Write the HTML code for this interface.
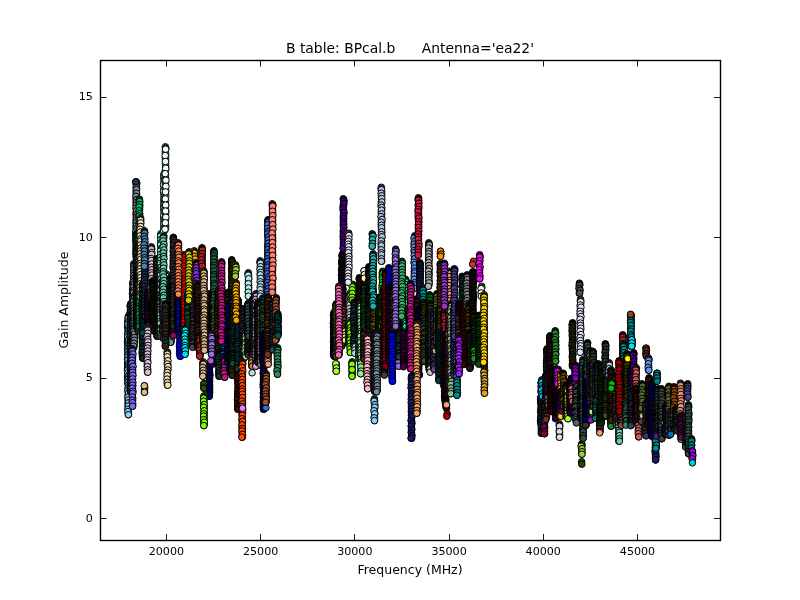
<!DOCTYPE html>
<html><head><meta charset="utf-8"><title>B table: BPcal.b Antenna='ea22'</title>
<style>
html,body{margin:0;padding:0;background:#fff;width:800px;height:600px;overflow:hidden}
svg{display:block}
circle{r:3.3px}
text{font-family:"DejaVu Sans","Liberation Sans",sans-serif;fill:#000}
</style></head><body>
<svg width="800" height="600" viewBox="0 0 800 600">
<rect width="800" height="600" fill="#fff"/>
<svg x="100" y="60" width="620" height="480" viewBox="100 60 620 480" overflow="hidden">
<g stroke="#000" stroke-width="1">
<g fill="#003030"><circle cx="128.0" cy="321.3"/><circle cx="127.9" cy="322.1"/><circle cx="128.3" cy="322.9"/><circle cx="128.4" cy="323.7"/><circle cx="127.9" cy="324.6"/><circle cx="127.6" cy="327.0"/><circle cx="128.2" cy="328.5"/><circle cx="128.4" cy="329.0"/><circle cx="128.3" cy="331.0"/><circle cx="128.3" cy="332.0"/><circle cx="128.3" cy="333.9"/><circle cx="127.8" cy="334.8"/><circle cx="127.9" cy="336.6"/><circle cx="127.8" cy="337.6"/><circle cx="128.0" cy="339.9"/><circle cx="127.8" cy="341.1"/><circle cx="127.5" cy="342.1"/><circle cx="127.8" cy="343.6"/><circle cx="128.4" cy="345.6"/><circle cx="128.1" cy="346.8"/><circle cx="127.9" cy="347.9"/><circle cx="127.8" cy="349.5"/><circle cx="128.4" cy="350.6"/><circle cx="128.4" cy="351.8"/><circle cx="127.7" cy="354.2"/><circle cx="128.1" cy="354.8"/><circle cx="127.8" cy="355.9"/><circle cx="128.3" cy="358.4"/><circle cx="127.6" cy="359.4"/><circle cx="127.9" cy="360.5"/><circle cx="127.8" cy="362.4"/><circle cx="127.9" cy="364.0"/><circle cx="127.8" cy="364.5"/><circle cx="128.0" cy="366.2"/><circle cx="127.9" cy="367.4"/><circle cx="127.5" cy="368.8"/><circle cx="127.6" cy="370.5"/><circle cx="127.6" cy="371.9"/><circle cx="128.0" cy="373.9"/><circle cx="128.0" cy="375.3"/><circle cx="127.7" cy="376.9"/><circle cx="128.0" cy="378.2"/><circle cx="128.2" cy="378.9"/><circle cx="128.1" cy="380.6"/><circle cx="128.1" cy="382.5"/><circle cx="128.2" cy="383.5"/><circle cx="128.4" cy="385.0"/></g>
<g fill="#87cefa"><circle cx="128.6" cy="315.8"/><circle cx="128.5" cy="316.6"/><circle cx="128.4" cy="317.4"/><circle cx="128.3" cy="318.2"/><circle cx="128.1" cy="320.2"/><circle cx="128.3" cy="322.2"/><circle cx="128.4" cy="324.2"/><circle cx="128.5" cy="326.2"/><circle cx="128.2" cy="328.3"/><circle cx="128.4" cy="330.3"/><circle cx="128.3" cy="332.3"/><circle cx="128.3" cy="334.3"/><circle cx="128.5" cy="336.3"/><circle cx="128.2" cy="338.3"/><circle cx="128.1" cy="340.3"/><circle cx="128.1" cy="342.3"/><circle cx="128.2" cy="344.3"/><circle cx="128.2" cy="346.3"/><circle cx="128.3" cy="348.4"/><circle cx="128.4" cy="350.4"/><circle cx="128.4" cy="352.4"/><circle cx="128.3" cy="354.4"/><circle cx="128.1" cy="356.4"/><circle cx="128.4" cy="358.4"/><circle cx="128.4" cy="360.4"/><circle cx="128.4" cy="362.4"/><circle cx="128.2" cy="364.4"/><circle cx="128.3" cy="366.4"/><circle cx="128.1" cy="368.5"/><circle cx="128.3" cy="370.5"/><circle cx="128.4" cy="372.5"/><circle cx="128.1" cy="374.5"/><circle cx="128.4" cy="376.5"/><circle cx="128.5" cy="378.5"/><circle cx="128.4" cy="380.5"/><circle cx="128.4" cy="382.5"/><circle cx="128.4" cy="384.5"/><circle cx="128.4" cy="386.6"/><circle cx="128.4" cy="388.6"/><circle cx="128.1" cy="390.6"/><circle cx="128.5" cy="392.6"/><circle cx="128.1" cy="394.6"/><circle cx="128.3" cy="396.6"/><circle cx="128.1" cy="398.6"/><circle cx="128.2" cy="400.6"/><circle cx="128.1" cy="402.6"/><circle cx="128.1" cy="404.6"/><circle cx="128.2" cy="406.7"/><circle cx="128.3" cy="408.7"/><circle cx="128.4" cy="410.7"/><circle cx="128.4" cy="412.7"/><circle cx="128.4" cy="414.7"/><circle cx="128.2" cy="318.2"/><circle cx="128.6" cy="321.2"/><circle cx="127.9" cy="324.2"/><circle cx="128.8" cy="326.8"/><circle cx="128.7" cy="330.3"/><circle cx="128.1" cy="333.5"/><circle cx="127.9" cy="336.5"/><circle cx="128.7" cy="339.5"/><circle cx="128.4" cy="342.9"/><circle cx="128.3" cy="345.3"/><circle cx="128.1" cy="348.6"/><circle cx="128.3" cy="351.1"/><circle cx="128.0" cy="354.5"/><circle cx="128.0" cy="357.0"/><circle cx="127.9" cy="360.1"/><circle cx="128.7" cy="363.4"/><circle cx="128.6" cy="366.5"/><circle cx="127.9" cy="369.7"/><circle cx="127.9" cy="372.9"/><circle cx="128.6" cy="375.7"/><circle cx="128.5" cy="378.9"/><circle cx="128.1" cy="382.1"/><circle cx="128.5" cy="384.7"/><circle cx="128.2" cy="387.9"/><circle cx="127.9" cy="390.4"/><circle cx="128.5" cy="393.0"/><circle cx="128.0" cy="397.2"/><circle cx="128.6" cy="399.8"/><circle cx="128.7" cy="402.8"/><circle cx="128.3" cy="406.0"/><circle cx="127.9" cy="409.3"/><circle cx="127.9" cy="411.6"/><circle cx="128.4" cy="414.7"/></g>
<g fill="#1c2c2c"><circle cx="130.7" cy="303.8"/><circle cx="130.8" cy="304.6"/><circle cx="130.3" cy="305.4"/><circle cx="130.6" cy="306.2"/><circle cx="130.6" cy="308.2"/><circle cx="130.5" cy="310.2"/><circle cx="130.6" cy="312.3"/><circle cx="130.3" cy="314.3"/><circle cx="130.5" cy="316.3"/><circle cx="130.6" cy="318.3"/><circle cx="130.6" cy="320.4"/><circle cx="130.4" cy="322.4"/><circle cx="130.7" cy="324.4"/><circle cx="130.7" cy="326.4"/><circle cx="130.6" cy="328.5"/><circle cx="130.5" cy="330.5"/><circle cx="130.3" cy="332.5"/><circle cx="130.4" cy="334.5"/><circle cx="130.7" cy="336.6"/><circle cx="130.7" cy="338.6"/><circle cx="130.4" cy="340.6"/><circle cx="130.3" cy="342.6"/><circle cx="130.3" cy="344.7"/><circle cx="130.5" cy="346.7"/><circle cx="130.6" cy="348.7"/><circle cx="130.6" cy="350.7"/><circle cx="130.3" cy="352.7"/><circle cx="130.4" cy="354.8"/><circle cx="130.5" cy="356.8"/><circle cx="130.5" cy="358.8"/><circle cx="130.4" cy="360.8"/><circle cx="130.5" cy="362.9"/><circle cx="130.4" cy="364.9"/><circle cx="130.4" cy="366.9"/><circle cx="130.3" cy="368.9"/><circle cx="130.7" cy="371.0"/><circle cx="130.3" cy="373.0"/><circle cx="130.4" cy="375.0"/><circle cx="130.6" cy="377.0"/><circle cx="130.4" cy="379.1"/><circle cx="130.5" cy="381.1"/><circle cx="130.4" cy="383.1"/><circle cx="130.4" cy="385.1"/><circle cx="130.5" cy="387.2"/><circle cx="130.3" cy="389.2"/><circle cx="130.6" cy="391.2"/><circle cx="130.2" cy="306.2"/><circle cx="130.8" cy="308.7"/><circle cx="130.1" cy="312.6"/><circle cx="131.0" cy="315.5"/><circle cx="130.5" cy="318.3"/><circle cx="130.9" cy="321.9"/><circle cx="130.7" cy="324.4"/><circle cx="130.1" cy="327.8"/><circle cx="130.2" cy="330.6"/><circle cx="130.1" cy="333.6"/><circle cx="130.1" cy="336.6"/><circle cx="130.9" cy="339.7"/><circle cx="130.8" cy="342.1"/><circle cx="130.0" cy="345.5"/><circle cx="130.2" cy="348.9"/><circle cx="130.9" cy="351.6"/><circle cx="130.7" cy="355.0"/><circle cx="130.7" cy="357.8"/><circle cx="130.8" cy="360.7"/><circle cx="130.5" cy="363.6"/><circle cx="130.6" cy="366.5"/><circle cx="130.8" cy="369.6"/><circle cx="130.2" cy="373.4"/><circle cx="130.9" cy="375.7"/><circle cx="130.8" cy="378.8"/><circle cx="130.3" cy="381.7"/><circle cx="130.4" cy="385.7"/><circle cx="130.5" cy="387.6"/><circle cx="130.8" cy="391.2"/></g>
<g fill="#22393a"><circle cx="132.8" cy="282.6"/><circle cx="133.2" cy="283.4"/><circle cx="133.0" cy="284.2"/><circle cx="133.2" cy="285.0"/><circle cx="133.4" cy="286.8"/><circle cx="133.0" cy="288.0"/><circle cx="132.6" cy="289.1"/><circle cx="133.0" cy="290.7"/><circle cx="132.7" cy="292.1"/><circle cx="133.3" cy="293.5"/><circle cx="132.5" cy="293.9"/><circle cx="132.8" cy="296.3"/><circle cx="133.1" cy="297.7"/><circle cx="133.4" cy="298.3"/><circle cx="133.1" cy="299.8"/><circle cx="132.8" cy="301.6"/><circle cx="132.5" cy="302.3"/><circle cx="133.2" cy="303.7"/><circle cx="133.4" cy="304.9"/><circle cx="133.5" cy="306.0"/><circle cx="132.8" cy="307.7"/><circle cx="132.6" cy="309.7"/><circle cx="132.8" cy="310.5"/><circle cx="132.5" cy="312.1"/><circle cx="133.0" cy="313.6"/><circle cx="132.6" cy="314.5"/><circle cx="133.3" cy="315.9"/><circle cx="132.6" cy="317.4"/><circle cx="132.7" cy="318.8"/><circle cx="132.9" cy="320.2"/><circle cx="132.8" cy="320.9"/><circle cx="133.2" cy="323.2"/><circle cx="132.7" cy="323.8"/><circle cx="132.8" cy="325.7"/><circle cx="132.7" cy="326.5"/><circle cx="133.0" cy="327.5"/><circle cx="133.0" cy="329.9"/><circle cx="133.1" cy="330.9"/><circle cx="133.3" cy="332.1"/><circle cx="133.0" cy="332.8"/><circle cx="133.3" cy="334.8"/><circle cx="133.1" cy="336.4"/><circle cx="133.2" cy="336.9"/><circle cx="132.7" cy="338.8"/><circle cx="133.3" cy="340.4"/><circle cx="133.2" cy="341.0"/><circle cx="132.5" cy="343.4"/><circle cx="133.3" cy="344.6"/><circle cx="133.1" cy="345.8"/><circle cx="133.5" cy="347.4"/><circle cx="132.9" cy="348.2"/></g>
<g fill="#778899"><circle cx="133.8" cy="263.8"/><circle cx="134.0" cy="264.6"/><circle cx="134.0" cy="265.4"/><circle cx="134.0" cy="266.2"/><circle cx="134.1" cy="268.2"/><circle cx="133.9" cy="270.2"/><circle cx="134.1" cy="272.2"/><circle cx="133.9" cy="274.2"/><circle cx="133.9" cy="276.2"/><circle cx="133.9" cy="278.2"/><circle cx="133.8" cy="280.2"/><circle cx="134.1" cy="282.2"/><circle cx="133.9" cy="284.2"/><circle cx="133.8" cy="286.2"/><circle cx="133.9" cy="288.2"/><circle cx="133.8" cy="290.2"/><circle cx="134.0" cy="292.2"/><circle cx="134.0" cy="294.2"/><circle cx="133.8" cy="296.2"/><circle cx="134.0" cy="298.2"/><circle cx="134.2" cy="300.2"/><circle cx="133.9" cy="302.2"/><circle cx="134.0" cy="304.2"/><circle cx="133.8" cy="306.2"/><circle cx="133.9" cy="308.2"/><circle cx="133.9" cy="310.2"/><circle cx="134.0" cy="312.2"/><circle cx="134.1" cy="314.2"/><circle cx="134.2" cy="316.2"/><circle cx="134.2" cy="318.2"/><circle cx="133.9" cy="320.2"/><circle cx="134.0" cy="322.2"/><circle cx="133.8" cy="324.2"/><circle cx="134.1" cy="326.2"/><circle cx="134.0" cy="328.2"/><circle cx="134.1" cy="330.2"/><circle cx="134.0" cy="332.2"/><circle cx="134.1" cy="334.2"/><circle cx="134.2" cy="336.2"/><circle cx="133.8" cy="338.2"/><circle cx="134.2" cy="340.2"/><circle cx="134.0" cy="342.2"/><circle cx="133.9" cy="344.2"/><circle cx="134.0" cy="346.2"/><circle cx="134.0" cy="266.2"/><circle cx="133.7" cy="269.4"/><circle cx="134.0" cy="272.1"/><circle cx="133.6" cy="275.5"/><circle cx="134.3" cy="278.1"/><circle cx="133.8" cy="281.5"/><circle cx="134.0" cy="284.3"/><circle cx="133.8" cy="287.0"/><circle cx="134.0" cy="290.4"/><circle cx="133.6" cy="292.5"/><circle cx="134.5" cy="295.9"/><circle cx="134.4" cy="298.2"/><circle cx="133.5" cy="301.7"/><circle cx="133.9" cy="304.9"/><circle cx="134.1" cy="307.8"/><circle cx="134.2" cy="310.3"/><circle cx="134.4" cy="313.1"/><circle cx="134.1" cy="316.9"/><circle cx="134.3" cy="320.1"/><circle cx="134.0" cy="323.0"/><circle cx="134.0" cy="325.7"/><circle cx="134.3" cy="328.0"/><circle cx="133.8" cy="331.6"/><circle cx="134.4" cy="334.0"/><circle cx="134.3" cy="337.6"/><circle cx="134.4" cy="340.3"/><circle cx="134.0" cy="343.3"/><circle cx="133.6" cy="346.2"/></g>
<g fill="#778899"><circle cx="136.1" cy="181.8"/><circle cx="136.5" cy="182.6"/><circle cx="136.6" cy="183.4"/><circle cx="136.3" cy="184.2"/><circle cx="136.4" cy="186.3"/><circle cx="136.4" cy="188.3"/><circle cx="136.2" cy="190.4"/><circle cx="136.2" cy="192.4"/><circle cx="136.4" cy="194.5"/><circle cx="136.3" cy="196.5"/><circle cx="136.2" cy="198.6"/><circle cx="136.2" cy="200.7"/><circle cx="136.2" cy="202.7"/><circle cx="136.3" cy="204.8"/><circle cx="136.4" cy="206.8"/><circle cx="136.4" cy="208.9"/><circle cx="136.5" cy="210.9"/><circle cx="136.1" cy="213.0"/><circle cx="136.2" cy="215.1"/><circle cx="136.3" cy="217.1"/><circle cx="136.3" cy="219.2"/><circle cx="136.1" cy="221.2"/><circle cx="136.2" cy="223.3"/><circle cx="136.2" cy="225.3"/><circle cx="136.1" cy="227.4"/><circle cx="136.3" cy="229.5"/><circle cx="136.3" cy="231.5"/><circle cx="136.1" cy="233.6"/><circle cx="136.2" cy="235.6"/><circle cx="136.1" cy="237.7"/><circle cx="136.5" cy="239.7"/><circle cx="136.2" cy="241.8"/><circle cx="136.3" cy="243.9"/><circle cx="136.3" cy="245.9"/><circle cx="136.3" cy="248.0"/><circle cx="136.2" cy="250.0"/><circle cx="136.4" cy="252.1"/><circle cx="136.1" cy="254.1"/><circle cx="136.3" cy="256.2"/><circle cx="136.6" cy="184.2"/><circle cx="136.2" cy="187.6"/><circle cx="136.6" cy="189.6"/><circle cx="136.6" cy="193.3"/><circle cx="135.9" cy="196.3"/><circle cx="136.5" cy="199.6"/><circle cx="136.6" cy="202.2"/><circle cx="136.2" cy="205.2"/><circle cx="136.0" cy="208.1"/><circle cx="136.6" cy="210.7"/><circle cx="136.6" cy="214.7"/><circle cx="136.4" cy="217.4"/><circle cx="136.7" cy="219.8"/><circle cx="136.3" cy="222.6"/><circle cx="136.4" cy="225.8"/><circle cx="136.5" cy="229.0"/><circle cx="135.8" cy="231.9"/><circle cx="136.0" cy="235.1"/><circle cx="136.2" cy="238.8"/><circle cx="136.0" cy="241.0"/><circle cx="136.4" cy="244.1"/><circle cx="136.2" cy="247.6"/><circle cx="136.4" cy="250.2"/><circle cx="136.2" cy="253.3"/><circle cx="136.6" cy="256.2"/></g>
<g fill="#2a3440"><circle cx="135.8" cy="181.8"/></g>
<g fill="#0a3020"><circle cx="136.8" cy="233.8"/><circle cx="136.4" cy="234.6"/><circle cx="136.2" cy="235.4"/><circle cx="136.6" cy="236.2"/><circle cx="136.4" cy="238.2"/><circle cx="136.4" cy="240.3"/><circle cx="136.7" cy="242.3"/><circle cx="136.4" cy="244.4"/><circle cx="136.4" cy="246.4"/><circle cx="136.6" cy="248.5"/><circle cx="136.3" cy="250.5"/><circle cx="136.7" cy="252.6"/><circle cx="136.6" cy="254.6"/><circle cx="136.4" cy="256.7"/><circle cx="136.4" cy="258.7"/><circle cx="136.4" cy="260.7"/><circle cx="136.4" cy="262.8"/><circle cx="136.5" cy="264.8"/><circle cx="136.6" cy="266.9"/><circle cx="136.7" cy="268.9"/><circle cx="136.4" cy="271.0"/><circle cx="136.6" cy="273.0"/><circle cx="136.4" cy="275.1"/><circle cx="136.4" cy="277.1"/><circle cx="136.4" cy="279.2"/><circle cx="136.5" cy="281.2"/><circle cx="136.6" cy="283.2"/><circle cx="136.6" cy="285.3"/><circle cx="136.6" cy="287.3"/><circle cx="136.6" cy="289.4"/><circle cx="136.7" cy="291.4"/><circle cx="136.3" cy="293.5"/><circle cx="136.4" cy="295.5"/><circle cx="136.6" cy="297.6"/><circle cx="136.5" cy="299.6"/><circle cx="136.5" cy="301.7"/><circle cx="136.6" cy="303.7"/><circle cx="136.7" cy="305.7"/><circle cx="136.4" cy="307.8"/><circle cx="136.5" cy="309.8"/><circle cx="136.4" cy="311.9"/><circle cx="136.4" cy="313.9"/><circle cx="136.4" cy="316.0"/><circle cx="136.3" cy="318.0"/><circle cx="136.3" cy="320.1"/><circle cx="136.7" cy="322.1"/><circle cx="136.5" cy="324.2"/><circle cx="136.4" cy="326.2"/><circle cx="136.7" cy="236.2"/><circle cx="136.1" cy="239.6"/><circle cx="136.6" cy="242.7"/><circle cx="136.7" cy="245.0"/><circle cx="136.7" cy="248.2"/><circle cx="136.3" cy="251.3"/><circle cx="136.1" cy="253.7"/><circle cx="136.7" cy="257.6"/><circle cx="136.9" cy="259.8"/><circle cx="136.4" cy="263.1"/><circle cx="136.1" cy="266.3"/><circle cx="136.4" cy="269.5"/><circle cx="136.2" cy="271.7"/><circle cx="136.2" cy="275.2"/><circle cx="136.5" cy="278.3"/><circle cx="136.3" cy="280.7"/><circle cx="136.8" cy="284.1"/><circle cx="136.9" cy="287.3"/><circle cx="136.5" cy="290.0"/><circle cx="136.2" cy="293.4"/><circle cx="136.6" cy="295.8"/><circle cx="136.4" cy="298.8"/><circle cx="136.3" cy="302.0"/><circle cx="136.3" cy="305.0"/><circle cx="136.5" cy="307.6"/><circle cx="136.9" cy="311.2"/><circle cx="136.7" cy="314.1"/><circle cx="137.0" cy="317.7"/><circle cx="136.9" cy="320.6"/><circle cx="136.3" cy="323.0"/><circle cx="136.1" cy="326.2"/></g>
<g fill="#341907"><circle cx="138.1" cy="267.3"/><circle cx="137.9" cy="268.1"/><circle cx="137.9" cy="268.9"/><circle cx="138.3" cy="269.7"/><circle cx="138.4" cy="271.7"/><circle cx="138.3" cy="272.3"/><circle cx="138.2" cy="273.7"/><circle cx="137.6" cy="275.1"/><circle cx="137.9" cy="276.7"/><circle cx="137.9" cy="278.8"/><circle cx="138.4" cy="279.4"/><circle cx="138.0" cy="281.9"/><circle cx="137.8" cy="283.4"/><circle cx="138.4" cy="284.8"/><circle cx="137.5" cy="286.4"/><circle cx="137.7" cy="287.5"/><circle cx="138.3" cy="289.0"/><circle cx="137.5" cy="289.9"/><circle cx="138.5" cy="291.8"/><circle cx="138.1" cy="293.2"/><circle cx="138.5" cy="294.8"/><circle cx="138.2" cy="295.9"/><circle cx="138.3" cy="298.1"/><circle cx="138.4" cy="299.1"/><circle cx="137.9" cy="300.8"/><circle cx="138.3" cy="301.8"/><circle cx="137.6" cy="303.6"/><circle cx="138.1" cy="304.4"/><circle cx="138.3" cy="305.8"/><circle cx="138.4" cy="307.4"/><circle cx="138.3" cy="309.0"/><circle cx="138.5" cy="310.3"/><circle cx="137.5" cy="312.2"/><circle cx="138.3" cy="313.7"/><circle cx="137.8" cy="315.2"/><circle cx="137.8" cy="316.9"/><circle cx="137.7" cy="317.7"/><circle cx="138.0" cy="320.1"/><circle cx="138.4" cy="321.2"/><circle cx="138.4" cy="322.8"/><circle cx="138.0" cy="323.4"/><circle cx="138.3" cy="325.8"/><circle cx="138.4" cy="326.3"/><circle cx="138.1" cy="328.6"/><circle cx="138.4" cy="329.8"/><circle cx="138.4" cy="331.3"/></g>
<g fill="#00b860"><circle cx="139.4" cy="199.2"/><circle cx="139.3" cy="200.0"/><circle cx="139.3" cy="200.8"/><circle cx="139.5" cy="201.6"/><circle cx="139.4" cy="203.6"/><circle cx="139.7" cy="205.6"/><circle cx="139.6" cy="207.6"/><circle cx="139.6" cy="209.6"/><circle cx="139.4" cy="211.6"/><circle cx="139.6" cy="213.7"/><circle cx="139.5" cy="215.7"/><circle cx="139.6" cy="217.7"/><circle cx="139.5" cy="219.7"/><circle cx="139.6" cy="221.7"/><circle cx="139.4" cy="223.7"/><circle cx="139.6" cy="225.7"/><circle cx="139.6" cy="227.7"/><circle cx="139.6" cy="229.7"/><circle cx="139.3" cy="231.7"/><circle cx="139.6" cy="233.8"/><circle cx="139.7" cy="235.8"/><circle cx="139.5" cy="237.8"/><circle cx="139.6" cy="239.8"/><circle cx="139.3" cy="241.8"/><circle cx="139.4" cy="243.8"/><circle cx="139.4" cy="245.8"/><circle cx="139.3" cy="247.8"/><circle cx="139.7" cy="249.8"/><circle cx="139.6" cy="251.8"/><circle cx="139.3" cy="253.9"/><circle cx="139.5" cy="255.9"/><circle cx="139.4" cy="257.9"/><circle cx="139.5" cy="259.9"/><circle cx="139.5" cy="261.9"/><circle cx="139.6" cy="263.9"/><circle cx="139.6" cy="265.9"/><circle cx="139.5" cy="267.9"/><circle cx="139.4" cy="269.9"/><circle cx="139.7" cy="271.9"/><circle cx="139.3" cy="273.9"/><circle cx="139.6" cy="276.0"/><circle cx="139.5" cy="278.0"/><circle cx="139.7" cy="280.0"/><circle cx="139.7" cy="282.0"/><circle cx="139.7" cy="284.0"/><circle cx="139.6" cy="286.0"/><circle cx="139.3" cy="288.0"/><circle cx="139.5" cy="290.0"/><circle cx="139.4" cy="292.0"/><circle cx="139.4" cy="294.0"/><circle cx="139.4" cy="296.1"/><circle cx="139.5" cy="298.1"/><circle cx="139.4" cy="300.1"/><circle cx="139.7" cy="302.1"/><circle cx="139.6" cy="304.1"/><circle cx="139.5" cy="306.1"/><circle cx="139.7" cy="308.1"/><circle cx="139.5" cy="310.1"/><circle cx="139.3" cy="312.1"/><circle cx="139.7" cy="314.1"/><circle cx="139.6" cy="316.2"/><circle cx="139.6" cy="318.2"/><circle cx="139.5" cy="320.2"/><circle cx="139.5" cy="322.2"/><circle cx="139.5" cy="324.2"/><circle cx="139.4" cy="326.2"/><circle cx="139.8" cy="201.6"/><circle cx="139.6" cy="204.5"/><circle cx="139.1" cy="207.0"/><circle cx="139.1" cy="210.8"/><circle cx="139.6" cy="213.6"/><circle cx="139.1" cy="216.0"/><circle cx="139.1" cy="219.2"/><circle cx="139.3" cy="222.6"/><circle cx="139.1" cy="225.4"/><circle cx="139.7" cy="227.8"/><circle cx="139.8" cy="231.5"/><circle cx="139.7" cy="233.8"/><circle cx="139.4" cy="237.0"/><circle cx="139.1" cy="239.7"/><circle cx="139.5" cy="242.6"/><circle cx="139.3" cy="246.7"/><circle cx="139.4" cy="249.0"/><circle cx="140.0" cy="252.5"/><circle cx="139.5" cy="254.7"/><circle cx="139.9" cy="257.8"/><circle cx="139.1" cy="260.5"/><circle cx="139.2" cy="264.1"/><circle cx="139.4" cy="266.8"/><circle cx="139.8" cy="269.3"/><circle cx="139.9" cy="272.4"/><circle cx="139.4" cy="276.1"/><circle cx="139.7" cy="278.7"/><circle cx="139.7" cy="281.4"/><circle cx="139.1" cy="284.6"/><circle cx="140.0" cy="287.6"/><circle cx="139.2" cy="290.9"/><circle cx="139.2" cy="294.0"/><circle cx="139.1" cy="296.7"/><circle cx="139.9" cy="299.7"/><circle cx="139.7" cy="301.9"/><circle cx="139.8" cy="305.9"/><circle cx="139.4" cy="308.3"/><circle cx="139.7" cy="311.4"/><circle cx="139.1" cy="314.7"/><circle cx="139.6" cy="317.2"/><circle cx="139.4" cy="320.7"/><circle cx="139.9" cy="322.7"/><circle cx="139.6" cy="326.2"/></g>
<g fill="#f5deb3"><circle cx="140.5" cy="217.8"/><circle cx="140.5" cy="218.6"/><circle cx="140.4" cy="219.4"/><circle cx="140.6" cy="220.2"/><circle cx="140.7" cy="222.3"/><circle cx="140.5" cy="224.3"/><circle cx="140.4" cy="226.4"/><circle cx="140.4" cy="228.4"/><circle cx="140.4" cy="230.5"/><circle cx="140.7" cy="232.5"/><circle cx="140.7" cy="234.6"/><circle cx="140.4" cy="236.6"/><circle cx="140.7" cy="238.7"/><circle cx="140.7" cy="240.7"/><circle cx="140.5" cy="242.8"/><circle cx="140.5" cy="244.8"/><circle cx="140.5" cy="246.9"/><circle cx="140.3" cy="249.0"/><circle cx="140.6" cy="251.0"/><circle cx="140.5" cy="253.1"/><circle cx="140.3" cy="255.1"/><circle cx="140.5" cy="257.2"/><circle cx="140.4" cy="259.2"/><circle cx="140.3" cy="261.3"/><circle cx="140.7" cy="263.3"/><circle cx="140.6" cy="265.4"/><circle cx="140.3" cy="267.4"/><circle cx="140.5" cy="269.5"/><circle cx="140.7" cy="271.6"/><circle cx="140.6" cy="273.6"/><circle cx="140.5" cy="275.7"/><circle cx="140.5" cy="277.7"/><circle cx="140.5" cy="279.8"/><circle cx="140.3" cy="281.8"/><circle cx="140.3" cy="283.9"/><circle cx="140.4" cy="285.9"/><circle cx="140.4" cy="288.0"/><circle cx="140.5" cy="290.0"/><circle cx="140.5" cy="292.1"/><circle cx="140.5" cy="294.1"/><circle cx="140.5" cy="296.2"/><circle cx="140.5" cy="220.2"/><circle cx="140.7" cy="223.0"/><circle cx="140.7" cy="226.5"/><circle cx="140.1" cy="229.3"/><circle cx="140.2" cy="232.1"/><circle cx="140.1" cy="235.9"/><circle cx="140.6" cy="238.9"/><circle cx="140.8" cy="240.9"/><circle cx="140.5" cy="245.0"/><circle cx="140.9" cy="248.0"/><circle cx="140.5" cy="251.0"/><circle cx="140.8" cy="253.4"/><circle cx="140.2" cy="256.9"/><circle cx="140.9" cy="259.2"/><circle cx="140.8" cy="263.3"/><circle cx="140.8" cy="265.4"/><circle cx="140.3" cy="268.8"/><circle cx="140.0" cy="271.8"/><circle cx="140.7" cy="274.6"/><circle cx="140.6" cy="277.6"/><circle cx="140.7" cy="280.8"/><circle cx="140.7" cy="283.5"/><circle cx="140.2" cy="287.0"/><circle cx="140.4" cy="290.3"/><circle cx="140.4" cy="293.5"/><circle cx="140.3" cy="296.2"/></g>
<g fill="#0e2a2a"><circle cx="142.7" cy="283.8"/><circle cx="142.4" cy="284.6"/><circle cx="142.7" cy="285.4"/><circle cx="142.4" cy="286.2"/><circle cx="142.7" cy="288.2"/><circle cx="142.6" cy="290.2"/><circle cx="142.7" cy="292.2"/><circle cx="142.4" cy="294.2"/><circle cx="142.3" cy="296.2"/><circle cx="142.5" cy="298.2"/><circle cx="142.7" cy="300.2"/><circle cx="142.5" cy="302.2"/><circle cx="142.3" cy="304.2"/><circle cx="142.6" cy="306.2"/><circle cx="142.3" cy="308.2"/><circle cx="142.7" cy="310.2"/><circle cx="142.6" cy="312.2"/><circle cx="142.5" cy="314.2"/><circle cx="142.3" cy="316.2"/><circle cx="142.5" cy="318.2"/><circle cx="142.4" cy="320.2"/><circle cx="142.3" cy="322.2"/><circle cx="142.7" cy="324.2"/><circle cx="142.3" cy="326.2"/><circle cx="142.3" cy="328.2"/><circle cx="142.7" cy="330.2"/><circle cx="142.7" cy="332.2"/><circle cx="142.5" cy="334.2"/><circle cx="142.3" cy="336.2"/><circle cx="142.3" cy="338.2"/><circle cx="142.6" cy="340.2"/><circle cx="142.5" cy="342.2"/><circle cx="142.6" cy="344.2"/><circle cx="142.6" cy="346.2"/><circle cx="142.6" cy="348.2"/><circle cx="142.5" cy="350.2"/><circle cx="142.4" cy="352.2"/><circle cx="142.3" cy="354.2"/><circle cx="142.4" cy="356.2"/><circle cx="142.7" cy="358.2"/><circle cx="142.7" cy="286.2"/><circle cx="143.0" cy="288.6"/><circle cx="142.2" cy="292.1"/><circle cx="142.3" cy="295.3"/><circle cx="143.0" cy="297.9"/><circle cx="142.2" cy="301.2"/><circle cx="142.7" cy="303.7"/><circle cx="142.0" cy="306.7"/><circle cx="142.4" cy="310.1"/><circle cx="142.8" cy="312.8"/><circle cx="142.2" cy="315.6"/><circle cx="142.7" cy="319.5"/><circle cx="142.4" cy="322.1"/><circle cx="142.5" cy="325.2"/><circle cx="142.8" cy="328.5"/><circle cx="143.0" cy="331.2"/><circle cx="142.7" cy="333.9"/><circle cx="142.3" cy="337.6"/><circle cx="142.7" cy="339.7"/><circle cx="142.4" cy="342.7"/><circle cx="142.5" cy="346.7"/><circle cx="142.4" cy="348.8"/><circle cx="142.2" cy="352.5"/><circle cx="142.9" cy="355.6"/><circle cx="142.8" cy="358.2"/></g>
<g fill="#004e4e"><circle cx="142.9" cy="287.1"/><circle cx="142.7" cy="287.9"/><circle cx="143.3" cy="288.7"/><circle cx="142.7" cy="289.5"/><circle cx="142.6" cy="290.3"/><circle cx="143.4" cy="292.5"/><circle cx="143.1" cy="293.2"/><circle cx="142.8" cy="294.5"/><circle cx="143.4" cy="296.2"/><circle cx="143.3" cy="296.8"/><circle cx="142.9" cy="298.8"/><circle cx="142.8" cy="299.8"/><circle cx="143.1" cy="301.7"/><circle cx="143.1" cy="302.9"/><circle cx="142.7" cy="303.8"/><circle cx="142.6" cy="305.8"/><circle cx="143.1" cy="306.0"/><circle cx="143.1" cy="307.4"/><circle cx="142.9" cy="309.7"/><circle cx="142.9" cy="311.0"/><circle cx="142.7" cy="312.0"/><circle cx="142.8" cy="312.9"/><circle cx="143.5" cy="314.5"/><circle cx="143.0" cy="316.3"/><circle cx="142.7" cy="317.4"/><circle cx="143.5" cy="318.1"/><circle cx="143.2" cy="320.2"/><circle cx="143.3" cy="321.0"/><circle cx="143.4" cy="322.8"/><circle cx="143.4" cy="323.4"/><circle cx="143.2" cy="325.3"/><circle cx="143.1" cy="326.1"/><circle cx="142.7" cy="327.8"/><circle cx="142.8" cy="329.3"/><circle cx="142.8" cy="330.1"/><circle cx="143.3" cy="331.8"/><circle cx="143.0" cy="332.8"/></g>
<g fill="#deb887"><circle cx="144.5" cy="385.8"/><circle cx="144.7" cy="387.9"/><circle cx="144.5" cy="390.1"/><circle cx="144.6" cy="392.2"/><circle cx="144.3" cy="385.8"/><circle cx="144.4" cy="392.2"/></g>
<g fill="#1a2a40"><circle cx="144.9" cy="253.8"/><circle cx="145.0" cy="254.6"/><circle cx="145.2" cy="255.4"/><circle cx="144.9" cy="256.2"/><circle cx="145.0" cy="258.2"/><circle cx="145.0" cy="260.2"/><circle cx="144.9" cy="262.2"/><circle cx="145.0" cy="264.2"/><circle cx="145.1" cy="266.2"/><circle cx="145.1" cy="268.2"/><circle cx="144.8" cy="270.2"/><circle cx="144.9" cy="272.2"/><circle cx="145.0" cy="274.2"/><circle cx="144.9" cy="276.2"/><circle cx="145.1" cy="278.2"/><circle cx="145.1" cy="280.2"/><circle cx="145.0" cy="282.2"/><circle cx="144.8" cy="284.2"/><circle cx="144.9" cy="286.2"/><circle cx="144.9" cy="288.2"/><circle cx="145.0" cy="290.2"/><circle cx="145.0" cy="292.2"/><circle cx="144.9" cy="294.2"/><circle cx="145.1" cy="296.2"/><circle cx="145.2" cy="298.2"/><circle cx="145.0" cy="300.2"/><circle cx="145.2" cy="302.2"/><circle cx="145.1" cy="304.2"/><circle cx="145.1" cy="306.2"/><circle cx="144.8" cy="308.2"/><circle cx="145.0" cy="310.2"/><circle cx="145.0" cy="312.2"/><circle cx="145.1" cy="314.2"/><circle cx="144.9" cy="316.2"/><circle cx="145.0" cy="256.2"/><circle cx="145.1" cy="259.8"/><circle cx="145.2" cy="262.5"/><circle cx="145.2" cy="264.7"/><circle cx="145.3" cy="268.1"/><circle cx="144.6" cy="271.0"/><circle cx="144.8" cy="274.0"/><circle cx="144.5" cy="277.1"/><circle cx="144.6" cy="279.9"/><circle cx="145.0" cy="283.2"/><circle cx="144.5" cy="286.4"/><circle cx="145.0" cy="289.7"/><circle cx="145.3" cy="292.6"/><circle cx="144.5" cy="295.7"/><circle cx="144.9" cy="297.8"/><circle cx="145.2" cy="300.7"/><circle cx="144.5" cy="304.4"/><circle cx="145.3" cy="307.1"/><circle cx="144.5" cy="310.4"/><circle cx="144.8" cy="313.4"/><circle cx="145.2" cy="316.2"/></g>
<g fill="#420042"><circle cx="148.2" cy="291.4"/><circle cx="148.2" cy="292.2"/><circle cx="147.8" cy="293.0"/><circle cx="147.7" cy="293.8"/><circle cx="147.7" cy="295.1"/><circle cx="148.1" cy="295.7"/><circle cx="147.7" cy="297.5"/><circle cx="147.9" cy="298.7"/><circle cx="147.5" cy="299.0"/><circle cx="148.1" cy="300.0"/><circle cx="148.1" cy="301.7"/><circle cx="147.6" cy="303.2"/><circle cx="148.2" cy="304.3"/><circle cx="148.0" cy="305.6"/><circle cx="148.3" cy="306.2"/><circle cx="148.1" cy="307.4"/><circle cx="148.4" cy="308.8"/><circle cx="148.1" cy="309.1"/><circle cx="147.7" cy="310.9"/><circle cx="147.5" cy="311.9"/><circle cx="148.2" cy="312.5"/><circle cx="148.1" cy="313.9"/><circle cx="147.7" cy="314.6"/><circle cx="148.0" cy="316.4"/><circle cx="148.4" cy="318.0"/><circle cx="147.6" cy="318.0"/><circle cx="148.4" cy="319.9"/><circle cx="148.0" cy="320.5"/><circle cx="147.9" cy="322.1"/><circle cx="148.0" cy="323.0"/><circle cx="148.2" cy="324.1"/><circle cx="148.2" cy="325.3"/></g>
<g fill="#d8bfd8"><circle cx="151.4" cy="246.8"/><circle cx="151.4" cy="247.6"/><circle cx="151.4" cy="248.4"/><circle cx="151.6" cy="249.2"/><circle cx="151.4" cy="251.2"/><circle cx="151.4" cy="253.3"/><circle cx="151.5" cy="255.3"/><circle cx="151.6" cy="257.4"/><circle cx="151.3" cy="259.4"/><circle cx="151.6" cy="261.5"/><circle cx="151.5" cy="263.5"/><circle cx="151.7" cy="265.5"/><circle cx="151.5" cy="267.6"/><circle cx="151.5" cy="269.6"/><circle cx="151.5" cy="271.7"/><circle cx="151.6" cy="273.7"/><circle cx="151.5" cy="275.8"/><circle cx="151.4" cy="277.8"/><circle cx="151.6" cy="279.9"/><circle cx="151.7" cy="281.9"/><circle cx="151.4" cy="283.9"/><circle cx="151.6" cy="286.0"/><circle cx="151.5" cy="288.0"/><circle cx="151.5" cy="290.1"/><circle cx="151.4" cy="292.1"/><circle cx="151.7" cy="294.2"/><circle cx="151.7" cy="296.2"/><circle cx="151.4" cy="249.2"/><circle cx="151.8" cy="252.5"/><circle cx="151.6" cy="254.5"/><circle cx="151.0" cy="258.5"/><circle cx="151.2" cy="260.5"/><circle cx="151.5" cy="264.0"/><circle cx="151.4" cy="267.2"/><circle cx="151.8" cy="269.8"/><circle cx="151.4" cy="272.8"/><circle cx="151.8" cy="275.1"/><circle cx="151.4" cy="278.7"/><circle cx="151.4" cy="282.1"/><circle cx="151.3" cy="284.8"/><circle cx="151.0" cy="287.5"/><circle cx="151.7" cy="290.4"/><circle cx="151.9" cy="293.4"/><circle cx="151.8" cy="296.2"/></g>
<g fill="#002700"><circle cx="152.9" cy="280.8"/><circle cx="153.1" cy="281.6"/><circle cx="152.8" cy="282.4"/><circle cx="152.6" cy="283.2"/><circle cx="152.8" cy="284.2"/><circle cx="153.4" cy="285.7"/><circle cx="152.5" cy="287.3"/><circle cx="153.1" cy="289.6"/><circle cx="153.3" cy="290.1"/><circle cx="153.0" cy="292.4"/><circle cx="153.2" cy="293.1"/><circle cx="153.2" cy="294.2"/><circle cx="153.0" cy="296.1"/><circle cx="152.9" cy="298.2"/><circle cx="153.3" cy="299.4"/><circle cx="153.1" cy="300.2"/><circle cx="152.6" cy="302.4"/><circle cx="152.9" cy="303.2"/><circle cx="153.2" cy="304.8"/><circle cx="153.1" cy="306.8"/><circle cx="152.8" cy="307.3"/><circle cx="153.4" cy="309.0"/><circle cx="153.2" cy="311.1"/><circle cx="152.6" cy="312.6"/><circle cx="152.7" cy="313.9"/><circle cx="152.6" cy="314.7"/><circle cx="153.3" cy="316.2"/><circle cx="153.0" cy="317.8"/><circle cx="153.4" cy="318.8"/><circle cx="153.1" cy="321.1"/><circle cx="153.3" cy="322.8"/><circle cx="153.3" cy="324.2"/><circle cx="153.0" cy="325.5"/><circle cx="152.6" cy="326.7"/><circle cx="152.6" cy="328.5"/><circle cx="153.3" cy="330.0"/><circle cx="153.3" cy="330.9"/></g>
<g fill="#2a1a10"><circle cx="157.0" cy="258.8"/><circle cx="157.1" cy="259.6"/><circle cx="156.8" cy="260.4"/><circle cx="157.0" cy="261.2"/><circle cx="157.1" cy="263.2"/><circle cx="157.1" cy="265.3"/><circle cx="156.9" cy="267.3"/><circle cx="156.8" cy="269.3"/><circle cx="157.2" cy="271.3"/><circle cx="156.9" cy="273.4"/><circle cx="156.9" cy="275.4"/><circle cx="157.0" cy="277.4"/><circle cx="156.9" cy="279.4"/><circle cx="156.8" cy="281.5"/><circle cx="157.1" cy="283.5"/><circle cx="157.2" cy="285.5"/><circle cx="156.9" cy="287.6"/><circle cx="156.8" cy="289.6"/><circle cx="157.0" cy="291.6"/><circle cx="157.2" cy="293.6"/><circle cx="156.9" cy="295.7"/><circle cx="156.8" cy="297.7"/><circle cx="157.0" cy="299.7"/><circle cx="157.1" cy="301.7"/><circle cx="156.9" cy="303.8"/><circle cx="157.1" cy="305.8"/><circle cx="156.9" cy="307.8"/><circle cx="157.1" cy="309.8"/><circle cx="156.9" cy="311.9"/><circle cx="157.2" cy="313.9"/><circle cx="157.1" cy="315.9"/><circle cx="157.0" cy="318.0"/><circle cx="157.1" cy="320.0"/><circle cx="157.1" cy="322.0"/><circle cx="156.9" cy="324.0"/><circle cx="157.0" cy="326.1"/><circle cx="156.9" cy="328.1"/><circle cx="157.1" cy="330.1"/><circle cx="157.1" cy="332.1"/><circle cx="157.2" cy="334.2"/><circle cx="157.0" cy="336.2"/><circle cx="156.7" cy="261.2"/><circle cx="156.5" cy="264.7"/><circle cx="157.2" cy="267.4"/><circle cx="157.3" cy="270.7"/><circle cx="157.2" cy="273.3"/><circle cx="156.7" cy="276.2"/><circle cx="156.6" cy="279.5"/><circle cx="156.9" cy="282.1"/><circle cx="157.1" cy="284.9"/><circle cx="157.2" cy="288.4"/><circle cx="157.1" cy="291.5"/><circle cx="156.7" cy="294.1"/><circle cx="157.3" cy="297.8"/><circle cx="157.4" cy="300.6"/><circle cx="157.5" cy="303.2"/><circle cx="156.7" cy="306.6"/><circle cx="156.9" cy="309.3"/><circle cx="157.2" cy="312.6"/><circle cx="157.3" cy="315.8"/><circle cx="157.0" cy="318.4"/><circle cx="156.6" cy="320.6"/><circle cx="156.5" cy="324.7"/><circle cx="156.8" cy="327.5"/><circle cx="156.6" cy="330.8"/><circle cx="157.2" cy="333.0"/><circle cx="157.3" cy="336.2"/></g>
<g fill="#4d0000"><circle cx="157.9" cy="280.6"/><circle cx="157.9" cy="281.4"/><circle cx="157.9" cy="282.2"/><circle cx="157.9" cy="283.0"/><circle cx="158.0" cy="284.3"/><circle cx="157.8" cy="286.1"/><circle cx="157.8" cy="287.9"/><circle cx="158.3" cy="289.6"/><circle cx="157.9" cy="290.3"/><circle cx="157.8" cy="291.4"/><circle cx="157.9" cy="293.9"/><circle cx="158.5" cy="294.7"/><circle cx="158.3" cy="296.4"/><circle cx="158.5" cy="297.5"/><circle cx="158.2" cy="299.1"/><circle cx="157.8" cy="301.3"/><circle cx="158.2" cy="301.9"/><circle cx="157.6" cy="303.6"/><circle cx="158.1" cy="305.7"/><circle cx="158.2" cy="307.4"/><circle cx="157.8" cy="307.9"/><circle cx="158.4" cy="310.5"/><circle cx="158.2" cy="310.9"/><circle cx="157.5" cy="312.5"/><circle cx="158.0" cy="313.9"/><circle cx="158.5" cy="315.8"/><circle cx="157.5" cy="317.8"/><circle cx="158.4" cy="318.7"/><circle cx="158.3" cy="320.4"/><circle cx="157.7" cy="322.1"/><circle cx="157.5" cy="323.1"/><circle cx="157.6" cy="324.5"/><circle cx="158.0" cy="326.7"/><circle cx="158.3" cy="327.9"/><circle cx="158.0" cy="329.0"/><circle cx="158.0" cy="330.9"/></g>
<g fill="#7fffd4"><circle cx="160.9" cy="233.8"/><circle cx="161.1" cy="234.6"/><circle cx="161.0" cy="235.4"/><circle cx="161.0" cy="236.2"/><circle cx="161.1" cy="238.2"/><circle cx="161.1" cy="240.3"/><circle cx="160.8" cy="242.3"/><circle cx="160.8" cy="244.4"/><circle cx="161.1" cy="246.4"/><circle cx="161.0" cy="248.4"/><circle cx="161.0" cy="250.5"/><circle cx="161.0" cy="252.5"/><circle cx="160.9" cy="254.6"/><circle cx="161.1" cy="256.6"/><circle cx="160.9" cy="258.6"/><circle cx="161.2" cy="260.7"/><circle cx="160.8" cy="262.7"/><circle cx="161.0" cy="264.8"/><circle cx="161.0" cy="266.8"/><circle cx="161.0" cy="268.9"/><circle cx="160.9" cy="270.9"/><circle cx="161.0" cy="272.9"/><circle cx="160.9" cy="275.0"/><circle cx="161.1" cy="277.0"/><circle cx="161.2" cy="279.1"/><circle cx="160.9" cy="281.1"/><circle cx="160.8" cy="283.1"/><circle cx="161.0" cy="285.2"/><circle cx="161.1" cy="287.2"/><circle cx="161.0" cy="289.3"/><circle cx="161.0" cy="291.3"/><circle cx="160.9" cy="293.3"/><circle cx="160.9" cy="295.4"/><circle cx="161.1" cy="297.4"/><circle cx="160.9" cy="299.5"/><circle cx="161.0" cy="301.5"/><circle cx="160.9" cy="303.5"/><circle cx="161.1" cy="305.6"/><circle cx="160.9" cy="307.6"/><circle cx="161.0" cy="309.7"/><circle cx="160.9" cy="311.7"/><circle cx="161.0" cy="313.8"/><circle cx="160.9" cy="315.8"/><circle cx="160.9" cy="317.8"/><circle cx="161.0" cy="319.9"/><circle cx="160.9" cy="321.9"/><circle cx="160.9" cy="324.0"/><circle cx="161.1" cy="326.0"/><circle cx="161.0" cy="328.0"/><circle cx="161.1" cy="330.1"/><circle cx="161.2" cy="332.1"/><circle cx="160.9" cy="334.2"/><circle cx="160.9" cy="336.2"/><circle cx="160.6" cy="236.2"/><circle cx="161.0" cy="239.4"/><circle cx="161.0" cy="242.7"/><circle cx="160.6" cy="244.9"/><circle cx="161.4" cy="248.3"/><circle cx="160.6" cy="250.9"/><circle cx="160.7" cy="254.4"/><circle cx="160.6" cy="257.5"/><circle cx="160.8" cy="260.2"/><circle cx="160.6" cy="263.3"/><circle cx="161.2" cy="267.1"/><circle cx="161.4" cy="270.0"/><circle cx="160.9" cy="273.0"/><circle cx="160.6" cy="275.1"/><circle cx="161.1" cy="278.7"/><circle cx="161.5" cy="281.9"/><circle cx="160.7" cy="284.2"/><circle cx="161.4" cy="287.1"/><circle cx="160.6" cy="290.6"/><circle cx="161.5" cy="293.4"/><circle cx="161.3" cy="296.5"/><circle cx="161.4" cy="300.3"/><circle cx="161.0" cy="302.5"/><circle cx="161.3" cy="305.6"/><circle cx="160.8" cy="309.2"/><circle cx="160.9" cy="312.0"/><circle cx="160.6" cy="314.5"/><circle cx="160.5" cy="318.4"/><circle cx="160.5" cy="321.2"/><circle cx="160.6" cy="323.5"/><circle cx="161.2" cy="327.6"/><circle cx="160.9" cy="329.6"/><circle cx="161.1" cy="333.0"/><circle cx="161.4" cy="336.2"/></g>
<g fill="#523e7a"><circle cx="162.8" cy="281.9"/><circle cx="163.2" cy="282.7"/><circle cx="162.9" cy="283.5"/><circle cx="162.7" cy="284.3"/><circle cx="163.2" cy="286.2"/><circle cx="162.8" cy="288.0"/><circle cx="162.9" cy="289.4"/><circle cx="162.7" cy="291.3"/><circle cx="162.8" cy="293.1"/><circle cx="163.1" cy="294.9"/><circle cx="163.1" cy="296.4"/><circle cx="163.2" cy="298.3"/><circle cx="162.8" cy="300.4"/><circle cx="162.9" cy="301.7"/><circle cx="162.7" cy="303.2"/><circle cx="163.2" cy="305.7"/><circle cx="162.7" cy="307.2"/><circle cx="162.7" cy="308.9"/><circle cx="162.6" cy="310.7"/><circle cx="163.2" cy="312.7"/><circle cx="162.8" cy="313.5"/><circle cx="163.0" cy="315.5"/><circle cx="163.3" cy="317.6"/><circle cx="162.9" cy="319.2"/><circle cx="163.3" cy="320.7"/><circle cx="163.4" cy="322.6"/><circle cx="163.5" cy="325.1"/><circle cx="162.6" cy="326.8"/><circle cx="163.0" cy="328.5"/><circle cx="163.1" cy="329.8"/><circle cx="162.5" cy="331.6"/><circle cx="163.3" cy="333.3"/><circle cx="163.2" cy="335.6"/><circle cx="163.0" cy="336.6"/><circle cx="163.4" cy="338.6"/></g>
<g fill="#f0ffff"><circle cx="164.2" cy="173.8"/><circle cx="164.2" cy="174.6"/><circle cx="164.0" cy="175.4"/><circle cx="164.1" cy="176.2"/><circle cx="163.8" cy="178.2"/><circle cx="164.1" cy="180.3"/><circle cx="164.1" cy="182.3"/><circle cx="164.0" cy="184.3"/><circle cx="164.0" cy="186.4"/><circle cx="164.2" cy="188.4"/><circle cx="163.8" cy="190.5"/><circle cx="163.8" cy="192.5"/><circle cx="164.0" cy="194.5"/><circle cx="164.1" cy="196.6"/><circle cx="164.0" cy="198.6"/><circle cx="164.1" cy="200.6"/><circle cx="163.9" cy="202.7"/><circle cx="163.8" cy="204.7"/><circle cx="163.9" cy="206.8"/><circle cx="163.8" cy="208.8"/><circle cx="164.0" cy="210.8"/><circle cx="164.1" cy="212.9"/><circle cx="164.2" cy="214.9"/><circle cx="163.9" cy="216.9"/><circle cx="163.9" cy="219.0"/><circle cx="164.1" cy="221.0"/><circle cx="164.2" cy="223.1"/><circle cx="164.0" cy="225.1"/><circle cx="163.9" cy="227.1"/><circle cx="164.0" cy="229.2"/><circle cx="164.1" cy="231.2"/><circle cx="164.1" cy="176.2"/><circle cx="163.6" cy="184.5"/><circle cx="163.6" cy="191.5"/><circle cx="164.3" cy="199.7"/><circle cx="164.1" cy="207.9"/><circle cx="163.9" cy="215.6"/><circle cx="163.9" cy="223.6"/><circle cx="163.7" cy="231.2"/></g>
<g fill="#f0f0f0"><circle cx="166.0" cy="273.8"/><circle cx="165.8" cy="274.6"/><circle cx="166.2" cy="275.4"/><circle cx="166.0" cy="276.2"/><circle cx="166.1" cy="278.2"/><circle cx="165.8" cy="280.2"/><circle cx="166.0" cy="282.2"/><circle cx="166.0" cy="284.2"/><circle cx="166.1" cy="286.2"/><circle cx="165.9" cy="288.2"/><circle cx="166.0" cy="276.2"/><circle cx="166.0" cy="282.6"/><circle cx="166.0" cy="288.2"/></g>
<g fill="#004200"><circle cx="168.3" cy="278.9"/><circle cx="167.9" cy="279.7"/><circle cx="168.2" cy="280.5"/><circle cx="167.7" cy="281.3"/><circle cx="168.0" cy="281.9"/><circle cx="168.0" cy="283.3"/><circle cx="167.9" cy="285.2"/><circle cx="167.9" cy="286.0"/><circle cx="168.3" cy="287.1"/><circle cx="167.9" cy="287.9"/><circle cx="167.8" cy="289.5"/><circle cx="168.0" cy="290.9"/><circle cx="168.2" cy="291.9"/><circle cx="168.2" cy="292.8"/><circle cx="168.2" cy="294.2"/><circle cx="167.7" cy="295.7"/><circle cx="168.2" cy="297.0"/><circle cx="167.9" cy="298.0"/><circle cx="168.0" cy="299.1"/><circle cx="168.0" cy="300.0"/><circle cx="168.2" cy="301.7"/><circle cx="168.1" cy="302.2"/><circle cx="168.5" cy="303.8"/><circle cx="168.0" cy="305.5"/><circle cx="167.7" cy="306.6"/><circle cx="168.1" cy="308.0"/><circle cx="167.9" cy="308.9"/><circle cx="168.1" cy="310.2"/><circle cx="167.8" cy="311.0"/><circle cx="167.6" cy="311.9"/><circle cx="167.6" cy="313.7"/><circle cx="168.4" cy="314.2"/><circle cx="167.9" cy="315.9"/><circle cx="168.4" cy="316.6"/><circle cx="168.0" cy="317.7"/><circle cx="168.5" cy="319.4"/><circle cx="168.3" cy="320.2"/><circle cx="167.8" cy="321.7"/><circle cx="168.5" cy="322.8"/><circle cx="168.4" cy="323.6"/><circle cx="168.3" cy="325.0"/><circle cx="168.3" cy="326.0"/><circle cx="167.5" cy="327.5"/><circle cx="168.3" cy="328.3"/><circle cx="168.5" cy="330.0"/><circle cx="167.5" cy="331.6"/><circle cx="167.7" cy="332.7"/><circle cx="168.2" cy="334.1"/><circle cx="167.9" cy="334.7"/></g>
<g fill="#5f9ea0"><circle cx="171.3" cy="333.8"/><circle cx="170.7" cy="334.6"/><circle cx="170.8" cy="335.4"/><circle cx="171.1" cy="336.2"/><circle cx="170.9" cy="338.2"/><circle cx="171.0" cy="340.2"/><circle cx="171.0" cy="342.2"/><circle cx="171.1" cy="336.2"/><circle cx="171.1" cy="339.7"/><circle cx="170.5" cy="342.2"/></g>
<g fill="#860e5a"><circle cx="172.9" cy="281.8"/><circle cx="172.8" cy="282.6"/><circle cx="172.9" cy="283.4"/><circle cx="173.4" cy="284.2"/><circle cx="173.1" cy="285.7"/><circle cx="173.1" cy="286.5"/><circle cx="173.4" cy="287.8"/><circle cx="173.2" cy="289.2"/><circle cx="173.5" cy="290.0"/><circle cx="173.5" cy="291.4"/><circle cx="172.9" cy="292.6"/><circle cx="172.6" cy="293.8"/><circle cx="173.0" cy="294.9"/><circle cx="173.1" cy="296.2"/><circle cx="173.0" cy="298.0"/><circle cx="173.0" cy="298.3"/><circle cx="172.9" cy="299.6"/><circle cx="173.4" cy="301.4"/><circle cx="172.8" cy="302.0"/><circle cx="173.1" cy="304.1"/><circle cx="173.5" cy="305.0"/><circle cx="173.4" cy="306.7"/><circle cx="172.6" cy="307.1"/><circle cx="172.8" cy="308.2"/><circle cx="173.5" cy="310.1"/><circle cx="173.5" cy="311.2"/><circle cx="172.9" cy="312.6"/><circle cx="172.7" cy="313.2"/><circle cx="172.8" cy="315.1"/><circle cx="173.2" cy="315.8"/><circle cx="173.3" cy="316.6"/><circle cx="172.7" cy="318.0"/><circle cx="172.7" cy="319.9"/><circle cx="173.4" cy="320.3"/><circle cx="172.7" cy="322.0"/><circle cx="172.7" cy="322.9"/><circle cx="173.0" cy="324.5"/><circle cx="173.2" cy="326.1"/><circle cx="172.5" cy="326.6"/><circle cx="172.7" cy="328.7"/><circle cx="173.2" cy="329.5"/><circle cx="172.6" cy="331.2"/><circle cx="172.5" cy="332.3"/><circle cx="173.1" cy="332.8"/><circle cx="172.8" cy="334.6"/><circle cx="173.4" cy="335.5"/></g>
<g fill="#2a2a2a"><circle cx="173.4" cy="237.3"/><circle cx="173.2" cy="238.1"/><circle cx="173.5" cy="238.9"/><circle cx="173.5" cy="239.7"/><circle cx="173.4" cy="241.7"/><circle cx="173.5" cy="243.7"/><circle cx="173.6" cy="245.7"/><circle cx="173.3" cy="247.7"/><circle cx="173.6" cy="249.8"/><circle cx="173.5" cy="251.8"/><circle cx="173.6" cy="253.8"/><circle cx="173.5" cy="255.8"/><circle cx="173.4" cy="257.8"/><circle cx="173.4" cy="259.8"/><circle cx="173.3" cy="261.8"/><circle cx="173.5" cy="263.8"/><circle cx="173.6" cy="265.9"/><circle cx="173.3" cy="267.9"/><circle cx="173.6" cy="269.9"/><circle cx="173.6" cy="271.9"/><circle cx="173.3" cy="273.9"/><circle cx="173.5" cy="275.9"/><circle cx="173.5" cy="277.9"/><circle cx="173.4" cy="279.9"/><circle cx="173.7" cy="281.9"/><circle cx="173.5" cy="284.0"/><circle cx="173.6" cy="286.0"/><circle cx="173.3" cy="288.0"/><circle cx="173.3" cy="290.0"/><circle cx="173.3" cy="292.0"/><circle cx="173.5" cy="294.0"/><circle cx="173.6" cy="296.0"/><circle cx="173.7" cy="298.0"/><circle cx="173.4" cy="300.0"/><circle cx="173.6" cy="302.1"/><circle cx="173.4" cy="304.1"/><circle cx="173.6" cy="306.1"/><circle cx="173.6" cy="308.1"/><circle cx="173.6" cy="310.1"/><circle cx="173.5" cy="312.1"/><circle cx="173.4" cy="314.1"/><circle cx="173.6" cy="316.1"/><circle cx="173.7" cy="318.2"/><circle cx="173.5" cy="320.2"/><circle cx="173.4" cy="322.2"/><circle cx="173.6" cy="324.2"/><circle cx="173.7" cy="326.2"/><circle cx="173.6" cy="239.7"/><circle cx="173.6" cy="242.7"/><circle cx="173.6" cy="245.5"/><circle cx="173.9" cy="249.2"/><circle cx="173.2" cy="251.2"/><circle cx="173.3" cy="255.1"/><circle cx="173.7" cy="257.7"/><circle cx="173.4" cy="260.6"/><circle cx="173.3" cy="264.1"/><circle cx="173.0" cy="266.8"/><circle cx="173.6" cy="269.7"/><circle cx="173.1" cy="272.4"/><circle cx="173.2" cy="275.2"/><circle cx="173.8" cy="278.2"/><circle cx="173.0" cy="281.3"/><circle cx="173.6" cy="284.9"/><circle cx="173.5" cy="287.1"/><circle cx="173.4" cy="289.9"/><circle cx="173.3" cy="293.7"/><circle cx="173.4" cy="296.7"/><circle cx="173.1" cy="299.2"/><circle cx="173.7" cy="301.8"/><circle cx="173.3" cy="305.3"/><circle cx="173.8" cy="308.7"/><circle cx="173.5" cy="310.8"/><circle cx="173.9" cy="314.4"/><circle cx="173.8" cy="317.7"/><circle cx="173.1" cy="319.8"/><circle cx="173.7" cy="323.5"/><circle cx="173.7" cy="326.2"/></g>
<g fill="#000036"><circle cx="178.3" cy="289.9"/><circle cx="177.7" cy="290.7"/><circle cx="178.0" cy="291.5"/><circle cx="177.8" cy="292.3"/><circle cx="178.2" cy="293.8"/><circle cx="177.5" cy="295.0"/><circle cx="178.1" cy="295.8"/><circle cx="178.4" cy="297.8"/><circle cx="178.4" cy="299.0"/><circle cx="178.3" cy="300.5"/><circle cx="177.7" cy="301.6"/><circle cx="177.9" cy="302.1"/><circle cx="177.6" cy="303.7"/><circle cx="178.2" cy="304.7"/><circle cx="178.4" cy="306.0"/><circle cx="178.3" cy="307.4"/><circle cx="178.1" cy="308.8"/><circle cx="178.2" cy="311.0"/><circle cx="177.6" cy="311.5"/><circle cx="177.6" cy="312.6"/><circle cx="178.2" cy="314.8"/><circle cx="177.6" cy="315.9"/><circle cx="178.1" cy="316.7"/><circle cx="178.2" cy="318.7"/><circle cx="177.7" cy="319.9"/><circle cx="177.7" cy="320.2"/><circle cx="177.9" cy="322.2"/><circle cx="178.1" cy="323.4"/><circle cx="178.0" cy="325.0"/><circle cx="177.8" cy="326.2"/><circle cx="178.2" cy="327.7"/><circle cx="177.6" cy="328.0"/><circle cx="178.2" cy="330.4"/><circle cx="177.6" cy="331.1"/></g>
<g fill="#0000ff"><circle cx="179.7" cy="301.8"/><circle cx="179.7" cy="302.6"/><circle cx="179.9" cy="303.4"/><circle cx="179.9" cy="304.2"/><circle cx="180.0" cy="306.2"/><circle cx="180.2" cy="308.2"/><circle cx="179.9" cy="310.2"/><circle cx="180.0" cy="312.2"/><circle cx="179.8" cy="314.2"/><circle cx="180.1" cy="316.2"/><circle cx="180.0" cy="318.2"/><circle cx="179.9" cy="320.2"/><circle cx="180.0" cy="322.2"/><circle cx="180.1" cy="324.2"/><circle cx="179.9" cy="326.2"/><circle cx="180.0" cy="328.2"/><circle cx="179.9" cy="330.2"/><circle cx="180.1" cy="332.2"/><circle cx="180.2" cy="334.2"/><circle cx="180.0" cy="336.2"/><circle cx="180.0" cy="338.2"/><circle cx="180.1" cy="340.2"/><circle cx="180.1" cy="342.2"/><circle cx="179.9" cy="344.2"/><circle cx="179.9" cy="346.2"/><circle cx="180.2" cy="348.2"/><circle cx="179.9" cy="350.2"/><circle cx="180.2" cy="352.2"/><circle cx="180.1" cy="354.2"/><circle cx="180.1" cy="356.2"/><circle cx="179.8" cy="304.2"/><circle cx="180.1" cy="306.8"/><circle cx="179.8" cy="309.9"/><circle cx="179.5" cy="313.8"/><circle cx="179.8" cy="316.3"/><circle cx="180.0" cy="319.4"/><circle cx="179.5" cy="322.1"/><circle cx="179.6" cy="326.1"/><circle cx="180.4" cy="328.3"/><circle cx="180.1" cy="332.3"/><circle cx="179.9" cy="334.4"/><circle cx="180.0" cy="337.3"/><circle cx="180.3" cy="341.5"/><circle cx="179.6" cy="344.3"/><circle cx="179.5" cy="346.6"/><circle cx="180.0" cy="349.9"/><circle cx="179.6" cy="353.3"/><circle cx="180.5" cy="356.2"/></g>
<g fill="#580000"><circle cx="183.0" cy="293.3"/><circle cx="182.9" cy="294.1"/><circle cx="183.1" cy="294.9"/><circle cx="183.4" cy="295.7"/><circle cx="182.7" cy="297.2"/><circle cx="182.5" cy="298.4"/><circle cx="183.4" cy="300.3"/><circle cx="183.4" cy="301.6"/><circle cx="183.0" cy="303.1"/><circle cx="183.3" cy="304.1"/><circle cx="182.9" cy="305.7"/><circle cx="183.3" cy="307.0"/><circle cx="183.1" cy="308.9"/><circle cx="182.9" cy="310.3"/><circle cx="183.2" cy="311.0"/><circle cx="183.4" cy="312.4"/><circle cx="182.7" cy="314.0"/><circle cx="182.7" cy="315.7"/><circle cx="183.2" cy="317.2"/><circle cx="183.4" cy="318.1"/><circle cx="182.9" cy="320.6"/><circle cx="182.6" cy="321.2"/><circle cx="183.4" cy="323.4"/><circle cx="183.2" cy="323.8"/><circle cx="182.9" cy="325.9"/><circle cx="183.4" cy="327.2"/><circle cx="182.9" cy="328.1"/><circle cx="182.6" cy="330.1"/><circle cx="183.1" cy="331.2"/><circle cx="182.7" cy="332.7"/><circle cx="183.5" cy="333.9"/><circle cx="182.7" cy="335.4"/><circle cx="182.6" cy="337.3"/></g>
<g fill="#ff0000"><circle cx="184.4" cy="254.8"/><circle cx="184.6" cy="255.6"/><circle cx="184.3" cy="256.4"/><circle cx="184.7" cy="257.2"/><circle cx="184.6" cy="259.2"/><circle cx="184.6" cy="261.3"/><circle cx="184.5" cy="263.3"/><circle cx="184.5" cy="265.3"/><circle cx="184.5" cy="267.3"/><circle cx="184.5" cy="269.4"/><circle cx="184.4" cy="271.4"/><circle cx="184.6" cy="273.4"/><circle cx="184.4" cy="275.5"/><circle cx="184.6" cy="277.5"/><circle cx="184.5" cy="279.5"/><circle cx="184.5" cy="281.5"/><circle cx="184.5" cy="283.6"/><circle cx="184.7" cy="285.6"/><circle cx="184.5" cy="287.6"/><circle cx="184.6" cy="289.7"/><circle cx="184.5" cy="291.7"/><circle cx="184.3" cy="293.7"/><circle cx="184.4" cy="295.7"/><circle cx="184.4" cy="297.8"/><circle cx="184.7" cy="299.8"/><circle cx="184.3" cy="301.8"/><circle cx="184.4" cy="303.9"/><circle cx="184.3" cy="305.9"/><circle cx="184.6" cy="307.9"/><circle cx="184.5" cy="309.9"/><circle cx="184.4" cy="312.0"/><circle cx="184.5" cy="314.0"/><circle cx="184.6" cy="316.0"/><circle cx="184.6" cy="318.1"/><circle cx="184.4" cy="320.1"/><circle cx="184.4" cy="322.1"/><circle cx="184.4" cy="324.1"/><circle cx="184.4" cy="326.2"/><circle cx="184.5" cy="328.2"/><circle cx="184.3" cy="257.2"/><circle cx="184.2" cy="260.1"/><circle cx="184.9" cy="262.9"/><circle cx="184.0" cy="266.1"/><circle cx="184.8" cy="268.7"/><circle cx="184.0" cy="271.6"/><circle cx="184.2" cy="275.2"/><circle cx="184.9" cy="278.2"/><circle cx="184.5" cy="281.1"/><circle cx="184.9" cy="283.6"/><circle cx="184.9" cy="287.1"/><circle cx="184.8" cy="289.5"/><circle cx="184.1" cy="292.9"/><circle cx="184.9" cy="295.2"/><circle cx="184.8" cy="298.8"/><circle cx="184.2" cy="301.5"/><circle cx="184.2" cy="304.1"/><circle cx="184.6" cy="307.0"/><circle cx="184.6" cy="310.9"/><circle cx="184.7" cy="313.4"/><circle cx="184.9" cy="316.6"/><circle cx="184.6" cy="319.0"/><circle cx="184.2" cy="322.1"/><circle cx="184.6" cy="325.2"/><circle cx="185.0" cy="328.2"/></g>
<g fill="#256e45"><circle cx="187.9" cy="294.1"/><circle cx="187.8" cy="294.9"/><circle cx="187.9" cy="295.7"/><circle cx="188.0" cy="296.5"/><circle cx="188.5" cy="297.9"/><circle cx="187.8" cy="299.7"/><circle cx="187.6" cy="301.0"/><circle cx="188.1" cy="302.1"/><circle cx="188.3" cy="304.1"/><circle cx="187.8" cy="305.1"/><circle cx="188.2" cy="306.7"/><circle cx="188.0" cy="307.7"/><circle cx="187.8" cy="309.0"/><circle cx="188.0" cy="311.4"/><circle cx="187.8" cy="312.2"/><circle cx="187.8" cy="313.4"/><circle cx="187.8" cy="314.8"/><circle cx="187.8" cy="317.3"/><circle cx="187.9" cy="317.7"/><circle cx="187.9" cy="319.1"/><circle cx="188.5" cy="321.1"/><circle cx="187.7" cy="322.9"/><circle cx="188.5" cy="324.3"/><circle cx="187.9" cy="325.8"/><circle cx="188.0" cy="327.3"/><circle cx="187.9" cy="328.7"/><circle cx="187.7" cy="329.3"/><circle cx="188.2" cy="331.5"/><circle cx="188.1" cy="332.1"/><circle cx="188.5" cy="334.1"/><circle cx="187.7" cy="335.3"/><circle cx="188.0" cy="336.8"/><circle cx="187.7" cy="338.5"/></g>
<g fill="#3f4851"><circle cx="192.9" cy="288.2"/><circle cx="192.8" cy="289.0"/><circle cx="193.0" cy="289.8"/><circle cx="192.6" cy="290.6"/><circle cx="193.4" cy="292.6"/><circle cx="193.4" cy="293.8"/><circle cx="193.5" cy="294.9"/><circle cx="193.0" cy="297.1"/><circle cx="192.6" cy="298.8"/><circle cx="192.9" cy="300.1"/><circle cx="193.1" cy="300.8"/><circle cx="193.3" cy="303.2"/><circle cx="193.2" cy="304.9"/><circle cx="192.6" cy="305.5"/><circle cx="192.9" cy="307.1"/><circle cx="193.4" cy="309.1"/><circle cx="192.6" cy="311.1"/><circle cx="192.7" cy="312.6"/><circle cx="193.2" cy="313.0"/><circle cx="192.9" cy="315.4"/><circle cx="193.3" cy="316.1"/><circle cx="193.4" cy="318.2"/><circle cx="193.3" cy="319.7"/><circle cx="193.3" cy="320.7"/><circle cx="193.1" cy="323.3"/><circle cx="193.4" cy="324.1"/><circle cx="193.4" cy="325.6"/><circle cx="193.2" cy="327.7"/><circle cx="193.1" cy="328.5"/><circle cx="192.7" cy="330.2"/><circle cx="192.9" cy="331.8"/><circle cx="193.0" cy="333.9"/><circle cx="193.0" cy="334.9"/><circle cx="193.1" cy="336.5"/><circle cx="192.6" cy="338.0"/><circle cx="193.3" cy="339.2"/><circle cx="192.9" cy="341.4"/><circle cx="193.4" cy="342.3"/><circle cx="192.8" cy="343.8"/><circle cx="192.8" cy="346.3"/><circle cx="192.6" cy="347.3"/></g>
<g fill="#ffa500"><circle cx="194.2" cy="250.8"/><circle cx="194.5" cy="251.6"/><circle cx="194.8" cy="252.4"/><circle cx="194.6" cy="253.2"/><circle cx="194.6" cy="255.4"/><circle cx="194.4" cy="257.5"/><circle cx="194.7" cy="259.7"/><circle cx="194.7" cy="261.9"/><circle cx="194.7" cy="264.0"/><circle cx="194.6" cy="266.2"/><circle cx="194.3" cy="253.2"/><circle cx="194.4" cy="256.4"/><circle cx="195.0" cy="259.1"/><circle cx="194.7" cy="262.9"/><circle cx="194.9" cy="266.2"/></g>
<g fill="#8a2be2"><circle cx="196.6" cy="262.8"/><circle cx="196.4" cy="263.6"/><circle cx="196.5" cy="264.4"/><circle cx="196.5" cy="265.2"/><circle cx="196.6" cy="267.2"/><circle cx="196.4" cy="269.3"/><circle cx="196.3" cy="271.3"/><circle cx="196.6" cy="273.4"/><circle cx="196.5" cy="275.4"/><circle cx="196.4" cy="277.4"/><circle cx="196.4" cy="279.5"/><circle cx="196.5" cy="281.5"/><circle cx="196.6" cy="283.6"/><circle cx="196.6" cy="285.6"/><circle cx="196.6" cy="287.6"/><circle cx="196.6" cy="289.7"/><circle cx="196.4" cy="291.7"/><circle cx="196.7" cy="293.8"/><circle cx="196.3" cy="295.8"/><circle cx="196.6" cy="297.8"/><circle cx="196.4" cy="299.9"/><circle cx="196.4" cy="301.9"/><circle cx="196.6" cy="304.0"/><circle cx="196.4" cy="306.0"/><circle cx="196.5" cy="308.0"/><circle cx="196.6" cy="310.1"/><circle cx="196.5" cy="312.1"/><circle cx="196.7" cy="314.2"/><circle cx="196.4" cy="316.2"/><circle cx="196.7" cy="265.2"/><circle cx="196.1" cy="267.8"/><circle cx="196.1" cy="270.9"/><circle cx="196.1" cy="273.7"/><circle cx="196.3" cy="277.4"/><circle cx="196.9" cy="280.5"/><circle cx="196.5" cy="283.3"/><circle cx="196.5" cy="285.7"/><circle cx="196.8" cy="289.0"/><circle cx="196.9" cy="291.7"/><circle cx="196.6" cy="295.5"/><circle cx="196.4" cy="297.6"/><circle cx="196.9" cy="301.0"/><circle cx="197.0" cy="304.0"/><circle cx="196.6" cy="307.0"/><circle cx="196.3" cy="309.6"/><circle cx="196.5" cy="313.1"/><circle cx="197.0" cy="316.2"/></g>
<g fill="#4c2715"><circle cx="198.2" cy="284.1"/><circle cx="198.0" cy="284.9"/><circle cx="198.2" cy="285.7"/><circle cx="197.6" cy="286.5"/><circle cx="197.8" cy="287.3"/><circle cx="197.9" cy="289.1"/><circle cx="198.5" cy="290.3"/><circle cx="198.4" cy="292.0"/><circle cx="197.6" cy="292.5"/><circle cx="198.4" cy="293.9"/><circle cx="197.6" cy="296.2"/><circle cx="197.5" cy="296.9"/><circle cx="198.1" cy="298.7"/><circle cx="197.5" cy="300.2"/><circle cx="198.0" cy="301.2"/><circle cx="198.0" cy="301.9"/><circle cx="198.4" cy="303.9"/><circle cx="198.2" cy="304.5"/><circle cx="198.0" cy="306.5"/><circle cx="198.1" cy="307.4"/><circle cx="198.2" cy="308.6"/><circle cx="198.5" cy="309.6"/><circle cx="198.2" cy="311.3"/><circle cx="198.0" cy="312.5"/><circle cx="197.7" cy="314.4"/><circle cx="198.5" cy="315.4"/><circle cx="198.2" cy="316.8"/><circle cx="197.6" cy="318.2"/><circle cx="198.1" cy="319.4"/><circle cx="198.2" cy="321.1"/><circle cx="198.3" cy="322.2"/><circle cx="198.3" cy="323.6"/><circle cx="197.6" cy="324.6"/><circle cx="198.1" cy="325.5"/><circle cx="198.0" cy="326.8"/><circle cx="197.6" cy="327.9"/><circle cx="197.9" cy="329.7"/><circle cx="198.2" cy="330.7"/><circle cx="198.2" cy="332.9"/><circle cx="198.2" cy="333.1"/><circle cx="197.6" cy="335.5"/><circle cx="198.4" cy="336.8"/><circle cx="198.0" cy="337.4"/><circle cx="197.6" cy="338.8"/><circle cx="198.1" cy="340.7"/><circle cx="197.7" cy="341.7"/><circle cx="197.8" cy="343.0"/><circle cx="197.5" cy="344.0"/><circle cx="197.7" cy="346.0"/><circle cx="198.0" cy="346.7"/><circle cx="198.2" cy="348.1"/></g>
<g fill="#b22222"><circle cx="200.1" cy="335.8"/><circle cx="200.2" cy="336.6"/><circle cx="200.1" cy="337.4"/><circle cx="200.0" cy="338.2"/><circle cx="200.1" cy="340.2"/><circle cx="199.9" cy="342.2"/><circle cx="199.8" cy="344.2"/><circle cx="200.1" cy="346.2"/><circle cx="199.8" cy="348.2"/><circle cx="200.0" cy="350.2"/><circle cx="199.8" cy="352.2"/><circle cx="200.1" cy="354.2"/><circle cx="200.0" cy="356.2"/><circle cx="199.7" cy="338.2"/><circle cx="199.5" cy="340.8"/><circle cx="200.5" cy="344.2"/><circle cx="200.0" cy="346.8"/><circle cx="199.5" cy="350.1"/><circle cx="200.2" cy="353.5"/><circle cx="199.7" cy="356.2"/></g>
<g fill="#b22222"><circle cx="202.1" cy="247.8"/><circle cx="201.9" cy="248.6"/><circle cx="201.9" cy="249.4"/><circle cx="201.9" cy="250.2"/><circle cx="202.1" cy="252.5"/><circle cx="202.0" cy="254.8"/><circle cx="202.1" cy="257.1"/><circle cx="202.1" cy="259.3"/><circle cx="202.2" cy="261.6"/><circle cx="201.9" cy="263.9"/><circle cx="202.2" cy="266.2"/><circle cx="202.3" cy="250.2"/><circle cx="202.2" cy="253.6"/><circle cx="201.7" cy="256.8"/><circle cx="201.6" cy="259.8"/><circle cx="201.6" cy="263.2"/><circle cx="202.2" cy="266.2"/></g>
<g fill="#6b350f"><circle cx="203.2" cy="295.2"/><circle cx="203.2" cy="296.0"/><circle cx="203.1" cy="296.8"/><circle cx="203.2" cy="297.6"/><circle cx="202.7" cy="298.5"/><circle cx="202.8" cy="301.0"/><circle cx="202.7" cy="301.7"/><circle cx="202.8" cy="303.9"/><circle cx="202.6" cy="305.3"/><circle cx="202.7" cy="306.2"/><circle cx="203.1" cy="308.2"/><circle cx="203.2" cy="310.1"/><circle cx="203.3" cy="311.1"/><circle cx="203.4" cy="312.4"/><circle cx="203.2" cy="314.6"/><circle cx="203.1" cy="315.7"/><circle cx="202.8" cy="317.3"/><circle cx="203.2" cy="318.9"/><circle cx="203.0" cy="320.4"/><circle cx="203.2" cy="321.5"/><circle cx="203.2" cy="323.4"/><circle cx="202.6" cy="324.6"/><circle cx="203.0" cy="325.6"/><circle cx="203.4" cy="327.3"/><circle cx="203.2" cy="328.6"/><circle cx="203.4" cy="330.6"/><circle cx="202.7" cy="331.7"/><circle cx="202.9" cy="334.0"/><circle cx="203.1" cy="334.5"/><circle cx="202.8" cy="336.9"/><circle cx="202.7" cy="338.1"/><circle cx="203.2" cy="338.9"/><circle cx="202.6" cy="341.6"/><circle cx="203.4" cy="342.5"/></g>
<g fill="#480d0d"><circle cx="207.7" cy="293.7"/><circle cx="208.2" cy="294.5"/><circle cx="207.8" cy="295.3"/><circle cx="208.4" cy="296.1"/><circle cx="208.2" cy="297.3"/><circle cx="208.4" cy="298.8"/><circle cx="207.6" cy="299.6"/><circle cx="208.4" cy="300.8"/><circle cx="208.3" cy="301.6"/><circle cx="208.0" cy="302.8"/><circle cx="207.5" cy="304.8"/><circle cx="207.8" cy="305.6"/><circle cx="208.5" cy="306.4"/><circle cx="208.3" cy="308.3"/><circle cx="208.4" cy="308.9"/><circle cx="208.2" cy="310.6"/><circle cx="208.0" cy="311.3"/><circle cx="208.4" cy="312.7"/><circle cx="208.0" cy="314.6"/><circle cx="207.5" cy="315.4"/><circle cx="207.8" cy="316.5"/><circle cx="207.7" cy="317.2"/><circle cx="207.6" cy="318.8"/><circle cx="207.6" cy="319.6"/><circle cx="207.8" cy="321.2"/><circle cx="208.2" cy="322.6"/><circle cx="208.3" cy="323.1"/><circle cx="208.2" cy="324.1"/><circle cx="207.7" cy="326.3"/><circle cx="207.9" cy="326.5"/><circle cx="208.5" cy="328.2"/><circle cx="207.8" cy="329.7"/><circle cx="208.1" cy="330.7"/><circle cx="208.2" cy="331.6"/><circle cx="207.8" cy="332.6"/><circle cx="207.6" cy="334.0"/><circle cx="208.2" cy="334.9"/><circle cx="208.4" cy="336.8"/><circle cx="208.2" cy="337.7"/><circle cx="208.4" cy="338.9"/><circle cx="208.5" cy="340.2"/><circle cx="207.9" cy="340.8"/><circle cx="208.2" cy="342.2"/><circle cx="207.6" cy="344.0"/><circle cx="207.5" cy="344.9"/><circle cx="207.7" cy="345.9"/><circle cx="208.0" cy="347.5"/><circle cx="208.1" cy="348.7"/><circle cx="208.5" cy="349.7"/></g>
<g fill="#000060"><circle cx="209.5" cy="363.8"/><circle cx="209.4" cy="364.6"/><circle cx="209.2" cy="365.4"/><circle cx="209.6" cy="366.2"/><circle cx="209.4" cy="368.2"/><circle cx="209.3" cy="370.2"/><circle cx="209.6" cy="372.2"/><circle cx="209.5" cy="374.2"/><circle cx="209.3" cy="376.2"/><circle cx="209.4" cy="378.2"/><circle cx="209.4" cy="380.2"/><circle cx="209.5" cy="382.2"/><circle cx="209.5" cy="384.2"/><circle cx="209.6" cy="386.2"/><circle cx="209.6" cy="388.2"/><circle cx="209.3" cy="390.2"/><circle cx="209.6" cy="392.2"/><circle cx="209.4" cy="394.2"/><circle cx="209.3" cy="396.2"/><circle cx="209.0" cy="366.2"/><circle cx="209.3" cy="369.0"/><circle cx="209.1" cy="371.9"/><circle cx="210.0" cy="375.3"/><circle cx="209.6" cy="378.3"/><circle cx="209.4" cy="381.4"/><circle cx="209.1" cy="384.6"/><circle cx="209.0" cy="386.6"/><circle cx="209.6" cy="390.4"/><circle cx="209.1" cy="393.0"/><circle cx="209.1" cy="396.2"/></g>
<g fill="#1f0037"><circle cx="212.9" cy="292.3"/><circle cx="213.0" cy="293.1"/><circle cx="212.8" cy="293.9"/><circle cx="212.9" cy="294.7"/><circle cx="213.5" cy="295.7"/><circle cx="213.5" cy="297.5"/><circle cx="213.4" cy="298.7"/><circle cx="213.4" cy="300.2"/><circle cx="212.9" cy="300.7"/><circle cx="213.2" cy="303.0"/><circle cx="213.0" cy="303.4"/><circle cx="212.5" cy="305.0"/><circle cx="213.2" cy="306.6"/><circle cx="213.3" cy="307.7"/><circle cx="213.1" cy="308.5"/><circle cx="213.0" cy="310.4"/><circle cx="212.7" cy="311.9"/><circle cx="212.6" cy="312.6"/><circle cx="213.3" cy="314.1"/><circle cx="212.8" cy="315.8"/><circle cx="213.4" cy="316.6"/><circle cx="213.2" cy="318.6"/><circle cx="212.6" cy="319.7"/><circle cx="212.9" cy="320.3"/><circle cx="212.8" cy="321.8"/><circle cx="213.3" cy="323.4"/><circle cx="213.2" cy="324.7"/><circle cx="213.4" cy="326.3"/><circle cx="213.2" cy="327.4"/><circle cx="213.4" cy="328.5"/><circle cx="212.5" cy="329.4"/><circle cx="212.7" cy="331.4"/><circle cx="212.6" cy="332.5"/><circle cx="213.0" cy="333.6"/><circle cx="213.1" cy="334.8"/><circle cx="213.3" cy="336.2"/><circle cx="212.5" cy="337.6"/><circle cx="212.8" cy="338.8"/><circle cx="212.9" cy="340.8"/><circle cx="213.5" cy="342.2"/><circle cx="213.0" cy="343.0"/><circle cx="212.8" cy="344.2"/><circle cx="213.3" cy="346.2"/><circle cx="213.4" cy="347.5"/><circle cx="212.7" cy="348.1"/><circle cx="212.6" cy="350.2"/><circle cx="213.0" cy="350.9"/><circle cx="213.4" cy="352.4"/><circle cx="213.2" cy="353.1"/><circle cx="212.9" cy="354.4"/><circle cx="212.9" cy="355.7"/><circle cx="213.2" cy="357.6"/><circle cx="212.7" cy="358.4"/><circle cx="213.5" cy="359.5"/><circle cx="213.3" cy="361.9"/><circle cx="212.9" cy="363.1"/><circle cx="212.9" cy="364.1"/></g>
<g fill="#1f5f3f"><circle cx="214.0" cy="250.8"/><circle cx="213.8" cy="251.6"/><circle cx="213.7" cy="252.4"/><circle cx="214.0" cy="253.2"/><circle cx="213.8" cy="255.2"/><circle cx="214.1" cy="257.2"/><circle cx="214.0" cy="259.3"/><circle cx="214.0" cy="261.3"/><circle cx="213.9" cy="263.3"/><circle cx="213.9" cy="265.3"/><circle cx="213.9" cy="267.4"/><circle cx="213.8" cy="269.4"/><circle cx="213.9" cy="271.4"/><circle cx="214.0" cy="273.4"/><circle cx="214.0" cy="275.5"/><circle cx="214.1" cy="277.5"/><circle cx="213.9" cy="279.5"/><circle cx="214.1" cy="281.5"/><circle cx="213.9" cy="283.6"/><circle cx="213.9" cy="285.6"/><circle cx="214.0" cy="287.6"/><circle cx="214.1" cy="289.6"/><circle cx="213.8" cy="291.7"/><circle cx="214.0" cy="293.7"/><circle cx="214.0" cy="295.7"/><circle cx="213.9" cy="297.7"/><circle cx="214.1" cy="299.8"/><circle cx="214.1" cy="301.8"/><circle cx="214.1" cy="303.8"/><circle cx="214.0" cy="305.8"/><circle cx="213.8" cy="307.9"/><circle cx="213.8" cy="309.9"/><circle cx="213.9" cy="311.9"/><circle cx="213.9" cy="313.9"/><circle cx="214.2" cy="316.0"/><circle cx="214.1" cy="318.0"/><circle cx="213.9" cy="320.0"/><circle cx="214.1" cy="322.0"/><circle cx="213.9" cy="324.1"/><circle cx="214.2" cy="326.1"/><circle cx="213.9" cy="328.1"/><circle cx="213.9" cy="330.1"/><circle cx="214.2" cy="332.2"/><circle cx="214.0" cy="334.2"/><circle cx="214.1" cy="336.2"/><circle cx="214.3" cy="253.2"/><circle cx="214.0" cy="255.9"/><circle cx="214.0" cy="258.8"/><circle cx="213.8" cy="262.3"/><circle cx="214.3" cy="265.2"/><circle cx="213.7" cy="267.7"/><circle cx="213.9" cy="270.9"/><circle cx="214.1" cy="274.5"/><circle cx="213.6" cy="276.6"/><circle cx="213.9" cy="279.6"/><circle cx="213.6" cy="283.4"/><circle cx="214.3" cy="285.3"/><circle cx="213.9" cy="288.9"/><circle cx="214.3" cy="291.8"/><circle cx="214.4" cy="294.7"/><circle cx="214.2" cy="297.1"/><circle cx="213.7" cy="300.9"/><circle cx="213.7" cy="303.4"/><circle cx="214.4" cy="306.8"/><circle cx="214.4" cy="309.5"/><circle cx="213.5" cy="311.9"/><circle cx="214.5" cy="315.2"/><circle cx="214.4" cy="317.9"/><circle cx="214.3" cy="321.1"/><circle cx="213.8" cy="324.3"/><circle cx="214.1" cy="327.6"/><circle cx="214.4" cy="329.8"/><circle cx="214.2" cy="333.1"/><circle cx="213.5" cy="336.2"/></g>
<g fill="#66320e"><circle cx="218.2" cy="291.6"/><circle cx="217.8" cy="292.4"/><circle cx="217.9" cy="293.2"/><circle cx="218.0" cy="294.0"/><circle cx="218.5" cy="295.4"/><circle cx="218.2" cy="296.8"/><circle cx="218.2" cy="298.0"/><circle cx="218.5" cy="298.9"/><circle cx="218.4" cy="299.7"/><circle cx="217.8" cy="301.3"/><circle cx="218.3" cy="302.3"/><circle cx="217.8" cy="304.3"/><circle cx="217.8" cy="304.6"/><circle cx="218.1" cy="306.2"/><circle cx="217.6" cy="308.1"/><circle cx="217.8" cy="308.7"/><circle cx="217.8" cy="310.0"/><circle cx="218.2" cy="310.7"/><circle cx="218.3" cy="311.8"/><circle cx="217.7" cy="313.2"/><circle cx="217.5" cy="314.8"/><circle cx="218.5" cy="315.9"/><circle cx="218.4" cy="317.3"/><circle cx="217.6" cy="318.6"/><circle cx="218.1" cy="320.1"/><circle cx="218.2" cy="321.0"/><circle cx="217.9" cy="321.7"/><circle cx="217.5" cy="323.1"/><circle cx="218.3" cy="324.6"/><circle cx="218.3" cy="325.4"/><circle cx="218.5" cy="327.5"/><circle cx="217.5" cy="328.5"/><circle cx="218.3" cy="329.7"/><circle cx="217.9" cy="331.3"/><circle cx="217.6" cy="331.5"/><circle cx="218.4" cy="333.7"/><circle cx="218.2" cy="335.0"/><circle cx="217.5" cy="335.2"/><circle cx="217.8" cy="337.3"/><circle cx="218.4" cy="338.6"/><circle cx="218.0" cy="339.6"/><circle cx="217.8" cy="340.5"/><circle cx="218.4" cy="341.7"/><circle cx="218.4" cy="343.0"/><circle cx="217.8" cy="344.9"/><circle cx="217.9" cy="345.7"/><circle cx="217.7" cy="347.0"/><circle cx="218.4" cy="348.1"/><circle cx="218.3" cy="349.0"/><circle cx="218.3" cy="350.7"/><circle cx="217.9" cy="352.3"/><circle cx="218.3" cy="352.8"/><circle cx="218.1" cy="354.0"/><circle cx="218.0" cy="355.6"/><circle cx="218.0" cy="357.1"/><circle cx="218.1" cy="357.4"/><circle cx="218.3" cy="359.0"/></g>
<g fill="#0a3a2a"><circle cx="219.2" cy="353.8"/><circle cx="219.2" cy="354.6"/><circle cx="219.1" cy="355.4"/><circle cx="219.1" cy="356.2"/><circle cx="218.9" cy="358.2"/><circle cx="219.2" cy="360.2"/><circle cx="219.0" cy="362.2"/><circle cx="219.0" cy="364.2"/><circle cx="219.0" cy="366.2"/><circle cx="219.2" cy="368.2"/><circle cx="219.2" cy="370.2"/><circle cx="218.9" cy="372.2"/><circle cx="218.9" cy="374.2"/><circle cx="219.0" cy="376.2"/><circle cx="219.3" cy="356.2"/><circle cx="218.7" cy="359.2"/><circle cx="218.9" cy="362.3"/><circle cx="219.5" cy="364.5"/><circle cx="219.0" cy="367.8"/><circle cx="219.2" cy="370.9"/><circle cx="219.2" cy="373.7"/><circle cx="219.4" cy="376.2"/></g>
<g fill="#1770c7"><circle cx="222.8" cy="295.0"/><circle cx="222.9" cy="295.8"/><circle cx="222.8" cy="296.6"/><circle cx="222.5" cy="297.4"/><circle cx="223.3" cy="298.6"/><circle cx="222.9" cy="299.6"/><circle cx="223.2" cy="300.5"/><circle cx="222.7" cy="301.8"/><circle cx="222.8" cy="303.4"/><circle cx="222.5" cy="304.4"/><circle cx="223.3" cy="305.0"/><circle cx="222.8" cy="306.3"/><circle cx="222.6" cy="307.7"/><circle cx="223.1" cy="309.2"/><circle cx="223.4" cy="310.2"/><circle cx="223.0" cy="311.3"/><circle cx="222.9" cy="311.7"/><circle cx="223.3" cy="313.1"/><circle cx="223.1" cy="314.4"/><circle cx="223.4" cy="314.9"/><circle cx="222.7" cy="316.9"/><circle cx="223.0" cy="318.2"/><circle cx="223.2" cy="318.9"/><circle cx="222.6" cy="320.0"/><circle cx="223.4" cy="320.6"/><circle cx="222.8" cy="322.0"/><circle cx="223.4" cy="323.5"/><circle cx="222.7" cy="324.2"/><circle cx="223.3" cy="325.2"/><circle cx="222.7" cy="326.4"/><circle cx="223.4" cy="327.6"/><circle cx="222.9" cy="328.6"/><circle cx="222.5" cy="330.2"/><circle cx="222.5" cy="330.6"/><circle cx="223.0" cy="332.2"/><circle cx="223.2" cy="332.9"/><circle cx="223.2" cy="333.9"/><circle cx="223.4" cy="335.2"/><circle cx="222.9" cy="336.2"/><circle cx="222.8" cy="337.9"/><circle cx="223.0" cy="338.6"/><circle cx="223.2" cy="339.6"/><circle cx="222.5" cy="341.8"/><circle cx="222.6" cy="342.2"/><circle cx="223.4" cy="344.1"/><circle cx="223.1" cy="345.0"/><circle cx="223.1" cy="345.9"/><circle cx="223.3" cy="346.6"/><circle cx="222.7" cy="348.1"/><circle cx="223.3" cy="349.3"/><circle cx="223.5" cy="349.7"/><circle cx="223.0" cy="351.6"/><circle cx="223.3" cy="352.3"/><circle cx="223.4" cy="353.5"/><circle cx="223.0" cy="354.4"/><circle cx="222.6" cy="356.4"/><circle cx="223.3" cy="357.4"/><circle cx="223.0" cy="357.8"/><circle cx="222.6" cy="359.0"/><circle cx="223.0" cy="360.1"/><circle cx="223.3" cy="361.8"/><circle cx="222.8" cy="362.8"/><circle cx="223.0" cy="363.7"/></g>
<g fill="#c71585"><circle cx="224.6" cy="358.8"/><circle cx="224.4" cy="359.6"/><circle cx="224.4" cy="360.4"/><circle cx="224.3" cy="361.2"/><circle cx="224.4" cy="363.2"/><circle cx="224.4" cy="365.2"/><circle cx="224.4" cy="367.2"/><circle cx="224.5" cy="369.2"/><circle cx="224.7" cy="371.2"/><circle cx="224.5" cy="373.2"/><circle cx="224.4" cy="375.2"/><circle cx="224.5" cy="377.2"/><circle cx="224.8" cy="361.2"/><circle cx="224.7" cy="365.0"/><circle cx="224.7" cy="367.2"/><circle cx="224.0" cy="370.8"/><circle cx="224.2" cy="373.5"/><circle cx="224.8" cy="377.2"/></g>
<g fill="#26320c"><circle cx="228.1" cy="292.3"/><circle cx="227.9" cy="293.1"/><circle cx="228.2" cy="293.9"/><circle cx="228.0" cy="294.7"/><circle cx="228.1" cy="295.9"/><circle cx="228.0" cy="297.7"/><circle cx="228.1" cy="299.7"/><circle cx="227.7" cy="301.1"/><circle cx="228.1" cy="303.5"/><circle cx="227.5" cy="304.1"/><circle cx="227.9" cy="306.1"/><circle cx="227.6" cy="307.5"/><circle cx="227.6" cy="310.1"/><circle cx="227.9" cy="311.9"/><circle cx="228.5" cy="313.3"/><circle cx="228.4" cy="314.4"/><circle cx="227.8" cy="316.2"/><circle cx="228.0" cy="317.5"/><circle cx="228.5" cy="319.6"/><circle cx="228.2" cy="321.4"/><circle cx="227.7" cy="322.4"/><circle cx="227.6" cy="324.7"/><circle cx="227.7" cy="325.9"/><circle cx="228.4" cy="327.8"/><circle cx="228.1" cy="330.0"/><circle cx="228.1" cy="331.1"/><circle cx="228.1" cy="333.5"/><circle cx="227.6" cy="334.7"/><circle cx="227.7" cy="336.7"/><circle cx="228.1" cy="338.4"/><circle cx="228.5" cy="340.0"/><circle cx="228.3" cy="340.7"/><circle cx="228.2" cy="343.3"/><circle cx="228.4" cy="345.0"/><circle cx="228.0" cy="346.7"/><circle cx="227.7" cy="348.6"/><circle cx="227.7" cy="349.5"/><circle cx="228.1" cy="351.3"/><circle cx="228.1" cy="353.3"/><circle cx="228.0" cy="355.0"/><circle cx="228.3" cy="356.1"/><circle cx="227.9" cy="357.7"/><circle cx="227.5" cy="360.1"/><circle cx="228.3" cy="361.2"/><circle cx="227.7" cy="363.0"/></g>
<g fill="#0000cd"><circle cx="229.7" cy="303.8"/><circle cx="229.9" cy="304.6"/><circle cx="230.3" cy="305.4"/><circle cx="229.9" cy="306.2"/><circle cx="230.0" cy="308.2"/><circle cx="230.0" cy="310.2"/><circle cx="230.1" cy="312.2"/><circle cx="229.8" cy="314.2"/><circle cx="230.1" cy="316.2"/><circle cx="230.0" cy="318.2"/><circle cx="230.2" cy="320.2"/><circle cx="230.0" cy="322.2"/><circle cx="229.8" cy="324.2"/><circle cx="230.1" cy="326.2"/><circle cx="229.8" cy="328.2"/><circle cx="229.8" cy="330.2"/><circle cx="230.0" cy="332.2"/><circle cx="230.0" cy="334.2"/><circle cx="229.8" cy="336.2"/><circle cx="230.0" cy="338.2"/><circle cx="230.1" cy="340.2"/><circle cx="230.0" cy="342.2"/><circle cx="230.1" cy="344.2"/><circle cx="230.0" cy="346.2"/><circle cx="229.9" cy="348.2"/><circle cx="230.1" cy="350.2"/><circle cx="230.1" cy="352.2"/><circle cx="230.0" cy="354.2"/><circle cx="229.8" cy="356.2"/><circle cx="229.9" cy="358.2"/><circle cx="230.0" cy="360.2"/><circle cx="230.2" cy="362.2"/><circle cx="230.0" cy="364.2"/><circle cx="229.9" cy="366.2"/><circle cx="230.0" cy="368.2"/><circle cx="230.2" cy="370.2"/><circle cx="229.7" cy="306.2"/><circle cx="229.7" cy="309.2"/><circle cx="229.6" cy="312.1"/><circle cx="229.7" cy="314.9"/><circle cx="229.7" cy="318.5"/><circle cx="230.0" cy="321.0"/><circle cx="229.7" cy="324.6"/><circle cx="229.6" cy="328.1"/><circle cx="229.9" cy="330.5"/><circle cx="229.7" cy="333.2"/><circle cx="229.5" cy="336.4"/><circle cx="230.2" cy="339.9"/><circle cx="230.0" cy="342.8"/><circle cx="229.9" cy="345.8"/><circle cx="230.1" cy="349.1"/><circle cx="229.8" cy="351.9"/><circle cx="230.0" cy="354.8"/><circle cx="230.1" cy="357.7"/><circle cx="230.3" cy="360.5"/><circle cx="230.2" cy="364.5"/><circle cx="229.7" cy="367.7"/><circle cx="230.3" cy="370.2"/></g>
<g fill="#2a2a00"><circle cx="231.7" cy="259.8"/><circle cx="231.8" cy="260.6"/><circle cx="231.8" cy="261.4"/><circle cx="232.1" cy="262.2"/><circle cx="231.9" cy="264.2"/><circle cx="232.0" cy="266.2"/><circle cx="232.1" cy="268.3"/><circle cx="231.9" cy="270.3"/><circle cx="232.0" cy="272.3"/><circle cx="232.0" cy="274.3"/><circle cx="232.1" cy="276.3"/><circle cx="232.1" cy="278.3"/><circle cx="232.2" cy="280.4"/><circle cx="232.1" cy="282.4"/><circle cx="231.9" cy="284.4"/><circle cx="232.0" cy="286.4"/><circle cx="232.0" cy="288.4"/><circle cx="231.8" cy="290.4"/><circle cx="232.0" cy="292.5"/><circle cx="232.2" cy="294.5"/><circle cx="232.2" cy="296.5"/><circle cx="231.8" cy="298.5"/><circle cx="232.0" cy="300.5"/><circle cx="232.1" cy="302.6"/><circle cx="232.1" cy="304.6"/><circle cx="232.1" cy="306.6"/><circle cx="232.1" cy="308.6"/><circle cx="231.9" cy="310.6"/><circle cx="232.0" cy="312.6"/><circle cx="232.0" cy="314.7"/><circle cx="232.0" cy="316.7"/><circle cx="231.9" cy="318.7"/><circle cx="232.0" cy="320.7"/><circle cx="232.1" cy="322.7"/><circle cx="231.9" cy="324.8"/><circle cx="232.2" cy="326.8"/><circle cx="232.1" cy="328.8"/><circle cx="231.9" cy="330.8"/><circle cx="232.1" cy="332.8"/><circle cx="232.0" cy="334.8"/><circle cx="232.2" cy="336.9"/><circle cx="231.8" cy="338.9"/><circle cx="232.0" cy="340.9"/><circle cx="231.9" cy="342.9"/><circle cx="231.9" cy="344.9"/><circle cx="232.0" cy="346.9"/><circle cx="232.0" cy="349.0"/><circle cx="231.8" cy="351.0"/><circle cx="232.1" cy="353.0"/><circle cx="231.8" cy="355.0"/><circle cx="231.9" cy="357.0"/><circle cx="232.0" cy="359.1"/><circle cx="232.1" cy="361.1"/><circle cx="231.9" cy="363.1"/><circle cx="232.1" cy="365.1"/><circle cx="231.9" cy="367.1"/><circle cx="232.0" cy="369.1"/><circle cx="232.1" cy="371.2"/><circle cx="231.8" cy="373.2"/><circle cx="232.1" cy="375.2"/><circle cx="232.2" cy="262.2"/><circle cx="232.1" cy="265.1"/><circle cx="231.6" cy="268.4"/><circle cx="232.0" cy="270.6"/><circle cx="232.2" cy="274.6"/><circle cx="231.7" cy="277.7"/><circle cx="232.1" cy="280.3"/><circle cx="231.8" cy="283.1"/><circle cx="231.6" cy="285.9"/><circle cx="231.9" cy="289.3"/><circle cx="232.1" cy="292.2"/><circle cx="232.2" cy="295.0"/><circle cx="232.3" cy="297.4"/><circle cx="232.1" cy="300.9"/><circle cx="231.5" cy="304.4"/><circle cx="232.2" cy="306.3"/><circle cx="231.9" cy="310.3"/><circle cx="232.3" cy="312.3"/><circle cx="232.2" cy="316.0"/><circle cx="231.6" cy="319.3"/><circle cx="231.5" cy="321.3"/><circle cx="232.5" cy="324.8"/><circle cx="231.8" cy="327.9"/><circle cx="231.7" cy="330.5"/><circle cx="231.5" cy="333.4"/><circle cx="232.4" cy="336.0"/><circle cx="231.5" cy="340.0"/><circle cx="231.8" cy="342.0"/><circle cx="232.4" cy="345.7"/><circle cx="232.0" cy="349.0"/><circle cx="232.3" cy="351.9"/><circle cx="231.6" cy="354.3"/><circle cx="231.9" cy="356.8"/><circle cx="232.4" cy="360.8"/><circle cx="232.3" cy="362.8"/><circle cx="231.9" cy="366.7"/><circle cx="232.3" cy="369.3"/><circle cx="232.2" cy="371.9"/><circle cx="232.5" cy="375.2"/></g>
<g fill="#184a2e"><circle cx="233.3" cy="292.4"/><circle cx="233.2" cy="293.2"/><circle cx="233.2" cy="294.0"/><circle cx="233.2" cy="294.8"/><circle cx="232.8" cy="296.4"/><circle cx="233.1" cy="297.1"/><circle cx="233.0" cy="299.1"/><circle cx="233.5" cy="300.2"/><circle cx="232.7" cy="301.8"/><circle cx="233.4" cy="302.4"/><circle cx="232.5" cy="303.4"/><circle cx="233.1" cy="305.6"/><circle cx="233.5" cy="306.5"/><circle cx="233.1" cy="307.4"/><circle cx="233.2" cy="309.1"/><circle cx="232.7" cy="310.8"/><circle cx="233.0" cy="312.1"/><circle cx="233.4" cy="312.5"/><circle cx="233.4" cy="314.1"/><circle cx="233.1" cy="315.9"/><circle cx="232.9" cy="317.4"/><circle cx="233.3" cy="318.3"/><circle cx="233.0" cy="319.5"/><circle cx="233.1" cy="321.1"/><circle cx="233.4" cy="321.5"/><circle cx="232.9" cy="323.6"/><circle cx="232.6" cy="325.2"/><circle cx="233.5" cy="326.4"/><circle cx="233.2" cy="327.7"/><circle cx="233.5" cy="329.0"/><circle cx="233.2" cy="329.5"/><circle cx="232.7" cy="331.5"/><circle cx="232.6" cy="331.9"/><circle cx="232.5" cy="333.4"/><circle cx="232.9" cy="335.2"/><circle cx="233.4" cy="336.9"/><circle cx="232.8" cy="338.2"/><circle cx="233.1" cy="339.2"/><circle cx="232.8" cy="339.9"/><circle cx="232.9" cy="341.6"/><circle cx="233.1" cy="342.9"/><circle cx="232.6" cy="344.5"/><circle cx="232.8" cy="345.8"/><circle cx="232.6" cy="346.6"/><circle cx="233.1" cy="347.6"/><circle cx="232.9" cy="349.1"/><circle cx="232.9" cy="350.4"/><circle cx="232.7" cy="352.3"/><circle cx="232.9" cy="353.6"/><circle cx="233.4" cy="354.3"/><circle cx="233.0" cy="355.6"/><circle cx="232.8" cy="357.5"/><circle cx="232.9" cy="358.6"/><circle cx="233.1" cy="359.2"/><circle cx="232.8" cy="361.0"/><circle cx="232.8" cy="362.1"/><circle cx="233.0" cy="363.6"/></g>
<g fill="#9acd32"><circle cx="235.4" cy="264.8"/><circle cx="235.5" cy="265.6"/><circle cx="235.7" cy="266.4"/><circle cx="235.4" cy="267.2"/><circle cx="235.6" cy="269.4"/><circle cx="235.5" cy="271.7"/><circle cx="235.3" cy="273.9"/><circle cx="235.3" cy="276.2"/><circle cx="235.9" cy="267.2"/><circle cx="236.0" cy="269.8"/><circle cx="235.3" cy="273.7"/><circle cx="235.3" cy="276.2"/></g>
<g fill="#3a0a0a"><circle cx="238.0" cy="303.8"/><circle cx="237.9" cy="304.6"/><circle cx="238.1" cy="305.4"/><circle cx="237.9" cy="306.2"/><circle cx="238.2" cy="308.2"/><circle cx="238.1" cy="310.2"/><circle cx="238.0" cy="312.3"/><circle cx="238.1" cy="314.3"/><circle cx="238.0" cy="316.3"/><circle cx="237.9" cy="318.3"/><circle cx="237.9" cy="320.3"/><circle cx="237.9" cy="322.4"/><circle cx="238.1" cy="324.4"/><circle cx="237.8" cy="326.4"/><circle cx="238.1" cy="328.4"/><circle cx="238.0" cy="330.4"/><circle cx="237.9" cy="332.5"/><circle cx="238.0" cy="334.5"/><circle cx="238.0" cy="336.5"/><circle cx="238.2" cy="338.5"/><circle cx="237.9" cy="340.5"/><circle cx="238.0" cy="342.6"/><circle cx="238.1" cy="344.6"/><circle cx="238.1" cy="346.6"/><circle cx="237.9" cy="348.6"/><circle cx="238.1" cy="350.6"/><circle cx="237.9" cy="352.7"/><circle cx="237.8" cy="354.7"/><circle cx="238.0" cy="356.7"/><circle cx="238.1" cy="358.7"/><circle cx="238.0" cy="360.7"/><circle cx="238.1" cy="362.7"/><circle cx="237.9" cy="364.8"/><circle cx="237.9" cy="366.8"/><circle cx="237.8" cy="368.8"/><circle cx="238.0" cy="370.8"/><circle cx="237.9" cy="372.8"/><circle cx="237.9" cy="374.9"/><circle cx="237.9" cy="376.9"/><circle cx="237.9" cy="378.9"/><circle cx="238.1" cy="380.9"/><circle cx="237.9" cy="382.9"/><circle cx="238.2" cy="385.0"/><circle cx="238.1" cy="387.0"/><circle cx="238.2" cy="389.0"/><circle cx="238.1" cy="391.0"/><circle cx="237.9" cy="393.0"/><circle cx="238.2" cy="395.1"/><circle cx="238.0" cy="397.1"/><circle cx="237.9" cy="399.1"/><circle cx="237.9" cy="401.1"/><circle cx="238.1" cy="403.1"/><circle cx="238.2" cy="405.2"/><circle cx="238.2" cy="407.2"/><circle cx="238.0" cy="409.2"/><circle cx="237.8" cy="306.2"/><circle cx="238.1" cy="309.2"/><circle cx="238.1" cy="311.8"/><circle cx="238.1" cy="315.8"/><circle cx="237.9" cy="318.0"/><circle cx="237.6" cy="321.4"/><circle cx="238.2" cy="324.8"/><circle cx="237.7" cy="327.3"/><circle cx="238.2" cy="330.7"/><circle cx="238.0" cy="333.2"/><circle cx="237.9" cy="336.6"/><circle cx="237.6" cy="340.0"/><circle cx="238.4" cy="342.4"/><circle cx="238.1" cy="346.0"/><circle cx="237.7" cy="348.5"/><circle cx="238.1" cy="351.3"/><circle cx="238.5" cy="354.9"/><circle cx="237.8" cy="357.5"/><circle cx="237.9" cy="360.6"/><circle cx="238.4" cy="363.4"/><circle cx="238.3" cy="367.3"/><circle cx="238.1" cy="369.8"/><circle cx="238.0" cy="372.4"/><circle cx="237.5" cy="376.1"/><circle cx="237.6" cy="379.1"/><circle cx="238.3" cy="382.0"/><circle cx="238.4" cy="385.3"/><circle cx="238.2" cy="388.0"/><circle cx="238.0" cy="390.9"/><circle cx="238.1" cy="394.2"/><circle cx="237.8" cy="396.7"/><circle cx="237.5" cy="399.8"/><circle cx="237.9" cy="403.5"/><circle cx="237.9" cy="406.1"/><circle cx="237.8" cy="409.2"/></g>
<g fill="#004747"><circle cx="237.8" cy="299.8"/><circle cx="238.1" cy="300.6"/><circle cx="238.1" cy="301.4"/><circle cx="237.7" cy="302.2"/><circle cx="238.0" cy="304.3"/><circle cx="237.9" cy="306.2"/><circle cx="238.4" cy="307.6"/><circle cx="237.8" cy="308.7"/><circle cx="238.1" cy="310.3"/><circle cx="238.2" cy="312.7"/><circle cx="237.8" cy="314.5"/><circle cx="238.4" cy="315.7"/><circle cx="237.5" cy="318.0"/><circle cx="238.4" cy="319.0"/><circle cx="237.6" cy="321.0"/><circle cx="238.5" cy="322.9"/><circle cx="238.1" cy="324.4"/><circle cx="237.5" cy="326.3"/><circle cx="237.9" cy="327.4"/><circle cx="238.3" cy="329.1"/><circle cx="238.3" cy="331.1"/><circle cx="237.6" cy="333.3"/><circle cx="237.6" cy="335.1"/><circle cx="237.6" cy="336.0"/><circle cx="238.2" cy="338.0"/><circle cx="238.1" cy="340.1"/><circle cx="238.0" cy="341.4"/><circle cx="238.5" cy="342.6"/><circle cx="237.8" cy="344.3"/><circle cx="237.5" cy="346.3"/><circle cx="237.8" cy="348.7"/><circle cx="237.6" cy="349.4"/><circle cx="238.4" cy="351.1"/><circle cx="237.9" cy="353.7"/><circle cx="237.7" cy="355.0"/><circle cx="237.9" cy="356.2"/><circle cx="238.3" cy="358.5"/><circle cx="237.8" cy="360.2"/><circle cx="238.3" cy="362.0"/><circle cx="238.1" cy="364.1"/><circle cx="237.6" cy="364.7"/><circle cx="237.9" cy="367.3"/><circle cx="237.9" cy="368.6"/></g>
<g fill="#373737"><circle cx="242.9" cy="308.7"/><circle cx="243.2" cy="309.5"/><circle cx="242.9" cy="310.3"/><circle cx="242.7" cy="311.1"/><circle cx="242.9" cy="312.7"/><circle cx="242.6" cy="314.0"/><circle cx="242.9" cy="315.1"/><circle cx="243.4" cy="316.9"/><circle cx="243.0" cy="317.5"/><circle cx="242.7" cy="318.8"/><circle cx="243.2" cy="320.7"/><circle cx="242.6" cy="322.0"/><circle cx="243.0" cy="323.5"/><circle cx="242.5" cy="324.5"/><circle cx="242.9" cy="325.9"/><circle cx="242.5" cy="326.7"/><circle cx="243.4" cy="328.6"/><circle cx="243.4" cy="329.6"/><circle cx="242.9" cy="331.3"/><circle cx="242.5" cy="332.4"/><circle cx="243.4" cy="334.2"/><circle cx="242.5" cy="335.1"/><circle cx="242.8" cy="336.3"/><circle cx="242.5" cy="338.0"/><circle cx="242.7" cy="338.9"/><circle cx="243.0" cy="340.6"/><circle cx="242.8" cy="342.2"/><circle cx="243.2" cy="343.3"/><circle cx="243.4" cy="344.1"/><circle cx="242.6" cy="346.1"/><circle cx="243.2" cy="347.2"/><circle cx="242.6" cy="348.1"/><circle cx="243.4" cy="350.3"/><circle cx="243.1" cy="350.5"/><circle cx="242.8" cy="352.2"/><circle cx="243.0" cy="353.6"/><circle cx="243.0" cy="355.5"/><circle cx="242.6" cy="356.8"/><circle cx="243.2" cy="357.5"/><circle cx="243.5" cy="358.8"/><circle cx="242.7" cy="360.4"/></g>
<g fill="#90ee90"><circle cx="245.7" cy="333.8"/><circle cx="245.3" cy="334.6"/><circle cx="245.3" cy="335.4"/><circle cx="245.4" cy="336.2"/><circle cx="245.5" cy="338.3"/><circle cx="245.3" cy="340.3"/><circle cx="245.6" cy="342.4"/><circle cx="245.4" cy="344.4"/><circle cx="245.7" cy="346.5"/><circle cx="245.4" cy="348.6"/><circle cx="245.6" cy="350.6"/><circle cx="245.4" cy="352.7"/><circle cx="245.3" cy="354.7"/><circle cx="245.3" cy="356.8"/><circle cx="245.3" cy="336.2"/><circle cx="245.4" cy="338.7"/><circle cx="245.4" cy="342.5"/><circle cx="245.3" cy="344.4"/><circle cx="245.2" cy="347.4"/><circle cx="245.0" cy="350.9"/><circle cx="245.7" cy="354.4"/><circle cx="245.9" cy="356.8"/></g>
<g fill="#4d2222"><circle cx="248.2" cy="303.5"/><circle cx="247.8" cy="304.3"/><circle cx="248.1" cy="305.1"/><circle cx="247.8" cy="305.9"/><circle cx="247.6" cy="307.4"/><circle cx="247.6" cy="308.1"/><circle cx="248.0" cy="309.3"/><circle cx="247.7" cy="310.2"/><circle cx="248.3" cy="312.3"/><circle cx="248.2" cy="313.3"/><circle cx="247.7" cy="313.5"/><circle cx="247.6" cy="315.1"/><circle cx="248.0" cy="316.5"/><circle cx="248.0" cy="317.4"/><circle cx="248.3" cy="318.7"/><circle cx="248.2" cy="319.7"/><circle cx="247.8" cy="321.4"/><circle cx="248.1" cy="322.1"/><circle cx="247.7" cy="323.4"/><circle cx="248.4" cy="324.1"/><circle cx="247.6" cy="325.2"/><circle cx="248.0" cy="326.7"/><circle cx="247.7" cy="327.8"/><circle cx="247.8" cy="328.9"/><circle cx="248.1" cy="330.9"/><circle cx="248.2" cy="331.5"/><circle cx="248.4" cy="332.7"/><circle cx="247.7" cy="334.0"/><circle cx="248.0" cy="334.6"/><circle cx="248.1" cy="336.1"/><circle cx="248.5" cy="337.9"/><circle cx="248.4" cy="338.3"/><circle cx="248.0" cy="339.6"/><circle cx="248.4" cy="341.1"/><circle cx="248.3" cy="342.1"/><circle cx="248.5" cy="343.2"/><circle cx="248.2" cy="345.0"/><circle cx="247.8" cy="345.8"/><circle cx="248.1" cy="346.4"/><circle cx="248.2" cy="347.7"/><circle cx="247.8" cy="349.7"/><circle cx="248.0" cy="350.4"/><circle cx="248.1" cy="352.0"/><circle cx="247.7" cy="353.1"/><circle cx="248.4" cy="353.7"/><circle cx="248.3" cy="355.0"/></g>
<g fill="#afeeee"><circle cx="248.3" cy="272.8"/><circle cx="248.3" cy="273.6"/><circle cx="248.3" cy="274.4"/><circle cx="248.5" cy="275.2"/><circle cx="248.6" cy="277.3"/><circle cx="248.6" cy="279.4"/><circle cx="248.4" cy="281.5"/><circle cx="248.4" cy="283.6"/><circle cx="248.7" cy="285.7"/><circle cx="248.6" cy="287.8"/><circle cx="248.5" cy="289.9"/><circle cx="248.3" cy="292.0"/><circle cx="248.6" cy="294.1"/><circle cx="248.6" cy="296.2"/><circle cx="248.1" cy="275.2"/><circle cx="248.7" cy="278.8"/><circle cx="248.4" cy="283.7"/><circle cx="248.5" cy="288.0"/><circle cx="248.3" cy="292.2"/><circle cx="248.4" cy="296.2"/></g>
<g fill="#2f4f4f"><circle cx="248.7" cy="303.8"/><circle cx="248.5" cy="304.6"/><circle cx="248.4" cy="305.4"/><circle cx="248.4" cy="306.2"/><circle cx="248.5" cy="308.2"/><circle cx="248.7" cy="310.2"/><circle cx="248.5" cy="312.2"/><circle cx="248.6" cy="314.2"/><circle cx="248.4" cy="316.2"/><circle cx="248.4" cy="318.2"/><circle cx="248.4" cy="320.2"/><circle cx="248.6" cy="322.2"/><circle cx="248.6" cy="324.2"/><circle cx="248.3" cy="326.2"/><circle cx="248.6" cy="328.2"/><circle cx="248.4" cy="330.2"/><circle cx="248.5" cy="332.2"/><circle cx="248.5" cy="334.2"/><circle cx="248.4" cy="336.2"/><circle cx="248.2" cy="306.2"/><circle cx="248.2" cy="309.3"/><circle cx="248.4" cy="311.9"/><circle cx="248.3" cy="315.1"/><circle cx="248.2" cy="318.1"/><circle cx="248.0" cy="321.6"/><circle cx="248.7" cy="324.1"/><circle cx="248.8" cy="327.5"/><circle cx="248.8" cy="330.3"/><circle cx="248.5" cy="333.4"/><circle cx="248.8" cy="336.2"/></g>
<g fill="#cd853f"><circle cx="252.2" cy="339.8"/><circle cx="252.2" cy="340.6"/><circle cx="252.2" cy="341.4"/><circle cx="252.2" cy="342.2"/><circle cx="252.0" cy="344.2"/><circle cx="251.8" cy="346.2"/><circle cx="252.0" cy="348.2"/><circle cx="251.9" cy="350.2"/><circle cx="251.9" cy="352.2"/><circle cx="252.0" cy="354.2"/><circle cx="251.9" cy="356.2"/><circle cx="252.2" cy="358.2"/><circle cx="252.1" cy="360.2"/><circle cx="251.8" cy="362.2"/><circle cx="251.8" cy="364.2"/><circle cx="251.8" cy="366.2"/><circle cx="251.7" cy="342.2"/><circle cx="252.0" cy="345.0"/><circle cx="251.9" cy="347.9"/><circle cx="252.4" cy="351.3"/><circle cx="252.4" cy="354.7"/><circle cx="252.1" cy="357.3"/><circle cx="252.3" cy="359.9"/><circle cx="251.7" cy="362.9"/><circle cx="252.3" cy="366.2"/></g>
<g fill="#b0e0e6"><circle cx="252.1" cy="372.8"/></g>
<g fill="#003232"><circle cx="253.0" cy="299.1"/><circle cx="252.9" cy="299.9"/><circle cx="252.8" cy="300.7"/><circle cx="252.7" cy="301.5"/><circle cx="253.1" cy="303.4"/><circle cx="252.9" cy="304.1"/><circle cx="252.6" cy="305.5"/><circle cx="252.7" cy="307.1"/><circle cx="253.4" cy="308.6"/><circle cx="252.7" cy="310.1"/><circle cx="252.9" cy="311.9"/><circle cx="253.4" cy="313.7"/><circle cx="253.4" cy="314.1"/><circle cx="252.8" cy="316.4"/><circle cx="252.9" cy="317.8"/><circle cx="253.4" cy="318.8"/><circle cx="253.1" cy="320.8"/><circle cx="253.2" cy="321.9"/><circle cx="253.0" cy="323.6"/><circle cx="252.7" cy="324.6"/><circle cx="253.2" cy="325.9"/><circle cx="253.3" cy="327.8"/><circle cx="253.3" cy="328.9"/><circle cx="253.0" cy="330.7"/><circle cx="252.7" cy="332.7"/><circle cx="253.0" cy="334.0"/><circle cx="253.0" cy="335.7"/><circle cx="252.7" cy="336.9"/><circle cx="252.8" cy="338.7"/><circle cx="252.8" cy="339.3"/><circle cx="252.6" cy="340.5"/><circle cx="252.8" cy="342.2"/><circle cx="252.7" cy="344.0"/><circle cx="252.7" cy="346.0"/><circle cx="252.8" cy="347.2"/><circle cx="252.7" cy="348.0"/><circle cx="253.3" cy="349.8"/><circle cx="252.7" cy="351.8"/><circle cx="252.5" cy="352.4"/><circle cx="252.7" cy="354.3"/></g>
<g fill="#dda0dd"><circle cx="255.7" cy="293.8"/><circle cx="255.8" cy="294.6"/><circle cx="255.8" cy="295.4"/><circle cx="256.0" cy="296.2"/><circle cx="256.1" cy="298.2"/><circle cx="255.9" cy="300.2"/><circle cx="256.0" cy="302.2"/><circle cx="255.9" cy="304.2"/><circle cx="255.9" cy="306.2"/><circle cx="256.1" cy="308.2"/><circle cx="256.1" cy="310.2"/><circle cx="256.0" cy="312.2"/><circle cx="256.0" cy="314.2"/><circle cx="255.8" cy="316.2"/><circle cx="255.8" cy="318.2"/><circle cx="256.1" cy="320.2"/><circle cx="255.9" cy="322.2"/><circle cx="256.1" cy="324.2"/><circle cx="255.9" cy="326.2"/><circle cx="255.9" cy="328.2"/><circle cx="256.0" cy="330.2"/><circle cx="256.2" cy="332.2"/><circle cx="255.8" cy="334.2"/><circle cx="256.1" cy="336.2"/><circle cx="255.9" cy="338.2"/><circle cx="255.9" cy="340.2"/><circle cx="256.1" cy="342.2"/><circle cx="256.0" cy="344.2"/><circle cx="255.9" cy="346.2"/><circle cx="255.9" cy="348.2"/><circle cx="256.0" cy="350.2"/><circle cx="256.1" cy="352.2"/><circle cx="256.0" cy="354.2"/><circle cx="256.2" cy="356.2"/><circle cx="255.8" cy="358.2"/><circle cx="255.8" cy="360.2"/><circle cx="255.9" cy="362.2"/><circle cx="256.2" cy="364.2"/><circle cx="255.9" cy="366.2"/><circle cx="256.3" cy="296.2"/><circle cx="255.7" cy="299.5"/><circle cx="256.3" cy="302.2"/><circle cx="255.9" cy="305.1"/><circle cx="256.4" cy="308.9"/><circle cx="256.0" cy="310.8"/><circle cx="256.3" cy="314.7"/><circle cx="256.0" cy="318.1"/><circle cx="255.6" cy="320.4"/><circle cx="255.8" cy="324.1"/><circle cx="256.0" cy="326.9"/><circle cx="256.1" cy="329.8"/><circle cx="255.8" cy="332.6"/><circle cx="255.6" cy="335.9"/><circle cx="256.0" cy="338.9"/><circle cx="256.2" cy="342.3"/><circle cx="256.4" cy="344.4"/><circle cx="256.3" cy="347.6"/><circle cx="255.6" cy="350.7"/><circle cx="255.9" cy="353.5"/><circle cx="255.7" cy="356.7"/><circle cx="256.3" cy="359.6"/><circle cx="256.3" cy="363.4"/><circle cx="255.8" cy="366.2"/></g>
<g fill="#202811"><circle cx="258.0" cy="302.8"/><circle cx="257.9" cy="303.6"/><circle cx="258.1" cy="304.4"/><circle cx="257.7" cy="305.2"/><circle cx="258.3" cy="306.4"/><circle cx="257.7" cy="307.9"/><circle cx="257.8" cy="308.2"/><circle cx="257.6" cy="309.7"/><circle cx="258.3" cy="310.5"/><circle cx="257.8" cy="311.8"/><circle cx="258.2" cy="313.7"/><circle cx="258.1" cy="314.5"/><circle cx="257.6" cy="315.9"/><circle cx="258.0" cy="317.4"/><circle cx="258.2" cy="317.8"/><circle cx="257.6" cy="319.1"/><circle cx="258.4" cy="320.8"/><circle cx="257.7" cy="321.7"/><circle cx="257.9" cy="322.3"/><circle cx="258.4" cy="323.9"/><circle cx="257.7" cy="324.7"/><circle cx="257.6" cy="326.1"/><circle cx="257.7" cy="327.9"/><circle cx="258.5" cy="328.4"/><circle cx="257.8" cy="329.3"/><circle cx="257.8" cy="331.3"/><circle cx="258.0" cy="331.7"/><circle cx="258.2" cy="332.7"/><circle cx="258.2" cy="334.7"/><circle cx="257.8" cy="335.8"/><circle cx="258.0" cy="337.0"/><circle cx="258.4" cy="338.0"/><circle cx="257.7" cy="339.7"/><circle cx="257.6" cy="340.4"/><circle cx="258.3" cy="341.6"/><circle cx="258.5" cy="342.1"/><circle cx="258.0" cy="344.3"/><circle cx="258.1" cy="344.7"/><circle cx="257.7" cy="345.8"/><circle cx="257.8" cy="347.0"/><circle cx="257.8" cy="348.2"/><circle cx="258.4" cy="349.4"/><circle cx="257.7" cy="350.8"/><circle cx="258.0" cy="352.1"/><circle cx="258.4" cy="353.5"/><circle cx="258.5" cy="354.2"/><circle cx="257.7" cy="355.2"/><circle cx="257.6" cy="356.7"/><circle cx="258.1" cy="357.5"/><circle cx="258.2" cy="359.6"/><circle cx="257.7" cy="360.0"/><circle cx="257.7" cy="361.3"/><circle cx="258.1" cy="362.5"/></g>
<g fill="#b0e0e6"><circle cx="260.2" cy="260.8"/><circle cx="260.3" cy="261.6"/><circle cx="260.2" cy="262.4"/><circle cx="260.3" cy="263.2"/><circle cx="260.5" cy="265.3"/><circle cx="260.4" cy="267.3"/><circle cx="260.3" cy="269.4"/><circle cx="260.4" cy="271.4"/><circle cx="260.3" cy="273.5"/><circle cx="260.4" cy="275.6"/><circle cx="260.4" cy="277.6"/><circle cx="260.5" cy="279.7"/><circle cx="260.5" cy="281.8"/><circle cx="260.6" cy="283.8"/><circle cx="260.6" cy="285.9"/><circle cx="260.6" cy="287.9"/><circle cx="260.5" cy="290.0"/><circle cx="260.6" cy="292.1"/><circle cx="260.7" cy="294.1"/><circle cx="260.5" cy="296.2"/><circle cx="260.4" cy="263.2"/><circle cx="260.5" cy="266.7"/><circle cx="260.1" cy="269.4"/><circle cx="260.7" cy="272.4"/><circle cx="260.3" cy="274.8"/><circle cx="260.7" cy="278.4"/><circle cx="260.2" cy="281.8"/><circle cx="260.7" cy="284.2"/><circle cx="260.2" cy="286.9"/><circle cx="260.3" cy="289.7"/><circle cx="260.6" cy="293.7"/><circle cx="260.3" cy="296.2"/></g>
<g fill="#bc8f8f"><circle cx="261.1" cy="303.8"/><circle cx="261.1" cy="304.6"/><circle cx="261.2" cy="305.4"/><circle cx="260.9" cy="306.2"/><circle cx="261.1" cy="308.2"/><circle cx="261.2" cy="310.3"/><circle cx="261.2" cy="312.3"/><circle cx="260.8" cy="314.3"/><circle cx="261.1" cy="316.4"/><circle cx="260.8" cy="318.4"/><circle cx="261.0" cy="320.4"/><circle cx="260.9" cy="322.5"/><circle cx="261.2" cy="324.5"/><circle cx="261.0" cy="326.5"/><circle cx="261.1" cy="328.6"/><circle cx="261.1" cy="330.6"/><circle cx="260.8" cy="332.6"/><circle cx="261.1" cy="334.7"/><circle cx="261.2" cy="336.7"/><circle cx="261.2" cy="338.8"/><circle cx="261.0" cy="340.8"/><circle cx="261.1" cy="342.8"/><circle cx="261.1" cy="344.9"/><circle cx="261.0" cy="346.9"/><circle cx="261.0" cy="348.9"/><circle cx="260.9" cy="351.0"/><circle cx="260.9" cy="353.0"/><circle cx="260.9" cy="355.0"/><circle cx="261.0" cy="357.1"/><circle cx="261.1" cy="359.1"/><circle cx="261.1" cy="361.1"/><circle cx="260.9" cy="363.2"/><circle cx="260.9" cy="365.2"/><circle cx="261.5" cy="306.2"/><circle cx="260.7" cy="308.9"/><circle cx="261.1" cy="312.1"/><circle cx="261.2" cy="314.9"/><circle cx="261.0" cy="317.8"/><circle cx="261.4" cy="321.2"/><circle cx="261.1" cy="323.9"/><circle cx="261.1" cy="326.8"/><circle cx="261.2" cy="329.3"/><circle cx="261.0" cy="333.0"/><circle cx="261.2" cy="335.3"/><circle cx="261.0" cy="338.8"/><circle cx="260.5" cy="341.8"/><circle cx="260.8" cy="344.5"/><circle cx="260.5" cy="347.6"/><circle cx="260.9" cy="350.5"/><circle cx="260.6" cy="353.9"/><circle cx="261.2" cy="356.5"/><circle cx="260.9" cy="358.9"/><circle cx="260.6" cy="361.7"/><circle cx="260.9" cy="365.2"/></g>
<g fill="#256f46"><circle cx="262.9" cy="298.1"/><circle cx="262.7" cy="298.9"/><circle cx="263.2" cy="299.7"/><circle cx="263.5" cy="300.5"/><circle cx="263.1" cy="302.3"/><circle cx="263.0" cy="303.3"/><circle cx="262.8" cy="305.2"/><circle cx="263.2" cy="306.3"/><circle cx="263.1" cy="307.7"/><circle cx="262.9" cy="308.3"/><circle cx="263.1" cy="310.4"/><circle cx="263.1" cy="311.1"/><circle cx="262.9" cy="312.9"/><circle cx="263.0" cy="314.1"/><circle cx="262.7" cy="315.4"/><circle cx="262.8" cy="316.7"/><circle cx="263.0" cy="318.0"/><circle cx="263.0" cy="320.4"/><circle cx="262.8" cy="320.8"/><circle cx="263.2" cy="322.7"/><circle cx="262.7" cy="324.4"/><circle cx="263.2" cy="325.7"/><circle cx="263.1" cy="326.3"/><circle cx="262.9" cy="328.0"/><circle cx="262.9" cy="329.7"/><circle cx="262.8" cy="330.5"/><circle cx="262.9" cy="332.2"/><circle cx="263.5" cy="334.1"/><circle cx="262.7" cy="334.8"/><circle cx="262.5" cy="336.9"/><circle cx="262.7" cy="337.6"/><circle cx="262.7" cy="339.2"/><circle cx="263.4" cy="340.7"/><circle cx="263.2" cy="342.7"/><circle cx="262.6" cy="343.7"/><circle cx="263.4" cy="344.7"/><circle cx="262.6" cy="346.8"/><circle cx="263.2" cy="347.3"/><circle cx="262.7" cy="349.4"/><circle cx="263.4" cy="350.0"/><circle cx="263.3" cy="351.9"/><circle cx="263.5" cy="353.3"/><circle cx="262.7" cy="355.2"/><circle cx="262.8" cy="355.5"/><circle cx="262.7" cy="357.8"/><circle cx="263.0" cy="358.8"/><circle cx="262.7" cy="360.2"/></g>
<g fill="#000040"><circle cx="263.8" cy="333.8"/><circle cx="263.5" cy="334.6"/><circle cx="263.7" cy="335.4"/><circle cx="263.7" cy="336.2"/><circle cx="263.7" cy="338.2"/><circle cx="263.6" cy="340.3"/><circle cx="263.4" cy="342.3"/><circle cx="263.6" cy="344.3"/><circle cx="263.6" cy="346.3"/><circle cx="263.4" cy="348.4"/><circle cx="263.6" cy="350.4"/><circle cx="263.5" cy="352.4"/><circle cx="263.5" cy="354.4"/><circle cx="263.6" cy="356.5"/><circle cx="263.3" cy="358.5"/><circle cx="263.5" cy="360.5"/><circle cx="263.3" cy="362.6"/><circle cx="263.5" cy="364.6"/><circle cx="263.3" cy="366.6"/><circle cx="263.4" cy="368.6"/><circle cx="263.4" cy="370.7"/><circle cx="263.5" cy="372.7"/><circle cx="263.6" cy="374.7"/><circle cx="263.6" cy="376.8"/><circle cx="263.4" cy="378.8"/><circle cx="263.7" cy="380.8"/><circle cx="263.4" cy="382.8"/><circle cx="263.5" cy="384.9"/><circle cx="263.5" cy="386.9"/><circle cx="263.6" cy="388.9"/><circle cx="263.6" cy="390.9"/><circle cx="263.3" cy="393.0"/><circle cx="263.6" cy="395.0"/><circle cx="263.5" cy="397.0"/><circle cx="263.6" cy="399.1"/><circle cx="263.3" cy="401.1"/><circle cx="263.4" cy="403.1"/><circle cx="263.5" cy="405.1"/><circle cx="263.3" cy="407.2"/><circle cx="263.6" cy="409.2"/><circle cx="263.4" cy="336.2"/><circle cx="264.0" cy="339.7"/><circle cx="263.1" cy="342.8"/><circle cx="263.2" cy="345.4"/><circle cx="263.2" cy="348.1"/><circle cx="263.0" cy="351.2"/><circle cx="263.1" cy="354.4"/><circle cx="263.4" cy="358.0"/><circle cx="263.9" cy="360.6"/><circle cx="263.8" cy="363.1"/><circle cx="264.0" cy="367.0"/><circle cx="263.7" cy="370.0"/><circle cx="263.2" cy="373.2"/><circle cx="263.7" cy="375.8"/><circle cx="263.8" cy="378.3"/><circle cx="263.5" cy="381.3"/><circle cx="263.2" cy="384.4"/><circle cx="263.3" cy="387.5"/><circle cx="263.9" cy="390.6"/><circle cx="263.6" cy="393.6"/><circle cx="263.4" cy="397.0"/><circle cx="264.0" cy="400.2"/><circle cx="263.5" cy="403.4"/><circle cx="263.8" cy="406.5"/><circle cx="263.7" cy="409.2"/></g>
<g fill="#4169e1"><circle cx="265.9" cy="407.8"/></g>
<g fill="#a0522d"><circle cx="266.0" cy="373.8"/><circle cx="266.3" cy="374.6"/><circle cx="265.8" cy="375.4"/><circle cx="266.0" cy="376.2"/><circle cx="266.2" cy="378.2"/><circle cx="266.1" cy="380.2"/><circle cx="266.0" cy="382.2"/><circle cx="265.8" cy="384.2"/><circle cx="266.1" cy="386.2"/><circle cx="266.0" cy="388.2"/><circle cx="265.9" cy="390.2"/><circle cx="266.2" cy="392.2"/><circle cx="265.9" cy="394.2"/><circle cx="266.2" cy="396.2"/><circle cx="266.1" cy="398.2"/><circle cx="266.0" cy="400.2"/><circle cx="266.1" cy="402.2"/><circle cx="266.3" cy="376.2"/><circle cx="266.2" cy="378.7"/><circle cx="266.0" cy="381.9"/><circle cx="265.5" cy="384.8"/><circle cx="266.2" cy="387.9"/><circle cx="265.5" cy="391.0"/><circle cx="265.6" cy="394.0"/><circle cx="265.7" cy="396.6"/><circle cx="266.2" cy="399.1"/><circle cx="265.6" cy="402.2"/></g>
<g fill="#4169e1"><circle cx="268.0" cy="219.8"/><circle cx="268.1" cy="220.6"/><circle cx="268.1" cy="221.4"/><circle cx="268.0" cy="222.2"/><circle cx="267.9" cy="224.2"/><circle cx="268.1" cy="226.3"/><circle cx="268.2" cy="228.3"/><circle cx="267.8" cy="230.4"/><circle cx="268.1" cy="232.4"/><circle cx="268.2" cy="234.5"/><circle cx="268.0" cy="236.5"/><circle cx="268.1" cy="238.5"/><circle cx="268.2" cy="240.6"/><circle cx="268.1" cy="242.6"/><circle cx="268.0" cy="244.7"/><circle cx="267.8" cy="246.7"/><circle cx="268.1" cy="248.8"/><circle cx="267.9" cy="250.8"/><circle cx="268.1" cy="252.9"/><circle cx="267.9" cy="254.9"/><circle cx="267.9" cy="256.9"/><circle cx="268.2" cy="259.0"/><circle cx="267.9" cy="261.0"/><circle cx="268.0" cy="263.1"/><circle cx="267.9" cy="265.1"/><circle cx="267.8" cy="267.2"/><circle cx="267.8" cy="269.2"/><circle cx="268.1" cy="271.2"/><circle cx="268.1" cy="273.3"/><circle cx="268.1" cy="275.3"/><circle cx="268.0" cy="277.4"/><circle cx="267.8" cy="279.4"/><circle cx="267.9" cy="281.5"/><circle cx="268.0" cy="283.5"/><circle cx="268.0" cy="285.5"/><circle cx="267.8" cy="287.6"/><circle cx="267.9" cy="289.6"/><circle cx="267.9" cy="291.7"/><circle cx="267.9" cy="293.7"/><circle cx="268.0" cy="295.8"/><circle cx="268.1" cy="297.8"/><circle cx="267.8" cy="299.9"/><circle cx="267.8" cy="301.9"/><circle cx="268.0" cy="303.9"/><circle cx="268.0" cy="306.0"/><circle cx="267.9" cy="308.0"/><circle cx="267.9" cy="310.1"/><circle cx="267.9" cy="312.1"/><circle cx="268.0" cy="314.2"/><circle cx="267.9" cy="316.2"/><circle cx="268.4" cy="222.2"/><circle cx="267.6" cy="224.7"/><circle cx="267.7" cy="228.4"/><circle cx="268.1" cy="231.5"/><circle cx="267.7" cy="233.9"/><circle cx="268.4" cy="236.8"/><circle cx="268.2" cy="239.9"/><circle cx="268.1" cy="243.3"/><circle cx="268.5" cy="246.7"/><circle cx="268.0" cy="249.5"/><circle cx="268.0" cy="252.9"/><circle cx="268.3" cy="255.2"/><circle cx="267.5" cy="258.9"/><circle cx="267.9" cy="261.3"/><circle cx="268.0" cy="265.0"/><circle cx="267.6" cy="267.2"/><circle cx="267.5" cy="271.1"/><circle cx="267.5" cy="273.8"/><circle cx="268.5" cy="276.8"/><circle cx="268.4" cy="279.4"/><circle cx="267.8" cy="282.5"/><circle cx="268.1" cy="285.4"/><circle cx="268.3" cy="288.6"/><circle cx="267.6" cy="291.7"/><circle cx="268.1" cy="294.5"/><circle cx="267.8" cy="298.1"/><circle cx="268.0" cy="301.0"/><circle cx="268.0" cy="303.5"/><circle cx="268.3" cy="307.4"/><circle cx="268.1" cy="310.2"/><circle cx="268.2" cy="312.8"/><circle cx="268.2" cy="316.2"/></g>
<g fill="#e9967a"><circle cx="267.7" cy="303.8"/><circle cx="268.1" cy="304.6"/><circle cx="268.2" cy="305.4"/><circle cx="268.0" cy="306.2"/><circle cx="267.8" cy="308.2"/><circle cx="267.8" cy="310.2"/><circle cx="268.0" cy="312.2"/><circle cx="267.9" cy="314.2"/><circle cx="268.0" cy="316.2"/><circle cx="267.9" cy="318.2"/><circle cx="268.2" cy="320.2"/><circle cx="267.9" cy="322.2"/><circle cx="268.2" cy="324.2"/><circle cx="268.1" cy="326.2"/><circle cx="268.1" cy="328.2"/><circle cx="267.9" cy="330.2"/><circle cx="267.9" cy="332.2"/><circle cx="268.0" cy="334.2"/><circle cx="268.1" cy="336.2"/><circle cx="268.1" cy="338.2"/><circle cx="268.0" cy="340.2"/><circle cx="267.9" cy="342.2"/><circle cx="267.8" cy="344.2"/><circle cx="267.8" cy="346.2"/><circle cx="267.8" cy="348.2"/><circle cx="268.0" cy="350.2"/><circle cx="268.0" cy="352.2"/><circle cx="268.2" cy="354.2"/><circle cx="267.9" cy="356.2"/><circle cx="268.2" cy="358.2"/><circle cx="267.8" cy="360.2"/><circle cx="267.9" cy="362.2"/><circle cx="267.9" cy="364.2"/><circle cx="268.2" cy="306.2"/><circle cx="267.8" cy="309.5"/><circle cx="268.5" cy="312.6"/><circle cx="268.0" cy="315.8"/><circle cx="268.2" cy="318.1"/><circle cx="268.4" cy="321.4"/><circle cx="268.2" cy="324.8"/><circle cx="267.7" cy="327.9"/><circle cx="267.7" cy="330.4"/><circle cx="267.6" cy="334.1"/><circle cx="268.5" cy="336.1"/><circle cx="267.8" cy="339.7"/><circle cx="267.7" cy="342.6"/><circle cx="267.9" cy="345.6"/><circle cx="267.9" cy="349.5"/><circle cx="267.7" cy="352.5"/><circle cx="267.5" cy="354.6"/><circle cx="267.8" cy="358.2"/><circle cx="267.8" cy="361.6"/><circle cx="268.2" cy="364.2"/></g>
<g fill="#763b10"><circle cx="268.0" cy="296.9"/><circle cx="267.9" cy="297.7"/><circle cx="267.8" cy="298.5"/><circle cx="267.7" cy="299.3"/><circle cx="268.1" cy="300.5"/><circle cx="268.3" cy="301.4"/><circle cx="268.4" cy="303.6"/><circle cx="267.8" cy="304.8"/><circle cx="267.5" cy="305.8"/><circle cx="268.1" cy="307.0"/><circle cx="268.3" cy="307.8"/><circle cx="267.6" cy="309.0"/><circle cx="268.2" cy="310.4"/><circle cx="267.9" cy="311.6"/><circle cx="268.2" cy="312.6"/><circle cx="268.1" cy="313.9"/><circle cx="267.8" cy="315.5"/><circle cx="268.1" cy="316.3"/><circle cx="268.2" cy="318.2"/><circle cx="267.8" cy="319.9"/><circle cx="267.9" cy="320.7"/><circle cx="267.7" cy="322.4"/><circle cx="268.2" cy="322.8"/><circle cx="267.5" cy="323.8"/><circle cx="268.4" cy="326.0"/><circle cx="268.0" cy="326.5"/><circle cx="268.3" cy="328.5"/><circle cx="268.4" cy="329.8"/><circle cx="268.4" cy="331.0"/><circle cx="267.7" cy="331.4"/><circle cx="268.0" cy="333.6"/><circle cx="267.7" cy="334.9"/><circle cx="267.8" cy="335.6"/><circle cx="267.8" cy="336.4"/><circle cx="267.7" cy="338.5"/><circle cx="268.2" cy="339.9"/><circle cx="267.9" cy="340.5"/><circle cx="268.0" cy="342.1"/><circle cx="267.8" cy="343.3"/><circle cx="268.0" cy="344.4"/><circle cx="267.7" cy="346.0"/><circle cx="268.4" cy="346.9"/><circle cx="267.6" cy="348.6"/><circle cx="267.7" cy="350.0"/><circle cx="268.3" cy="350.2"/><circle cx="267.8" cy="351.8"/><circle cx="268.0" cy="352.6"/><circle cx="267.7" cy="354.4"/></g>
<g fill="#274965"><circle cx="273.0" cy="303.0"/><circle cx="273.1" cy="303.8"/><circle cx="273.3" cy="304.6"/><circle cx="272.5" cy="305.4"/><circle cx="273.4" cy="307.1"/><circle cx="273.2" cy="308.0"/><circle cx="273.1" cy="309.9"/><circle cx="273.1" cy="312.0"/><circle cx="273.4" cy="312.7"/><circle cx="273.1" cy="314.3"/><circle cx="273.0" cy="316.7"/><circle cx="272.7" cy="318.0"/><circle cx="273.0" cy="319.3"/><circle cx="272.5" cy="321.4"/><circle cx="273.1" cy="321.9"/><circle cx="273.2" cy="323.8"/><circle cx="272.7" cy="325.8"/><circle cx="273.3" cy="326.8"/><circle cx="272.6" cy="328.4"/><circle cx="273.1" cy="330.6"/><circle cx="273.4" cy="331.3"/><circle cx="273.1" cy="333.0"/><circle cx="273.3" cy="334.0"/><circle cx="273.1" cy="335.8"/><circle cx="273.5" cy="337.3"/><circle cx="272.6" cy="339.6"/><circle cx="272.8" cy="341.2"/><circle cx="272.6" cy="341.9"/><circle cx="272.8" cy="344.1"/><circle cx="273.3" cy="345.4"/><circle cx="273.0" cy="347.3"/><circle cx="272.5" cy="348.5"/><circle cx="272.8" cy="349.9"/></g>
<g fill="#a0522d"><circle cx="276.3" cy="297.8"/><circle cx="276.1" cy="298.6"/><circle cx="276.2" cy="299.4"/><circle cx="276.0" cy="300.2"/><circle cx="276.0" cy="302.2"/><circle cx="276.0" cy="304.2"/><circle cx="275.8" cy="306.2"/><circle cx="275.8" cy="308.2"/><circle cx="276.1" cy="310.2"/><circle cx="276.2" cy="312.2"/><circle cx="275.9" cy="314.2"/><circle cx="275.9" cy="316.2"/><circle cx="276.2" cy="318.2"/><circle cx="276.0" cy="320.2"/><circle cx="276.0" cy="322.2"/><circle cx="276.0" cy="324.2"/><circle cx="276.0" cy="326.2"/><circle cx="276.1" cy="328.2"/><circle cx="276.0" cy="330.2"/><circle cx="276.1" cy="332.2"/><circle cx="276.0" cy="334.2"/><circle cx="276.1" cy="336.2"/><circle cx="276.2" cy="338.2"/><circle cx="276.0" cy="340.2"/><circle cx="276.1" cy="300.2"/><circle cx="275.7" cy="303.0"/><circle cx="275.7" cy="306.3"/><circle cx="276.2" cy="309.3"/><circle cx="275.7" cy="312.4"/><circle cx="275.9" cy="316.0"/><circle cx="276.5" cy="318.6"/><circle cx="276.4" cy="322.2"/><circle cx="275.8" cy="324.6"/><circle cx="276.4" cy="328.3"/><circle cx="276.2" cy="331.4"/><circle cx="276.5" cy="333.7"/><circle cx="275.6" cy="337.7"/><circle cx="275.5" cy="340.2"/></g>
<g fill="#2e8b57"><circle cx="277.7" cy="347.8"/><circle cx="277.3" cy="348.6"/><circle cx="277.6" cy="349.4"/><circle cx="277.6" cy="350.2"/><circle cx="277.5" cy="352.2"/><circle cx="277.3" cy="354.2"/><circle cx="277.5" cy="356.2"/><circle cx="277.4" cy="358.2"/><circle cx="277.6" cy="360.2"/><circle cx="277.6" cy="362.2"/><circle cx="277.3" cy="364.2"/><circle cx="277.5" cy="366.2"/><circle cx="277.5" cy="368.2"/><circle cx="277.4" cy="370.2"/><circle cx="277.5" cy="372.2"/><circle cx="277.5" cy="374.2"/><circle cx="277.8" cy="350.2"/><circle cx="277.5" cy="352.8"/><circle cx="277.5" cy="355.7"/><circle cx="277.5" cy="358.7"/><circle cx="277.6" cy="362.1"/><circle cx="277.9" cy="364.8"/><circle cx="277.9" cy="367.6"/><circle cx="277.0" cy="370.8"/><circle cx="277.4" cy="374.2"/></g>
<g fill="#005556"><circle cx="277.9" cy="314.0"/><circle cx="277.8" cy="314.8"/><circle cx="277.9" cy="315.6"/><circle cx="277.7" cy="316.4"/><circle cx="278.3" cy="318.2"/><circle cx="277.7" cy="318.8"/><circle cx="278.2" cy="320.8"/><circle cx="278.1" cy="322.6"/><circle cx="277.7" cy="323.5"/><circle cx="277.5" cy="325.5"/><circle cx="278.4" cy="326.9"/><circle cx="277.9" cy="327.9"/><circle cx="277.6" cy="330.3"/><circle cx="278.2" cy="330.8"/><circle cx="278.1" cy="333.1"/><circle cx="278.2" cy="334.2"/><circle cx="278.0" cy="335.7"/></g>
<g fill="#2a1a10"><circle cx="333.7" cy="315.8"/><circle cx="334.1" cy="316.6"/><circle cx="334.2" cy="317.4"/><circle cx="334.1" cy="318.2"/><circle cx="334.0" cy="320.2"/><circle cx="333.9" cy="322.2"/><circle cx="333.9" cy="324.2"/><circle cx="334.1" cy="326.2"/><circle cx="333.9" cy="328.2"/><circle cx="334.1" cy="330.2"/><circle cx="334.2" cy="332.2"/><circle cx="333.9" cy="334.2"/><circle cx="334.1" cy="336.2"/><circle cx="334.2" cy="338.2"/><circle cx="333.8" cy="340.2"/><circle cx="333.8" cy="342.2"/><circle cx="334.2" cy="344.2"/><circle cx="334.0" cy="346.2"/><circle cx="333.9" cy="348.2"/><circle cx="333.8" cy="350.2"/><circle cx="333.8" cy="352.2"/><circle cx="334.0" cy="354.2"/><circle cx="334.0" cy="356.2"/><circle cx="334.1" cy="318.2"/><circle cx="334.3" cy="320.9"/><circle cx="334.4" cy="324.2"/><circle cx="333.5" cy="327.3"/><circle cx="334.0" cy="330.1"/><circle cx="333.8" cy="332.6"/><circle cx="334.5" cy="336.3"/><circle cx="334.4" cy="339.1"/><circle cx="334.0" cy="341.8"/><circle cx="334.4" cy="344.8"/><circle cx="333.7" cy="347.4"/><circle cx="334.4" cy="350.1"/><circle cx="333.5" cy="353.8"/><circle cx="334.4" cy="356.2"/></g>
<g fill="#310056"><circle cx="334.2" cy="312.2"/><circle cx="334.0" cy="313.0"/><circle cx="334.2" cy="313.8"/><circle cx="334.1" cy="314.6"/><circle cx="333.5" cy="315.8"/><circle cx="334.1" cy="317.2"/><circle cx="334.5" cy="317.8"/><circle cx="334.5" cy="319.6"/><circle cx="334.4" cy="320.7"/><circle cx="334.4" cy="322.4"/><circle cx="333.5" cy="323.0"/><circle cx="333.5" cy="323.7"/><circle cx="333.7" cy="325.4"/><circle cx="334.2" cy="326.5"/><circle cx="334.3" cy="327.5"/><circle cx="334.0" cy="328.7"/><circle cx="333.8" cy="330.6"/><circle cx="334.1" cy="330.9"/><circle cx="334.0" cy="333.3"/><circle cx="333.7" cy="333.4"/><circle cx="333.8" cy="335.3"/><circle cx="334.4" cy="336.2"/><circle cx="333.7" cy="337.6"/><circle cx="334.3" cy="338.8"/><circle cx="334.4" cy="340.0"/><circle cx="333.6" cy="341.7"/><circle cx="334.0" cy="342.7"/><circle cx="334.2" cy="343.8"/><circle cx="333.8" cy="344.9"/><circle cx="334.3" cy="346.3"/><circle cx="334.5" cy="347.6"/><circle cx="334.4" cy="348.8"/><circle cx="333.8" cy="350.2"/><circle cx="334.5" cy="350.9"/><circle cx="334.2" cy="351.7"/><circle cx="334.2" cy="353.4"/><circle cx="334.5" cy="354.5"/></g>
<g fill="#3a4a10"><circle cx="336.3" cy="303.8"/><circle cx="336.0" cy="304.6"/><circle cx="336.1" cy="305.4"/><circle cx="336.4" cy="306.2"/><circle cx="336.3" cy="308.2"/><circle cx="336.4" cy="310.2"/><circle cx="336.2" cy="312.2"/><circle cx="336.1" cy="314.2"/><circle cx="336.2" cy="316.2"/><circle cx="336.1" cy="318.2"/><circle cx="336.2" cy="320.2"/><circle cx="336.3" cy="322.2"/><circle cx="336.0" cy="324.2"/><circle cx="336.4" cy="326.2"/><circle cx="336.3" cy="328.2"/><circle cx="336.1" cy="330.2"/><circle cx="336.1" cy="332.2"/><circle cx="336.3" cy="334.2"/><circle cx="336.3" cy="336.2"/><circle cx="336.1" cy="338.2"/><circle cx="336.4" cy="340.2"/><circle cx="336.0" cy="342.2"/><circle cx="336.3" cy="344.2"/><circle cx="336.1" cy="346.2"/><circle cx="336.1" cy="348.2"/><circle cx="336.1" cy="350.2"/><circle cx="336.3" cy="352.2"/><circle cx="336.1" cy="354.2"/><circle cx="336.2" cy="356.2"/><circle cx="336.0" cy="306.2"/><circle cx="335.8" cy="308.8"/><circle cx="335.8" cy="311.5"/><circle cx="335.7" cy="314.7"/><circle cx="335.9" cy="317.6"/><circle cx="336.0" cy="321.0"/><circle cx="336.3" cy="323.6"/><circle cx="336.1" cy="327.0"/><circle cx="336.2" cy="329.8"/><circle cx="336.3" cy="332.6"/><circle cx="336.0" cy="335.6"/><circle cx="336.6" cy="339.1"/><circle cx="336.3" cy="341.0"/><circle cx="336.5" cy="344.7"/><circle cx="336.7" cy="347.5"/><circle cx="336.5" cy="350.8"/><circle cx="335.8" cy="353.3"/><circle cx="336.1" cy="356.2"/></g>
<g fill="#adff2f"><circle cx="336.3" cy="363.8"/><circle cx="336.2" cy="366.3"/><circle cx="336.3" cy="368.7"/><circle cx="336.2" cy="371.2"/><circle cx="335.8" cy="363.8"/><circle cx="336.4" cy="368.0"/><circle cx="336.3" cy="371.2"/></g>
<g fill="#3f5314"><circle cx="339.1" cy="312.4"/><circle cx="338.8" cy="313.2"/><circle cx="339.3" cy="314.0"/><circle cx="338.7" cy="314.8"/><circle cx="339.5" cy="315.8"/><circle cx="339.0" cy="317.8"/><circle cx="339.3" cy="319.5"/><circle cx="339.1" cy="321.4"/><circle cx="338.9" cy="322.6"/><circle cx="339.0" cy="324.2"/><circle cx="339.3" cy="326.3"/><circle cx="338.5" cy="327.5"/><circle cx="339.3" cy="329.2"/><circle cx="339.4" cy="331.5"/><circle cx="339.0" cy="332.5"/><circle cx="339.1" cy="334.2"/><circle cx="339.4" cy="336.2"/><circle cx="338.9" cy="337.2"/><circle cx="339.1" cy="339.2"/><circle cx="338.9" cy="340.3"/><circle cx="339.0" cy="342.9"/><circle cx="339.5" cy="343.6"/><circle cx="338.6" cy="345.7"/></g>
<g fill="#2a1212"><circle cx="342.1" cy="261.3"/><circle cx="341.8" cy="262.1"/><circle cx="342.2" cy="262.9"/><circle cx="342.0" cy="263.7"/><circle cx="342.3" cy="264.7"/><circle cx="342.5" cy="267.1"/><circle cx="342.1" cy="267.8"/><circle cx="341.7" cy="269.3"/><circle cx="341.8" cy="271.0"/><circle cx="342.5" cy="273.3"/><circle cx="342.0" cy="274.2"/><circle cx="341.5" cy="275.6"/><circle cx="342.4" cy="277.1"/><circle cx="341.9" cy="279.0"/><circle cx="342.0" cy="280.3"/><circle cx="342.1" cy="282.1"/><circle cx="342.5" cy="283.0"/><circle cx="341.6" cy="284.2"/><circle cx="342.3" cy="286.7"/><circle cx="341.9" cy="287.6"/><circle cx="342.4" cy="288.9"/><circle cx="342.4" cy="291.0"/><circle cx="342.4" cy="292.0"/><circle cx="341.6" cy="293.1"/><circle cx="341.9" cy="295.6"/><circle cx="342.4" cy="296.9"/><circle cx="341.8" cy="298.1"/><circle cx="341.9" cy="299.4"/><circle cx="342.4" cy="301.4"/><circle cx="342.3" cy="302.5"/><circle cx="341.7" cy="304.6"/><circle cx="341.8" cy="305.5"/><circle cx="342.1" cy="307.7"/><circle cx="341.6" cy="308.8"/><circle cx="341.6" cy="310.4"/><circle cx="341.9" cy="311.7"/><circle cx="342.0" cy="312.7"/><circle cx="341.7" cy="314.6"/><circle cx="341.8" cy="316.0"/><circle cx="342.4" cy="318.1"/><circle cx="342.0" cy="318.9"/><circle cx="342.3" cy="321.2"/><circle cx="342.2" cy="322.3"/><circle cx="342.0" cy="323.4"/><circle cx="341.6" cy="325.5"/><circle cx="342.2" cy="327.1"/><circle cx="341.6" cy="328.8"/><circle cx="341.6" cy="329.9"/><circle cx="342.1" cy="331.4"/><circle cx="342.2" cy="332.6"/><circle cx="342.3" cy="334.2"/><circle cx="342.3" cy="336.0"/><circle cx="342.0" cy="337.7"/><circle cx="342.2" cy="338.9"/><circle cx="342.0" cy="340.1"/><circle cx="342.3" cy="342.0"/><circle cx="342.3" cy="343.0"/><circle cx="342.4" cy="344.2"/><circle cx="341.8" cy="346.2"/></g>
<g fill="#1e0a28"><circle cx="342.7" cy="253.8"/><circle cx="342.3" cy="254.6"/><circle cx="342.2" cy="255.4"/><circle cx="342.0" cy="256.2"/><circle cx="342.9" cy="257.4"/><circle cx="342.2" cy="259.2"/><circle cx="342.4" cy="260.5"/><circle cx="342.9" cy="261.7"/><circle cx="342.4" cy="263.8"/><circle cx="342.3" cy="265.6"/><circle cx="342.7" cy="266.2"/><circle cx="342.6" cy="267.6"/><circle cx="342.9" cy="269.3"/><circle cx="342.6" cy="270.6"/><circle cx="342.3" cy="272.3"/><circle cx="342.3" cy="273.5"/><circle cx="342.5" cy="275.6"/><circle cx="342.8" cy="277.2"/><circle cx="342.2" cy="278.4"/><circle cx="342.9" cy="280.0"/><circle cx="342.6" cy="281.4"/><circle cx="342.7" cy="283.1"/><circle cx="342.8" cy="284.4"/><circle cx="342.1" cy="286.0"/><circle cx="342.6" cy="287.8"/><circle cx="343.0" cy="289.3"/><circle cx="342.5" cy="290.2"/><circle cx="342.5" cy="291.5"/><circle cx="342.6" cy="293.2"/><circle cx="342.6" cy="294.4"/><circle cx="342.6" cy="296.2"/></g>
<g fill="#924141"><circle cx="344.3" cy="307.3"/><circle cx="344.2" cy="308.1"/><circle cx="344.2" cy="308.9"/><circle cx="343.8" cy="309.7"/><circle cx="343.6" cy="311.7"/><circle cx="343.6" cy="312.9"/><circle cx="344.3" cy="315.0"/><circle cx="344.2" cy="316.3"/><circle cx="343.7" cy="317.8"/><circle cx="344.1" cy="320.1"/><circle cx="344.4" cy="321.0"/><circle cx="343.9" cy="323.6"/><circle cx="344.3" cy="324.3"/><circle cx="343.7" cy="327.0"/><circle cx="343.7" cy="328.5"/><circle cx="344.1" cy="330.5"/><circle cx="343.8" cy="331.9"/><circle cx="343.8" cy="333.8"/><circle cx="344.4" cy="334.6"/><circle cx="343.6" cy="336.6"/><circle cx="344.4" cy="338.9"/><circle cx="343.8" cy="339.5"/><circle cx="343.7" cy="341.8"/></g>
<g fill="#f0e68c"><circle cx="345.4" cy="328.8"/><circle cx="345.3" cy="329.6"/><circle cx="345.5" cy="330.4"/><circle cx="345.2" cy="331.2"/><circle cx="345.5" cy="333.4"/><circle cx="345.4" cy="335.7"/><circle cx="345.5" cy="337.9"/><circle cx="345.5" cy="340.2"/><circle cx="345.4" cy="331.2"/><circle cx="345.4" cy="334.3"/><circle cx="345.1" cy="337.1"/><circle cx="345.3" cy="340.2"/></g>
<g fill="#196819"><circle cx="349.0" cy="312.2"/><circle cx="349.1" cy="313.0"/><circle cx="349.0" cy="313.8"/><circle cx="349.1" cy="314.6"/><circle cx="348.6" cy="315.4"/><circle cx="349.1" cy="316.0"/><circle cx="348.8" cy="317.2"/><circle cx="349.4" cy="318.3"/><circle cx="349.3" cy="319.8"/><circle cx="349.0" cy="321.1"/><circle cx="349.1" cy="321.6"/><circle cx="349.1" cy="322.4"/><circle cx="348.6" cy="323.5"/><circle cx="349.4" cy="324.8"/><circle cx="348.6" cy="325.4"/><circle cx="348.9" cy="326.9"/><circle cx="349.2" cy="327.6"/><circle cx="349.4" cy="328.6"/><circle cx="348.7" cy="330.3"/><circle cx="348.5" cy="330.6"/><circle cx="349.4" cy="331.3"/><circle cx="349.0" cy="333.1"/><circle cx="349.4" cy="333.5"/><circle cx="349.4" cy="335.0"/><circle cx="349.1" cy="336.0"/><circle cx="348.7" cy="337.4"/><circle cx="349.3" cy="337.6"/><circle cx="348.6" cy="338.4"/><circle cx="348.9" cy="339.4"/><circle cx="349.3" cy="341.3"/><circle cx="349.2" cy="341.7"/><circle cx="348.6" cy="342.9"/></g>
<g fill="#c8c8d0"><circle cx="349.7" cy="293.8"/><circle cx="349.9" cy="294.6"/><circle cx="349.8" cy="295.4"/><circle cx="350.0" cy="296.2"/><circle cx="350.2" cy="298.2"/><circle cx="350.0" cy="300.2"/><circle cx="350.0" cy="302.2"/><circle cx="349.9" cy="304.2"/><circle cx="349.9" cy="306.2"/><circle cx="349.9" cy="308.2"/><circle cx="349.8" cy="310.2"/><circle cx="350.1" cy="312.2"/><circle cx="349.8" cy="314.2"/><circle cx="349.9" cy="316.2"/><circle cx="350.0" cy="318.2"/><circle cx="350.2" cy="320.2"/><circle cx="350.0" cy="322.2"/><circle cx="349.9" cy="324.2"/><circle cx="350.2" cy="326.2"/><circle cx="350.3" cy="296.2"/><circle cx="350.5" cy="299.6"/><circle cx="349.9" cy="302.2"/><circle cx="349.9" cy="304.6"/><circle cx="349.5" cy="308.6"/><circle cx="350.1" cy="311.7"/><circle cx="349.6" cy="314.8"/><circle cx="350.1" cy="317.3"/><circle cx="349.8" cy="320.6"/><circle cx="349.5" cy="323.4"/><circle cx="350.2" cy="326.2"/></g>
<g fill="#7cfc00"><circle cx="350.5" cy="321.8"/><circle cx="350.3" cy="322.6"/><circle cx="350.5" cy="323.4"/><circle cx="350.4" cy="324.2"/><circle cx="350.2" cy="326.2"/><circle cx="350.1" cy="328.2"/><circle cx="350.3" cy="330.3"/><circle cx="350.5" cy="332.3"/><circle cx="350.4" cy="334.3"/><circle cx="350.1" cy="336.3"/><circle cx="350.4" cy="338.3"/><circle cx="350.4" cy="340.3"/><circle cx="350.4" cy="342.4"/><circle cx="350.4" cy="344.4"/><circle cx="350.5" cy="346.4"/><circle cx="350.4" cy="348.4"/><circle cx="350.4" cy="350.4"/><circle cx="350.2" cy="352.4"/><circle cx="350.1" cy="324.2"/><circle cx="350.8" cy="327.4"/><circle cx="349.9" cy="330.9"/><circle cx="350.2" cy="333.1"/><circle cx="350.7" cy="337.2"/><circle cx="350.0" cy="340.0"/><circle cx="350.4" cy="343.2"/><circle cx="350.0" cy="346.5"/><circle cx="350.2" cy="348.8"/><circle cx="350.4" cy="352.4"/></g>
<g fill="#7cfc00"><circle cx="352.3" cy="361.8"/><circle cx="351.9" cy="362.6"/><circle cx="352.3" cy="363.4"/><circle cx="351.8" cy="364.2"/><circle cx="352.1" cy="366.2"/><circle cx="352.0" cy="368.2"/><circle cx="352.2" cy="370.2"/><circle cx="352.2" cy="372.2"/><circle cx="352.2" cy="374.2"/><circle cx="352.2" cy="376.2"/><circle cx="352.0" cy="364.2"/><circle cx="352.1" cy="369.6"/><circle cx="352.0" cy="376.2"/></g>
<g fill="#7cfc00"><circle cx="352.6" cy="284.4"/><circle cx="352.7" cy="285.2"/><circle cx="352.7" cy="286.0"/><circle cx="352.6" cy="286.8"/><circle cx="352.6" cy="289.0"/><circle cx="352.3" cy="291.3"/><circle cx="352.5" cy="293.5"/><circle cx="352.6" cy="295.7"/><circle cx="352.5" cy="298.0"/><circle cx="352.6" cy="300.2"/><circle cx="352.2" cy="286.8"/><circle cx="352.2" cy="289.8"/><circle cx="352.3" cy="293.4"/><circle cx="352.0" cy="297.2"/><circle cx="352.3" cy="300.2"/></g>
<g fill="#1e384e"><circle cx="354.0" cy="302.2"/><circle cx="354.2" cy="303.0"/><circle cx="354.0" cy="303.8"/><circle cx="354.3" cy="304.6"/><circle cx="354.4" cy="305.6"/><circle cx="354.4" cy="307.6"/><circle cx="354.0" cy="308.7"/><circle cx="353.9" cy="310.2"/><circle cx="353.8" cy="311.5"/><circle cx="353.8" cy="314.1"/><circle cx="354.2" cy="315.5"/><circle cx="353.8" cy="317.0"/><circle cx="353.5" cy="317.6"/><circle cx="353.7" cy="319.9"/><circle cx="353.8" cy="320.6"/><circle cx="354.3" cy="322.2"/><circle cx="353.9" cy="323.8"/><circle cx="354.2" cy="325.8"/><circle cx="354.1" cy="327.2"/><circle cx="353.8" cy="328.2"/><circle cx="353.8" cy="329.4"/><circle cx="354.3" cy="331.0"/><circle cx="354.3" cy="333.2"/><circle cx="354.5" cy="334.0"/><circle cx="354.3" cy="335.8"/><circle cx="354.3" cy="337.2"/><circle cx="353.6" cy="338.7"/><circle cx="353.9" cy="339.8"/><circle cx="354.2" cy="341.2"/><circle cx="353.8" cy="343.4"/><circle cx="353.7" cy="344.5"/><circle cx="353.8" cy="346.1"/></g>
<g fill="#add8e6"><circle cx="355.3" cy="346.8"/><circle cx="355.5" cy="348.9"/><circle cx="355.1" cy="351.1"/><circle cx="355.3" cy="353.2"/><circle cx="355.2" cy="346.8"/><circle cx="355.1" cy="349.8"/><circle cx="354.8" cy="353.2"/></g>
<g fill="#2e8b58"><circle cx="358.8" cy="304.6"/><circle cx="359.1" cy="305.4"/><circle cx="359.0" cy="306.2"/><circle cx="359.2" cy="307.0"/><circle cx="358.6" cy="308.1"/><circle cx="359.5" cy="309.0"/><circle cx="359.1" cy="311.4"/><circle cx="358.9" cy="312.4"/><circle cx="359.2" cy="313.5"/><circle cx="359.2" cy="314.5"/><circle cx="359.2" cy="316.4"/><circle cx="358.9" cy="317.6"/><circle cx="359.3" cy="319.1"/><circle cx="359.2" cy="319.9"/><circle cx="358.7" cy="321.3"/><circle cx="358.5" cy="322.9"/><circle cx="358.7" cy="323.7"/><circle cx="359.0" cy="325.6"/><circle cx="358.9" cy="326.5"/><circle cx="358.6" cy="328.3"/><circle cx="359.2" cy="329.5"/><circle cx="358.9" cy="330.2"/><circle cx="358.8" cy="332.0"/><circle cx="358.6" cy="333.0"/><circle cx="359.4" cy="334.2"/><circle cx="359.4" cy="335.2"/><circle cx="359.1" cy="336.5"/><circle cx="359.1" cy="338.6"/><circle cx="359.1" cy="340.0"/><circle cx="358.8" cy="340.6"/><circle cx="359.3" cy="342.6"/><circle cx="359.4" cy="342.9"/><circle cx="359.0" cy="344.4"/><circle cx="358.9" cy="345.7"/><circle cx="358.7" cy="346.9"/><circle cx="359.2" cy="348.6"/><circle cx="359.3" cy="349.5"/><circle cx="359.5" cy="351.7"/><circle cx="359.1" cy="352.7"/><circle cx="358.7" cy="353.2"/><circle cx="359.3" cy="354.8"/><circle cx="358.6" cy="356.3"/><circle cx="359.5" cy="358.0"/><circle cx="359.1" cy="358.9"/></g>
<g fill="#2a1616"><circle cx="359.3" cy="277.8"/><circle cx="359.7" cy="278.6"/><circle cx="359.2" cy="279.4"/><circle cx="360.0" cy="280.2"/><circle cx="359.6" cy="282.2"/><circle cx="359.8" cy="283.1"/><circle cx="359.2" cy="284.2"/><circle cx="359.9" cy="286.1"/><circle cx="360.0" cy="287.9"/><circle cx="359.7" cy="289.3"/><circle cx="359.6" cy="291.2"/><circle cx="359.6" cy="292.6"/><circle cx="360.0" cy="294.2"/><circle cx="359.0" cy="295.1"/><circle cx="359.1" cy="297.0"/><circle cx="359.3" cy="297.8"/><circle cx="359.1" cy="299.6"/><circle cx="359.1" cy="301.4"/><circle cx="359.3" cy="303.2"/><circle cx="359.3" cy="304.6"/><circle cx="359.6" cy="306.2"/><circle cx="359.7" cy="307.6"/><circle cx="359.6" cy="309.0"/><circle cx="359.6" cy="310.8"/><circle cx="359.1" cy="311.5"/><circle cx="359.4" cy="314.0"/><circle cx="359.4" cy="314.8"/><circle cx="359.6" cy="317.0"/><circle cx="359.7" cy="318.0"/><circle cx="359.1" cy="319.3"/><circle cx="360.0" cy="321.2"/><circle cx="359.1" cy="323.1"/><circle cx="359.9" cy="323.9"/><circle cx="359.4" cy="325.4"/><circle cx="359.4" cy="327.6"/><circle cx="360.0" cy="329.1"/><circle cx="359.0" cy="330.6"/><circle cx="359.9" cy="331.9"/><circle cx="359.2" cy="333.6"/><circle cx="359.4" cy="334.1"/><circle cx="359.7" cy="336.2"/></g>
<g fill="#90ee90"><circle cx="361.3" cy="303.8"/><circle cx="360.7" cy="304.6"/><circle cx="361.2" cy="305.4"/><circle cx="361.1" cy="306.2"/><circle cx="361.1" cy="308.2"/><circle cx="361.2" cy="310.3"/><circle cx="360.8" cy="312.3"/><circle cx="360.9" cy="314.4"/><circle cx="360.8" cy="316.4"/><circle cx="361.1" cy="318.5"/><circle cx="361.0" cy="320.5"/><circle cx="361.2" cy="322.6"/><circle cx="360.9" cy="324.6"/><circle cx="361.1" cy="326.7"/><circle cx="361.1" cy="328.7"/><circle cx="360.8" cy="330.7"/><circle cx="361.1" cy="332.8"/><circle cx="361.0" cy="334.8"/><circle cx="361.0" cy="336.9"/><circle cx="360.9" cy="338.9"/><circle cx="361.1" cy="341.0"/><circle cx="360.8" cy="343.0"/><circle cx="360.9" cy="345.1"/><circle cx="361.0" cy="347.1"/><circle cx="361.2" cy="349.2"/><circle cx="360.8" cy="351.2"/><circle cx="361.0" cy="353.2"/><circle cx="360.9" cy="355.3"/><circle cx="360.9" cy="357.3"/><circle cx="360.9" cy="359.4"/><circle cx="361.1" cy="361.4"/><circle cx="361.1" cy="363.5"/><circle cx="360.9" cy="365.5"/><circle cx="361.2" cy="367.6"/><circle cx="361.0" cy="369.6"/><circle cx="361.1" cy="371.7"/><circle cx="360.8" cy="373.7"/><circle cx="360.9" cy="306.2"/><circle cx="360.7" cy="308.8"/><circle cx="360.7" cy="312.3"/><circle cx="360.8" cy="315.9"/><circle cx="360.6" cy="319.0"/><circle cx="360.6" cy="321.3"/><circle cx="360.8" cy="324.8"/><circle cx="361.2" cy="327.7"/><circle cx="361.1" cy="331.2"/><circle cx="361.2" cy="333.2"/><circle cx="360.6" cy="336.3"/><circle cx="360.7" cy="340.5"/><circle cx="360.7" cy="342.6"/><circle cx="361.3" cy="346.5"/><circle cx="360.9" cy="349.6"/><circle cx="361.0" cy="352.6"/><circle cx="360.7" cy="355.1"/><circle cx="361.3" cy="358.0"/><circle cx="361.2" cy="361.9"/><circle cx="360.6" cy="364.0"/><circle cx="360.9" cy="367.0"/><circle cx="361.0" cy="371.1"/><circle cx="360.6" cy="373.7"/></g>
<g fill="#662e2e"><circle cx="363.8" cy="300.4"/><circle cx="363.8" cy="301.2"/><circle cx="364.1" cy="302.0"/><circle cx="364.3" cy="302.8"/><circle cx="363.6" cy="303.8"/><circle cx="363.8" cy="305.9"/><circle cx="364.2" cy="306.6"/><circle cx="364.0" cy="308.4"/><circle cx="364.3" cy="309.5"/><circle cx="364.5" cy="311.4"/><circle cx="363.9" cy="312.3"/><circle cx="363.6" cy="314.0"/><circle cx="364.2" cy="315.6"/><circle cx="364.4" cy="317.2"/><circle cx="364.1" cy="318.5"/><circle cx="363.6" cy="319.9"/><circle cx="364.1" cy="320.6"/><circle cx="364.0" cy="322.3"/><circle cx="364.2" cy="323.5"/><circle cx="364.1" cy="325.5"/><circle cx="364.2" cy="325.7"/><circle cx="364.4" cy="328.1"/><circle cx="364.1" cy="328.5"/><circle cx="363.9" cy="330.9"/><circle cx="364.1" cy="331.5"/><circle cx="363.9" cy="333.3"/><circle cx="363.8" cy="334.3"/><circle cx="363.7" cy="335.8"/><circle cx="364.4" cy="337.8"/><circle cx="363.6" cy="338.9"/><circle cx="363.8" cy="339.7"/><circle cx="364.2" cy="342.0"/><circle cx="363.8" cy="343.4"/><circle cx="363.9" cy="344.3"/><circle cx="364.1" cy="345.7"/><circle cx="363.9" cy="347.1"/><circle cx="364.3" cy="348.1"/><circle cx="363.6" cy="350.2"/><circle cx="364.1" cy="351.7"/><circle cx="363.9" cy="353.0"/><circle cx="363.9" cy="353.5"/><circle cx="363.8" cy="355.3"/><circle cx="363.7" cy="357.1"/><circle cx="364.0" cy="358.6"/><circle cx="364.4" cy="359.4"/></g>
<g fill="#fffacd"><circle cx="364.1" cy="270.8"/><circle cx="364.4" cy="273.3"/><circle cx="364.1" cy="275.7"/><circle cx="364.2" cy="278.2"/><circle cx="364.1" cy="270.8"/><circle cx="364.6" cy="274.5"/><circle cx="364.4" cy="278.2"/></g>
<g fill="#0a3a1a"><circle cx="364.6" cy="285.8"/><circle cx="364.4" cy="286.6"/><circle cx="364.4" cy="287.4"/><circle cx="364.4" cy="288.2"/><circle cx="364.3" cy="290.2"/><circle cx="364.3" cy="292.2"/><circle cx="364.3" cy="294.2"/><circle cx="364.2" cy="296.2"/><circle cx="364.2" cy="298.2"/><circle cx="364.2" cy="300.2"/><circle cx="364.4" cy="302.2"/><circle cx="364.3" cy="304.2"/><circle cx="364.1" cy="306.2"/><circle cx="364.2" cy="308.2"/><circle cx="364.5" cy="310.2"/><circle cx="364.2" cy="312.2"/><circle cx="364.2" cy="314.2"/><circle cx="364.2" cy="316.2"/><circle cx="364.1" cy="318.2"/><circle cx="364.3" cy="320.2"/><circle cx="364.5" cy="322.2"/><circle cx="364.3" cy="324.2"/><circle cx="364.2" cy="326.2"/><circle cx="364.4" cy="288.2"/><circle cx="364.8" cy="291.5"/><circle cx="364.2" cy="293.8"/><circle cx="364.0" cy="296.7"/><circle cx="364.1" cy="300.5"/><circle cx="364.0" cy="303.0"/><circle cx="363.9" cy="305.3"/><circle cx="364.3" cy="309.2"/><circle cx="363.8" cy="311.5"/><circle cx="364.8" cy="314.5"/><circle cx="364.0" cy="317.1"/><circle cx="364.5" cy="320.0"/><circle cx="363.8" cy="322.9"/><circle cx="364.2" cy="326.2"/></g>
<g fill="#ffa07a"><circle cx="367.8" cy="321.8"/><circle cx="368.1" cy="324.3"/><circle cx="368.1" cy="326.7"/><circle cx="367.8" cy="329.2"/><circle cx="368.3" cy="321.8"/><circle cx="368.0" cy="325.9"/><circle cx="367.9" cy="329.2"/></g>
<g fill="#2a1616"><circle cx="368.9" cy="266.8"/><circle cx="369.1" cy="267.6"/><circle cx="369.1" cy="268.4"/><circle cx="369.4" cy="269.2"/><circle cx="368.8" cy="271.0"/><circle cx="368.5" cy="272.8"/><circle cx="369.5" cy="273.3"/><circle cx="368.5" cy="274.8"/><circle cx="369.1" cy="276.2"/><circle cx="369.4" cy="278.4"/><circle cx="369.0" cy="280.0"/><circle cx="368.9" cy="280.9"/><circle cx="368.7" cy="282.3"/><circle cx="368.6" cy="283.7"/><circle cx="369.4" cy="286.1"/><circle cx="369.5" cy="287.2"/><circle cx="369.4" cy="288.8"/><circle cx="369.2" cy="290.2"/><circle cx="368.6" cy="291.4"/><circle cx="368.7" cy="293.2"/><circle cx="369.0" cy="294.7"/><circle cx="368.8" cy="296.6"/><circle cx="369.4" cy="297.3"/><circle cx="368.7" cy="298.8"/><circle cx="368.6" cy="301.0"/><circle cx="368.8" cy="302.7"/><circle cx="369.2" cy="304.3"/><circle cx="369.0" cy="305.5"/><circle cx="369.2" cy="306.2"/><circle cx="369.2" cy="308.7"/><circle cx="369.3" cy="310.3"/><circle cx="369.3" cy="311.0"/><circle cx="369.1" cy="312.7"/><circle cx="368.5" cy="313.9"/><circle cx="369.2" cy="315.4"/><circle cx="369.1" cy="317.0"/><circle cx="368.7" cy="318.6"/><circle cx="369.2" cy="320.3"/><circle cx="369.2" cy="322.0"/><circle cx="369.4" cy="322.7"/><circle cx="368.9" cy="325.1"/><circle cx="369.0" cy="326.2"/></g>
<g fill="#1a2c2c"><circle cx="369.2" cy="306.6"/><circle cx="368.8" cy="307.4"/><circle cx="369.1" cy="308.2"/><circle cx="368.7" cy="309.0"/><circle cx="368.8" cy="310.6"/><circle cx="369.3" cy="312.5"/><circle cx="368.6" cy="313.0"/><circle cx="369.1" cy="314.7"/><circle cx="368.5" cy="316.2"/><circle cx="368.5" cy="318.6"/><circle cx="368.8" cy="319.1"/><circle cx="368.6" cy="321.2"/><circle cx="369.1" cy="322.7"/><circle cx="369.2" cy="324.0"/><circle cx="368.8" cy="325.8"/><circle cx="368.9" cy="327.7"/><circle cx="369.1" cy="328.2"/><circle cx="369.1" cy="330.1"/><circle cx="368.7" cy="331.7"/><circle cx="368.8" cy="333.0"/><circle cx="369.1" cy="335.0"/><circle cx="368.8" cy="336.2"/><circle cx="369.1" cy="337.8"/><circle cx="368.6" cy="339.1"/><circle cx="368.6" cy="340.5"/><circle cx="369.1" cy="342.3"/><circle cx="368.9" cy="344.0"/><circle cx="368.7" cy="345.7"/><circle cx="368.6" cy="346.9"/><circle cx="368.5" cy="348.5"/><circle cx="369.3" cy="349.8"/><circle cx="368.9" cy="351.2"/><circle cx="369.0" cy="353.2"/><circle cx="368.7" cy="354.3"/><circle cx="369.1" cy="355.4"/><circle cx="368.9" cy="357.7"/><circle cx="369.3" cy="359.3"/><circle cx="369.3" cy="360.9"/><circle cx="368.6" cy="362.3"/><circle cx="369.0" cy="363.5"/><circle cx="368.9" cy="365.0"/><circle cx="368.8" cy="366.5"/><circle cx="369.1" cy="368.0"/><circle cx="368.8" cy="369.5"/></g>
<g fill="#20b2aa"><circle cx="372.2" cy="233.8"/><circle cx="372.6" cy="234.6"/><circle cx="372.7" cy="235.4"/><circle cx="372.7" cy="236.2"/><circle cx="372.4" cy="238.7"/><circle cx="372.6" cy="241.2"/><circle cx="372.4" cy="243.7"/><circle cx="372.4" cy="246.2"/><circle cx="373.0" cy="236.2"/><circle cx="372.5" cy="239.6"/><circle cx="372.6" cy="243.5"/><circle cx="372.2" cy="246.2"/></g>
<g fill="#8b6508"><circle cx="374.1" cy="299.0"/><circle cx="374.0" cy="299.8"/><circle cx="373.9" cy="300.6"/><circle cx="373.5" cy="301.4"/><circle cx="373.7" cy="303.5"/><circle cx="373.6" cy="304.7"/><circle cx="374.1" cy="306.6"/><circle cx="374.2" cy="308.3"/><circle cx="373.5" cy="309.2"/><circle cx="374.4" cy="311.0"/><circle cx="374.5" cy="313.0"/><circle cx="373.6" cy="315.0"/><circle cx="374.3" cy="316.6"/><circle cx="374.2" cy="318.1"/><circle cx="374.3" cy="319.5"/><circle cx="373.7" cy="320.9"/><circle cx="374.5" cy="322.4"/><circle cx="374.1" cy="324.2"/><circle cx="373.6" cy="325.4"/><circle cx="374.2" cy="328.0"/><circle cx="373.8" cy="329.3"/><circle cx="374.1" cy="330.8"/><circle cx="373.7" cy="332.7"/><circle cx="373.5" cy="334.0"/><circle cx="374.4" cy="335.9"/><circle cx="373.7" cy="337.8"/><circle cx="374.3" cy="339.3"/><circle cx="373.9" cy="340.4"/><circle cx="373.7" cy="342.7"/><circle cx="374.4" cy="343.4"/><circle cx="373.5" cy="345.9"/><circle cx="374.3" cy="347.0"/><circle cx="374.1" cy="348.7"/><circle cx="374.2" cy="350.3"/><circle cx="373.6" cy="352.2"/><circle cx="374.3" cy="354.0"/><circle cx="373.7" cy="354.9"/><circle cx="373.8" cy="356.5"/><circle cx="373.7" cy="358.6"/><circle cx="374.3" cy="360.6"/><circle cx="374.1" cy="361.9"/><circle cx="374.4" cy="362.8"/><circle cx="374.4" cy="365.4"/><circle cx="374.3" cy="366.4"/><circle cx="374.2" cy="368.2"/></g>
<g fill="#1a2a2a"><circle cx="374.6" cy="333.8"/><circle cx="374.4" cy="334.6"/><circle cx="374.4" cy="335.4"/><circle cx="374.5" cy="336.2"/><circle cx="374.6" cy="338.2"/><circle cx="374.5" cy="340.3"/><circle cx="374.4" cy="342.3"/><circle cx="374.3" cy="344.3"/><circle cx="374.4" cy="346.4"/><circle cx="374.4" cy="348.4"/><circle cx="374.3" cy="350.5"/><circle cx="374.6" cy="352.5"/><circle cx="374.5" cy="354.5"/><circle cx="374.7" cy="356.6"/><circle cx="374.4" cy="358.6"/><circle cx="374.3" cy="360.6"/><circle cx="374.6" cy="362.7"/><circle cx="374.4" cy="364.7"/><circle cx="374.6" cy="366.8"/><circle cx="374.5" cy="368.8"/><circle cx="374.5" cy="370.8"/><circle cx="374.7" cy="372.9"/><circle cx="374.7" cy="374.9"/><circle cx="374.3" cy="376.9"/><circle cx="374.3" cy="379.0"/><circle cx="374.4" cy="381.0"/><circle cx="374.4" cy="383.1"/><circle cx="374.7" cy="385.1"/><circle cx="374.4" cy="387.1"/><circle cx="374.4" cy="389.2"/><circle cx="374.5" cy="391.2"/><circle cx="374.8" cy="336.2"/><circle cx="374.3" cy="339.0"/><circle cx="375.0" cy="341.9"/><circle cx="374.7" cy="345.0"/><circle cx="374.4" cy="348.4"/><circle cx="375.0" cy="351.3"/><circle cx="374.5" cy="354.8"/><circle cx="374.9" cy="357.3"/><circle cx="374.2" cy="361.2"/><circle cx="374.2" cy="363.4"/><circle cx="374.2" cy="367.1"/><circle cx="374.1" cy="369.7"/><circle cx="374.3" cy="373.4"/><circle cx="374.5" cy="376.3"/><circle cx="374.2" cy="379.5"/><circle cx="374.5" cy="381.7"/><circle cx="374.3" cy="385.4"/><circle cx="374.4" cy="388.5"/><circle cx="374.6" cy="391.2"/></g>
<g fill="#87cefa"><circle cx="374.4" cy="398.8"/><circle cx="374.3" cy="399.6"/><circle cx="374.5" cy="400.4"/><circle cx="374.5" cy="401.2"/><circle cx="374.4" cy="403.4"/><circle cx="374.6" cy="405.5"/><circle cx="374.6" cy="407.7"/><circle cx="374.4" cy="409.8"/><circle cx="374.5" cy="412.0"/><circle cx="374.7" cy="414.1"/><circle cx="374.4" cy="416.3"/><circle cx="374.5" cy="418.4"/><circle cx="374.5" cy="420.6"/><circle cx="374.1" cy="401.2"/><circle cx="374.8" cy="404.6"/><circle cx="374.8" cy="407.2"/><circle cx="374.0" cy="410.8"/><circle cx="374.7" cy="413.8"/><circle cx="374.2" cy="417.9"/><circle cx="374.5" cy="420.6"/></g>
<g fill="#003600"><circle cx="378.9" cy="297.3"/><circle cx="378.8" cy="298.1"/><circle cx="379.0" cy="298.9"/><circle cx="378.9" cy="299.7"/><circle cx="378.9" cy="301.4"/><circle cx="379.1" cy="302.9"/><circle cx="379.2" cy="304.8"/><circle cx="378.5" cy="306.2"/><circle cx="378.6" cy="307.2"/><circle cx="379.2" cy="308.7"/><circle cx="379.0" cy="310.8"/><circle cx="378.8" cy="311.6"/><circle cx="378.8" cy="312.8"/><circle cx="378.8" cy="314.8"/><circle cx="379.3" cy="316.7"/><circle cx="379.1" cy="318.0"/><circle cx="379.4" cy="319.4"/><circle cx="379.0" cy="320.8"/><circle cx="378.9" cy="322.1"/><circle cx="378.7" cy="323.5"/><circle cx="378.9" cy="325.5"/><circle cx="379.1" cy="326.5"/><circle cx="378.6" cy="328.9"/><circle cx="378.8" cy="329.7"/><circle cx="379.1" cy="330.8"/><circle cx="379.0" cy="333.3"/><circle cx="379.4" cy="334.8"/><circle cx="379.3" cy="336.1"/><circle cx="379.4" cy="337.2"/><circle cx="379.2" cy="338.5"/><circle cx="379.3" cy="339.7"/><circle cx="379.0" cy="342.0"/><circle cx="379.4" cy="343.8"/><circle cx="378.7" cy="344.7"/><circle cx="378.6" cy="346.2"/><circle cx="378.6" cy="347.3"/><circle cx="379.1" cy="349.2"/><circle cx="379.1" cy="350.4"/><circle cx="379.2" cy="352.7"/><circle cx="379.1" cy="353.4"/><circle cx="379.5" cy="354.9"/><circle cx="378.5" cy="356.6"/><circle cx="378.8" cy="358.1"/><circle cx="379.0" cy="359.8"/><circle cx="378.9" cy="361.4"/><circle cx="379.2" cy="363.4"/><circle cx="378.7" cy="364.1"/><circle cx="378.8" cy="365.9"/><circle cx="378.9" cy="368.0"/><circle cx="379.5" cy="368.6"/><circle cx="379.4" cy="370.6"/><circle cx="379.5" cy="371.9"/></g>
<g fill="#00ff00"><circle cx="382.7" cy="271.3"/><circle cx="382.6" cy="272.1"/><circle cx="382.4" cy="272.9"/><circle cx="382.3" cy="273.7"/><circle cx="382.5" cy="275.7"/><circle cx="382.5" cy="277.7"/><circle cx="382.6" cy="279.8"/><circle cx="382.7" cy="281.8"/><circle cx="382.7" cy="283.8"/><circle cx="382.5" cy="285.8"/><circle cx="382.6" cy="287.8"/><circle cx="382.6" cy="289.9"/><circle cx="382.6" cy="291.9"/><circle cx="382.5" cy="293.9"/><circle cx="382.5" cy="295.9"/><circle cx="382.5" cy="297.9"/><circle cx="382.5" cy="299.9"/><circle cx="382.5" cy="302.0"/><circle cx="382.6" cy="304.0"/><circle cx="382.5" cy="306.0"/><circle cx="382.6" cy="308.0"/><circle cx="382.6" cy="310.0"/><circle cx="382.6" cy="312.1"/><circle cx="382.6" cy="314.1"/><circle cx="382.4" cy="316.1"/><circle cx="382.6" cy="318.1"/><circle cx="382.7" cy="320.1"/><circle cx="382.4" cy="322.2"/><circle cx="382.3" cy="324.2"/><circle cx="382.5" cy="326.2"/><circle cx="382.9" cy="273.7"/><circle cx="382.2" cy="277.2"/><circle cx="382.5" cy="278.9"/><circle cx="382.8" cy="282.1"/><circle cx="382.1" cy="285.3"/><circle cx="382.0" cy="288.3"/><circle cx="382.3" cy="291.6"/><circle cx="382.7" cy="294.3"/><circle cx="382.4" cy="297.0"/><circle cx="383.0" cy="300.0"/><circle cx="382.5" cy="302.6"/><circle cx="382.8" cy="305.7"/><circle cx="382.9" cy="308.4"/><circle cx="382.9" cy="311.7"/><circle cx="382.3" cy="314.7"/><circle cx="382.9" cy="317.5"/><circle cx="382.9" cy="320.8"/><circle cx="382.4" cy="322.9"/><circle cx="382.0" cy="326.2"/></g>
<g fill="#3a3a3a"><circle cx="383.8" cy="288.0"/><circle cx="383.8" cy="288.8"/><circle cx="383.8" cy="289.6"/><circle cx="383.6" cy="290.4"/><circle cx="383.6" cy="291.8"/><circle cx="383.8" cy="294.0"/><circle cx="384.3" cy="295.6"/><circle cx="384.0" cy="296.5"/><circle cx="383.7" cy="298.5"/><circle cx="383.5" cy="300.3"/><circle cx="383.8" cy="302.0"/><circle cx="383.7" cy="302.7"/><circle cx="383.8" cy="305.0"/><circle cx="383.7" cy="306.9"/><circle cx="384.1" cy="308.3"/><circle cx="384.2" cy="309.5"/><circle cx="384.1" cy="310.6"/><circle cx="384.2" cy="313.3"/><circle cx="384.5" cy="314.3"/><circle cx="384.1" cy="316.1"/><circle cx="383.7" cy="317.7"/><circle cx="384.1" cy="318.9"/><circle cx="384.3" cy="320.6"/><circle cx="384.3" cy="322.3"/><circle cx="383.7" cy="323.7"/><circle cx="383.7" cy="325.2"/><circle cx="383.8" cy="327.6"/><circle cx="383.6" cy="328.2"/><circle cx="383.6" cy="330.9"/><circle cx="383.6" cy="332.2"/><circle cx="383.8" cy="333.9"/><circle cx="383.7" cy="334.8"/><circle cx="384.0" cy="337.1"/><circle cx="384.4" cy="338.2"/><circle cx="384.2" cy="339.9"/><circle cx="383.6" cy="341.4"/><circle cx="384.0" cy="343.6"/><circle cx="384.0" cy="345.1"/><circle cx="384.1" cy="346.6"/><circle cx="384.2" cy="347.3"/><circle cx="384.3" cy="349.6"/><circle cx="384.4" cy="351.3"/><circle cx="384.5" cy="352.3"/><circle cx="384.0" cy="354.0"/><circle cx="384.1" cy="356.2"/><circle cx="383.9" cy="357.1"/><circle cx="384.2" cy="358.7"/><circle cx="384.2" cy="360.8"/><circle cx="384.3" cy="361.8"/><circle cx="383.9" cy="364.4"/><circle cx="384.1" cy="365.4"/><circle cx="383.6" cy="367.5"/><circle cx="384.2" cy="368.1"/><circle cx="384.5" cy="370.6"/><circle cx="384.5" cy="372.4"/><circle cx="384.1" cy="373.7"/><circle cx="384.4" cy="375.1"/></g>
<g fill="#8b0000"><circle cx="385.4" cy="272.8"/><circle cx="385.6" cy="273.6"/><circle cx="385.5" cy="274.4"/><circle cx="385.3" cy="275.2"/><circle cx="385.5" cy="277.2"/><circle cx="385.5" cy="279.2"/><circle cx="385.5" cy="281.3"/><circle cx="385.5" cy="283.3"/><circle cx="385.6" cy="285.3"/><circle cx="385.4" cy="287.3"/><circle cx="385.4" cy="289.4"/><circle cx="385.7" cy="291.4"/><circle cx="385.5" cy="293.4"/><circle cx="385.5" cy="295.4"/><circle cx="385.5" cy="297.4"/><circle cx="385.5" cy="299.5"/><circle cx="385.5" cy="301.5"/><circle cx="385.7" cy="303.5"/><circle cx="385.5" cy="305.5"/><circle cx="385.4" cy="307.6"/><circle cx="385.6" cy="309.6"/><circle cx="385.6" cy="311.6"/><circle cx="385.4" cy="313.6"/><circle cx="385.5" cy="315.6"/><circle cx="385.6" cy="317.7"/><circle cx="385.5" cy="319.7"/><circle cx="385.7" cy="321.7"/><circle cx="385.7" cy="323.7"/><circle cx="385.4" cy="325.8"/><circle cx="385.6" cy="327.8"/><circle cx="385.7" cy="329.8"/><circle cx="385.4" cy="331.8"/><circle cx="385.7" cy="333.8"/><circle cx="385.5" cy="335.9"/><circle cx="385.4" cy="337.9"/><circle cx="385.3" cy="339.9"/><circle cx="385.7" cy="341.9"/><circle cx="385.6" cy="344.0"/><circle cx="385.5" cy="346.0"/><circle cx="385.5" cy="348.0"/><circle cx="385.7" cy="350.0"/><circle cx="385.7" cy="352.0"/><circle cx="385.5" cy="354.1"/><circle cx="385.4" cy="356.1"/><circle cx="385.7" cy="358.1"/><circle cx="385.5" cy="360.1"/><circle cx="385.5" cy="362.2"/><circle cx="385.4" cy="364.2"/><circle cx="385.4" cy="366.2"/><circle cx="385.5" cy="275.2"/><circle cx="385.5" cy="277.9"/><circle cx="385.6" cy="281.5"/><circle cx="385.5" cy="284.3"/><circle cx="385.1" cy="287.9"/><circle cx="385.1" cy="290.8"/><circle cx="386.0" cy="293.0"/><circle cx="385.7" cy="296.5"/><circle cx="386.0" cy="299.7"/><circle cx="385.1" cy="302.9"/><circle cx="385.2" cy="306.0"/><circle cx="386.0" cy="308.0"/><circle cx="385.9" cy="311.8"/><circle cx="385.4" cy="315.0"/><circle cx="385.2" cy="318.2"/><circle cx="385.7" cy="320.9"/><circle cx="385.3" cy="324.3"/><circle cx="385.7" cy="327.3"/><circle cx="385.3" cy="330.1"/><circle cx="385.9" cy="332.6"/><circle cx="385.8" cy="336.1"/><circle cx="385.4" cy="339.3"/><circle cx="385.1" cy="342.4"/><circle cx="385.2" cy="345.0"/><circle cx="385.0" cy="348.4"/><circle cx="385.1" cy="351.1"/><circle cx="385.8" cy="353.7"/><circle cx="385.2" cy="356.9"/><circle cx="385.1" cy="360.1"/><circle cx="385.6" cy="363.5"/><circle cx="385.3" cy="366.2"/></g>
<g fill="#0000cd"><circle cx="388.8" cy="267.8"/><circle cx="389.0" cy="268.6"/><circle cx="388.8" cy="269.4"/><circle cx="389.0" cy="270.2"/><circle cx="388.8" cy="272.2"/><circle cx="388.9" cy="274.2"/><circle cx="389.1" cy="276.2"/><circle cx="388.9" cy="278.2"/><circle cx="388.9" cy="280.2"/><circle cx="388.9" cy="282.2"/><circle cx="388.9" cy="284.2"/><circle cx="389.2" cy="286.2"/><circle cx="389.2" cy="288.2"/><circle cx="389.2" cy="290.2"/><circle cx="389.0" cy="292.2"/><circle cx="389.0" cy="294.2"/><circle cx="388.9" cy="296.2"/><circle cx="389.1" cy="298.2"/><circle cx="389.1" cy="300.2"/><circle cx="388.9" cy="302.2"/><circle cx="389.2" cy="304.2"/><circle cx="389.0" cy="306.2"/><circle cx="389.0" cy="308.2"/><circle cx="388.9" cy="310.2"/><circle cx="389.1" cy="312.2"/><circle cx="389.2" cy="314.2"/><circle cx="389.2" cy="316.2"/><circle cx="389.1" cy="318.2"/><circle cx="388.9" cy="320.2"/><circle cx="389.0" cy="322.2"/><circle cx="389.0" cy="324.2"/><circle cx="389.0" cy="326.2"/><circle cx="388.7" cy="270.2"/><circle cx="389.5" cy="272.9"/><circle cx="388.7" cy="276.4"/><circle cx="389.4" cy="278.9"/><circle cx="388.8" cy="281.7"/><circle cx="388.7" cy="284.9"/><circle cx="389.3" cy="287.5"/><circle cx="389.4" cy="290.6"/><circle cx="389.1" cy="294.3"/><circle cx="388.7" cy="297.1"/><circle cx="388.5" cy="299.2"/><circle cx="389.1" cy="302.9"/><circle cx="388.7" cy="306.0"/><circle cx="389.0" cy="308.3"/><circle cx="389.3" cy="311.1"/><circle cx="389.0" cy="314.7"/><circle cx="388.8" cy="316.9"/><circle cx="389.2" cy="319.8"/><circle cx="388.8" cy="322.7"/><circle cx="389.0" cy="326.2"/></g>
<g fill="#320032"><circle cx="389.0" cy="288.0"/><circle cx="388.8" cy="288.8"/><circle cx="389.2" cy="289.6"/><circle cx="389.1" cy="290.4"/><circle cx="388.7" cy="291.5"/><circle cx="389.2" cy="293.3"/><circle cx="388.9" cy="295.2"/><circle cx="389.1" cy="296.2"/><circle cx="388.6" cy="297.3"/><circle cx="389.4" cy="299.4"/><circle cx="388.9" cy="300.8"/><circle cx="388.5" cy="302.4"/><circle cx="388.8" cy="303.6"/><circle cx="389.2" cy="305.1"/><circle cx="389.0" cy="306.7"/><circle cx="389.5" cy="308.4"/><circle cx="388.7" cy="309.1"/><circle cx="388.7" cy="311.5"/><circle cx="389.1" cy="312.2"/><circle cx="389.4" cy="313.4"/><circle cx="389.0" cy="315.5"/><circle cx="389.0" cy="316.6"/><circle cx="389.1" cy="318.1"/><circle cx="388.5" cy="319.9"/><circle cx="389.0" cy="321.5"/><circle cx="388.5" cy="322.8"/><circle cx="389.1" cy="324.2"/><circle cx="389.0" cy="325.7"/><circle cx="389.3" cy="326.7"/><circle cx="388.6" cy="328.1"/><circle cx="388.8" cy="330.1"/><circle cx="389.3" cy="331.8"/><circle cx="389.0" cy="333.4"/><circle cx="388.6" cy="334.8"/><circle cx="388.9" cy="335.8"/><circle cx="388.9" cy="337.8"/><circle cx="388.9" cy="339.5"/><circle cx="389.3" cy="341.0"/><circle cx="389.0" cy="341.7"/><circle cx="389.2" cy="343.9"/><circle cx="389.0" cy="345.3"/><circle cx="389.0" cy="346.3"/><circle cx="388.6" cy="347.9"/><circle cx="388.9" cy="349.8"/><circle cx="388.6" cy="351.1"/><circle cx="389.2" cy="352.3"/><circle cx="389.1" cy="353.5"/><circle cx="388.8" cy="354.7"/><circle cx="389.0" cy="356.2"/><circle cx="389.5" cy="358.0"/><circle cx="389.2" cy="359.3"/><circle cx="388.8" cy="361.1"/></g>
<g fill="#795c5c"><circle cx="394.1" cy="293.3"/><circle cx="393.8" cy="294.1"/><circle cx="394.2" cy="294.9"/><circle cx="393.9" cy="295.7"/><circle cx="394.1" cy="297.3"/><circle cx="393.8" cy="297.8"/><circle cx="393.5" cy="299.0"/><circle cx="393.9" cy="301.1"/><circle cx="393.6" cy="302.5"/><circle cx="394.4" cy="303.2"/><circle cx="394.5" cy="305.2"/><circle cx="393.5" cy="305.7"/><circle cx="393.7" cy="306.8"/><circle cx="393.5" cy="308.3"/><circle cx="394.4" cy="309.8"/><circle cx="394.1" cy="310.8"/><circle cx="394.2" cy="312.7"/><circle cx="394.5" cy="314.0"/><circle cx="393.9" cy="315.3"/><circle cx="394.2" cy="315.7"/><circle cx="393.7" cy="317.2"/><circle cx="394.0" cy="319.0"/><circle cx="394.0" cy="320.4"/><circle cx="393.7" cy="320.9"/><circle cx="394.1" cy="322.8"/><circle cx="394.4" cy="324.1"/><circle cx="393.6" cy="324.8"/><circle cx="393.6" cy="326.8"/><circle cx="394.2" cy="327.5"/><circle cx="394.2" cy="329.4"/><circle cx="393.8" cy="330.6"/><circle cx="394.4" cy="331.6"/><circle cx="393.9" cy="333.0"/><circle cx="393.8" cy="334.0"/><circle cx="394.4" cy="334.8"/><circle cx="393.8" cy="336.9"/><circle cx="393.6" cy="338.4"/><circle cx="393.7" cy="339.5"/><circle cx="393.7" cy="340.4"/><circle cx="393.6" cy="341.7"/><circle cx="394.0" cy="342.4"/><circle cx="393.6" cy="344.3"/><circle cx="393.6" cy="344.9"/><circle cx="393.8" cy="347.0"/><circle cx="394.1" cy="348.0"/><circle cx="393.8" cy="348.9"/><circle cx="393.8" cy="350.1"/><circle cx="393.8" cy="351.3"/><circle cx="394.2" cy="353.6"/><circle cx="393.9" cy="354.9"/><circle cx="393.9" cy="355.5"/><circle cx="393.7" cy="357.0"/><circle cx="393.5" cy="358.7"/><circle cx="393.8" cy="359.0"/><circle cx="394.3" cy="361.2"/><circle cx="393.7" cy="362.1"/></g>
<g fill="#9370db"><circle cx="398.9" cy="333.8"/><circle cx="399.1" cy="334.6"/><circle cx="398.9" cy="335.4"/><circle cx="398.6" cy="336.2"/><circle cx="398.9" cy="338.2"/><circle cx="398.9" cy="340.2"/><circle cx="398.9" cy="342.2"/><circle cx="398.8" cy="344.2"/><circle cx="398.9" cy="346.2"/><circle cx="398.9" cy="348.2"/><circle cx="398.6" cy="350.2"/><circle cx="398.8" cy="352.2"/><circle cx="398.8" cy="354.2"/><circle cx="398.9" cy="356.2"/><circle cx="398.9" cy="358.2"/><circle cx="398.7" cy="360.2"/><circle cx="398.7" cy="362.2"/><circle cx="398.6" cy="364.2"/><circle cx="398.7" cy="366.2"/><circle cx="399.2" cy="336.2"/><circle cx="398.6" cy="339.4"/><circle cx="399.1" cy="341.6"/><circle cx="399.2" cy="344.9"/><circle cx="398.4" cy="348.1"/><circle cx="399.3" cy="351.1"/><circle cx="399.2" cy="353.6"/><circle cx="398.7" cy="356.7"/><circle cx="399.2" cy="359.7"/><circle cx="398.4" cy="362.6"/><circle cx="398.6" cy="366.2"/></g>
<g fill="#213838"><circle cx="399.2" cy="298.5"/><circle cx="398.8" cy="299.3"/><circle cx="398.9" cy="300.1"/><circle cx="399.0" cy="300.9"/><circle cx="398.6" cy="302.6"/><circle cx="399.0" cy="304.0"/><circle cx="399.2" cy="305.7"/><circle cx="399.1" cy="306.9"/><circle cx="398.9" cy="309.3"/><circle cx="398.9" cy="310.1"/><circle cx="399.0" cy="312.1"/><circle cx="399.1" cy="313.1"/><circle cx="398.6" cy="315.7"/><circle cx="398.8" cy="316.5"/><circle cx="398.9" cy="318.0"/><circle cx="399.4" cy="320.4"/><circle cx="398.9" cy="321.2"/><circle cx="399.3" cy="322.9"/><circle cx="399.0" cy="325.2"/><circle cx="398.7" cy="326.0"/><circle cx="398.7" cy="327.7"/><circle cx="398.9" cy="329.5"/><circle cx="399.0" cy="331.1"/><circle cx="399.3" cy="333.0"/><circle cx="398.9" cy="334.4"/><circle cx="399.2" cy="335.8"/><circle cx="398.7" cy="337.3"/><circle cx="398.5" cy="338.9"/><circle cx="398.7" cy="340.5"/><circle cx="398.8" cy="342.6"/><circle cx="399.5" cy="344.4"/><circle cx="399.0" cy="345.8"/><circle cx="398.9" cy="346.9"/><circle cx="398.5" cy="349.3"/><circle cx="398.5" cy="349.9"/><circle cx="399.0" cy="352.4"/><circle cx="398.9" cy="353.3"/><circle cx="398.6" cy="355.7"/><circle cx="398.9" cy="356.8"/></g>
<g fill="#4b004b"><circle cx="403.9" cy="297.2"/><circle cx="404.1" cy="298.0"/><circle cx="404.2" cy="298.8"/><circle cx="404.2" cy="299.6"/><circle cx="403.6" cy="301.6"/><circle cx="403.6" cy="303.5"/><circle cx="403.8" cy="305.2"/><circle cx="403.9" cy="305.8"/><circle cx="403.5" cy="308.3"/><circle cx="404.3" cy="310.0"/><circle cx="404.0" cy="311.2"/><circle cx="404.0" cy="312.7"/><circle cx="403.9" cy="314.6"/><circle cx="403.8" cy="316.9"/><circle cx="403.8" cy="318.2"/><circle cx="403.8" cy="319.6"/><circle cx="404.2" cy="321.7"/><circle cx="403.6" cy="322.7"/><circle cx="404.2" cy="324.5"/><circle cx="404.4" cy="326.3"/><circle cx="404.0" cy="328.5"/><circle cx="404.2" cy="330.1"/><circle cx="404.3" cy="331.5"/><circle cx="404.3" cy="333.5"/><circle cx="403.8" cy="334.5"/><circle cx="403.8" cy="337.0"/><circle cx="404.0" cy="338.1"/><circle cx="404.4" cy="339.6"/><circle cx="403.6" cy="342.1"/><circle cx="403.7" cy="343.1"/><circle cx="404.4" cy="344.8"/><circle cx="403.6" cy="346.6"/><circle cx="403.9" cy="348.4"/><circle cx="404.2" cy="350.0"/><circle cx="403.7" cy="352.0"/><circle cx="404.2" cy="352.7"/><circle cx="404.3" cy="355.4"/><circle cx="403.8" cy="356.2"/><circle cx="404.4" cy="358.2"/><circle cx="403.7" cy="359.9"/><circle cx="403.8" cy="361.7"/><circle cx="403.7" cy="363.0"/><circle cx="403.7" cy="364.7"/><circle cx="403.5" cy="366.7"/></g>
<g fill="#00fa9a"><circle cx="405.7" cy="279.4"/><circle cx="405.8" cy="280.2"/><circle cx="405.9" cy="281.0"/><circle cx="405.7" cy="281.8"/><circle cx="405.8" cy="283.8"/><circle cx="405.6" cy="285.8"/><circle cx="405.6" cy="287.9"/><circle cx="405.8" cy="289.9"/><circle cx="405.6" cy="291.9"/><circle cx="405.5" cy="293.9"/><circle cx="405.8" cy="295.9"/><circle cx="405.6" cy="297.9"/><circle cx="405.7" cy="300.0"/><circle cx="405.9" cy="302.0"/><circle cx="405.6" cy="304.0"/><circle cx="405.6" cy="306.0"/><circle cx="405.6" cy="308.0"/><circle cx="405.6" cy="310.1"/><circle cx="405.7" cy="312.1"/><circle cx="405.7" cy="314.1"/><circle cx="405.6" cy="316.1"/><circle cx="405.6" cy="318.1"/><circle cx="405.7" cy="320.1"/><circle cx="405.6" cy="322.2"/><circle cx="405.8" cy="324.2"/><circle cx="405.6" cy="326.2"/><circle cx="405.5" cy="281.8"/><circle cx="406.0" cy="284.6"/><circle cx="405.4" cy="287.4"/><circle cx="405.5" cy="290.3"/><circle cx="405.8" cy="293.9"/><circle cx="405.7" cy="296.8"/><circle cx="405.7" cy="300.1"/><circle cx="405.3" cy="302.5"/><circle cx="406.1" cy="305.6"/><circle cx="406.1" cy="308.9"/><circle cx="405.6" cy="312.0"/><circle cx="406.1" cy="314.9"/><circle cx="405.7" cy="317.7"/><circle cx="405.4" cy="320.6"/><circle cx="406.1" cy="323.1"/><circle cx="405.9" cy="326.2"/></g>
<g fill="#1f3950"><circle cx="408.8" cy="308.4"/><circle cx="409.0" cy="309.2"/><circle cx="408.9" cy="310.0"/><circle cx="408.7" cy="310.8"/><circle cx="408.9" cy="311.9"/><circle cx="409.5" cy="313.2"/><circle cx="409.0" cy="314.9"/><circle cx="408.6" cy="316.2"/><circle cx="408.9" cy="317.6"/><circle cx="409.0" cy="319.4"/><circle cx="409.1" cy="320.4"/><circle cx="409.3" cy="322.3"/><circle cx="409.1" cy="323.3"/><circle cx="409.4" cy="324.5"/><circle cx="409.4" cy="326.1"/><circle cx="409.4" cy="327.6"/><circle cx="409.0" cy="328.8"/><circle cx="409.4" cy="330.2"/><circle cx="408.8" cy="331.9"/><circle cx="409.1" cy="332.4"/><circle cx="409.1" cy="334.7"/><circle cx="409.2" cy="335.2"/><circle cx="409.2" cy="337.4"/><circle cx="408.7" cy="338.6"/><circle cx="408.6" cy="339.7"/><circle cx="408.6" cy="341.3"/><circle cx="408.7" cy="342.5"/><circle cx="409.5" cy="344.6"/><circle cx="408.8" cy="345.1"/><circle cx="408.6" cy="346.8"/><circle cx="409.4" cy="348.6"/><circle cx="409.0" cy="349.4"/><circle cx="409.2" cy="351.0"/><circle cx="409.4" cy="352.8"/><circle cx="409.5" cy="353.3"/><circle cx="408.7" cy="354.5"/><circle cx="408.6" cy="355.9"/><circle cx="408.9" cy="358.2"/><circle cx="408.7" cy="359.2"/><circle cx="408.7" cy="360.3"/><circle cx="408.6" cy="362.2"/><circle cx="409.1" cy="363.0"/><circle cx="409.1" cy="364.7"/></g>
<g fill="#191970"><circle cx="411.5" cy="376.3"/><circle cx="411.6" cy="377.1"/><circle cx="411.7" cy="377.9"/><circle cx="411.4" cy="378.7"/><circle cx="411.5" cy="380.8"/><circle cx="411.7" cy="382.8"/><circle cx="411.4" cy="384.9"/><circle cx="411.5" cy="386.9"/><circle cx="411.6" cy="389.0"/><circle cx="411.6" cy="391.0"/><circle cx="411.6" cy="393.1"/><circle cx="411.4" cy="395.1"/><circle cx="411.6" cy="397.2"/><circle cx="411.6" cy="399.2"/><circle cx="411.5" cy="401.3"/><circle cx="411.5" cy="403.3"/><circle cx="411.4" cy="405.4"/><circle cx="411.5" cy="407.4"/><circle cx="411.6" cy="409.5"/><circle cx="411.6" cy="411.5"/><circle cx="411.6" cy="413.6"/><circle cx="411.5" cy="415.6"/><circle cx="411.5" cy="417.7"/><circle cx="411.5" cy="419.7"/><circle cx="411.7" cy="421.8"/><circle cx="411.6" cy="423.8"/><circle cx="411.4" cy="425.9"/><circle cx="411.5" cy="427.9"/><circle cx="411.5" cy="430.0"/><circle cx="411.3" cy="432.0"/><circle cx="411.6" cy="434.1"/><circle cx="411.6" cy="436.1"/><circle cx="411.7" cy="438.2"/><circle cx="411.5" cy="378.7"/><circle cx="411.8" cy="381.2"/><circle cx="411.4" cy="384.2"/><circle cx="411.1" cy="387.8"/><circle cx="411.8" cy="390.5"/><circle cx="411.7" cy="393.6"/><circle cx="411.7" cy="396.4"/><circle cx="411.3" cy="399.1"/><circle cx="411.3" cy="402.4"/><circle cx="412.0" cy="406.0"/><circle cx="411.7" cy="408.6"/><circle cx="411.4" cy="411.5"/><circle cx="411.6" cy="414.9"/><circle cx="411.8" cy="416.8"/><circle cx="411.1" cy="420.7"/><circle cx="411.8" cy="423.4"/><circle cx="411.3" cy="425.9"/><circle cx="411.8" cy="429.6"/><circle cx="411.4" cy="432.7"/><circle cx="411.9" cy="435.6"/><circle cx="411.1" cy="438.2"/></g>
<g fill="#00005c"><circle cx="413.8" cy="307.5"/><circle cx="414.1" cy="308.3"/><circle cx="414.2" cy="309.1"/><circle cx="413.6" cy="309.9"/><circle cx="413.6" cy="311.1"/><circle cx="413.9" cy="312.4"/><circle cx="413.5" cy="313.6"/><circle cx="414.1" cy="314.7"/><circle cx="413.5" cy="315.7"/><circle cx="414.2" cy="316.4"/><circle cx="413.6" cy="317.2"/><circle cx="413.6" cy="318.9"/><circle cx="414.4" cy="318.8"/><circle cx="413.9" cy="320.3"/><circle cx="414.3" cy="322.1"/><circle cx="414.0" cy="322.3"/><circle cx="414.1" cy="323.9"/><circle cx="414.2" cy="325.0"/><circle cx="413.6" cy="326.1"/><circle cx="414.5" cy="326.6"/><circle cx="414.2" cy="328.0"/><circle cx="414.5" cy="329.2"/><circle cx="414.3" cy="330.0"/><circle cx="413.8" cy="331.5"/><circle cx="413.8" cy="332.0"/><circle cx="413.8" cy="333.2"/><circle cx="414.0" cy="334.2"/><circle cx="414.1" cy="335.2"/><circle cx="414.5" cy="335.9"/><circle cx="414.1" cy="337.2"/><circle cx="413.6" cy="338.9"/><circle cx="414.3" cy="339.1"/><circle cx="413.5" cy="340.9"/><circle cx="414.3" cy="341.8"/><circle cx="414.1" cy="342.8"/><circle cx="414.4" cy="343.3"/><circle cx="413.8" cy="344.8"/><circle cx="413.8" cy="345.4"/><circle cx="414.0" cy="347.1"/><circle cx="414.1" cy="348.4"/><circle cx="414.5" cy="349.1"/><circle cx="414.1" cy="349.9"/><circle cx="414.4" cy="351.0"/><circle cx="414.1" cy="352.3"/><circle cx="414.1" cy="352.9"/><circle cx="413.7" cy="353.9"/><circle cx="414.3" cy="355.3"/><circle cx="414.3" cy="356.9"/><circle cx="413.7" cy="357.3"/><circle cx="413.7" cy="358.4"/><circle cx="413.8" cy="359.0"/><circle cx="413.7" cy="361.0"/><circle cx="414.2" cy="361.6"/><circle cx="413.9" cy="362.2"/><circle cx="413.6" cy="363.5"/><circle cx="414.1" cy="364.8"/><circle cx="414.4" cy="366.2"/><circle cx="414.3" cy="367.4"/><circle cx="414.4" cy="368.0"/><circle cx="414.4" cy="369.0"/><circle cx="414.4" cy="369.9"/><circle cx="413.6" cy="371.1"/></g>
<g fill="#6495ed"><circle cx="414.8" cy="235.8"/><circle cx="414.8" cy="236.6"/><circle cx="414.7" cy="237.4"/><circle cx="414.6" cy="238.2"/><circle cx="414.6" cy="240.3"/><circle cx="414.3" cy="242.4"/><circle cx="414.6" cy="244.5"/><circle cx="414.4" cy="246.5"/><circle cx="414.7" cy="248.6"/><circle cx="414.6" cy="250.7"/><circle cx="414.5" cy="252.8"/><circle cx="414.5" cy="254.9"/><circle cx="414.7" cy="256.9"/><circle cx="414.4" cy="259.0"/><circle cx="414.6" cy="261.1"/><circle cx="414.4" cy="263.2"/><circle cx="414.7" cy="265.3"/><circle cx="414.6" cy="267.4"/><circle cx="414.6" cy="269.4"/><circle cx="414.3" cy="271.5"/><circle cx="414.4" cy="273.6"/><circle cx="414.6" cy="275.7"/><circle cx="414.4" cy="277.8"/><circle cx="414.5" cy="279.9"/><circle cx="414.7" cy="281.9"/><circle cx="414.6" cy="284.0"/><circle cx="414.4" cy="286.1"/><circle cx="414.3" cy="288.2"/><circle cx="414.0" cy="238.2"/><circle cx="414.8" cy="241.1"/><circle cx="414.1" cy="244.1"/><circle cx="414.2" cy="247.1"/><circle cx="414.1" cy="250.5"/><circle cx="414.5" cy="252.5"/><circle cx="414.2" cy="255.6"/><circle cx="414.9" cy="258.6"/><circle cx="414.1" cy="262.2"/><circle cx="414.9" cy="264.5"/><circle cx="414.5" cy="268.1"/><circle cx="414.7" cy="271.1"/><circle cx="414.7" cy="273.0"/><circle cx="414.2" cy="276.1"/><circle cx="414.3" cy="279.3"/><circle cx="414.7" cy="282.7"/><circle cx="414.5" cy="284.7"/><circle cx="414.4" cy="288.2"/></g>
<g fill="#3a2010"><circle cx="416.8" cy="298.8"/><circle cx="417.2" cy="299.6"/><circle cx="416.8" cy="300.4"/><circle cx="417.2" cy="301.2"/><circle cx="417.3" cy="302.2"/><circle cx="416.8" cy="304.6"/><circle cx="417.2" cy="305.6"/><circle cx="416.8" cy="306.7"/><circle cx="416.7" cy="309.1"/><circle cx="417.0" cy="310.5"/><circle cx="417.1" cy="311.9"/><circle cx="416.9" cy="313.6"/><circle cx="417.0" cy="314.5"/><circle cx="416.9" cy="316.2"/></g>
<g fill="#00005c"><circle cx="418.8" cy="309.2"/><circle cx="419.0" cy="310.0"/><circle cx="418.9" cy="310.8"/><circle cx="419.3" cy="311.6"/><circle cx="418.8" cy="313.4"/><circle cx="419.1" cy="315.4"/><circle cx="419.0" cy="316.6"/><circle cx="418.7" cy="318.6"/><circle cx="419.1" cy="320.0"/><circle cx="419.0" cy="322.2"/><circle cx="418.6" cy="323.1"/><circle cx="418.8" cy="324.8"/><circle cx="419.2" cy="326.5"/><circle cx="419.3" cy="328.1"/><circle cx="419.2" cy="330.9"/><circle cx="419.2" cy="331.8"/><circle cx="418.7" cy="333.6"/><circle cx="418.6" cy="335.3"/><circle cx="419.1" cy="336.8"/><circle cx="418.5" cy="338.7"/><circle cx="419.1" cy="340.2"/><circle cx="419.2" cy="342.0"/><circle cx="418.6" cy="343.7"/><circle cx="418.7" cy="346.2"/><circle cx="418.8" cy="347.6"/><circle cx="418.7" cy="349.4"/><circle cx="419.3" cy="350.5"/><circle cx="419.1" cy="352.8"/><circle cx="418.6" cy="354.6"/><circle cx="419.0" cy="356.0"/><circle cx="418.8" cy="357.7"/><circle cx="419.0" cy="360.1"/><circle cx="419.0" cy="361.6"/><circle cx="419.3" cy="362.9"/><circle cx="419.2" cy="364.2"/><circle cx="418.7" cy="366.8"/><circle cx="418.7" cy="368.6"/><circle cx="418.5" cy="370.2"/><circle cx="418.5" cy="371.7"/><circle cx="418.8" cy="373.4"/><circle cx="419.4" cy="375.0"/></g>
<g fill="#14143c"><circle cx="419.8" cy="262.8"/><circle cx="420.1" cy="263.6"/><circle cx="419.9" cy="264.4"/><circle cx="419.9" cy="265.2"/><circle cx="420.0" cy="267.3"/><circle cx="420.1" cy="269.3"/><circle cx="420.1" cy="271.4"/><circle cx="420.0" cy="273.5"/><circle cx="420.0" cy="275.5"/><circle cx="420.1" cy="277.6"/><circle cx="419.9" cy="279.7"/><circle cx="420.1" cy="281.7"/><circle cx="420.1" cy="283.8"/><circle cx="420.1" cy="285.9"/><circle cx="419.9" cy="287.9"/><circle cx="419.9" cy="290.0"/><circle cx="420.2" cy="292.1"/><circle cx="419.9" cy="294.1"/><circle cx="419.8" cy="296.2"/><circle cx="420.2" cy="265.2"/><circle cx="420.1" cy="268.4"/><circle cx="419.9" cy="271.1"/><circle cx="420.2" cy="274.5"/><circle cx="420.2" cy="277.3"/><circle cx="419.6" cy="280.8"/><circle cx="419.6" cy="283.6"/><circle cx="419.8" cy="286.4"/><circle cx="419.9" cy="289.7"/><circle cx="420.4" cy="293.1"/><circle cx="419.7" cy="296.2"/></g>
<g fill="#008b8b"><circle cx="423.4" cy="287.8"/><circle cx="423.7" cy="288.6"/><circle cx="423.5" cy="289.4"/><circle cx="423.6" cy="290.2"/><circle cx="423.6" cy="292.2"/><circle cx="423.4" cy="294.2"/><circle cx="423.3" cy="296.2"/><circle cx="423.5" cy="298.2"/><circle cx="423.5" cy="300.2"/><circle cx="423.7" cy="302.2"/><circle cx="423.4" cy="304.2"/><circle cx="423.3" cy="306.2"/><circle cx="423.3" cy="308.2"/><circle cx="423.3" cy="310.2"/><circle cx="423.3" cy="312.2"/><circle cx="423.6" cy="314.2"/><circle cx="423.4" cy="316.2"/><circle cx="423.4" cy="318.2"/><circle cx="423.5" cy="320.2"/><circle cx="423.7" cy="322.2"/><circle cx="423.4" cy="324.2"/><circle cx="423.4" cy="326.2"/><circle cx="423.4" cy="328.2"/><circle cx="423.3" cy="330.2"/><circle cx="423.4" cy="332.2"/><circle cx="423.5" cy="334.2"/><circle cx="423.4" cy="336.2"/><circle cx="423.5" cy="338.2"/><circle cx="423.3" cy="340.2"/><circle cx="423.5" cy="342.2"/><circle cx="423.3" cy="344.2"/><circle cx="423.4" cy="346.2"/><circle cx="423.6" cy="348.2"/><circle cx="423.4" cy="350.2"/><circle cx="423.1" cy="290.2"/><circle cx="423.1" cy="293.1"/><circle cx="423.4" cy="296.8"/><circle cx="423.1" cy="299.4"/><circle cx="423.2" cy="302.1"/><circle cx="423.2" cy="305.4"/><circle cx="423.9" cy="308.8"/><circle cx="423.8" cy="311.5"/><circle cx="423.2" cy="313.9"/><circle cx="423.5" cy="317.1"/><circle cx="423.6" cy="320.8"/><circle cx="423.9" cy="323.3"/><circle cx="423.3" cy="326.7"/><circle cx="424.0" cy="328.8"/><circle cx="423.0" cy="332.2"/><circle cx="423.0" cy="335.4"/><circle cx="423.1" cy="337.7"/><circle cx="423.5" cy="340.7"/><circle cx="423.5" cy="344.6"/><circle cx="423.5" cy="347.5"/><circle cx="423.7" cy="350.2"/></g>
<g fill="#000080"><circle cx="424.1" cy="303.8"/><circle cx="423.9" cy="304.6"/><circle cx="424.2" cy="305.4"/><circle cx="424.1" cy="306.2"/><circle cx="424.0" cy="308.2"/><circle cx="424.0" cy="310.3"/><circle cx="423.9" cy="312.3"/><circle cx="423.8" cy="314.3"/><circle cx="424.1" cy="316.4"/><circle cx="424.1" cy="318.4"/><circle cx="424.0" cy="320.5"/><circle cx="424.2" cy="322.5"/><circle cx="423.9" cy="324.5"/><circle cx="424.0" cy="326.6"/><circle cx="424.0" cy="328.6"/><circle cx="424.2" cy="330.6"/><circle cx="424.0" cy="332.7"/><circle cx="423.9" cy="334.7"/><circle cx="424.0" cy="336.8"/><circle cx="424.2" cy="338.8"/><circle cx="424.1" cy="340.8"/><circle cx="423.9" cy="342.9"/><circle cx="424.1" cy="344.9"/><circle cx="424.0" cy="346.9"/><circle cx="423.9" cy="349.0"/><circle cx="424.0" cy="351.0"/><circle cx="423.9" cy="353.1"/><circle cx="423.9" cy="355.1"/><circle cx="424.1" cy="357.1"/><circle cx="423.9" cy="359.2"/><circle cx="423.8" cy="361.2"/><circle cx="424.0" cy="306.2"/><circle cx="423.5" cy="308.8"/><circle cx="423.8" cy="312.2"/><circle cx="424.1" cy="315.9"/><circle cx="424.2" cy="318.5"/><circle cx="423.6" cy="321.1"/><circle cx="423.9" cy="324.5"/><circle cx="423.8" cy="327.9"/><circle cx="423.8" cy="330.3"/><circle cx="424.2" cy="334.0"/><circle cx="423.8" cy="336.2"/><circle cx="424.3" cy="339.7"/><circle cx="424.1" cy="342.7"/><circle cx="423.6" cy="345.5"/><circle cx="423.6" cy="348.5"/><circle cx="424.4" cy="351.9"/><circle cx="423.6" cy="355.5"/><circle cx="424.3" cy="358.2"/><circle cx="423.9" cy="361.2"/></g>
<g fill="#3f4f22"><circle cx="423.7" cy="303.1"/><circle cx="423.7" cy="303.9"/><circle cx="424.1" cy="304.7"/><circle cx="424.0" cy="305.5"/><circle cx="424.2" cy="307.2"/><circle cx="424.1" cy="308.3"/><circle cx="424.0" cy="310.0"/><circle cx="424.3" cy="311.5"/><circle cx="423.8" cy="313.8"/><circle cx="424.4" cy="315.4"/><circle cx="423.8" cy="317.5"/><circle cx="423.6" cy="318.8"/><circle cx="424.1" cy="320.2"/><circle cx="424.2" cy="321.6"/><circle cx="424.3" cy="323.7"/><circle cx="424.1" cy="324.7"/><circle cx="423.5" cy="326.5"/><circle cx="423.5" cy="328.4"/><circle cx="423.7" cy="329.6"/><circle cx="424.2" cy="332.2"/><circle cx="424.4" cy="333.2"/><circle cx="424.4" cy="334.6"/><circle cx="424.2" cy="337.1"/><circle cx="424.2" cy="338.4"/><circle cx="423.6" cy="339.6"/><circle cx="424.0" cy="342.0"/><circle cx="424.0" cy="343.2"/><circle cx="423.9" cy="345.2"/><circle cx="424.0" cy="346.5"/><circle cx="424.0" cy="347.7"/><circle cx="424.5" cy="350.0"/><circle cx="423.7" cy="350.9"/><circle cx="423.9" cy="352.3"/><circle cx="423.9" cy="354.0"/><circle cx="423.7" cy="355.9"/><circle cx="424.0" cy="357.9"/><circle cx="424.4" cy="359.9"/><circle cx="424.4" cy="361.0"/></g>
<g fill="#a9a9a9"><circle cx="428.7" cy="242.8"/><circle cx="429.1" cy="243.6"/><circle cx="429.0" cy="244.4"/><circle cx="428.7" cy="245.2"/><circle cx="429.0" cy="247.3"/><circle cx="428.9" cy="249.3"/><circle cx="428.9" cy="251.4"/><circle cx="429.0" cy="253.4"/><circle cx="429.0" cy="255.5"/><circle cx="428.9" cy="257.5"/><circle cx="428.7" cy="259.6"/><circle cx="428.7" cy="261.6"/><circle cx="428.8" cy="263.6"/><circle cx="428.6" cy="265.7"/><circle cx="428.8" cy="267.8"/><circle cx="428.8" cy="269.8"/><circle cx="429.0" cy="271.9"/><circle cx="429.0" cy="273.9"/><circle cx="428.8" cy="275.9"/><circle cx="428.7" cy="278.0"/><circle cx="428.8" cy="280.1"/><circle cx="429.0" cy="282.1"/><circle cx="429.0" cy="284.1"/><circle cx="428.6" cy="286.2"/><circle cx="429.3" cy="245.2"/><circle cx="428.7" cy="247.9"/><circle cx="428.9" cy="251.5"/><circle cx="428.8" cy="253.8"/><circle cx="428.7" cy="256.9"/><circle cx="429.1" cy="259.7"/><circle cx="428.6" cy="262.5"/><circle cx="428.9" cy="265.6"/><circle cx="429.3" cy="268.5"/><circle cx="428.4" cy="271.2"/><circle cx="428.8" cy="274.7"/><circle cx="428.7" cy="277.3"/><circle cx="428.8" cy="280.0"/><circle cx="429.1" cy="282.9"/><circle cx="428.4" cy="286.2"/></g>
<g fill="#133b25"><circle cx="428.8" cy="310.3"/><circle cx="429.1" cy="311.1"/><circle cx="429.2" cy="311.9"/><circle cx="428.5" cy="312.7"/><circle cx="428.9" cy="314.3"/><circle cx="429.0" cy="315.0"/><circle cx="429.4" cy="316.9"/><circle cx="429.2" cy="318.0"/><circle cx="429.3" cy="319.1"/><circle cx="429.0" cy="320.8"/><circle cx="428.5" cy="322.3"/><circle cx="429.2" cy="324.0"/><circle cx="428.9" cy="325.4"/><circle cx="428.5" cy="326.9"/><circle cx="429.5" cy="328.1"/><circle cx="428.6" cy="328.9"/><circle cx="429.3" cy="331.2"/><circle cx="428.7" cy="331.6"/><circle cx="429.1" cy="333.8"/><circle cx="428.7" cy="334.6"/><circle cx="429.3" cy="336.8"/><circle cx="429.4" cy="337.8"/><circle cx="428.9" cy="339.1"/><circle cx="429.0" cy="340.3"/><circle cx="428.8" cy="341.4"/><circle cx="428.6" cy="343.6"/><circle cx="428.5" cy="344.0"/><circle cx="428.7" cy="345.6"/><circle cx="429.4" cy="347.9"/><circle cx="429.1" cy="348.8"/><circle cx="429.1" cy="350.2"/><circle cx="429.1" cy="351.8"/><circle cx="429.2" cy="352.4"/><circle cx="429.1" cy="353.8"/><circle cx="429.2" cy="355.6"/><circle cx="428.8" cy="357.2"/><circle cx="429.1" cy="358.4"/><circle cx="429.0" cy="359.4"/><circle cx="429.1" cy="361.6"/><circle cx="428.7" cy="362.2"/><circle cx="429.0" cy="363.9"/><circle cx="428.6" cy="365.6"/><circle cx="429.1" cy="366.5"/><circle cx="429.4" cy="368.6"/><circle cx="429.1" cy="369.5"/></g>
<g fill="#006400"><circle cx="429.6" cy="294.8"/><circle cx="429.6" cy="295.6"/><circle cx="429.8" cy="296.4"/><circle cx="429.5" cy="297.2"/><circle cx="429.5" cy="299.3"/><circle cx="429.4" cy="301.3"/><circle cx="429.4" cy="303.4"/><circle cx="429.4" cy="305.4"/><circle cx="429.3" cy="307.5"/><circle cx="429.4" cy="309.5"/><circle cx="429.4" cy="311.6"/><circle cx="429.5" cy="313.6"/><circle cx="429.4" cy="315.7"/><circle cx="429.4" cy="317.7"/><circle cx="429.6" cy="319.8"/><circle cx="429.5" cy="321.8"/><circle cx="429.6" cy="323.9"/><circle cx="429.4" cy="325.9"/><circle cx="429.3" cy="328.0"/><circle cx="429.6" cy="330.0"/><circle cx="429.4" cy="332.1"/><circle cx="429.5" cy="334.1"/><circle cx="429.5" cy="336.2"/><circle cx="429.9" cy="297.2"/><circle cx="429.9" cy="300.2"/><circle cx="429.4" cy="303.4"/><circle cx="429.8" cy="306.6"/><circle cx="429.9" cy="309.3"/><circle cx="429.6" cy="312.5"/><circle cx="429.5" cy="315.5"/><circle cx="429.2" cy="318.4"/><circle cx="429.5" cy="321.2"/><circle cx="429.0" cy="324.1"/><circle cx="429.2" cy="327.8"/><circle cx="429.7" cy="330.6"/><circle cx="429.1" cy="333.4"/><circle cx="429.9" cy="336.2"/></g>
<g fill="#c0c0c0"><circle cx="430.2" cy="368.8"/><circle cx="430.1" cy="372.2"/></g>
<g fill="#2a2a2a"><circle cx="430.9" cy="303.8"/><circle cx="430.7" cy="304.6"/><circle cx="431.0" cy="305.4"/><circle cx="431.0" cy="306.2"/><circle cx="431.0" cy="308.2"/><circle cx="430.9" cy="310.3"/><circle cx="431.1" cy="312.3"/><circle cx="431.1" cy="314.3"/><circle cx="430.8" cy="316.4"/><circle cx="431.0" cy="318.4"/><circle cx="431.0" cy="320.5"/><circle cx="431.0" cy="322.5"/><circle cx="431.1" cy="324.5"/><circle cx="431.1" cy="326.6"/><circle cx="431.0" cy="328.6"/><circle cx="431.1" cy="330.6"/><circle cx="431.1" cy="332.7"/><circle cx="431.1" cy="334.7"/><circle cx="431.2" cy="336.8"/><circle cx="431.0" cy="338.8"/><circle cx="431.0" cy="340.8"/><circle cx="431.0" cy="342.9"/><circle cx="431.1" cy="344.9"/><circle cx="431.0" cy="346.9"/><circle cx="430.8" cy="349.0"/><circle cx="431.0" cy="351.0"/><circle cx="431.0" cy="353.1"/><circle cx="430.9" cy="355.1"/><circle cx="431.1" cy="357.1"/><circle cx="431.0" cy="359.2"/><circle cx="431.0" cy="361.2"/><circle cx="430.6" cy="306.2"/><circle cx="430.7" cy="308.8"/><circle cx="431.2" cy="312.0"/><circle cx="430.8" cy="315.7"/><circle cx="431.0" cy="318.5"/><circle cx="431.1" cy="320.9"/><circle cx="431.0" cy="324.6"/><circle cx="430.8" cy="327.9"/><circle cx="430.9" cy="330.3"/><circle cx="430.8" cy="334.3"/><circle cx="431.0" cy="336.8"/><circle cx="430.7" cy="340.1"/><circle cx="430.9" cy="342.7"/><circle cx="430.9" cy="345.9"/><circle cx="431.5" cy="349.0"/><circle cx="431.0" cy="351.8"/><circle cx="431.4" cy="354.6"/><circle cx="431.5" cy="358.3"/><circle cx="430.9" cy="361.2"/></g>
<g fill="#60498f"><circle cx="433.8" cy="312.0"/><circle cx="434.1" cy="312.8"/><circle cx="433.7" cy="313.6"/><circle cx="433.5" cy="314.4"/><circle cx="434.0" cy="315.2"/><circle cx="434.4" cy="316.7"/><circle cx="433.6" cy="318.4"/><circle cx="434.0" cy="319.6"/><circle cx="433.5" cy="322.0"/><circle cx="434.3" cy="323.4"/><circle cx="434.1" cy="324.1"/><circle cx="433.8" cy="325.5"/><circle cx="433.7" cy="327.2"/><circle cx="433.8" cy="329.1"/><circle cx="434.3" cy="330.0"/><circle cx="434.2" cy="331.5"/><circle cx="434.2" cy="332.8"/><circle cx="434.5" cy="334.6"/><circle cx="434.4" cy="335.9"/><circle cx="434.4" cy="336.7"/><circle cx="433.9" cy="338.3"/><circle cx="434.5" cy="340.1"/><circle cx="434.1" cy="341.3"/><circle cx="434.3" cy="342.0"/><circle cx="434.5" cy="343.5"/><circle cx="433.8" cy="346.0"/><circle cx="433.6" cy="347.0"/><circle cx="433.8" cy="348.0"/><circle cx="433.9" cy="350.1"/><circle cx="433.5" cy="351.6"/><circle cx="433.5" cy="353.0"/><circle cx="434.1" cy="354.3"/><circle cx="434.3" cy="355.4"/><circle cx="434.1" cy="356.1"/><circle cx="433.6" cy="357.8"/><circle cx="433.5" cy="359.6"/><circle cx="433.6" cy="360.7"/><circle cx="433.7" cy="362.0"/><circle cx="434.3" cy="363.3"/><circle cx="434.2" cy="364.6"/><circle cx="433.8" cy="366.0"/><circle cx="433.8" cy="367.9"/><circle cx="434.3" cy="369.4"/></g>
<g fill="#bdb76b"><circle cx="435.5" cy="350.8"/></g>
<g fill="#556b2f"><circle cx="436.8" cy="293.8"/><circle cx="437.1" cy="294.6"/><circle cx="436.8" cy="295.4"/><circle cx="437.1" cy="296.2"/><circle cx="436.9" cy="298.2"/><circle cx="437.1" cy="300.2"/><circle cx="436.8" cy="302.2"/><circle cx="437.2" cy="304.2"/><circle cx="436.9" cy="306.2"/><circle cx="437.2" cy="308.2"/><circle cx="437.0" cy="310.2"/><circle cx="436.9" cy="312.2"/><circle cx="437.1" cy="314.2"/><circle cx="436.9" cy="316.2"/><circle cx="437.0" cy="318.2"/><circle cx="436.9" cy="320.2"/><circle cx="436.8" cy="322.2"/><circle cx="436.9" cy="324.2"/><circle cx="436.8" cy="326.2"/><circle cx="436.9" cy="328.2"/><circle cx="436.9" cy="330.2"/><circle cx="437.0" cy="332.2"/><circle cx="437.1" cy="334.2"/><circle cx="436.9" cy="336.2"/><circle cx="437.2" cy="338.2"/><circle cx="437.0" cy="340.2"/><circle cx="437.2" cy="342.2"/><circle cx="437.1" cy="344.2"/><circle cx="436.9" cy="346.2"/><circle cx="436.9" cy="296.2"/><circle cx="436.8" cy="299.4"/><circle cx="436.6" cy="302.1"/><circle cx="436.6" cy="304.5"/><circle cx="436.6" cy="307.4"/><circle cx="436.7" cy="310.4"/><circle cx="437.2" cy="313.9"/><circle cx="436.7" cy="316.9"/><circle cx="437.3" cy="319.9"/><circle cx="437.2" cy="323.1"/><circle cx="436.8" cy="325.1"/><circle cx="436.8" cy="328.3"/><circle cx="437.0" cy="332.1"/><circle cx="437.2" cy="334.6"/><circle cx="436.8" cy="336.9"/><circle cx="436.5" cy="340.6"/><circle cx="436.9" cy="342.7"/><circle cx="437.5" cy="346.2"/></g>
<g fill="#003b3b"><circle cx="439.1" cy="308.6"/><circle cx="439.1" cy="309.4"/><circle cx="439.3" cy="310.2"/><circle cx="438.6" cy="311.0"/><circle cx="438.6" cy="312.7"/><circle cx="438.8" cy="312.9"/><circle cx="439.2" cy="315.1"/><circle cx="438.7" cy="316.4"/><circle cx="439.0" cy="317.3"/><circle cx="439.3" cy="317.7"/><circle cx="439.1" cy="319.6"/><circle cx="438.6" cy="320.2"/><circle cx="439.0" cy="321.8"/><circle cx="439.1" cy="323.3"/><circle cx="439.4" cy="323.8"/><circle cx="438.8" cy="325.1"/><circle cx="438.9" cy="327.2"/><circle cx="439.4" cy="328.6"/><circle cx="438.6" cy="328.9"/><circle cx="439.0" cy="330.0"/><circle cx="438.5" cy="331.8"/><circle cx="439.5" cy="332.5"/><circle cx="439.4" cy="334.5"/><circle cx="438.9" cy="335.2"/><circle cx="439.0" cy="336.5"/><circle cx="438.8" cy="338.0"/><circle cx="438.5" cy="338.8"/><circle cx="438.9" cy="340.2"/><circle cx="438.7" cy="341.9"/><circle cx="439.2" cy="342.1"/><circle cx="438.9" cy="343.5"/><circle cx="438.8" cy="344.6"/><circle cx="438.9" cy="346.2"/><circle cx="439.0" cy="348.0"/><circle cx="439.2" cy="348.5"/><circle cx="439.0" cy="350.2"/><circle cx="439.1" cy="351.0"/><circle cx="439.5" cy="352.7"/><circle cx="439.2" cy="353.9"/><circle cx="439.4" cy="355.1"/><circle cx="439.4" cy="355.9"/><circle cx="439.0" cy="356.9"/><circle cx="439.1" cy="358.7"/><circle cx="438.7" cy="359.7"/><circle cx="439.0" cy="361.5"/><circle cx="439.1" cy="362.1"/><circle cx="438.9" cy="363.9"/><circle cx="439.4" cy="364.9"/><circle cx="439.0" cy="366.3"/><circle cx="439.5" cy="367.2"/><circle cx="438.6" cy="368.6"/><circle cx="438.8" cy="370.1"/><circle cx="439.0" cy="371.1"/><circle cx="438.6" cy="371.6"/><circle cx="439.4" cy="372.8"/><circle cx="438.9" cy="374.6"/><circle cx="439.4" cy="375.0"/><circle cx="439.4" cy="377.2"/><circle cx="438.8" cy="378.2"/><circle cx="439.3" cy="379.6"/><circle cx="438.8" cy="380.5"/></g>
<g fill="#ff8c00"><circle cx="440.6" cy="251.3"/><circle cx="440.3" cy="253.8"/><circle cx="440.5" cy="256.2"/><circle cx="440.6" cy="251.3"/><circle cx="441.0" cy="254.2"/><circle cx="440.5" cy="256.2"/></g>
<g fill="#4a2a00"><circle cx="440.3" cy="263.8"/><circle cx="440.2" cy="264.6"/><circle cx="440.8" cy="265.4"/><circle cx="440.5" cy="266.2"/><circle cx="440.4" cy="268.2"/><circle cx="440.5" cy="270.2"/><circle cx="440.5" cy="272.2"/><circle cx="440.7" cy="274.2"/><circle cx="440.4" cy="276.2"/><circle cx="440.7" cy="278.2"/><circle cx="440.5" cy="280.2"/><circle cx="440.7" cy="282.2"/><circle cx="440.4" cy="284.2"/><circle cx="440.5" cy="286.2"/><circle cx="440.3" cy="288.2"/><circle cx="440.6" cy="290.2"/><circle cx="440.5" cy="292.2"/><circle cx="440.5" cy="294.2"/><circle cx="440.5" cy="296.2"/><circle cx="440.5" cy="298.2"/><circle cx="440.5" cy="300.2"/><circle cx="440.6" cy="302.2"/><circle cx="440.7" cy="304.2"/><circle cx="440.5" cy="306.2"/><circle cx="440.6" cy="308.2"/><circle cx="440.3" cy="310.2"/><circle cx="440.4" cy="312.2"/><circle cx="440.5" cy="314.2"/><circle cx="440.3" cy="316.2"/><circle cx="440.6" cy="318.2"/><circle cx="440.4" cy="320.2"/><circle cx="440.4" cy="322.2"/><circle cx="440.7" cy="324.2"/><circle cx="440.5" cy="326.2"/><circle cx="440.7" cy="266.2"/><circle cx="440.5" cy="268.8"/><circle cx="440.1" cy="272.2"/><circle cx="440.5" cy="275.2"/><circle cx="441.0" cy="278.5"/><circle cx="440.3" cy="280.9"/><circle cx="440.3" cy="283.7"/><circle cx="440.1" cy="287.2"/><circle cx="440.7" cy="289.7"/><circle cx="440.9" cy="293.4"/><circle cx="440.4" cy="296.1"/><circle cx="440.3" cy="299.2"/><circle cx="440.7" cy="301.9"/><circle cx="440.5" cy="305.3"/><circle cx="440.6" cy="308.8"/><circle cx="440.5" cy="310.7"/><circle cx="440.7" cy="314.7"/><circle cx="440.3" cy="317.3"/><circle cx="440.3" cy="320.6"/><circle cx="440.3" cy="323.1"/><circle cx="440.0" cy="326.2"/></g>
<g fill="#3a4a20"><circle cx="444.1" cy="312.6"/><circle cx="444.0" cy="313.4"/><circle cx="444.2" cy="314.2"/><circle cx="443.8" cy="315.0"/><circle cx="444.3" cy="317.0"/><circle cx="444.1" cy="318.3"/><circle cx="443.9" cy="320.2"/><circle cx="444.2" cy="321.7"/><circle cx="444.4" cy="323.3"/><circle cx="444.4" cy="325.0"/><circle cx="444.2" cy="327.1"/><circle cx="443.8" cy="329.1"/><circle cx="443.6" cy="330.1"/><circle cx="444.3" cy="332.4"/><circle cx="444.1" cy="334.4"/><circle cx="443.5" cy="335.8"/><circle cx="443.9" cy="337.7"/><circle cx="443.6" cy="339.7"/><circle cx="443.9" cy="341.1"/><circle cx="443.8" cy="342.3"/><circle cx="444.3" cy="343.9"/><circle cx="444.4" cy="346.5"/><circle cx="444.0" cy="348.2"/><circle cx="443.6" cy="349.9"/><circle cx="443.8" cy="351.4"/><circle cx="444.4" cy="353.3"/><circle cx="444.3" cy="355.0"/><circle cx="443.6" cy="356.4"/><circle cx="444.1" cy="358.2"/><circle cx="444.5" cy="359.9"/><circle cx="444.5" cy="361.4"/><circle cx="443.6" cy="363.2"/><circle cx="443.7" cy="365.2"/><circle cx="443.9" cy="366.7"/><circle cx="444.1" cy="368.4"/><circle cx="443.8" cy="370.5"/><circle cx="443.6" cy="372.1"/><circle cx="443.7" cy="373.6"/><circle cx="444.2" cy="375.6"/><circle cx="444.3" cy="377.4"/><circle cx="444.0" cy="379.2"/><circle cx="444.0" cy="380.5"/><circle cx="444.3" cy="382.3"/><circle cx="443.5" cy="384.4"/><circle cx="444.3" cy="385.8"/><circle cx="444.3" cy="387.3"/></g>
<g fill="#4b0082"><circle cx="445.1" cy="303.8"/><circle cx="444.9" cy="304.6"/><circle cx="445.1" cy="305.4"/><circle cx="445.0" cy="306.2"/><circle cx="445.0" cy="308.2"/><circle cx="444.9" cy="310.2"/><circle cx="445.0" cy="312.2"/><circle cx="445.1" cy="314.2"/><circle cx="444.8" cy="316.2"/><circle cx="445.1" cy="318.2"/><circle cx="445.1" cy="320.2"/><circle cx="444.9" cy="322.2"/><circle cx="445.1" cy="324.2"/><circle cx="445.1" cy="326.2"/><circle cx="445.0" cy="328.2"/><circle cx="445.1" cy="330.2"/><circle cx="445.1" cy="332.2"/><circle cx="445.2" cy="334.2"/><circle cx="444.9" cy="336.2"/><circle cx="445.2" cy="338.2"/><circle cx="445.0" cy="340.2"/><circle cx="444.9" cy="342.2"/><circle cx="445.1" cy="344.2"/><circle cx="444.8" cy="346.2"/><circle cx="445.0" cy="348.2"/><circle cx="445.2" cy="350.2"/><circle cx="444.9" cy="352.2"/><circle cx="444.8" cy="354.2"/><circle cx="445.1" cy="356.2"/><circle cx="444.9" cy="358.2"/><circle cx="444.9" cy="360.2"/><circle cx="445.0" cy="362.2"/><circle cx="445.0" cy="364.2"/><circle cx="445.2" cy="366.2"/><circle cx="444.8" cy="368.2"/><circle cx="445.0" cy="370.2"/><circle cx="444.9" cy="372.2"/><circle cx="445.0" cy="374.2"/><circle cx="444.9" cy="376.2"/><circle cx="445.1" cy="378.2"/><circle cx="444.9" cy="380.2"/><circle cx="445.0" cy="382.2"/><circle cx="444.9" cy="384.2"/><circle cx="444.9" cy="386.2"/><circle cx="445.1" cy="388.2"/><circle cx="445.0" cy="390.2"/><circle cx="445.0" cy="392.2"/><circle cx="445.0" cy="394.2"/><circle cx="445.0" cy="396.2"/><circle cx="445.1" cy="398.2"/><circle cx="445.1" cy="400.2"/><circle cx="445.2" cy="306.2"/><circle cx="444.8" cy="308.9"/><circle cx="444.7" cy="312.1"/><circle cx="444.5" cy="315.5"/><circle cx="445.4" cy="318.0"/><circle cx="445.2" cy="321.1"/><circle cx="444.9" cy="324.1"/><circle cx="445.4" cy="326.8"/><circle cx="444.9" cy="329.9"/><circle cx="444.7" cy="333.2"/><circle cx="444.7" cy="336.5"/><circle cx="445.4" cy="339.0"/><circle cx="445.3" cy="342.4"/><circle cx="444.5" cy="345.6"/><circle cx="444.5" cy="348.2"/><circle cx="445.1" cy="351.6"/><circle cx="445.0" cy="354.6"/><circle cx="445.4" cy="358.3"/><circle cx="445.2" cy="360.2"/><circle cx="444.6" cy="363.6"/><circle cx="445.0" cy="366.4"/><circle cx="445.0" cy="369.4"/><circle cx="445.0" cy="373.5"/><circle cx="444.9" cy="376.5"/><circle cx="445.0" cy="379.4"/><circle cx="445.4" cy="381.6"/><circle cx="444.5" cy="385.6"/><circle cx="444.8" cy="388.2"/><circle cx="444.6" cy="391.4"/><circle cx="444.8" cy="394.1"/><circle cx="444.6" cy="396.6"/><circle cx="445.1" cy="400.2"/></g>
<g fill="#dc143c"><circle cx="444.9" cy="313.8"/><circle cx="445.2" cy="314.6"/><circle cx="445.1" cy="315.4"/><circle cx="444.9" cy="316.2"/><circle cx="444.9" cy="318.2"/><circle cx="445.1" cy="320.2"/><circle cx="445.2" cy="322.2"/><circle cx="445.0" cy="324.2"/><circle cx="444.9" cy="326.2"/><circle cx="445.1" cy="328.2"/><circle cx="445.2" cy="330.2"/><circle cx="445.1" cy="332.2"/><circle cx="444.9" cy="334.2"/><circle cx="445.0" cy="336.2"/><circle cx="445.0" cy="338.2"/><circle cx="444.8" cy="340.2"/><circle cx="444.9" cy="342.2"/><circle cx="444.8" cy="344.2"/><circle cx="444.9" cy="346.2"/><circle cx="445.1" cy="348.2"/><circle cx="445.2" cy="350.2"/><circle cx="444.8" cy="352.2"/><circle cx="444.9" cy="354.2"/><circle cx="445.1" cy="356.2"/><circle cx="444.8" cy="358.2"/><circle cx="445.0" cy="360.2"/><circle cx="444.9" cy="362.2"/><circle cx="445.1" cy="364.2"/><circle cx="445.1" cy="366.2"/><circle cx="445.0" cy="368.2"/><circle cx="445.1" cy="370.2"/><circle cx="445.0" cy="372.2"/><circle cx="445.0" cy="374.2"/><circle cx="445.0" cy="376.2"/><circle cx="444.9" cy="378.2"/><circle cx="445.1" cy="380.2"/><circle cx="444.9" cy="382.2"/><circle cx="444.9" cy="384.2"/><circle cx="444.8" cy="386.2"/><circle cx="445.1" cy="388.2"/><circle cx="445.0" cy="390.2"/><circle cx="445.1" cy="392.2"/><circle cx="444.8" cy="394.2"/><circle cx="444.8" cy="396.2"/><circle cx="444.6" cy="316.2"/><circle cx="444.9" cy="318.6"/><circle cx="445.5" cy="322.0"/><circle cx="444.5" cy="325.4"/><circle cx="445.4" cy="328.0"/><circle cx="445.1" cy="330.9"/><circle cx="444.9" cy="334.0"/><circle cx="444.5" cy="336.8"/><circle cx="445.2" cy="340.2"/><circle cx="444.9" cy="342.6"/><circle cx="445.0" cy="345.4"/><circle cx="444.8" cy="348.9"/><circle cx="444.7" cy="352.0"/><circle cx="444.8" cy="354.8"/><circle cx="444.9" cy="358.1"/><circle cx="445.4" cy="360.8"/><circle cx="445.3" cy="363.4"/><circle cx="444.6" cy="366.9"/><circle cx="444.8" cy="369.4"/><circle cx="445.2" cy="372.4"/><circle cx="444.8" cy="375.4"/><circle cx="445.0" cy="378.2"/><circle cx="445.4" cy="381.5"/><circle cx="445.4" cy="384.0"/><circle cx="445.3" cy="387.0"/><circle cx="444.7" cy="389.7"/><circle cx="445.2" cy="392.7"/><circle cx="445.3" cy="396.2"/></g>
<g fill="#2a0a1a"><circle cx="445.8" cy="333.8"/><circle cx="446.1" cy="334.6"/><circle cx="446.0" cy="335.4"/><circle cx="445.8" cy="336.2"/><circle cx="445.6" cy="337.6"/><circle cx="446.2" cy="339.7"/><circle cx="446.2" cy="341.1"/><circle cx="445.8" cy="342.8"/><circle cx="446.4" cy="343.4"/><circle cx="446.2" cy="345.7"/><circle cx="445.9" cy="347.0"/><circle cx="446.5" cy="348.3"/><circle cx="446.1" cy="350.2"/><circle cx="445.5" cy="350.8"/><circle cx="445.6" cy="352.5"/><circle cx="445.7" cy="354.1"/><circle cx="445.8" cy="356.1"/><circle cx="446.0" cy="357.3"/><circle cx="445.9" cy="358.2"/><circle cx="446.4" cy="360.6"/><circle cx="445.8" cy="361.5"/><circle cx="446.2" cy="363.1"/><circle cx="446.2" cy="365.2"/><circle cx="446.1" cy="366.4"/><circle cx="446.3" cy="368.1"/><circle cx="446.4" cy="369.3"/><circle cx="445.7" cy="370.4"/><circle cx="446.0" cy="372.2"/><circle cx="446.3" cy="374.1"/><circle cx="445.6" cy="375.8"/><circle cx="446.4" cy="376.9"/><circle cx="445.7" cy="378.5"/><circle cx="445.7" cy="380.3"/><circle cx="445.6" cy="381.7"/><circle cx="445.6" cy="383.1"/><circle cx="445.7" cy="384.6"/><circle cx="445.6" cy="385.7"/><circle cx="446.1" cy="387.1"/><circle cx="446.2" cy="388.4"/><circle cx="446.1" cy="390.4"/><circle cx="446.1" cy="391.5"/><circle cx="446.5" cy="393.1"/><circle cx="445.9" cy="394.6"/><circle cx="445.7" cy="395.8"/><circle cx="445.6" cy="397.6"/><circle cx="445.8" cy="399.7"/><circle cx="445.7" cy="401.0"/><circle cx="445.5" cy="402.6"/><circle cx="445.5" cy="403.2"/><circle cx="446.5" cy="405.3"/><circle cx="445.8" cy="406.4"/><circle cx="446.5" cy="408.2"/></g>
<g fill="#ffa07a"><circle cx="446.5" cy="404.8"/></g>
<g fill="#b00000"><circle cx="447.2" cy="413.8"/><circle cx="446.8" cy="416.2"/></g>
<g fill="#873c3c"><circle cx="449.1" cy="308.0"/><circle cx="449.1" cy="308.8"/><circle cx="448.9" cy="309.6"/><circle cx="449.2" cy="310.4"/><circle cx="449.0" cy="311.9"/><circle cx="449.4" cy="313.7"/><circle cx="448.5" cy="314.1"/><circle cx="449.2" cy="315.4"/><circle cx="449.3" cy="317.7"/><circle cx="449.1" cy="318.3"/><circle cx="449.2" cy="319.9"/><circle cx="449.1" cy="321.2"/><circle cx="448.9" cy="322.8"/><circle cx="449.1" cy="324.4"/><circle cx="448.5" cy="325.8"/><circle cx="449.1" cy="326.3"/><circle cx="449.4" cy="328.8"/><circle cx="448.9" cy="329.2"/><circle cx="449.0" cy="331.0"/><circle cx="448.6" cy="332.0"/><circle cx="449.1" cy="333.3"/><circle cx="449.4" cy="335.3"/><circle cx="448.7" cy="337.0"/><circle cx="449.0" cy="338.4"/><circle cx="449.1" cy="339.2"/><circle cx="449.1" cy="341.2"/><circle cx="449.3" cy="341.4"/><circle cx="449.1" cy="343.0"/><circle cx="449.1" cy="344.5"/><circle cx="448.6" cy="346.6"/><circle cx="448.8" cy="347.2"/><circle cx="449.2" cy="349.2"/><circle cx="449.4" cy="350.5"/><circle cx="448.8" cy="351.8"/><circle cx="449.3" cy="353.3"/><circle cx="448.6" cy="353.9"/><circle cx="448.7" cy="355.4"/><circle cx="449.2" cy="356.9"/><circle cx="449.5" cy="358.0"/><circle cx="449.0" cy="359.5"/><circle cx="449.4" cy="361.6"/><circle cx="449.3" cy="362.6"/><circle cx="448.8" cy="363.5"/><circle cx="448.5" cy="364.8"/><circle cx="448.9" cy="366.5"/><circle cx="449.1" cy="367.5"/><circle cx="449.1" cy="369.3"/><circle cx="448.6" cy="370.6"/><circle cx="449.0" cy="372.4"/><circle cx="448.9" cy="373.7"/><circle cx="448.6" cy="374.7"/><circle cx="448.8" cy="376.8"/><circle cx="448.7" cy="377.6"/><circle cx="449.1" cy="379.2"/><circle cx="448.9" cy="380.8"/><circle cx="449.2" cy="382.1"/><circle cx="448.5" cy="383.1"/><circle cx="449.5" cy="384.6"/></g>
<g fill="#ffa07a"><circle cx="449.6" cy="271.3"/><circle cx="449.4" cy="272.1"/><circle cx="449.6" cy="272.9"/><circle cx="449.4" cy="273.7"/><circle cx="449.6" cy="275.7"/><circle cx="449.5" cy="277.7"/><circle cx="449.7" cy="279.7"/><circle cx="449.5" cy="281.8"/><circle cx="449.4" cy="283.8"/><circle cx="449.4" cy="285.8"/><circle cx="449.5" cy="287.8"/><circle cx="449.6" cy="289.8"/><circle cx="449.6" cy="291.8"/><circle cx="449.4" cy="293.8"/><circle cx="449.5" cy="295.9"/><circle cx="449.6" cy="297.9"/><circle cx="449.4" cy="299.9"/><circle cx="449.3" cy="301.9"/><circle cx="449.4" cy="303.9"/><circle cx="449.5" cy="305.9"/><circle cx="449.3" cy="307.9"/><circle cx="449.5" cy="309.9"/><circle cx="449.4" cy="312.0"/><circle cx="449.5" cy="314.0"/><circle cx="449.6" cy="316.0"/><circle cx="449.3" cy="318.0"/><circle cx="449.3" cy="320.0"/><circle cx="449.5" cy="322.0"/><circle cx="449.5" cy="324.0"/><circle cx="449.5" cy="326.1"/><circle cx="449.6" cy="328.1"/><circle cx="449.6" cy="330.1"/><circle cx="449.3" cy="332.1"/><circle cx="449.5" cy="334.1"/><circle cx="449.3" cy="336.1"/><circle cx="449.7" cy="338.1"/><circle cx="449.4" cy="340.2"/><circle cx="449.6" cy="342.2"/><circle cx="449.5" cy="344.2"/><circle cx="449.5" cy="346.2"/><circle cx="449.2" cy="273.7"/><circle cx="449.9" cy="276.6"/><circle cx="449.2" cy="280.3"/><circle cx="449.1" cy="282.4"/><circle cx="449.1" cy="285.5"/><circle cx="449.2" cy="288.9"/><circle cx="450.0" cy="291.8"/><circle cx="449.4" cy="294.4"/><circle cx="449.8" cy="298.2"/><circle cx="449.4" cy="300.9"/><circle cx="449.4" cy="304.3"/><circle cx="449.1" cy="307.2"/><circle cx="449.5" cy="310.4"/><circle cx="449.5" cy="313.0"/><circle cx="449.4" cy="315.5"/><circle cx="449.8" cy="318.9"/><circle cx="449.8" cy="322.0"/><circle cx="449.6" cy="325.6"/><circle cx="449.7" cy="328.0"/><circle cx="449.9" cy="330.7"/><circle cx="449.0" cy="333.9"/><circle cx="449.7" cy="336.9"/><circle cx="449.2" cy="339.6"/><circle cx="449.6" cy="343.3"/><circle cx="449.7" cy="346.2"/></g>
<g fill="#8fbc8f"><circle cx="451.1" cy="303.8"/><circle cx="451.0" cy="304.6"/><circle cx="451.2" cy="305.4"/><circle cx="450.9" cy="306.2"/><circle cx="450.8" cy="308.2"/><circle cx="450.8" cy="310.3"/><circle cx="451.0" cy="312.3"/><circle cx="451.0" cy="314.3"/><circle cx="451.0" cy="316.4"/><circle cx="451.1" cy="318.4"/><circle cx="451.0" cy="320.4"/><circle cx="451.1" cy="322.5"/><circle cx="450.9" cy="324.5"/><circle cx="451.1" cy="326.5"/><circle cx="450.9" cy="328.6"/><circle cx="451.2" cy="330.6"/><circle cx="450.9" cy="332.7"/><circle cx="451.0" cy="334.7"/><circle cx="451.0" cy="336.7"/><circle cx="451.2" cy="338.8"/><circle cx="451.0" cy="340.8"/><circle cx="450.9" cy="342.8"/><circle cx="450.8" cy="344.9"/><circle cx="450.9" cy="346.9"/><circle cx="450.8" cy="348.9"/><circle cx="450.9" cy="351.0"/><circle cx="451.1" cy="353.0"/><circle cx="450.8" cy="355.0"/><circle cx="451.1" cy="357.1"/><circle cx="450.9" cy="359.1"/><circle cx="451.1" cy="361.1"/><circle cx="451.1" cy="363.2"/><circle cx="450.8" cy="365.2"/><circle cx="450.8" cy="367.2"/><circle cx="451.2" cy="369.3"/><circle cx="451.2" cy="371.3"/><circle cx="451.0" cy="373.4"/><circle cx="451.2" cy="375.4"/><circle cx="451.1" cy="377.4"/><circle cx="451.0" cy="379.5"/><circle cx="450.9" cy="381.5"/><circle cx="450.9" cy="383.5"/><circle cx="451.0" cy="385.6"/><circle cx="451.0" cy="387.6"/><circle cx="451.0" cy="389.6"/><circle cx="451.0" cy="391.7"/><circle cx="450.9" cy="393.7"/><circle cx="451.3" cy="306.2"/><circle cx="450.7" cy="309.0"/><circle cx="450.6" cy="311.7"/><circle cx="451.4" cy="315.5"/><circle cx="450.7" cy="317.8"/><circle cx="450.9" cy="321.3"/><circle cx="451.1" cy="324.1"/><circle cx="450.7" cy="327.7"/><circle cx="450.9" cy="330.0"/><circle cx="450.6" cy="333.2"/><circle cx="451.1" cy="336.7"/><circle cx="450.6" cy="339.1"/><circle cx="451.2" cy="342.8"/><circle cx="450.5" cy="345.7"/><circle cx="450.9" cy="348.7"/><circle cx="450.9" cy="351.0"/><circle cx="451.3" cy="354.3"/><circle cx="451.3" cy="357.1"/><circle cx="451.1" cy="360.1"/><circle cx="451.0" cy="364.1"/><circle cx="451.3" cy="367.1"/><circle cx="450.8" cy="369.4"/><circle cx="450.8" cy="372.2"/><circle cx="451.4" cy="375.3"/><circle cx="451.4" cy="378.0"/><circle cx="451.4" cy="381.5"/><circle cx="450.8" cy="384.3"/><circle cx="450.8" cy="388.0"/><circle cx="451.2" cy="391.1"/><circle cx="450.7" cy="393.7"/></g>
<g fill="#652187"><circle cx="454.3" cy="309.3"/><circle cx="453.7" cy="310.1"/><circle cx="454.2" cy="310.9"/><circle cx="453.9" cy="311.7"/><circle cx="454.0" cy="313.1"/><circle cx="454.5" cy="315.2"/><circle cx="453.8" cy="316.7"/><circle cx="454.3" cy="318.6"/><circle cx="454.2" cy="320.0"/><circle cx="453.8" cy="322.0"/><circle cx="453.6" cy="323.2"/><circle cx="454.4" cy="326.0"/><circle cx="454.3" cy="326.7"/><circle cx="453.5" cy="328.3"/><circle cx="454.0" cy="331.1"/><circle cx="454.1" cy="332.5"/><circle cx="453.9" cy="333.8"/><circle cx="454.0" cy="336.4"/><circle cx="454.0" cy="337.6"/><circle cx="454.5" cy="338.7"/><circle cx="453.9" cy="340.5"/><circle cx="454.4" cy="342.6"/><circle cx="454.1" cy="344.6"/><circle cx="453.6" cy="345.6"/><circle cx="454.2" cy="347.5"/><circle cx="454.3" cy="349.7"/><circle cx="453.5" cy="351.9"/><circle cx="454.0" cy="353.2"/><circle cx="454.0" cy="354.4"/><circle cx="453.7" cy="356.3"/><circle cx="454.3" cy="358.2"/><circle cx="454.4" cy="359.5"/><circle cx="454.1" cy="361.4"/><circle cx="453.8" cy="363.0"/><circle cx="454.4" cy="365.2"/><circle cx="454.3" cy="367.0"/><circle cx="454.2" cy="368.1"/><circle cx="454.3" cy="369.9"/><circle cx="454.2" cy="371.8"/><circle cx="453.7" cy="373.3"/><circle cx="454.2" cy="375.4"/></g>
<g fill="#483d8b"><circle cx="454.3" cy="268.8"/><circle cx="454.8" cy="269.6"/><circle cx="454.4" cy="270.4"/><circle cx="454.4" cy="271.2"/><circle cx="454.3" cy="273.2"/><circle cx="454.5" cy="275.3"/><circle cx="454.4" cy="277.3"/><circle cx="454.5" cy="279.3"/><circle cx="454.6" cy="281.4"/><circle cx="454.4" cy="283.4"/><circle cx="454.5" cy="285.4"/><circle cx="454.3" cy="287.4"/><circle cx="454.5" cy="289.5"/><circle cx="454.4" cy="291.5"/><circle cx="454.7" cy="293.5"/><circle cx="454.5" cy="295.6"/><circle cx="454.4" cy="297.6"/><circle cx="454.4" cy="299.6"/><circle cx="454.5" cy="301.7"/><circle cx="454.5" cy="303.7"/><circle cx="454.6" cy="305.7"/><circle cx="454.5" cy="307.8"/><circle cx="454.5" cy="309.8"/><circle cx="454.4" cy="311.8"/><circle cx="454.6" cy="313.9"/><circle cx="454.4" cy="315.9"/><circle cx="454.4" cy="317.9"/><circle cx="454.5" cy="319.9"/><circle cx="454.5" cy="322.0"/><circle cx="454.6" cy="324.0"/><circle cx="454.6" cy="326.0"/><circle cx="454.7" cy="328.1"/><circle cx="454.4" cy="330.1"/><circle cx="454.4" cy="332.1"/><circle cx="454.6" cy="334.2"/><circle cx="454.4" cy="336.2"/><circle cx="454.5" cy="271.2"/><circle cx="454.1" cy="274.1"/><circle cx="454.3" cy="276.8"/><circle cx="454.6" cy="280.0"/><circle cx="454.3" cy="283.0"/><circle cx="454.9" cy="286.2"/><circle cx="454.1" cy="288.3"/><circle cx="454.7" cy="292.4"/><circle cx="454.4" cy="295.3"/><circle cx="454.1" cy="298.1"/><circle cx="454.1" cy="300.3"/><circle cx="454.7" cy="303.9"/><circle cx="454.9" cy="306.4"/><circle cx="454.7" cy="309.3"/><circle cx="454.8" cy="313.0"/><circle cx="454.6" cy="315.5"/><circle cx="454.2" cy="318.3"/><circle cx="454.8" cy="321.2"/><circle cx="454.3" cy="323.9"/><circle cx="454.9" cy="327.8"/><circle cx="454.9" cy="330.3"/><circle cx="454.2" cy="333.4"/><circle cx="454.5" cy="336.2"/></g>
<g fill="#008b8b"><circle cx="457.1" cy="343.8"/><circle cx="457.1" cy="344.6"/><circle cx="456.9" cy="345.4"/><circle cx="456.9" cy="346.2"/><circle cx="457.2" cy="348.2"/><circle cx="457.0" cy="350.3"/><circle cx="456.9" cy="352.3"/><circle cx="457.1" cy="354.4"/><circle cx="456.9" cy="356.4"/><circle cx="457.1" cy="358.4"/><circle cx="457.1" cy="360.5"/><circle cx="457.1" cy="362.5"/><circle cx="457.0" cy="364.6"/><circle cx="456.9" cy="366.6"/><circle cx="456.8" cy="368.7"/><circle cx="456.8" cy="370.7"/><circle cx="457.0" cy="372.7"/><circle cx="457.2" cy="374.8"/><circle cx="456.9" cy="376.8"/><circle cx="457.0" cy="378.9"/><circle cx="456.9" cy="380.9"/><circle cx="457.0" cy="382.9"/><circle cx="457.1" cy="385.0"/><circle cx="456.9" cy="387.0"/><circle cx="456.8" cy="389.1"/><circle cx="456.9" cy="391.1"/><circle cx="457.2" cy="393.2"/><circle cx="457.1" cy="395.2"/><circle cx="457.1" cy="346.2"/><circle cx="456.5" cy="349.7"/><circle cx="456.8" cy="352.7"/><circle cx="456.9" cy="355.4"/><circle cx="456.6" cy="358.6"/><circle cx="456.5" cy="362.0"/><circle cx="457.4" cy="365.0"/><circle cx="457.2" cy="368.2"/><circle cx="457.1" cy="370.6"/><circle cx="456.6" cy="374.3"/><circle cx="456.7" cy="376.3"/><circle cx="457.1" cy="380.2"/><circle cx="456.8" cy="382.4"/><circle cx="457.1" cy="385.6"/><circle cx="457.2" cy="389.3"/><circle cx="457.4" cy="392.7"/><circle cx="456.8" cy="395.2"/></g>
<g fill="#2a0a3a"><circle cx="458.8" cy="303.8"/><circle cx="458.8" cy="304.6"/><circle cx="458.9" cy="305.4"/><circle cx="459.1" cy="306.2"/><circle cx="458.6" cy="307.6"/><circle cx="459.1" cy="309.3"/><circle cx="458.7" cy="310.8"/><circle cx="458.9" cy="312.2"/><circle cx="458.7" cy="313.7"/><circle cx="458.5" cy="315.8"/><circle cx="458.6" cy="316.8"/><circle cx="458.7" cy="317.7"/><circle cx="458.9" cy="319.7"/><circle cx="458.7" cy="321.0"/><circle cx="458.8" cy="322.5"/><circle cx="459.2" cy="324.6"/><circle cx="459.4" cy="325.3"/><circle cx="458.6" cy="327.5"/><circle cx="458.7" cy="329.0"/><circle cx="459.2" cy="330.2"/></g>
<g fill="#954242"><circle cx="459.0" cy="315.0"/><circle cx="459.0" cy="315.8"/><circle cx="459.1" cy="316.6"/><circle cx="459.3" cy="317.4"/><circle cx="458.9" cy="318.2"/><circle cx="458.6" cy="319.1"/><circle cx="458.9" cy="320.8"/><circle cx="459.3" cy="322.2"/><circle cx="459.1" cy="322.9"/><circle cx="459.4" cy="324.5"/><circle cx="458.7" cy="325.1"/><circle cx="458.7" cy="325.8"/><circle cx="459.5" cy="327.9"/><circle cx="459.3" cy="328.0"/><circle cx="459.3" cy="329.4"/><circle cx="459.4" cy="330.8"/><circle cx="459.4" cy="332.4"/><circle cx="458.6" cy="332.5"/><circle cx="458.6" cy="333.6"/><circle cx="458.9" cy="335.6"/><circle cx="458.8" cy="336.0"/><circle cx="458.5" cy="336.8"/><circle cx="458.9" cy="338.5"/><circle cx="459.4" cy="339.9"/><circle cx="459.0" cy="340.8"/><circle cx="458.8" cy="342.1"/><circle cx="458.9" cy="342.6"/><circle cx="458.8" cy="344.5"/><circle cx="458.7" cy="345.6"/><circle cx="459.2" cy="346.6"/><circle cx="458.6" cy="347.1"/><circle cx="458.5" cy="349.0"/><circle cx="458.8" cy="350.0"/><circle cx="458.8" cy="350.9"/><circle cx="459.3" cy="351.6"/><circle cx="459.3" cy="353.1"/><circle cx="458.9" cy="353.9"/><circle cx="459.2" cy="355.0"/><circle cx="459.3" cy="356.5"/><circle cx="458.5" cy="357.2"/><circle cx="459.0" cy="358.5"/><circle cx="459.2" cy="360.1"/><circle cx="458.6" cy="360.4"/><circle cx="458.6" cy="361.8"/><circle cx="458.8" cy="362.5"/><circle cx="459.0" cy="364.0"/><circle cx="458.5" cy="364.6"/><circle cx="459.1" cy="366.6"/><circle cx="458.6" cy="367.3"/></g>
<g fill="#0a3a3a"><circle cx="462.2" cy="276.3"/><circle cx="462.7" cy="277.1"/><circle cx="462.3" cy="277.9"/><circle cx="462.1" cy="278.7"/><circle cx="462.3" cy="280.0"/><circle cx="462.3" cy="281.6"/><circle cx="463.0" cy="283.7"/><circle cx="462.9" cy="284.6"/><circle cx="462.1" cy="286.5"/><circle cx="462.6" cy="287.1"/><circle cx="462.8" cy="289.4"/><circle cx="462.3" cy="290.6"/><circle cx="463.0" cy="292.5"/><circle cx="462.9" cy="293.7"/><circle cx="462.3" cy="294.8"/><circle cx="462.7" cy="296.9"/><circle cx="462.1" cy="298.5"/><circle cx="462.9" cy="299.4"/><circle cx="462.0" cy="300.8"/><circle cx="462.9" cy="302.0"/><circle cx="463.0" cy="304.0"/><circle cx="462.6" cy="305.2"/><circle cx="462.9" cy="306.8"/><circle cx="462.8" cy="308.9"/><circle cx="462.9" cy="309.9"/><circle cx="463.0" cy="311.5"/><circle cx="462.8" cy="313.2"/><circle cx="462.2" cy="314.6"/><circle cx="462.2" cy="316.4"/><circle cx="462.4" cy="317.4"/><circle cx="462.7" cy="319.0"/><circle cx="462.4" cy="320.6"/><circle cx="462.6" cy="322.1"/><circle cx="462.1" cy="323.0"/><circle cx="462.3" cy="325.1"/><circle cx="462.2" cy="326.2"/></g>
<g fill="#530000"><circle cx="464.2" cy="303.5"/><circle cx="464.0" cy="304.3"/><circle cx="463.9" cy="305.1"/><circle cx="464.0" cy="305.9"/><circle cx="463.5" cy="307.0"/><circle cx="464.3" cy="308.1"/><circle cx="464.1" cy="309.8"/><circle cx="463.5" cy="311.0"/><circle cx="464.0" cy="312.4"/><circle cx="463.5" cy="313.7"/><circle cx="464.4" cy="315.3"/><circle cx="464.4" cy="317.0"/><circle cx="463.8" cy="317.6"/><circle cx="464.2" cy="318.8"/><circle cx="464.1" cy="320.1"/><circle cx="464.1" cy="322.5"/><circle cx="463.8" cy="323.8"/><circle cx="464.5" cy="324.9"/><circle cx="464.2" cy="325.8"/><circle cx="464.0" cy="327.8"/><circle cx="463.7" cy="328.0"/><circle cx="463.6" cy="330.0"/><circle cx="463.9" cy="330.8"/><circle cx="464.2" cy="333.0"/><circle cx="463.5" cy="334.0"/><circle cx="463.9" cy="335.0"/><circle cx="463.6" cy="336.8"/><circle cx="464.1" cy="338.1"/><circle cx="463.6" cy="339.2"/><circle cx="464.3" cy="340.5"/><circle cx="463.8" cy="341.3"/><circle cx="463.6" cy="343.8"/><circle cx="464.4" cy="345.0"/><circle cx="464.2" cy="346.3"/><circle cx="464.3" cy="347.6"/><circle cx="463.7" cy="348.0"/><circle cx="464.5" cy="349.9"/><circle cx="463.7" cy="351.2"/><circle cx="464.2" cy="353.0"/><circle cx="463.7" cy="354.1"/><circle cx="463.8" cy="355.5"/><circle cx="464.2" cy="355.9"/><circle cx="463.9" cy="358.0"/><circle cx="463.9" cy="358.7"/><circle cx="464.1" cy="360.7"/><circle cx="463.8" cy="361.9"/><circle cx="464.2" cy="363.0"/><circle cx="463.9" cy="364.5"/></g>
<g fill="#808080"><circle cx="467.1" cy="274.8"/><circle cx="466.8" cy="275.6"/><circle cx="467.2" cy="276.4"/><circle cx="467.1" cy="277.2"/><circle cx="467.1" cy="279.3"/><circle cx="466.9" cy="281.3"/><circle cx="467.0" cy="283.4"/><circle cx="467.0" cy="285.5"/><circle cx="466.9" cy="287.6"/><circle cx="467.1" cy="289.6"/><circle cx="467.0" cy="291.7"/><circle cx="467.0" cy="293.8"/><circle cx="467.1" cy="295.8"/><circle cx="467.0" cy="297.9"/><circle cx="467.1" cy="300.0"/><circle cx="467.0" cy="302.1"/><circle cx="466.8" cy="304.1"/><circle cx="466.8" cy="306.2"/><circle cx="467.2" cy="277.2"/><circle cx="467.4" cy="279.5"/><circle cx="466.6" cy="283.2"/><circle cx="466.6" cy="286.3"/><circle cx="466.8" cy="288.6"/><circle cx="466.6" cy="291.4"/><circle cx="467.0" cy="294.3"/><circle cx="467.4" cy="297.8"/><circle cx="467.0" cy="300.7"/><circle cx="466.9" cy="303.8"/><circle cx="467.1" cy="306.2"/></g>
<g fill="#1e90ff"><circle cx="469.1" cy="303.8"/><circle cx="468.8" cy="304.6"/><circle cx="469.1" cy="305.4"/><circle cx="468.8" cy="306.2"/><circle cx="469.0" cy="308.2"/><circle cx="469.0" cy="310.2"/><circle cx="469.0" cy="312.2"/><circle cx="469.0" cy="314.2"/><circle cx="468.9" cy="316.2"/><circle cx="469.0" cy="318.2"/><circle cx="469.1" cy="320.2"/><circle cx="469.0" cy="322.2"/><circle cx="468.8" cy="324.2"/><circle cx="468.9" cy="326.2"/><circle cx="468.8" cy="328.2"/><circle cx="469.2" cy="330.2"/><circle cx="469.1" cy="332.2"/><circle cx="468.9" cy="334.2"/><circle cx="469.2" cy="336.2"/><circle cx="468.9" cy="338.2"/><circle cx="468.9" cy="340.2"/><circle cx="468.8" cy="342.2"/><circle cx="468.9" cy="344.2"/><circle cx="469.1" cy="346.2"/><circle cx="469.1" cy="348.2"/><circle cx="469.1" cy="350.2"/><circle cx="468.9" cy="352.2"/><circle cx="468.9" cy="354.2"/><circle cx="469.1" cy="356.2"/><circle cx="468.8" cy="358.2"/><circle cx="468.9" cy="360.2"/><circle cx="469.0" cy="362.2"/><circle cx="469.0" cy="364.2"/><circle cx="468.9" cy="306.2"/><circle cx="469.1" cy="309.0"/><circle cx="468.9" cy="312.7"/><circle cx="469.4" cy="315.8"/><circle cx="468.7" cy="318.7"/><circle cx="468.6" cy="321.6"/><circle cx="469.0" cy="324.2"/><circle cx="469.2" cy="327.0"/><circle cx="469.3" cy="331.0"/><circle cx="469.2" cy="333.8"/><circle cx="469.2" cy="336.4"/><circle cx="468.6" cy="339.8"/><circle cx="468.8" cy="342.8"/><circle cx="468.9" cy="345.5"/><circle cx="468.7" cy="349.1"/><circle cx="469.4" cy="352.0"/><circle cx="468.8" cy="355.6"/><circle cx="468.7" cy="357.9"/><circle cx="468.7" cy="361.2"/><circle cx="469.3" cy="364.2"/></g>
<g fill="#8a6408"><circle cx="469.0" cy="306.8"/><circle cx="469.1" cy="307.6"/><circle cx="468.8" cy="308.4"/><circle cx="469.3" cy="309.2"/><circle cx="468.5" cy="310.0"/><circle cx="469.4" cy="311.5"/><circle cx="469.1" cy="312.2"/><circle cx="469.1" cy="313.8"/><circle cx="469.0" cy="315.1"/><circle cx="469.2" cy="315.5"/><circle cx="468.5" cy="316.5"/><circle cx="469.3" cy="318.3"/><circle cx="468.8" cy="319.3"/><circle cx="469.0" cy="320.3"/><circle cx="469.5" cy="322.0"/><circle cx="469.1" cy="322.2"/><circle cx="469.0" cy="323.9"/><circle cx="469.4" cy="325.3"/><circle cx="468.6" cy="326.1"/><circle cx="469.1" cy="327.1"/><circle cx="468.5" cy="328.7"/><circle cx="469.3" cy="329.4"/><circle cx="468.5" cy="330.0"/><circle cx="468.6" cy="332.1"/><circle cx="469.3" cy="332.6"/><circle cx="468.9" cy="333.5"/><circle cx="468.7" cy="334.7"/><circle cx="468.7" cy="336.4"/><circle cx="469.1" cy="337.2"/><circle cx="469.1" cy="338.9"/><circle cx="469.3" cy="339.0"/><circle cx="469.4" cy="340.3"/><circle cx="468.6" cy="341.5"/><circle cx="469.1" cy="343.4"/><circle cx="468.7" cy="343.9"/><circle cx="469.1" cy="345.3"/><circle cx="468.9" cy="346.2"/><circle cx="469.0" cy="347.7"/><circle cx="469.0" cy="348.9"/><circle cx="469.3" cy="350.2"/><circle cx="468.8" cy="350.5"/><circle cx="469.1" cy="352.0"/><circle cx="468.6" cy="353.0"/><circle cx="469.0" cy="354.1"/><circle cx="468.7" cy="355.0"/><circle cx="469.3" cy="356.2"/><circle cx="468.8" cy="357.4"/><circle cx="468.6" cy="358.8"/><circle cx="468.5" cy="359.8"/></g>
<g fill="#1a1a1a"><circle cx="469.8" cy="333.8"/><circle cx="469.7" cy="334.6"/><circle cx="470.2" cy="335.4"/><circle cx="469.8" cy="336.2"/><circle cx="470.2" cy="338.2"/><circle cx="469.9" cy="340.2"/><circle cx="469.9" cy="342.2"/><circle cx="470.0" cy="344.2"/><circle cx="469.9" cy="346.2"/><circle cx="470.0" cy="348.2"/><circle cx="470.1" cy="350.2"/><circle cx="470.1" cy="352.2"/><circle cx="470.2" cy="354.2"/><circle cx="469.9" cy="356.2"/><circle cx="470.1" cy="358.2"/><circle cx="470.0" cy="360.2"/><circle cx="470.0" cy="362.2"/><circle cx="470.1" cy="364.2"/><circle cx="470.1" cy="366.2"/><circle cx="470.1" cy="368.2"/><circle cx="470.2" cy="336.2"/><circle cx="469.6" cy="339.7"/><circle cx="469.8" cy="342.1"/><circle cx="470.1" cy="345.2"/><circle cx="469.6" cy="347.6"/><circle cx="470.2" cy="350.4"/><circle cx="470.2" cy="353.5"/><circle cx="470.2" cy="356.1"/><circle cx="470.2" cy="359.5"/><circle cx="470.1" cy="362.5"/><circle cx="470.1" cy="365.6"/><circle cx="469.8" cy="368.2"/></g>
<g fill="#d03020"><circle cx="473.5" cy="261.3"/><circle cx="472.7" cy="264.2"/></g>
<g fill="#201010"><circle cx="472.9" cy="271.8"/><circle cx="472.9" cy="272.6"/><circle cx="473.2" cy="273.4"/><circle cx="472.9" cy="274.2"/><circle cx="472.7" cy="275.9"/><circle cx="473.2" cy="277.4"/><circle cx="473.0" cy="279.0"/><circle cx="472.7" cy="280.1"/><circle cx="473.5" cy="282.2"/><circle cx="473.0" cy="282.5"/><circle cx="472.9" cy="284.5"/><circle cx="473.1" cy="286.3"/><circle cx="473.0" cy="287.6"/><circle cx="472.8" cy="289.2"/><circle cx="472.6" cy="290.5"/><circle cx="472.8" cy="291.9"/><circle cx="473.3" cy="293.3"/><circle cx="472.7" cy="294.8"/><circle cx="473.5" cy="296.8"/><circle cx="473.5" cy="297.9"/><circle cx="473.0" cy="299.8"/><circle cx="473.0" cy="301.2"/><circle cx="472.8" cy="302.9"/><circle cx="472.7" cy="303.4"/><circle cx="473.0" cy="305.2"/><circle cx="472.5" cy="306.4"/><circle cx="473.0" cy="308.6"/><circle cx="472.7" cy="309.7"/><circle cx="473.1" cy="311.7"/><circle cx="473.0" cy="313.1"/><circle cx="473.2" cy="313.7"/><circle cx="473.3" cy="316.2"/><circle cx="473.3" cy="317.7"/><circle cx="473.2" cy="319.0"/><circle cx="473.1" cy="320.4"/><circle cx="473.0" cy="321.4"/><circle cx="472.6" cy="323.7"/><circle cx="473.1" cy="324.9"/><circle cx="473.2" cy="326.2"/></g>
<g fill="#ff00ff"><circle cx="474.1" cy="333.8"/><circle cx="474.0" cy="336.3"/><circle cx="474.1" cy="338.7"/><circle cx="474.1" cy="341.2"/><circle cx="473.8" cy="333.8"/><circle cx="474.0" cy="337.7"/><circle cx="474.4" cy="341.2"/></g>
<g fill="#154028"><circle cx="473.7" cy="316.3"/><circle cx="474.0" cy="317.1"/><circle cx="474.2" cy="317.9"/><circle cx="473.5" cy="318.7"/><circle cx="473.7" cy="320.4"/><circle cx="473.6" cy="320.9"/><circle cx="473.8" cy="321.7"/><circle cx="474.4" cy="322.7"/><circle cx="474.2" cy="324.1"/><circle cx="473.7" cy="325.1"/><circle cx="473.6" cy="326.5"/><circle cx="474.1" cy="327.2"/><circle cx="473.6" cy="328.7"/><circle cx="474.2" cy="329.3"/><circle cx="474.3" cy="331.3"/><circle cx="474.3" cy="331.8"/><circle cx="473.6" cy="333.2"/><circle cx="473.9" cy="333.7"/><circle cx="474.4" cy="335.4"/><circle cx="474.1" cy="336.8"/><circle cx="474.3" cy="337.7"/><circle cx="474.1" cy="338.0"/><circle cx="473.6" cy="339.7"/><circle cx="474.0" cy="340.4"/><circle cx="474.3" cy="341.6"/><circle cx="474.1" cy="343.3"/><circle cx="474.4" cy="344.0"/><circle cx="473.8" cy="345.1"/><circle cx="474.3" cy="346.4"/><circle cx="473.8" cy="347.6"/><circle cx="473.8" cy="348.2"/><circle cx="474.5" cy="349.0"/><circle cx="473.5" cy="350.9"/><circle cx="474.3" cy="351.3"/><circle cx="474.3" cy="352.7"/><circle cx="474.2" cy="354.0"/><circle cx="474.5" cy="354.8"/><circle cx="473.7" cy="356.1"/><circle cx="474.0" cy="357.3"/><circle cx="473.9" cy="358.3"/><circle cx="474.0" cy="359.4"/><circle cx="474.3" cy="360.2"/><circle cx="473.8" cy="361.6"/></g>
<g fill="#228b22"><circle cx="474.3" cy="347.8"/><circle cx="474.4" cy="348.6"/><circle cx="474.2" cy="349.4"/><circle cx="474.4" cy="350.2"/><circle cx="474.3" cy="352.3"/><circle cx="474.3" cy="354.4"/><circle cx="474.5" cy="356.6"/><circle cx="474.3" cy="358.7"/><circle cx="474.0" cy="350.2"/><circle cx="474.7" cy="353.6"/><circle cx="474.0" cy="356.0"/><circle cx="474.1" cy="358.7"/></g>
<g fill="#114911"><circle cx="479.3" cy="315.3"/><circle cx="479.2" cy="316.1"/><circle cx="479.2" cy="316.9"/><circle cx="479.0" cy="317.7"/><circle cx="478.9" cy="319.3"/><circle cx="478.7" cy="320.3"/><circle cx="479.1" cy="321.5"/><circle cx="478.6" cy="324.0"/><circle cx="478.6" cy="325.3"/><circle cx="479.3" cy="325.9"/><circle cx="478.8" cy="327.6"/><circle cx="478.9" cy="329.1"/><circle cx="478.8" cy="330.0"/><circle cx="478.6" cy="332.3"/><circle cx="479.1" cy="332.8"/><circle cx="478.6" cy="334.3"/><circle cx="478.8" cy="335.8"/><circle cx="478.8" cy="337.8"/><circle cx="479.0" cy="339.2"/><circle cx="478.9" cy="340.3"/><circle cx="479.4" cy="341.5"/><circle cx="479.2" cy="343.2"/><circle cx="479.5" cy="344.0"/><circle cx="478.9" cy="346.1"/><circle cx="478.7" cy="347.5"/><circle cx="479.2" cy="348.7"/><circle cx="478.7" cy="350.5"/><circle cx="479.4" cy="351.9"/><circle cx="479.4" cy="352.5"/><circle cx="478.6" cy="354.2"/><circle cx="479.2" cy="355.6"/><circle cx="478.9" cy="357.3"/><circle cx="479.0" cy="358.0"/><circle cx="479.1" cy="359.9"/><circle cx="479.1" cy="361.4"/><circle cx="479.3" cy="362.3"/><circle cx="478.7" cy="364.2"/></g>
<g fill="#ff00ff"><circle cx="479.7" cy="254.8"/><circle cx="479.6" cy="255.6"/><circle cx="479.8" cy="256.4"/><circle cx="479.6" cy="257.2"/><circle cx="479.7" cy="259.3"/><circle cx="479.6" cy="261.5"/><circle cx="479.5" cy="263.6"/><circle cx="479.5" cy="265.8"/><circle cx="479.6" cy="267.9"/><circle cx="479.6" cy="270.1"/><circle cx="479.5" cy="272.2"/><circle cx="479.5" cy="274.4"/><circle cx="479.6" cy="276.6"/><circle cx="479.7" cy="278.7"/><circle cx="479.9" cy="257.2"/><circle cx="479.8" cy="260.8"/><circle cx="479.1" cy="263.5"/><circle cx="480.0" cy="267.0"/><circle cx="479.1" cy="269.6"/><circle cx="479.4" cy="272.9"/><circle cx="479.9" cy="276.0"/><circle cx="479.6" cy="278.7"/></g>
<g fill="#f5f5f5"><circle cx="481.7" cy="286.3"/><circle cx="481.4" cy="287.1"/><circle cx="481.6" cy="287.9"/><circle cx="481.5" cy="288.7"/><circle cx="481.4" cy="291.2"/><circle cx="481.4" cy="293.7"/><circle cx="481.4" cy="296.2"/><circle cx="481.2" cy="288.7"/><circle cx="481.2" cy="293.0"/><circle cx="481.3" cy="296.2"/></g>
<g fill="#10104a"><circle cx="484.0" cy="325.2"/><circle cx="483.9" cy="326.0"/><circle cx="483.9" cy="326.8"/><circle cx="484.2" cy="327.6"/><circle cx="483.8" cy="329.6"/><circle cx="483.5" cy="331.3"/><circle cx="484.3" cy="332.4"/><circle cx="484.1" cy="334.5"/><circle cx="484.4" cy="336.6"/><circle cx="483.6" cy="339.1"/><circle cx="484.1" cy="340.7"/><circle cx="483.6" cy="342.2"/><circle cx="483.5" cy="344.3"/><circle cx="484.0" cy="345.6"/><circle cx="484.1" cy="347.2"/><circle cx="484.2" cy="349.3"/><circle cx="483.8" cy="350.9"/><circle cx="484.3" cy="353.0"/><circle cx="484.1" cy="355.1"/><circle cx="484.4" cy="356.8"/><circle cx="484.0" cy="358.9"/><circle cx="483.6" cy="360.7"/><circle cx="484.5" cy="362.5"/><circle cx="484.2" cy="363.6"/><circle cx="484.1" cy="366.2"/><circle cx="484.3" cy="367.7"/></g>
<g fill="#daa520"><circle cx="484.5" cy="369.8"/><circle cx="484.5" cy="370.6"/><circle cx="484.5" cy="371.4"/><circle cx="484.1" cy="372.2"/><circle cx="484.5" cy="374.3"/><circle cx="484.2" cy="376.4"/><circle cx="484.4" cy="378.5"/><circle cx="484.3" cy="380.6"/><circle cx="484.5" cy="382.7"/><circle cx="484.5" cy="384.8"/><circle cx="484.4" cy="386.9"/><circle cx="484.4" cy="389.0"/><circle cx="484.4" cy="391.1"/><circle cx="484.4" cy="393.2"/><circle cx="484.0" cy="372.2"/><circle cx="484.2" cy="375.2"/><circle cx="484.6" cy="378.5"/><circle cx="484.6" cy="380.8"/><circle cx="484.6" cy="384.1"/><circle cx="484.4" cy="386.7"/><circle cx="484.3" cy="390.2"/><circle cx="484.6" cy="393.2"/></g>
<g fill="#1d5837"><circle cx="540.8" cy="397.5"/><circle cx="540.9" cy="398.3"/><circle cx="541.3" cy="399.1"/><circle cx="540.6" cy="399.9"/><circle cx="541.4" cy="401.6"/><circle cx="540.7" cy="402.7"/><circle cx="541.1" cy="404.7"/><circle cx="541.4" cy="406.3"/><circle cx="541.1" cy="408.2"/><circle cx="541.5" cy="409.3"/><circle cx="541.0" cy="410.6"/><circle cx="540.7" cy="411.9"/><circle cx="541.5" cy="414.2"/><circle cx="541.1" cy="415.9"/><circle cx="541.1" cy="417.5"/><circle cx="540.9" cy="418.1"/><circle cx="540.5" cy="420.3"/><circle cx="540.6" cy="422.0"/><circle cx="541.0" cy="423.3"/></g>
<g fill="#0a2a3a"><circle cx="541.7" cy="380.8"/><circle cx="541.5" cy="381.6"/><circle cx="541.2" cy="382.4"/><circle cx="541.6" cy="383.2"/><circle cx="541.4" cy="385.2"/><circle cx="541.4" cy="387.2"/><circle cx="541.4" cy="389.2"/><circle cx="541.4" cy="391.2"/><circle cx="541.6" cy="393.2"/><circle cx="541.6" cy="395.2"/><circle cx="541.5" cy="397.2"/><circle cx="541.6" cy="399.2"/><circle cx="541.6" cy="401.2"/><circle cx="541.3" cy="403.2"/><circle cx="541.7" cy="405.2"/><circle cx="541.3" cy="407.2"/><circle cx="541.5" cy="409.2"/><circle cx="541.5" cy="411.2"/><circle cx="541.5" cy="413.2"/><circle cx="541.3" cy="415.2"/><circle cx="541.4" cy="417.2"/><circle cx="541.4" cy="419.2"/><circle cx="541.7" cy="421.2"/><circle cx="541.7" cy="423.2"/><circle cx="541.5" cy="425.2"/><circle cx="541.5" cy="427.2"/><circle cx="541.3" cy="429.2"/><circle cx="541.4" cy="431.2"/><circle cx="541.5" cy="433.2"/><circle cx="541.2" cy="383.2"/><circle cx="541.2" cy="386.2"/><circle cx="541.4" cy="388.7"/><circle cx="541.0" cy="391.6"/><circle cx="542.0" cy="394.5"/><circle cx="541.6" cy="397.8"/><circle cx="541.8" cy="400.9"/><circle cx="541.9" cy="403.4"/><circle cx="542.0" cy="406.4"/><circle cx="541.2" cy="409.7"/><circle cx="541.7" cy="412.3"/><circle cx="541.6" cy="415.2"/><circle cx="541.4" cy="418.4"/><circle cx="541.6" cy="422.0"/><circle cx="541.1" cy="424.9"/><circle cx="541.6" cy="427.6"/><circle cx="541.7" cy="430.7"/><circle cx="541.4" cy="433.2"/></g>
<g fill="#00bfff"><circle cx="541.9" cy="379.8"/><circle cx="541.8" cy="380.6"/><circle cx="541.9" cy="381.4"/><circle cx="542.1" cy="382.2"/><circle cx="542.0" cy="384.2"/><circle cx="542.0" cy="386.2"/><circle cx="542.2" cy="388.2"/><circle cx="542.1" cy="390.2"/><circle cx="542.0" cy="392.2"/><circle cx="541.8" cy="394.2"/><circle cx="542.2" cy="396.2"/><circle cx="541.8" cy="382.2"/><circle cx="542.0" cy="385.6"/><circle cx="542.2" cy="388.1"/><circle cx="541.6" cy="390.1"/><circle cx="542.0" cy="393.9"/><circle cx="542.5" cy="396.2"/></g>
<g fill="#800040"><circle cx="544.6" cy="403.8"/><circle cx="544.5" cy="404.6"/><circle cx="544.6" cy="405.4"/><circle cx="544.3" cy="406.2"/><circle cx="544.7" cy="408.3"/><circle cx="544.6" cy="410.4"/><circle cx="544.5" cy="412.5"/><circle cx="544.6" cy="414.7"/><circle cx="544.3" cy="416.8"/><circle cx="544.4" cy="418.9"/><circle cx="544.6" cy="421.0"/><circle cx="544.5" cy="423.1"/><circle cx="544.3" cy="425.2"/><circle cx="544.7" cy="427.4"/><circle cx="544.4" cy="429.5"/><circle cx="544.4" cy="431.6"/><circle cx="544.6" cy="433.7"/><circle cx="544.2" cy="406.2"/><circle cx="544.2" cy="409.1"/><circle cx="544.9" cy="412.2"/><circle cx="544.7" cy="415.7"/><circle cx="544.3" cy="418.7"/><circle cx="544.2" cy="421.1"/><circle cx="544.4" cy="425.1"/><circle cx="544.0" cy="427.0"/><circle cx="544.5" cy="431.1"/><circle cx="544.4" cy="433.7"/></g>
<g fill="#00bfff"><circle cx="545.8" cy="408.8"/><circle cx="545.4" cy="409.6"/><circle cx="545.5" cy="410.4"/><circle cx="545.6" cy="411.2"/><circle cx="545.4" cy="413.4"/><circle cx="545.5" cy="415.7"/><circle cx="545.5" cy="417.9"/><circle cx="545.4" cy="420.2"/><circle cx="545.8" cy="411.2"/><circle cx="546.0" cy="414.4"/><circle cx="545.5" cy="416.9"/><circle cx="545.0" cy="420.2"/></g>
<g fill="#6a361d"><circle cx="545.9" cy="375.4"/><circle cx="545.8" cy="376.2"/><circle cx="546.2" cy="377.0"/><circle cx="546.2" cy="377.8"/><circle cx="546.0" cy="379.6"/><circle cx="546.1" cy="380.5"/><circle cx="546.0" cy="382.0"/><circle cx="546.2" cy="383.4"/><circle cx="546.2" cy="384.4"/><circle cx="545.5" cy="385.0"/><circle cx="546.5" cy="386.6"/><circle cx="546.2" cy="388.6"/><circle cx="545.6" cy="389.6"/><circle cx="546.5" cy="391.0"/><circle cx="546.2" cy="391.5"/><circle cx="545.6" cy="393.6"/><circle cx="545.7" cy="394.4"/><circle cx="545.8" cy="396.0"/><circle cx="546.1" cy="397.7"/><circle cx="545.5" cy="398.7"/><circle cx="545.8" cy="400.0"/><circle cx="545.7" cy="400.7"/><circle cx="546.0" cy="403.0"/><circle cx="546.1" cy="403.7"/><circle cx="545.8" cy="405.4"/><circle cx="545.5" cy="406.9"/><circle cx="545.5" cy="407.4"/><circle cx="546.5" cy="409.2"/><circle cx="545.5" cy="410.3"/><circle cx="546.4" cy="411.1"/><circle cx="546.1" cy="412.7"/><circle cx="545.8" cy="413.8"/><circle cx="546.0" cy="415.4"/><circle cx="546.5" cy="416.4"/><circle cx="545.5" cy="418.4"/><circle cx="546.0" cy="419.3"/></g>
<g fill="#1a1a2a"><circle cx="547.1" cy="348.8"/><circle cx="547.0" cy="349.6"/><circle cx="546.8" cy="350.4"/><circle cx="546.9" cy="351.2"/><circle cx="546.9" cy="353.2"/><circle cx="547.1" cy="355.3"/><circle cx="547.0" cy="357.3"/><circle cx="547.1" cy="359.4"/><circle cx="546.8" cy="361.4"/><circle cx="547.1" cy="363.5"/><circle cx="546.9" cy="365.5"/><circle cx="547.0" cy="367.6"/><circle cx="547.2" cy="369.6"/><circle cx="547.2" cy="371.7"/><circle cx="547.1" cy="373.7"/><circle cx="546.9" cy="375.7"/><circle cx="547.0" cy="377.8"/><circle cx="546.9" cy="379.8"/><circle cx="547.0" cy="381.9"/><circle cx="547.1" cy="383.9"/><circle cx="546.9" cy="386.0"/><circle cx="546.8" cy="388.0"/><circle cx="546.8" cy="390.1"/><circle cx="546.9" cy="392.1"/><circle cx="546.9" cy="394.2"/><circle cx="547.1" cy="396.2"/><circle cx="547.3" cy="351.2"/><circle cx="547.4" cy="354.3"/><circle cx="547.1" cy="357.8"/><circle cx="546.7" cy="360.7"/><circle cx="546.5" cy="363.4"/><circle cx="546.5" cy="366.1"/><circle cx="546.7" cy="369.6"/><circle cx="547.5" cy="372.8"/><circle cx="547.4" cy="375.4"/><circle cx="546.9" cy="378.7"/><circle cx="547.4" cy="381.1"/><circle cx="546.6" cy="384.5"/><circle cx="547.3" cy="386.9"/><circle cx="547.2" cy="389.8"/><circle cx="547.2" cy="393.5"/><circle cx="546.6" cy="396.2"/></g>
<g fill="#696969"><circle cx="547.9" cy="397.8"/><circle cx="547.9" cy="400.3"/><circle cx="547.8" cy="402.7"/><circle cx="547.9" cy="405.2"/><circle cx="547.8" cy="397.8"/><circle cx="548.2" cy="401.5"/><circle cx="548.4" cy="405.2"/></g>
<g fill="#2a0a1a"><circle cx="550.1" cy="335.8"/><circle cx="549.8" cy="336.6"/><circle cx="549.9" cy="337.4"/><circle cx="549.9" cy="338.2"/><circle cx="550.1" cy="340.2"/><circle cx="550.0" cy="342.2"/><circle cx="550.1" cy="344.2"/><circle cx="549.9" cy="346.2"/><circle cx="549.8" cy="348.2"/><circle cx="550.1" cy="350.2"/><circle cx="550.0" cy="352.2"/><circle cx="550.0" cy="354.2"/><circle cx="549.9" cy="356.2"/><circle cx="550.0" cy="358.2"/><circle cx="550.0" cy="360.2"/><circle cx="550.0" cy="362.2"/><circle cx="550.0" cy="364.2"/><circle cx="549.9" cy="366.2"/><circle cx="550.2" cy="368.2"/><circle cx="550.2" cy="370.2"/><circle cx="549.9" cy="372.2"/><circle cx="550.1" cy="374.2"/><circle cx="550.0" cy="376.2"/><circle cx="550.2" cy="338.2"/><circle cx="549.9" cy="341.1"/><circle cx="549.9" cy="344.3"/><circle cx="550.4" cy="346.9"/><circle cx="550.4" cy="349.6"/><circle cx="550.2" cy="352.5"/><circle cx="549.9" cy="356.1"/><circle cx="549.6" cy="358.9"/><circle cx="550.3" cy="361.1"/><circle cx="550.1" cy="363.9"/><circle cx="549.8" cy="367.9"/><circle cx="550.5" cy="369.8"/><circle cx="549.7" cy="373.7"/><circle cx="550.0" cy="376.2"/></g>
<g fill="#330000"><circle cx="550.9" cy="371.0"/><circle cx="550.9" cy="371.8"/><circle cx="551.0" cy="372.6"/><circle cx="551.0" cy="373.4"/><circle cx="551.2" cy="375.1"/><circle cx="551.0" cy="376.4"/><circle cx="550.9" cy="379.1"/><circle cx="551.1" cy="380.4"/><circle cx="551.0" cy="381.7"/><circle cx="550.5" cy="384.1"/><circle cx="550.9" cy="386.0"/><circle cx="551.5" cy="387.9"/><circle cx="551.2" cy="389.2"/><circle cx="550.6" cy="390.5"/><circle cx="550.8" cy="392.3"/><circle cx="550.6" cy="394.8"/><circle cx="550.8" cy="395.6"/><circle cx="551.4" cy="397.6"/><circle cx="550.8" cy="399.9"/><circle cx="551.4" cy="401.7"/><circle cx="550.7" cy="402.9"/><circle cx="551.0" cy="405.3"/><circle cx="550.9" cy="406.3"/><circle cx="551.2" cy="408.4"/><circle cx="551.4" cy="410.0"/><circle cx="551.2" cy="411.7"/></g>
<g fill="#228b22"><circle cx="555.2" cy="330.8"/><circle cx="555.4" cy="331.6"/><circle cx="555.3" cy="332.4"/><circle cx="555.6" cy="333.2"/><circle cx="555.3" cy="335.2"/><circle cx="555.4" cy="337.2"/><circle cx="555.3" cy="339.2"/><circle cx="555.7" cy="341.2"/><circle cx="555.4" cy="343.2"/><circle cx="555.7" cy="345.2"/><circle cx="555.5" cy="347.2"/><circle cx="555.7" cy="349.2"/><circle cx="555.5" cy="351.2"/><circle cx="555.6" cy="353.2"/><circle cx="555.4" cy="355.2"/><circle cx="555.3" cy="357.2"/><circle cx="555.3" cy="359.2"/><circle cx="555.6" cy="361.2"/><circle cx="555.3" cy="333.2"/><circle cx="555.7" cy="336.8"/><circle cx="555.0" cy="339.7"/><circle cx="555.4" cy="342.7"/><circle cx="555.6" cy="345.2"/><circle cx="555.7" cy="348.8"/><circle cx="555.4" cy="352.0"/><circle cx="555.8" cy="354.4"/><circle cx="555.3" cy="358.3"/><circle cx="555.6" cy="361.2"/></g>
<g fill="#0a3a0a"><circle cx="556.3" cy="368.8"/><circle cx="556.1" cy="369.6"/><circle cx="555.9" cy="370.4"/><circle cx="556.1" cy="371.2"/><circle cx="556.1" cy="373.2"/><circle cx="555.9" cy="375.2"/><circle cx="555.9" cy="377.2"/><circle cx="555.9" cy="379.2"/><circle cx="556.0" cy="381.2"/><circle cx="556.0" cy="383.2"/><circle cx="556.0" cy="385.2"/><circle cx="556.0" cy="387.2"/><circle cx="556.0" cy="389.2"/><circle cx="556.0" cy="391.2"/><circle cx="555.9" cy="393.2"/><circle cx="555.9" cy="395.2"/><circle cx="556.0" cy="397.2"/><circle cx="556.1" cy="399.2"/><circle cx="556.1" cy="401.2"/><circle cx="556.2" cy="371.2"/><circle cx="556.1" cy="373.7"/><circle cx="556.2" cy="376.7"/><circle cx="555.7" cy="379.8"/><circle cx="556.3" cy="383.3"/><circle cx="556.4" cy="385.9"/><circle cx="556.0" cy="388.7"/><circle cx="555.7" cy="392.0"/><circle cx="555.6" cy="395.1"/><circle cx="555.8" cy="398.6"/><circle cx="556.1" cy="401.2"/></g>
<g fill="#23003d"><circle cx="555.8" cy="377.0"/><circle cx="556.1" cy="377.8"/><circle cx="555.9" cy="378.6"/><circle cx="556.0" cy="379.4"/><circle cx="556.5" cy="380.1"/><circle cx="555.7" cy="382.1"/><circle cx="556.4" cy="382.9"/><circle cx="555.8" cy="383.4"/><circle cx="556.1" cy="384.6"/><circle cx="555.8" cy="385.2"/><circle cx="556.1" cy="386.6"/><circle cx="555.9" cy="387.8"/><circle cx="556.5" cy="389.2"/><circle cx="556.5" cy="389.4"/><circle cx="556.2" cy="391.2"/><circle cx="555.7" cy="392.2"/><circle cx="555.7" cy="392.6"/><circle cx="556.5" cy="394.3"/><circle cx="556.2" cy="394.4"/><circle cx="556.1" cy="396.4"/><circle cx="555.7" cy="397.4"/><circle cx="556.5" cy="397.5"/><circle cx="555.6" cy="399.1"/><circle cx="556.1" cy="399.6"/><circle cx="556.3" cy="400.8"/><circle cx="555.9" cy="401.6"/><circle cx="556.2" cy="402.9"/><circle cx="556.2" cy="403.9"/><circle cx="555.6" cy="405.1"/><circle cx="556.2" cy="405.8"/><circle cx="556.0" cy="406.8"/><circle cx="556.3" cy="408.0"/><circle cx="555.9" cy="409.3"/><circle cx="555.7" cy="410.7"/><circle cx="555.6" cy="411.2"/><circle cx="555.9" cy="412.7"/><circle cx="556.1" cy="413.4"/><circle cx="555.9" cy="414.2"/><circle cx="555.9" cy="415.4"/><circle cx="555.6" cy="416.9"/><circle cx="556.3" cy="418.2"/><circle cx="555.6" cy="418.7"/></g>
<g fill="#ff00ff"><circle cx="558.2" cy="369.4"/><circle cx="557.8" cy="370.2"/><circle cx="557.8" cy="371.0"/><circle cx="558.0" cy="371.8"/><circle cx="557.9" cy="374.2"/><circle cx="557.9" cy="376.6"/><circle cx="558.1" cy="378.9"/><circle cx="558.1" cy="381.3"/><circle cx="558.0" cy="383.7"/><circle cx="557.5" cy="371.8"/><circle cx="558.0" cy="374.5"/><circle cx="557.5" cy="378.1"/><circle cx="558.1" cy="380.5"/><circle cx="557.7" cy="383.7"/></g>
<g fill="#dcdcdc"><circle cx="559.4" cy="423.8"/><circle cx="559.6" cy="424.6"/><circle cx="559.4" cy="425.4"/><circle cx="559.6" cy="426.2"/><circle cx="559.6" cy="428.4"/><circle cx="559.3" cy="430.6"/><circle cx="559.5" cy="432.8"/><circle cx="559.6" cy="435.0"/><circle cx="559.5" cy="437.2"/><circle cx="559.5" cy="426.2"/><circle cx="559.4" cy="431.6"/><circle cx="559.5" cy="437.2"/></g>
<g fill="#ffd700"><circle cx="560.9" cy="373.8"/><circle cx="560.8" cy="374.6"/><circle cx="560.8" cy="375.4"/><circle cx="560.9" cy="376.2"/><circle cx="561.2" cy="378.2"/><circle cx="561.0" cy="380.2"/><circle cx="561.2" cy="382.2"/><circle cx="561.2" cy="384.2"/><circle cx="560.9" cy="386.2"/><circle cx="561.0" cy="388.2"/><circle cx="561.1" cy="390.2"/><circle cx="561.0" cy="392.2"/><circle cx="561.2" cy="394.2"/><circle cx="560.9" cy="396.2"/><circle cx="560.9" cy="398.2"/><circle cx="561.0" cy="400.2"/><circle cx="560.9" cy="402.2"/><circle cx="561.1" cy="404.2"/><circle cx="561.2" cy="406.2"/><circle cx="561.2" cy="408.2"/><circle cx="561.0" cy="410.2"/><circle cx="560.9" cy="412.2"/><circle cx="561.2" cy="414.2"/><circle cx="560.9" cy="416.2"/><circle cx="560.7" cy="376.2"/><circle cx="561.1" cy="379.1"/><circle cx="561.1" cy="382.7"/><circle cx="561.1" cy="386.0"/><circle cx="561.0" cy="388.3"/><circle cx="561.2" cy="391.2"/><circle cx="560.8" cy="394.7"/><circle cx="561.2" cy="398.0"/><circle cx="561.4" cy="401.2"/><circle cx="560.5" cy="403.4"/><circle cx="560.7" cy="406.7"/><circle cx="561.1" cy="410.2"/><circle cx="560.7" cy="412.6"/><circle cx="560.9" cy="416.2"/></g>
<g fill="#630063"><circle cx="561.1" cy="391.7"/><circle cx="560.8" cy="392.5"/><circle cx="561.0" cy="393.3"/><circle cx="561.3" cy="394.1"/><circle cx="561.0" cy="395.3"/><circle cx="560.6" cy="398.0"/><circle cx="561.4" cy="399.6"/><circle cx="561.1" cy="400.4"/><circle cx="561.4" cy="403.0"/><circle cx="560.6" cy="403.8"/><circle cx="561.5" cy="405.9"/><circle cx="561.4" cy="407.6"/><circle cx="561.4" cy="409.7"/><circle cx="561.5" cy="410.9"/></g>
<g fill="#5a4a00"><circle cx="563.2" cy="373.2"/><circle cx="563.4" cy="374.0"/><circle cx="563.3" cy="374.8"/><circle cx="563.5" cy="375.6"/><circle cx="563.4" cy="377.6"/><circle cx="563.5" cy="379.7"/><circle cx="563.7" cy="381.7"/><circle cx="563.6" cy="383.8"/><circle cx="563.4" cy="385.8"/><circle cx="563.6" cy="387.8"/><circle cx="563.7" cy="389.9"/><circle cx="563.6" cy="391.9"/><circle cx="563.3" cy="394.0"/><circle cx="563.3" cy="396.0"/><circle cx="563.4" cy="398.0"/><circle cx="563.7" cy="400.1"/><circle cx="563.5" cy="402.1"/><circle cx="563.4" cy="404.2"/><circle cx="563.7" cy="406.2"/><circle cx="563.7" cy="375.6"/><circle cx="563.0" cy="378.4"/><circle cx="563.7" cy="381.6"/><circle cx="563.7" cy="385.2"/><circle cx="563.7" cy="388.0"/><circle cx="563.8" cy="390.8"/><circle cx="563.4" cy="394.4"/><circle cx="563.7" cy="397.3"/><circle cx="563.2" cy="399.5"/><circle cx="563.5" cy="403.6"/><circle cx="563.4" cy="406.2"/></g>
<g fill="#2b2b2b"><circle cx="566.1" cy="385.3"/><circle cx="566.1" cy="386.1"/><circle cx="566.2" cy="386.9"/><circle cx="566.4" cy="387.7"/><circle cx="565.9" cy="389.4"/><circle cx="565.5" cy="390.6"/><circle cx="565.8" cy="392.4"/><circle cx="565.9" cy="394.3"/><circle cx="566.4" cy="395.7"/><circle cx="566.3" cy="398.2"/><circle cx="566.4" cy="399.7"/><circle cx="566.1" cy="401.3"/><circle cx="566.0" cy="402.5"/><circle cx="565.7" cy="405.0"/><circle cx="565.7" cy="406.6"/><circle cx="566.4" cy="408.0"/><circle cx="566.2" cy="410.1"/><circle cx="566.3" cy="410.9"/><circle cx="566.0" cy="413.6"/><circle cx="566.5" cy="414.8"/><circle cx="566.0" cy="416.6"/></g>
<g fill="#adff2f"><circle cx="567.9" cy="388.8"/><circle cx="567.9" cy="389.6"/><circle cx="567.9" cy="390.4"/><circle cx="568.2" cy="391.2"/><circle cx="568.1" cy="393.3"/><circle cx="567.8" cy="395.4"/><circle cx="567.9" cy="397.5"/><circle cx="567.9" cy="399.7"/><circle cx="568.1" cy="401.8"/><circle cx="568.2" cy="403.9"/><circle cx="567.9" cy="406.0"/><circle cx="568.1" cy="408.1"/><circle cx="567.9" cy="410.2"/><circle cx="568.0" cy="412.4"/><circle cx="568.0" cy="414.5"/><circle cx="568.0" cy="416.6"/><circle cx="568.1" cy="418.7"/><circle cx="567.7" cy="391.2"/><circle cx="568.4" cy="394.5"/><circle cx="567.7" cy="397.3"/><circle cx="567.5" cy="400.9"/><circle cx="567.8" cy="403.9"/><circle cx="568.2" cy="406.1"/><circle cx="568.1" cy="409.1"/><circle cx="567.7" cy="413.0"/><circle cx="567.9" cy="416.0"/><circle cx="568.0" cy="418.7"/></g>
<g fill="#800060"><circle cx="570.0" cy="383.8"/><circle cx="570.2" cy="384.6"/><circle cx="570.0" cy="385.4"/><circle cx="570.0" cy="386.2"/><circle cx="570.0" cy="388.2"/><circle cx="569.8" cy="390.2"/><circle cx="570.2" cy="392.2"/><circle cx="570.0" cy="394.2"/><circle cx="570.0" cy="396.2"/><circle cx="570.0" cy="398.2"/><circle cx="569.9" cy="400.2"/><circle cx="570.1" cy="402.2"/><circle cx="570.2" cy="404.2"/><circle cx="570.2" cy="406.2"/><circle cx="569.9" cy="408.2"/><circle cx="570.0" cy="410.2"/><circle cx="570.0" cy="412.2"/><circle cx="570.1" cy="386.2"/><circle cx="569.9" cy="389.6"/><circle cx="570.2" cy="391.6"/><circle cx="569.6" cy="394.7"/><circle cx="570.5" cy="398.1"/><circle cx="570.3" cy="400.9"/><circle cx="570.5" cy="403.9"/><circle cx="570.0" cy="406.4"/><circle cx="569.9" cy="409.1"/><circle cx="570.5" cy="412.2"/></g>
<g fill="#23003d"><circle cx="571.2" cy="378.3"/><circle cx="571.3" cy="379.1"/><circle cx="571.0" cy="379.9"/><circle cx="571.0" cy="380.7"/><circle cx="570.7" cy="381.8"/><circle cx="570.9" cy="383.7"/><circle cx="570.8" cy="385.8"/><circle cx="571.1" cy="387.7"/><circle cx="570.7" cy="388.5"/><circle cx="571.0" cy="390.9"/><circle cx="571.5" cy="391.9"/><circle cx="571.3" cy="394.1"/><circle cx="571.4" cy="394.9"/><circle cx="571.2" cy="396.8"/><circle cx="570.6" cy="399.0"/><circle cx="571.1" cy="399.8"/><circle cx="571.1" cy="401.3"/><circle cx="570.7" cy="403.1"/><circle cx="571.1" cy="405.3"/><circle cx="570.5" cy="407.2"/><circle cx="571.0" cy="408.3"/><circle cx="571.1" cy="409.6"/><circle cx="571.0" cy="411.9"/><circle cx="570.7" cy="413.1"/></g>
<g fill="#cd5c5c"><circle cx="572.3" cy="386.3"/><circle cx="572.0" cy="387.1"/><circle cx="571.7" cy="387.9"/><circle cx="571.9" cy="388.7"/><circle cx="571.8" cy="390.8"/><circle cx="572.0" cy="392.9"/><circle cx="572.1" cy="394.9"/><circle cx="571.8" cy="397.0"/><circle cx="571.8" cy="399.1"/><circle cx="572.0" cy="401.2"/><circle cx="571.5" cy="388.7"/><circle cx="572.2" cy="392.2"/><circle cx="571.8" cy="394.7"/><circle cx="571.6" cy="397.6"/><circle cx="572.3" cy="401.2"/></g>
<g fill="#202010"><circle cx="572.6" cy="322.8"/><circle cx="572.5" cy="323.6"/><circle cx="572.5" cy="324.4"/><circle cx="572.3" cy="325.2"/><circle cx="572.7" cy="327.2"/><circle cx="572.5" cy="329.3"/><circle cx="572.5" cy="331.3"/><circle cx="572.5" cy="333.4"/><circle cx="572.3" cy="335.4"/><circle cx="572.6" cy="337.5"/><circle cx="572.5" cy="339.6"/><circle cx="572.6" cy="341.6"/><circle cx="572.6" cy="343.6"/><circle cx="572.3" cy="345.7"/><circle cx="572.5" cy="347.8"/><circle cx="572.5" cy="349.8"/><circle cx="572.5" cy="351.8"/><circle cx="572.6" cy="353.9"/><circle cx="572.3" cy="355.9"/><circle cx="572.5" cy="358.0"/><circle cx="572.5" cy="360.1"/><circle cx="572.7" cy="362.1"/><circle cx="572.3" cy="364.1"/><circle cx="572.4" cy="366.2"/><circle cx="572.3" cy="325.2"/><circle cx="572.2" cy="327.8"/><circle cx="572.1" cy="330.9"/><circle cx="572.5" cy="334.0"/><circle cx="572.6" cy="336.4"/><circle cx="573.0" cy="340.2"/><circle cx="572.3" cy="342.5"/><circle cx="572.1" cy="345.4"/><circle cx="572.4" cy="349.0"/><circle cx="572.9" cy="351.0"/><circle cx="572.9" cy="354.8"/><circle cx="572.4" cy="357.2"/><circle cx="572.8" cy="359.9"/><circle cx="572.9" cy="363.0"/><circle cx="573.0" cy="366.2"/></g>
<g fill="#56626f"><circle cx="575.8" cy="365.4"/><circle cx="575.8" cy="366.2"/><circle cx="576.0" cy="367.0"/><circle cx="575.7" cy="367.8"/><circle cx="576.3" cy="368.8"/><circle cx="576.2" cy="370.6"/><circle cx="576.0" cy="372.1"/><circle cx="575.6" cy="374.2"/><circle cx="575.5" cy="375.4"/><circle cx="575.7" cy="377.2"/><circle cx="576.4" cy="378.6"/><circle cx="575.7" cy="380.1"/><circle cx="576.5" cy="381.1"/><circle cx="576.3" cy="382.9"/><circle cx="575.6" cy="383.8"/><circle cx="576.5" cy="385.7"/><circle cx="576.4" cy="386.9"/><circle cx="575.7" cy="389.0"/><circle cx="575.7" cy="390.6"/><circle cx="576.3" cy="391.6"/><circle cx="576.1" cy="392.6"/><circle cx="575.8" cy="394.9"/><circle cx="576.0" cy="396.6"/><circle cx="576.2" cy="397.2"/><circle cx="576.1" cy="399.5"/><circle cx="576.1" cy="400.9"/><circle cx="575.6" cy="401.7"/><circle cx="575.5" cy="403.2"/><circle cx="575.5" cy="405.3"/><circle cx="575.9" cy="406.4"/><circle cx="575.5" cy="407.5"/><circle cx="576.0" cy="410.0"/><circle cx="576.1" cy="411.3"/><circle cx="576.5" cy="412.1"/><circle cx="575.6" cy="413.6"/><circle cx="576.5" cy="415.5"/><circle cx="576.0" cy="417.4"/><circle cx="575.8" cy="417.9"/><circle cx="575.8" cy="419.7"/><circle cx="576.4" cy="421.5"/><circle cx="576.4" cy="422.9"/></g>
<g fill="#505050"><circle cx="579.4" cy="283.2"/><circle cx="579.5" cy="284.0"/><circle cx="579.8" cy="284.8"/><circle cx="579.4" cy="285.6"/><circle cx="579.5" cy="288.1"/><circle cx="579.6" cy="290.7"/><circle cx="579.3" cy="293.2"/><circle cx="579.4" cy="285.6"/><circle cx="579.0" cy="288.4"/><circle cx="580.0" cy="290.2"/><circle cx="579.7" cy="293.2"/></g>
<g fill="#e6e6fa"><circle cx="580.6" cy="299.4"/><circle cx="580.4" cy="300.2"/><circle cx="580.6" cy="301.0"/><circle cx="580.5" cy="301.8"/><circle cx="580.7" cy="303.8"/><circle cx="580.3" cy="305.8"/><circle cx="580.4" cy="307.8"/><circle cx="580.4" cy="309.9"/><circle cx="580.6" cy="311.9"/><circle cx="580.3" cy="313.9"/><circle cx="580.4" cy="315.9"/><circle cx="580.5" cy="317.9"/><circle cx="580.4" cy="319.9"/><circle cx="580.3" cy="322.0"/><circle cx="580.4" cy="324.0"/><circle cx="580.5" cy="326.0"/><circle cx="580.5" cy="328.0"/><circle cx="580.6" cy="330.0"/><circle cx="580.4" cy="332.0"/><circle cx="580.4" cy="334.1"/><circle cx="580.6" cy="336.1"/><circle cx="580.4" cy="338.1"/><circle cx="580.5" cy="340.1"/><circle cx="580.4" cy="342.1"/><circle cx="580.5" cy="344.1"/><circle cx="580.5" cy="346.2"/><circle cx="580.7" cy="348.2"/><circle cx="580.6" cy="350.2"/><circle cx="580.5" cy="352.2"/><circle cx="580.7" cy="301.8"/><circle cx="580.3" cy="305.0"/><circle cx="580.9" cy="307.2"/><circle cx="580.2" cy="311.3"/><circle cx="580.2" cy="313.9"/><circle cx="580.9" cy="316.5"/><circle cx="580.1" cy="319.3"/><circle cx="580.4" cy="323.1"/><circle cx="580.5" cy="325.5"/><circle cx="580.7" cy="328.2"/><circle cx="580.1" cy="331.2"/><circle cx="580.9" cy="334.6"/><circle cx="580.1" cy="337.6"/><circle cx="580.2" cy="340.6"/><circle cx="580.7" cy="343.6"/><circle cx="580.7" cy="345.9"/><circle cx="580.3" cy="348.9"/><circle cx="580.2" cy="352.2"/></g>
<g fill="#28350d"><circle cx="581.3" cy="368.5"/><circle cx="580.8" cy="369.3"/><circle cx="580.9" cy="370.1"/><circle cx="580.7" cy="370.9"/><circle cx="580.7" cy="372.2"/><circle cx="580.6" cy="374.2"/><circle cx="580.7" cy="376.6"/><circle cx="581.5" cy="377.6"/><circle cx="580.6" cy="379.0"/><circle cx="580.9" cy="381.5"/><circle cx="580.5" cy="382.9"/><circle cx="580.9" cy="384.3"/><circle cx="580.6" cy="386.1"/><circle cx="580.5" cy="388.1"/><circle cx="580.8" cy="389.6"/><circle cx="580.9" cy="391.9"/><circle cx="581.1" cy="393.5"/><circle cx="581.1" cy="395.3"/><circle cx="580.6" cy="397.1"/><circle cx="581.4" cy="398.3"/><circle cx="581.0" cy="399.6"/><circle cx="581.3" cy="401.3"/><circle cx="581.1" cy="403.7"/><circle cx="580.6" cy="405.2"/><circle cx="580.6" cy="406.5"/><circle cx="580.9" cy="408.6"/><circle cx="581.3" cy="410.1"/><circle cx="581.3" cy="411.4"/><circle cx="581.1" cy="413.6"/><circle cx="581.1" cy="415.7"/><circle cx="581.3" cy="417.4"/><circle cx="581.4" cy="418.7"/></g>
<g fill="#9acd32"><circle cx="581.7" cy="443.8"/><circle cx="581.9" cy="444.6"/><circle cx="581.4" cy="445.4"/><circle cx="581.8" cy="446.2"/><circle cx="581.5" cy="448.2"/><circle cx="581.7" cy="450.2"/><circle cx="581.7" cy="452.2"/><circle cx="581.8" cy="454.2"/><circle cx="581.2" cy="446.2"/><circle cx="582.0" cy="448.7"/><circle cx="581.9" cy="451.7"/><circle cx="581.9" cy="454.2"/></g>
<g fill="#2a4a00"><circle cx="581.6" cy="461.8"/><circle cx="581.8" cy="464.2"/></g>
<g fill="#2f4f4f"><circle cx="582.9" cy="359.8"/><circle cx="583.2" cy="360.6"/><circle cx="583.3" cy="361.4"/><circle cx="583.0" cy="362.2"/><circle cx="582.9" cy="364.2"/><circle cx="583.1" cy="366.2"/><circle cx="583.0" cy="368.2"/><circle cx="583.2" cy="370.2"/><circle cx="582.9" cy="372.2"/><circle cx="583.0" cy="374.2"/><circle cx="583.2" cy="376.2"/><circle cx="582.9" cy="378.2"/><circle cx="583.0" cy="380.2"/><circle cx="583.1" cy="382.2"/><circle cx="583.2" cy="384.2"/><circle cx="583.0" cy="386.2"/><circle cx="583.1" cy="388.2"/><circle cx="583.0" cy="390.2"/><circle cx="582.9" cy="392.2"/><circle cx="582.9" cy="394.2"/><circle cx="582.8" cy="396.2"/><circle cx="583.1" cy="398.2"/><circle cx="583.0" cy="400.2"/><circle cx="583.0" cy="402.2"/><circle cx="582.9" cy="404.2"/><circle cx="582.9" cy="406.2"/><circle cx="583.1" cy="408.2"/><circle cx="583.1" cy="410.2"/><circle cx="582.9" cy="412.2"/><circle cx="582.9" cy="414.2"/><circle cx="583.1" cy="416.2"/><circle cx="583.1" cy="418.2"/><circle cx="583.0" cy="420.2"/><circle cx="583.1" cy="422.2"/><circle cx="583.0" cy="424.2"/><circle cx="583.1" cy="426.2"/><circle cx="582.9" cy="428.2"/><circle cx="582.9" cy="430.2"/><circle cx="583.1" cy="432.2"/><circle cx="583.0" cy="434.2"/><circle cx="582.9" cy="436.2"/><circle cx="582.9" cy="438.2"/><circle cx="583.0" cy="362.2"/><circle cx="583.2" cy="365.2"/><circle cx="582.6" cy="368.4"/><circle cx="582.9" cy="371.7"/><circle cx="583.3" cy="374.7"/><circle cx="582.9" cy="377.6"/><circle cx="582.5" cy="379.9"/><circle cx="582.8" cy="383.5"/><circle cx="583.0" cy="386.5"/><circle cx="582.8" cy="389.4"/><circle cx="582.9" cy="392.4"/><circle cx="583.5" cy="395.1"/><circle cx="583.5" cy="398.4"/><circle cx="582.8" cy="401.7"/><circle cx="583.1" cy="405.3"/><circle cx="582.9" cy="407.9"/><circle cx="583.0" cy="410.5"/><circle cx="582.6" cy="414.3"/><circle cx="583.1" cy="417.3"/><circle cx="583.3" cy="420.2"/><circle cx="583.0" cy="423.1"/><circle cx="583.3" cy="425.7"/><circle cx="583.1" cy="429.6"/><circle cx="583.2" cy="431.9"/><circle cx="583.3" cy="435.7"/><circle cx="583.2" cy="438.2"/></g>
<g fill="#4a2a20"><circle cx="586.2" cy="383.8"/><circle cx="586.2" cy="384.6"/><circle cx="586.1" cy="385.4"/><circle cx="586.0" cy="386.2"/><circle cx="586.1" cy="388.3"/><circle cx="586.0" cy="390.3"/><circle cx="585.9" cy="392.4"/><circle cx="585.9" cy="394.4"/><circle cx="586.1" cy="396.5"/><circle cx="586.0" cy="398.5"/><circle cx="585.9" cy="400.6"/><circle cx="586.1" cy="402.6"/><circle cx="585.9" cy="404.7"/><circle cx="586.1" cy="406.7"/><circle cx="586.0" cy="408.8"/><circle cx="585.9" cy="410.8"/><circle cx="586.1" cy="412.9"/><circle cx="586.2" cy="414.9"/><circle cx="586.1" cy="417.0"/><circle cx="586.0" cy="419.0"/><circle cx="586.1" cy="421.1"/><circle cx="586.2" cy="423.1"/><circle cx="586.1" cy="425.2"/><circle cx="585.9" cy="386.2"/><circle cx="585.8" cy="389.6"/><circle cx="585.8" cy="391.9"/><circle cx="585.6" cy="395.4"/><circle cx="585.9" cy="397.6"/><circle cx="586.3" cy="400.7"/><circle cx="586.4" cy="403.8"/><circle cx="586.2" cy="407.6"/><circle cx="586.1" cy="410.5"/><circle cx="585.8" cy="413.3"/><circle cx="585.9" cy="416.1"/><circle cx="586.0" cy="419.5"/><circle cx="586.3" cy="422.0"/><circle cx="585.5" cy="425.2"/></g>
<g fill="#000062"><circle cx="586.1" cy="366.2"/><circle cx="585.8" cy="367.0"/><circle cx="585.9" cy="367.8"/><circle cx="586.3" cy="368.6"/><circle cx="585.7" cy="369.8"/><circle cx="585.9" cy="371.5"/><circle cx="586.0" cy="372.3"/><circle cx="585.8" cy="373.5"/><circle cx="586.0" cy="374.1"/><circle cx="585.7" cy="375.2"/><circle cx="585.6" cy="376.8"/><circle cx="586.2" cy="378.6"/><circle cx="586.5" cy="379.1"/><circle cx="586.4" cy="380.4"/><circle cx="585.7" cy="381.6"/><circle cx="586.1" cy="382.6"/><circle cx="585.7" cy="384.7"/><circle cx="586.2" cy="385.0"/><circle cx="586.0" cy="386.6"/><circle cx="586.3" cy="388.3"/><circle cx="586.0" cy="389.5"/><circle cx="585.8" cy="390.9"/><circle cx="585.9" cy="391.2"/><circle cx="585.6" cy="393.0"/><circle cx="585.8" cy="393.4"/><circle cx="585.6" cy="395.5"/><circle cx="585.7" cy="396.1"/><circle cx="585.7" cy="397.0"/><circle cx="585.7" cy="398.5"/><circle cx="585.7" cy="399.6"/><circle cx="586.2" cy="400.6"/><circle cx="585.9" cy="402.1"/><circle cx="585.8" cy="403.0"/><circle cx="586.2" cy="405.1"/><circle cx="585.8" cy="406.5"/><circle cx="586.0" cy="406.9"/><circle cx="585.9" cy="408.5"/><circle cx="586.2" cy="409.6"/><circle cx="586.4" cy="410.8"/><circle cx="586.1" cy="411.6"/><circle cx="586.0" cy="413.1"/><circle cx="586.1" cy="414.7"/><circle cx="586.4" cy="415.9"/><circle cx="586.5" cy="416.7"/><circle cx="586.4" cy="417.9"/><circle cx="585.7" cy="419.3"/></g>
<g fill="#2f4f4f"><circle cx="587.6" cy="342.8"/><circle cx="587.5" cy="343.6"/><circle cx="587.1" cy="344.4"/><circle cx="587.4" cy="345.2"/><circle cx="587.2" cy="347.3"/><circle cx="587.4" cy="349.3"/><circle cx="587.2" cy="351.4"/><circle cx="587.2" cy="353.5"/><circle cx="587.3" cy="355.5"/><circle cx="587.2" cy="357.6"/><circle cx="587.2" cy="359.7"/><circle cx="587.4" cy="361.7"/><circle cx="587.3" cy="363.8"/><circle cx="587.3" cy="365.9"/><circle cx="587.4" cy="367.9"/><circle cx="587.1" cy="370.0"/><circle cx="587.3" cy="372.1"/><circle cx="587.2" cy="374.1"/><circle cx="587.2" cy="376.2"/><circle cx="587.2" cy="345.2"/><circle cx="587.7" cy="347.9"/><circle cx="587.7" cy="350.8"/><circle cx="587.5" cy="354.9"/><circle cx="587.3" cy="357.6"/><circle cx="587.6" cy="360.5"/><circle cx="587.2" cy="363.3"/><circle cx="587.4" cy="366.3"/><circle cx="586.9" cy="369.6"/><circle cx="587.4" cy="373.5"/><circle cx="587.2" cy="376.2"/></g>
<g fill="#556b2f"><circle cx="590.1" cy="350.8"/><circle cx="590.1" cy="351.6"/><circle cx="589.9" cy="352.4"/><circle cx="589.8" cy="353.2"/><circle cx="590.1" cy="355.2"/><circle cx="589.8" cy="357.3"/><circle cx="590.2" cy="359.3"/><circle cx="589.9" cy="361.4"/><circle cx="590.2" cy="363.4"/><circle cx="589.9" cy="365.5"/><circle cx="590.0" cy="367.5"/><circle cx="590.1" cy="369.6"/><circle cx="590.2" cy="371.6"/><circle cx="589.9" cy="373.7"/><circle cx="590.2" cy="375.7"/><circle cx="590.0" cy="377.8"/><circle cx="590.0" cy="379.8"/><circle cx="590.0" cy="381.9"/><circle cx="590.0" cy="383.9"/><circle cx="590.2" cy="386.0"/><circle cx="589.8" cy="388.0"/><circle cx="589.9" cy="390.1"/><circle cx="590.0" cy="392.1"/><circle cx="590.0" cy="394.2"/><circle cx="590.0" cy="396.2"/><circle cx="589.9" cy="353.2"/><circle cx="589.7" cy="356.0"/><circle cx="590.3" cy="359.4"/><circle cx="590.2" cy="362.2"/><circle cx="589.6" cy="365.9"/><circle cx="589.9" cy="369.2"/><circle cx="590.0" cy="371.1"/><circle cx="590.4" cy="375.1"/><circle cx="590.1" cy="378.3"/><circle cx="589.8" cy="381.1"/><circle cx="589.8" cy="384.0"/><circle cx="590.0" cy="387.2"/><circle cx="590.4" cy="389.7"/><circle cx="590.2" cy="393.3"/><circle cx="590.1" cy="396.2"/></g>
<g fill="#76269d"><circle cx="591.1" cy="363.6"/><circle cx="591.0" cy="364.4"/><circle cx="591.1" cy="365.2"/><circle cx="590.8" cy="366.0"/><circle cx="591.2" cy="367.4"/><circle cx="591.4" cy="370.2"/><circle cx="591.4" cy="371.2"/><circle cx="591.0" cy="373.6"/><circle cx="590.9" cy="375.4"/><circle cx="591.1" cy="376.2"/><circle cx="591.1" cy="378.8"/><circle cx="591.1" cy="380.9"/><circle cx="590.8" cy="382.3"/><circle cx="591.4" cy="383.6"/><circle cx="591.4" cy="385.6"/><circle cx="591.1" cy="387.8"/><circle cx="591.0" cy="389.0"/><circle cx="590.6" cy="391.8"/><circle cx="591.4" cy="393.2"/><circle cx="591.4" cy="394.8"/><circle cx="591.3" cy="396.5"/><circle cx="590.6" cy="398.3"/><circle cx="590.5" cy="399.8"/><circle cx="591.4" cy="402.2"/><circle cx="590.5" cy="403.3"/><circle cx="591.5" cy="406.1"/><circle cx="591.3" cy="407.3"/><circle cx="590.8" cy="409.7"/><circle cx="591.0" cy="410.8"/><circle cx="591.4" cy="413.1"/><circle cx="591.1" cy="415.0"/><circle cx="590.6" cy="416.8"/><circle cx="591.4" cy="417.8"/><circle cx="590.9" cy="420.0"/></g>
<g fill="#98fb98"><circle cx="592.1" cy="411.8"/></g>
<g fill="#2a3a2a"><circle cx="592.8" cy="351.3"/><circle cx="593.2" cy="352.1"/><circle cx="592.9" cy="352.9"/><circle cx="592.9" cy="353.7"/><circle cx="593.0" cy="355.7"/><circle cx="593.1" cy="357.7"/><circle cx="593.2" cy="359.8"/><circle cx="593.0" cy="361.8"/><circle cx="593.1" cy="363.8"/><circle cx="593.0" cy="365.8"/><circle cx="593.1" cy="367.8"/><circle cx="592.9" cy="369.9"/><circle cx="592.9" cy="371.9"/><circle cx="592.8" cy="373.9"/><circle cx="592.9" cy="375.9"/><circle cx="592.9" cy="377.9"/><circle cx="592.9" cy="379.9"/><circle cx="593.0" cy="382.0"/><circle cx="593.0" cy="384.0"/><circle cx="593.1" cy="386.0"/><circle cx="592.9" cy="388.0"/><circle cx="592.9" cy="390.0"/><circle cx="592.9" cy="392.1"/><circle cx="593.0" cy="394.1"/><circle cx="593.0" cy="396.1"/><circle cx="592.8" cy="398.1"/><circle cx="593.1" cy="400.1"/><circle cx="593.0" cy="402.2"/><circle cx="592.9" cy="404.2"/><circle cx="593.2" cy="406.2"/><circle cx="593.1" cy="353.7"/><circle cx="593.4" cy="356.3"/><circle cx="592.6" cy="359.7"/><circle cx="593.5" cy="362.9"/><circle cx="592.9" cy="365.5"/><circle cx="593.2" cy="368.7"/><circle cx="593.0" cy="371.0"/><circle cx="593.2" cy="374.1"/><circle cx="593.4" cy="377.4"/><circle cx="592.7" cy="380.2"/><circle cx="592.6" cy="383.3"/><circle cx="592.6" cy="385.7"/><circle cx="593.5" cy="388.5"/><circle cx="592.7" cy="392.0"/><circle cx="593.0" cy="394.5"/><circle cx="593.4" cy="397.0"/><circle cx="593.0" cy="400.0"/><circle cx="593.1" cy="403.5"/><circle cx="593.0" cy="406.2"/></g>
<g fill="#14706b"><circle cx="595.9" cy="365.5"/><circle cx="595.9" cy="366.3"/><circle cx="596.3" cy="367.1"/><circle cx="596.2" cy="367.9"/><circle cx="596.3" cy="369.4"/><circle cx="596.0" cy="371.3"/><circle cx="595.9" cy="371.9"/><circle cx="595.7" cy="373.8"/><circle cx="595.8" cy="374.7"/><circle cx="596.3" cy="376.6"/><circle cx="596.0" cy="377.7"/><circle cx="595.5" cy="379.8"/><circle cx="596.5" cy="380.3"/><circle cx="596.3" cy="382.7"/><circle cx="596.1" cy="384.2"/><circle cx="595.8" cy="385.3"/><circle cx="596.3" cy="386.7"/><circle cx="595.6" cy="387.8"/><circle cx="595.9" cy="389.9"/><circle cx="595.7" cy="390.4"/><circle cx="595.8" cy="392.8"/><circle cx="595.7" cy="393.6"/><circle cx="595.9" cy="395.8"/><circle cx="596.4" cy="397.1"/><circle cx="596.4" cy="398.3"/><circle cx="596.3" cy="400.1"/><circle cx="596.4" cy="401.6"/><circle cx="595.7" cy="401.9"/><circle cx="595.7" cy="404.1"/><circle cx="596.3" cy="404.8"/><circle cx="596.2" cy="406.5"/><circle cx="595.5" cy="408.2"/><circle cx="595.7" cy="410.2"/><circle cx="595.8" cy="410.6"/><circle cx="596.1" cy="413.0"/><circle cx="596.2" cy="413.6"/><circle cx="596.4" cy="415.4"/><circle cx="595.5" cy="417.1"/><circle cx="595.5" cy="418.4"/></g>
<g fill="#3a2030"><circle cx="598.2" cy="363.8"/><circle cx="597.7" cy="364.6"/><circle cx="597.8" cy="365.4"/><circle cx="597.9" cy="366.2"/><circle cx="598.1" cy="368.2"/><circle cx="598.2" cy="370.2"/><circle cx="598.1" cy="372.2"/><circle cx="598.1" cy="374.2"/><circle cx="598.0" cy="376.2"/><circle cx="598.1" cy="378.2"/><circle cx="597.8" cy="380.2"/><circle cx="598.1" cy="382.2"/><circle cx="598.0" cy="384.2"/><circle cx="597.8" cy="386.2"/><circle cx="598.0" cy="388.2"/><circle cx="598.0" cy="390.2"/><circle cx="598.1" cy="392.2"/><circle cx="598.0" cy="394.2"/><circle cx="598.0" cy="396.2"/><circle cx="598.1" cy="366.2"/><circle cx="598.1" cy="369.6"/><circle cx="597.8" cy="372.2"/><circle cx="597.7" cy="374.8"/><circle cx="597.9" cy="378.2"/><circle cx="598.4" cy="381.2"/><circle cx="597.6" cy="383.9"/><circle cx="597.8" cy="387.5"/><circle cx="597.7" cy="390.6"/><circle cx="598.4" cy="393.4"/><circle cx="598.4" cy="396.2"/></g>
<g fill="#5a3020"><circle cx="600.3" cy="403.8"/><circle cx="599.9" cy="404.6"/><circle cx="600.0" cy="405.4"/><circle cx="599.9" cy="406.2"/><circle cx="599.9" cy="408.3"/><circle cx="600.1" cy="410.4"/><circle cx="599.9" cy="412.4"/><circle cx="600.1" cy="414.5"/><circle cx="600.0" cy="416.6"/><circle cx="599.9" cy="418.7"/><circle cx="599.9" cy="420.8"/><circle cx="600.1" cy="422.9"/><circle cx="599.9" cy="424.9"/><circle cx="599.9" cy="427.0"/><circle cx="599.9" cy="429.1"/><circle cx="599.9" cy="431.2"/><circle cx="599.9" cy="406.2"/><circle cx="600.1" cy="408.9"/><circle cx="600.1" cy="412.0"/><circle cx="600.0" cy="415.8"/><circle cx="600.0" cy="418.5"/><circle cx="599.6" cy="421.4"/><circle cx="599.6" cy="424.5"/><circle cx="600.1" cy="427.5"/><circle cx="599.9" cy="431.2"/></g>
<g fill="#e9967a"><circle cx="599.7" cy="432.8"/></g>
<g fill="#002f00"><circle cx="601.0" cy="365.2"/><circle cx="600.7" cy="366.0"/><circle cx="601.0" cy="366.8"/><circle cx="600.9" cy="367.6"/><circle cx="601.1" cy="369.5"/><circle cx="601.3" cy="371.4"/><circle cx="601.0" cy="372.8"/><circle cx="601.1" cy="374.1"/><circle cx="601.5" cy="375.5"/><circle cx="601.4" cy="376.8"/><circle cx="600.6" cy="378.9"/><circle cx="601.3" cy="380.8"/><circle cx="601.0" cy="382.1"/><circle cx="601.2" cy="383.9"/><circle cx="600.6" cy="384.9"/><circle cx="601.3" cy="387.3"/><circle cx="601.0" cy="388.5"/><circle cx="600.8" cy="391.0"/><circle cx="600.6" cy="391.5"/><circle cx="600.7" cy="394.0"/><circle cx="601.2" cy="395.4"/><circle cx="600.6" cy="397.2"/><circle cx="601.3" cy="398.3"/><circle cx="601.2" cy="400.7"/><circle cx="601.5" cy="402.2"/><circle cx="600.8" cy="403.4"/><circle cx="601.0" cy="405.7"/><circle cx="601.3" cy="406.8"/><circle cx="600.7" cy="407.8"/><circle cx="600.9" cy="410.4"/><circle cx="600.6" cy="412.0"/><circle cx="601.3" cy="413.4"/><circle cx="601.1" cy="415.4"/><circle cx="601.2" cy="416.3"/><circle cx="600.5" cy="418.3"/><circle cx="600.7" cy="419.6"/><circle cx="601.2" cy="421.6"/><circle cx="601.4" cy="423.0"/></g>
<g fill="#303030"><circle cx="605.3" cy="343.8"/><circle cx="605.7" cy="344.6"/><circle cx="605.3" cy="345.4"/><circle cx="605.6" cy="346.2"/><circle cx="605.4" cy="348.2"/><circle cx="605.4" cy="350.2"/><circle cx="605.3" cy="352.2"/><circle cx="605.5" cy="354.2"/><circle cx="605.3" cy="356.2"/><circle cx="605.4" cy="358.2"/><circle cx="605.5" cy="360.2"/><circle cx="605.7" cy="362.2"/><circle cx="605.4" cy="364.2"/><circle cx="605.5" cy="366.2"/><circle cx="605.5" cy="368.2"/><circle cx="605.6" cy="370.2"/><circle cx="605.6" cy="372.2"/><circle cx="605.6" cy="374.2"/><circle cx="605.6" cy="376.2"/><circle cx="605.3" cy="378.2"/><circle cx="605.4" cy="380.2"/><circle cx="605.6" cy="382.2"/><circle cx="605.6" cy="384.2"/><circle cx="605.6" cy="386.2"/><circle cx="605.4" cy="388.2"/><circle cx="605.6" cy="390.2"/><circle cx="605.5" cy="392.2"/><circle cx="605.6" cy="394.2"/><circle cx="605.4" cy="396.2"/><circle cx="605.4" cy="398.2"/><circle cx="605.5" cy="400.2"/><circle cx="605.4" cy="402.2"/><circle cx="605.5" cy="404.2"/><circle cx="605.4" cy="406.2"/><circle cx="605.4" cy="408.2"/><circle cx="605.7" cy="410.2"/><circle cx="605.7" cy="412.2"/><circle cx="605.5" cy="414.2"/><circle cx="605.6" cy="416.2"/><circle cx="605.7" cy="346.2"/><circle cx="605.9" cy="349.4"/><circle cx="605.2" cy="352.3"/><circle cx="605.5" cy="355.8"/><circle cx="605.1" cy="358.2"/><circle cx="605.2" cy="361.3"/><circle cx="605.3" cy="364.8"/><circle cx="605.6" cy="367.8"/><circle cx="605.7" cy="370.1"/><circle cx="605.3" cy="373.4"/><circle cx="605.3" cy="376.9"/><circle cx="606.0" cy="379.8"/><circle cx="606.0" cy="382.7"/><circle cx="605.7" cy="385.5"/><circle cx="605.5" cy="388.4"/><circle cx="605.7" cy="392.4"/><circle cx="605.8" cy="395.1"/><circle cx="605.5" cy="398.2"/><circle cx="605.5" cy="401.1"/><circle cx="605.3" cy="404.3"/><circle cx="605.1" cy="407.1"/><circle cx="605.4" cy="410.3"/><circle cx="605.6" cy="413.7"/><circle cx="605.4" cy="416.2"/></g>
<g fill="#39481f"><circle cx="606.1" cy="378.7"/><circle cx="605.8" cy="379.5"/><circle cx="606.0" cy="380.3"/><circle cx="606.2" cy="381.1"/><circle cx="606.1" cy="382.3"/><circle cx="606.0" cy="384.1"/><circle cx="606.3" cy="385.0"/><circle cx="606.3" cy="386.9"/><circle cx="606.5" cy="388.1"/><circle cx="606.1" cy="390.1"/><circle cx="606.4" cy="391.1"/><circle cx="606.3" cy="393.1"/><circle cx="606.3" cy="394.3"/><circle cx="605.8" cy="395.7"/><circle cx="606.5" cy="396.4"/><circle cx="606.2" cy="397.9"/><circle cx="605.7" cy="399.5"/><circle cx="606.2" cy="401.5"/><circle cx="605.7" cy="403.3"/><circle cx="606.1" cy="404.4"/><circle cx="605.6" cy="405.6"/><circle cx="605.9" cy="406.5"/><circle cx="606.2" cy="408.6"/><circle cx="605.7" cy="410.4"/><circle cx="605.7" cy="411.0"/><circle cx="605.5" cy="412.5"/><circle cx="605.9" cy="414.0"/><circle cx="605.9" cy="415.6"/></g>
<g fill="#b0c4de"><circle cx="609.3" cy="362.8"/><circle cx="609.1" cy="363.6"/><circle cx="608.9" cy="364.4"/><circle cx="608.9" cy="365.2"/><circle cx="608.9" cy="367.2"/><circle cx="609.1" cy="369.2"/><circle cx="608.9" cy="371.2"/><circle cx="609.0" cy="373.2"/><circle cx="609.1" cy="375.2"/><circle cx="609.5" cy="365.2"/><circle cx="609.3" cy="368.6"/><circle cx="608.8" cy="371.8"/><circle cx="609.0" cy="375.2"/></g>
<g fill="#228b22"><circle cx="610.9" cy="382.8"/><circle cx="611.1" cy="383.6"/><circle cx="610.9" cy="384.4"/><circle cx="611.0" cy="385.2"/><circle cx="611.2" cy="387.2"/><circle cx="610.9" cy="389.3"/><circle cx="610.8" cy="391.3"/><circle cx="611.2" cy="393.4"/><circle cx="611.0" cy="395.4"/><circle cx="611.1" cy="397.5"/><circle cx="611.0" cy="399.6"/><circle cx="610.9" cy="401.6"/><circle cx="611.2" cy="403.6"/><circle cx="611.1" cy="405.7"/><circle cx="611.2" cy="407.8"/><circle cx="611.2" cy="409.8"/><circle cx="611.0" cy="411.8"/><circle cx="611.2" cy="413.9"/><circle cx="611.1" cy="415.9"/><circle cx="611.0" cy="418.0"/><circle cx="611.0" cy="420.1"/><circle cx="611.0" cy="422.1"/><circle cx="611.1" cy="424.1"/><circle cx="611.1" cy="426.2"/><circle cx="610.9" cy="385.2"/><circle cx="611.0" cy="387.9"/><circle cx="611.1" cy="390.8"/><circle cx="611.0" cy="394.1"/><circle cx="611.1" cy="397.4"/><circle cx="611.2" cy="399.6"/><circle cx="611.5" cy="402.3"/><circle cx="611.4" cy="406.1"/><circle cx="611.0" cy="408.7"/><circle cx="610.7" cy="411.6"/><circle cx="611.2" cy="414.7"/><circle cx="610.9" cy="417.5"/><circle cx="611.1" cy="420.8"/><circle cx="610.9" cy="422.8"/><circle cx="611.1" cy="426.2"/></g>
<g fill="#3f2011"><circle cx="611.2" cy="370.0"/><circle cx="611.2" cy="370.8"/><circle cx="611.2" cy="371.6"/><circle cx="611.0" cy="372.4"/><circle cx="611.0" cy="374.2"/><circle cx="611.3" cy="376.1"/><circle cx="611.0" cy="377.5"/><circle cx="611.0" cy="378.8"/><circle cx="611.5" cy="380.8"/><circle cx="611.3" cy="381.9"/><circle cx="610.6" cy="384.3"/><circle cx="611.3" cy="386.0"/><circle cx="610.5" cy="387.3"/><circle cx="611.4" cy="389.3"/><circle cx="610.9" cy="390.2"/><circle cx="611.3" cy="391.8"/><circle cx="610.6" cy="393.4"/><circle cx="611.2" cy="394.8"/><circle cx="610.7" cy="396.8"/><circle cx="610.9" cy="398.7"/><circle cx="611.2" cy="400.1"/><circle cx="611.2" cy="401.6"/><circle cx="611.2" cy="403.9"/><circle cx="611.4" cy="405.3"/><circle cx="610.9" cy="406.4"/><circle cx="610.6" cy="408.3"/><circle cx="611.4" cy="410.0"/><circle cx="611.5" cy="412.1"/><circle cx="610.7" cy="413.6"/><circle cx="610.9" cy="415.0"/><circle cx="611.4" cy="416.0"/><circle cx="611.4" cy="418.1"/><circle cx="611.3" cy="419.9"/></g>
<g fill="#525252"><circle cx="616.2" cy="375.9"/><circle cx="615.9" cy="376.7"/><circle cx="616.1" cy="377.5"/><circle cx="616.2" cy="378.3"/><circle cx="615.7" cy="379.8"/><circle cx="615.7" cy="380.3"/><circle cx="615.8" cy="382.3"/><circle cx="616.3" cy="383.0"/><circle cx="615.9" cy="384.0"/><circle cx="616.2" cy="385.3"/><circle cx="616.3" cy="386.9"/><circle cx="615.6" cy="387.8"/><circle cx="616.2" cy="389.0"/><circle cx="615.6" cy="391.2"/><circle cx="616.3" cy="391.2"/><circle cx="615.9" cy="392.5"/><circle cx="615.7" cy="394.4"/><circle cx="616.3" cy="396.1"/><circle cx="616.3" cy="396.4"/><circle cx="616.1" cy="397.6"/><circle cx="615.7" cy="398.8"/><circle cx="616.2" cy="400.6"/><circle cx="616.5" cy="401.1"/><circle cx="616.2" cy="403.1"/><circle cx="615.5" cy="404.4"/><circle cx="615.7" cy="405.9"/><circle cx="615.7" cy="406.3"/><circle cx="616.2" cy="408.3"/><circle cx="616.1" cy="408.6"/><circle cx="615.8" cy="410.1"/><circle cx="615.9" cy="411.2"/><circle cx="615.9" cy="413.4"/><circle cx="615.5" cy="414.6"/><circle cx="616.3" cy="415.4"/><circle cx="615.8" cy="416.4"/><circle cx="616.2" cy="417.4"/><circle cx="616.0" cy="419.0"/><circle cx="616.5" cy="420.6"/><circle cx="616.2" cy="420.9"/><circle cx="616.0" cy="422.2"/><circle cx="616.5" cy="423.9"/><circle cx="616.3" cy="425.1"/></g>
<g fill="#66cdaa"><circle cx="619.2" cy="418.8"/><circle cx="618.9" cy="419.6"/><circle cx="618.8" cy="420.4"/><circle cx="619.2" cy="421.2"/><circle cx="618.9" cy="423.2"/><circle cx="619.2" cy="425.2"/><circle cx="619.0" cy="427.2"/><circle cx="619.0" cy="429.2"/><circle cx="619.0" cy="431.2"/><circle cx="618.8" cy="433.2"/><circle cx="618.9" cy="435.2"/><circle cx="619.0" cy="437.2"/><circle cx="619.0" cy="439.2"/><circle cx="618.8" cy="441.2"/><circle cx="619.5" cy="421.2"/><circle cx="618.7" cy="424.2"/><circle cx="618.9" cy="426.7"/><circle cx="618.9" cy="430.3"/><circle cx="619.4" cy="432.2"/><circle cx="619.3" cy="435.7"/><circle cx="619.4" cy="438.8"/><circle cx="619.4" cy="441.2"/></g>
<g fill="#944242"><circle cx="620.9" cy="374.3"/><circle cx="620.8" cy="375.1"/><circle cx="621.0" cy="375.9"/><circle cx="621.1" cy="376.7"/><circle cx="621.1" cy="378.5"/><circle cx="621.4" cy="380.1"/><circle cx="620.8" cy="381.9"/><circle cx="621.0" cy="383.5"/><circle cx="620.7" cy="384.9"/><circle cx="621.1" cy="386.7"/><circle cx="620.7" cy="387.3"/><circle cx="620.6" cy="389.0"/><circle cx="621.3" cy="390.9"/><circle cx="621.3" cy="392.1"/><circle cx="621.2" cy="394.2"/><circle cx="620.6" cy="395.7"/><circle cx="620.7" cy="397.3"/><circle cx="620.6" cy="398.7"/><circle cx="621.5" cy="400.1"/><circle cx="620.7" cy="401.5"/><circle cx="621.2" cy="403.6"/><circle cx="620.6" cy="405.6"/><circle cx="620.7" cy="407.0"/><circle cx="621.5" cy="408.2"/><circle cx="621.5" cy="409.7"/><circle cx="621.1" cy="411.1"/><circle cx="621.3" cy="412.8"/><circle cx="621.3" cy="414.0"/><circle cx="620.6" cy="415.9"/><circle cx="620.6" cy="417.9"/><circle cx="621.2" cy="419.4"/><circle cx="621.4" cy="420.7"/><circle cx="620.7" cy="422.9"/><circle cx="621.4" cy="423.4"/><circle cx="621.2" cy="425.5"/></g>
<g fill="#b22222"><circle cx="622.7" cy="334.8"/><circle cx="623.0" cy="335.6"/><circle cx="623.0" cy="336.4"/><circle cx="623.0" cy="337.2"/><circle cx="623.0" cy="339.2"/><circle cx="623.2" cy="341.3"/><circle cx="623.0" cy="343.3"/><circle cx="622.9" cy="345.4"/><circle cx="622.9" cy="347.4"/><circle cx="623.1" cy="349.4"/><circle cx="622.9" cy="351.5"/><circle cx="622.8" cy="353.5"/><circle cx="623.2" cy="355.6"/><circle cx="623.1" cy="357.6"/><circle cx="622.9" cy="359.7"/><circle cx="623.1" cy="361.7"/><circle cx="622.9" cy="363.7"/><circle cx="622.9" cy="365.8"/><circle cx="623.1" cy="367.8"/><circle cx="622.9" cy="369.9"/><circle cx="623.2" cy="371.9"/><circle cx="623.1" cy="373.9"/><circle cx="622.9" cy="376.0"/><circle cx="623.2" cy="378.0"/><circle cx="623.0" cy="380.1"/><circle cx="622.9" cy="382.1"/><circle cx="623.0" cy="384.2"/><circle cx="623.1" cy="386.2"/><circle cx="622.6" cy="337.2"/><circle cx="622.9" cy="340.0"/><circle cx="622.8" cy="343.5"/><circle cx="622.9" cy="347.0"/><circle cx="622.9" cy="349.1"/><circle cx="623.0" cy="352.2"/><circle cx="622.9" cy="356.0"/><circle cx="622.5" cy="359.0"/><circle cx="623.2" cy="361.3"/><circle cx="622.7" cy="365.2"/><circle cx="622.8" cy="367.4"/><circle cx="623.0" cy="371.4"/><circle cx="622.5" cy="374.0"/><circle cx="622.5" cy="376.9"/><circle cx="622.7" cy="379.8"/><circle cx="623.0" cy="382.6"/><circle cx="623.2" cy="386.2"/></g>
<g fill="#008b8b"><circle cx="623.9" cy="344.4"/><circle cx="623.9" cy="345.2"/><circle cx="624.2" cy="346.0"/><circle cx="623.8" cy="346.8"/><circle cx="624.1" cy="348.9"/><circle cx="624.0" cy="351.0"/><circle cx="623.9" cy="353.1"/><circle cx="624.2" cy="355.2"/><circle cx="623.9" cy="357.3"/><circle cx="624.2" cy="359.4"/><circle cx="623.9" cy="361.5"/><circle cx="623.9" cy="363.6"/><circle cx="624.0" cy="365.7"/><circle cx="623.8" cy="367.8"/><circle cx="624.1" cy="369.9"/><circle cx="624.0" cy="372.0"/><circle cx="624.1" cy="374.1"/><circle cx="623.9" cy="376.2"/><circle cx="623.5" cy="346.8"/><circle cx="624.1" cy="349.5"/><circle cx="624.0" cy="352.7"/><circle cx="623.5" cy="355.9"/><circle cx="624.1" cy="358.2"/><circle cx="624.2" cy="361.4"/><circle cx="623.9" cy="364.8"/><circle cx="624.2" cy="367.4"/><circle cx="624.0" cy="370.2"/><circle cx="624.5" cy="373.0"/><circle cx="624.2" cy="376.2"/></g>
<g fill="#00ffff"><circle cx="625.4" cy="396.8"/></g>
<g fill="#2f8d59"><circle cx="625.9" cy="377.7"/><circle cx="626.2" cy="378.5"/><circle cx="625.7" cy="379.3"/><circle cx="626.3" cy="380.1"/><circle cx="626.0" cy="381.3"/><circle cx="626.3" cy="383.8"/><circle cx="625.9" cy="385.4"/><circle cx="626.4" cy="386.9"/><circle cx="626.1" cy="388.2"/><circle cx="625.7" cy="389.9"/><circle cx="625.8" cy="392.3"/><circle cx="626.4" cy="393.0"/><circle cx="626.5" cy="395.4"/><circle cx="626.4" cy="397.0"/><circle cx="625.7" cy="399.0"/><circle cx="626.5" cy="399.5"/><circle cx="625.6" cy="402.1"/><circle cx="625.5" cy="404.0"/><circle cx="625.9" cy="405.2"/><circle cx="626.3" cy="406.6"/><circle cx="626.4" cy="408.0"/><circle cx="626.0" cy="410.0"/><circle cx="625.6" cy="412.2"/><circle cx="625.7" cy="413.7"/><circle cx="625.8" cy="415.4"/><circle cx="626.3" cy="416.7"/><circle cx="626.0" cy="417.9"/><circle cx="626.2" cy="420.4"/><circle cx="626.3" cy="421.2"/><circle cx="625.8" cy="423.8"/><circle cx="626.0" cy="425.1"/></g>
<g fill="#ff0000"><circle cx="626.5" cy="397.8"/></g>
<g fill="#333300"><circle cx="627.2" cy="353.8"/><circle cx="626.7" cy="354.6"/><circle cx="627.1" cy="355.4"/><circle cx="626.9" cy="356.2"/><circle cx="626.8" cy="358.2"/><circle cx="627.0" cy="360.2"/><circle cx="627.0" cy="362.2"/><circle cx="627.2" cy="364.2"/><circle cx="627.0" cy="366.2"/><circle cx="626.8" cy="368.2"/><circle cx="627.1" cy="370.2"/><circle cx="626.9" cy="372.2"/><circle cx="626.8" cy="374.2"/><circle cx="626.8" cy="376.2"/><circle cx="627.1" cy="378.2"/><circle cx="627.0" cy="380.2"/><circle cx="627.0" cy="382.2"/><circle cx="627.1" cy="384.2"/><circle cx="627.0" cy="386.2"/><circle cx="627.1" cy="388.2"/><circle cx="627.0" cy="390.2"/><circle cx="627.2" cy="392.2"/><circle cx="627.2" cy="394.2"/><circle cx="627.1" cy="396.2"/><circle cx="627.2" cy="356.2"/><circle cx="627.3" cy="359.2"/><circle cx="627.1" cy="362.4"/><circle cx="626.8" cy="364.9"/><circle cx="627.0" cy="368.9"/><circle cx="626.9" cy="371.6"/><circle cx="627.3" cy="374.2"/><circle cx="626.7" cy="378.2"/><circle cx="627.0" cy="380.3"/><circle cx="626.8" cy="383.9"/><circle cx="627.4" cy="386.4"/><circle cx="627.0" cy="389.6"/><circle cx="627.3" cy="392.8"/><circle cx="627.2" cy="396.2"/></g>
<g fill="#ffff00"><circle cx="627.8" cy="358.8"/></g>
<g fill="#008b8b"><circle cx="631.1" cy="314.8"/><circle cx="631.1" cy="315.6"/><circle cx="631.1" cy="316.4"/><circle cx="630.9" cy="317.2"/><circle cx="631.1" cy="319.3"/><circle cx="631.0" cy="321.3"/><circle cx="631.1" cy="323.4"/><circle cx="631.2" cy="325.5"/><circle cx="630.8" cy="327.6"/><circle cx="630.9" cy="329.6"/><circle cx="630.8" cy="331.7"/><circle cx="631.1" cy="333.8"/><circle cx="630.8" cy="335.8"/><circle cx="630.9" cy="337.9"/><circle cx="631.0" cy="340.0"/><circle cx="630.9" cy="342.1"/><circle cx="630.8" cy="344.1"/><circle cx="631.1" cy="346.2"/><circle cx="630.7" cy="317.2"/><circle cx="630.6" cy="320.4"/><circle cx="630.6" cy="322.4"/><circle cx="631.0" cy="325.4"/><circle cx="631.1" cy="329.0"/><circle cx="630.8" cy="331.2"/><circle cx="630.8" cy="334.8"/><circle cx="631.4" cy="337.0"/><circle cx="630.8" cy="340.3"/><circle cx="631.3" cy="342.8"/><circle cx="631.3" cy="346.2"/></g>
<g fill="#264661"><circle cx="631.2" cy="369.0"/><circle cx="630.9" cy="369.8"/><circle cx="630.8" cy="370.6"/><circle cx="631.2" cy="371.4"/><circle cx="630.9" cy="372.9"/><circle cx="630.8" cy="373.7"/><circle cx="630.7" cy="374.7"/><circle cx="630.6" cy="376.1"/><circle cx="631.0" cy="376.6"/><circle cx="630.8" cy="377.2"/><circle cx="631.0" cy="378.2"/><circle cx="631.0" cy="379.6"/><circle cx="630.7" cy="381.2"/><circle cx="631.4" cy="381.6"/><circle cx="631.0" cy="382.5"/><circle cx="631.3" cy="383.8"/><circle cx="630.8" cy="384.8"/><circle cx="630.8" cy="386.0"/><circle cx="631.0" cy="387.4"/><circle cx="631.0" cy="388.5"/><circle cx="630.6" cy="388.9"/><circle cx="630.7" cy="389.9"/><circle cx="630.8" cy="391.6"/><circle cx="630.9" cy="392.3"/><circle cx="631.3" cy="393.3"/><circle cx="630.8" cy="394.6"/><circle cx="630.9" cy="395.4"/><circle cx="630.7" cy="396.1"/><circle cx="630.8" cy="398.0"/><circle cx="631.1" cy="398.1"/><circle cx="631.1" cy="399.2"/><circle cx="631.2" cy="401.0"/><circle cx="631.3" cy="401.3"/><circle cx="630.7" cy="403.1"/><circle cx="631.1" cy="403.4"/><circle cx="631.2" cy="404.6"/><circle cx="630.8" cy="406.5"/><circle cx="631.3" cy="406.4"/><circle cx="631.1" cy="408.5"/><circle cx="630.7" cy="408.6"/><circle cx="630.9" cy="409.9"/><circle cx="630.6" cy="410.6"/><circle cx="631.2" cy="411.9"/><circle cx="630.7" cy="413.2"/><circle cx="631.1" cy="413.9"/><circle cx="630.8" cy="415.4"/><circle cx="630.9" cy="416.4"/><circle cx="631.5" cy="417.9"/><circle cx="630.5" cy="418.2"/><circle cx="631.4" cy="418.9"/><circle cx="630.7" cy="420.6"/><circle cx="631.3" cy="421.4"/><circle cx="630.9" cy="422.1"/><circle cx="631.5" cy="423.0"/><circle cx="631.2" cy="424.5"/><circle cx="630.8" cy="425.7"/></g>
<g fill="#4b0082"><circle cx="633.7" cy="352.8"/><circle cx="633.8" cy="353.6"/><circle cx="633.8" cy="354.4"/><circle cx="633.4" cy="355.2"/><circle cx="633.6" cy="357.3"/><circle cx="633.7" cy="359.3"/><circle cx="633.6" cy="361.4"/><circle cx="633.5" cy="363.5"/><circle cx="633.5" cy="365.5"/><circle cx="633.5" cy="367.6"/><circle cx="633.3" cy="369.7"/><circle cx="633.6" cy="371.7"/><circle cx="633.4" cy="373.8"/><circle cx="633.4" cy="375.9"/><circle cx="633.4" cy="377.9"/><circle cx="633.3" cy="380.0"/><circle cx="633.6" cy="382.1"/><circle cx="633.7" cy="384.1"/><circle cx="633.6" cy="386.2"/><circle cx="633.3" cy="355.2"/><circle cx="633.6" cy="358.3"/><circle cx="633.5" cy="361.3"/><circle cx="633.9" cy="364.7"/><circle cx="633.4" cy="367.0"/><circle cx="633.7" cy="370.4"/><circle cx="633.9" cy="374.0"/><circle cx="633.5" cy="376.5"/><circle cx="633.2" cy="379.7"/><circle cx="633.1" cy="383.3"/><circle cx="633.6" cy="386.2"/></g>
<g fill="#cd5c5c"><circle cx="636.2" cy="367.8"/><circle cx="636.3" cy="368.6"/><circle cx="636.2" cy="369.4"/><circle cx="636.0" cy="370.2"/><circle cx="635.9" cy="372.2"/><circle cx="636.2" cy="374.2"/><circle cx="635.9" cy="376.2"/><circle cx="635.9" cy="378.2"/><circle cx="636.1" cy="380.2"/><circle cx="635.9" cy="382.2"/><circle cx="635.9" cy="384.2"/><circle cx="635.9" cy="386.2"/><circle cx="635.8" cy="370.2"/><circle cx="636.2" cy="372.9"/><circle cx="635.5" cy="377.0"/><circle cx="635.9" cy="379.8"/><circle cx="635.8" cy="383.5"/><circle cx="635.9" cy="386.2"/></g>
<g fill="#6e1515"><circle cx="636.1" cy="388.1"/><circle cx="636.0" cy="388.9"/><circle cx="636.0" cy="389.7"/><circle cx="636.2" cy="390.5"/><circle cx="636.1" cy="392.6"/><circle cx="635.7" cy="393.4"/><circle cx="636.3" cy="395.5"/><circle cx="635.7" cy="396.4"/><circle cx="636.0" cy="398.5"/><circle cx="635.6" cy="399.3"/><circle cx="635.5" cy="401.0"/><circle cx="635.9" cy="403.4"/><circle cx="636.5" cy="404.3"/><circle cx="636.0" cy="406.4"/><circle cx="635.7" cy="407.2"/><circle cx="636.4" cy="409.0"/><circle cx="636.1" cy="411.0"/><circle cx="636.3" cy="412.1"/><circle cx="635.8" cy="414.1"/><circle cx="636.3" cy="414.7"/><circle cx="636.4" cy="416.3"/><circle cx="635.6" cy="418.3"/><circle cx="635.7" cy="419.6"/><circle cx="636.4" cy="421.2"/><circle cx="636.5" cy="422.8"/></g>
<g fill="#3a0a0a"><circle cx="637.2" cy="393.8"/><circle cx="636.8" cy="394.6"/><circle cx="637.1" cy="395.4"/><circle cx="636.9" cy="396.2"/><circle cx="637.0" cy="398.2"/><circle cx="637.2" cy="400.2"/><circle cx="636.9" cy="402.2"/><circle cx="636.9" cy="404.2"/><circle cx="637.1" cy="406.2"/><circle cx="636.9" cy="408.2"/><circle cx="636.8" cy="410.2"/><circle cx="637.1" cy="412.2"/><circle cx="637.0" cy="414.2"/><circle cx="637.1" cy="416.2"/><circle cx="636.7" cy="396.2"/><circle cx="637.2" cy="399.5"/><circle cx="637.3" cy="402.2"/><circle cx="636.9" cy="405.0"/><circle cx="637.2" cy="407.1"/><circle cx="636.6" cy="411.0"/><circle cx="637.2" cy="413.8"/><circle cx="637.3" cy="416.2"/></g>
<g fill="#cd5c5c"><circle cx="638.2" cy="422.8"/><circle cx="638.2" cy="423.6"/><circle cx="638.3" cy="424.4"/><circle cx="638.4" cy="425.2"/><circle cx="638.4" cy="427.5"/><circle cx="638.4" cy="429.8"/><circle cx="638.6" cy="432.2"/><circle cx="638.6" cy="434.5"/><circle cx="638.7" cy="436.8"/><circle cx="638.3" cy="425.2"/><circle cx="638.7" cy="428.0"/><circle cx="638.4" cy="430.8"/><circle cx="638.3" cy="433.7"/><circle cx="638.8" cy="436.8"/></g>
<g fill="#3d464f"><circle cx="641.1" cy="387.9"/><circle cx="640.7" cy="388.7"/><circle cx="640.7" cy="389.5"/><circle cx="640.8" cy="390.3"/><circle cx="641.3" cy="391.7"/><circle cx="640.6" cy="393.1"/><circle cx="640.9" cy="394.5"/><circle cx="641.2" cy="394.8"/><circle cx="641.2" cy="396.5"/><circle cx="640.7" cy="397.8"/><circle cx="641.3" cy="398.5"/><circle cx="640.9" cy="400.4"/><circle cx="641.1" cy="400.5"/><circle cx="641.5" cy="402.4"/><circle cx="640.9" cy="403.5"/><circle cx="641.2" cy="404.2"/><circle cx="641.2" cy="406.4"/><circle cx="641.4" cy="407.3"/><circle cx="640.8" cy="408.2"/><circle cx="641.0" cy="409.0"/><circle cx="641.0" cy="411.2"/><circle cx="641.1" cy="412.2"/><circle cx="640.9" cy="413.3"/><circle cx="640.7" cy="413.7"/><circle cx="640.8" cy="415.1"/><circle cx="640.6" cy="416.7"/><circle cx="641.0" cy="418.3"/><circle cx="640.7" cy="418.8"/><circle cx="641.3" cy="420.5"/><circle cx="641.4" cy="421.4"/></g>
<g fill="#556b2f"><circle cx="641.9" cy="383.8"/><circle cx="642.1" cy="384.6"/><circle cx="642.2" cy="385.4"/><circle cx="641.8" cy="386.2"/><circle cx="641.9" cy="388.2"/><circle cx="642.0" cy="390.2"/><circle cx="642.0" cy="392.2"/><circle cx="641.9" cy="394.2"/><circle cx="641.8" cy="396.2"/><circle cx="642.1" cy="398.2"/><circle cx="641.9" cy="400.2"/><circle cx="642.1" cy="402.2"/><circle cx="641.9" cy="404.2"/><circle cx="642.2" cy="406.2"/><circle cx="642.0" cy="408.2"/><circle cx="642.5" cy="386.2"/><circle cx="642.2" cy="389.7"/><circle cx="642.4" cy="392.1"/><circle cx="641.7" cy="395.1"/><circle cx="642.0" cy="398.5"/><circle cx="642.4" cy="401.3"/><circle cx="641.9" cy="405.5"/><circle cx="641.6" cy="408.2"/></g>
<g fill="#deb887"><circle cx="642.6" cy="415.8"/></g>
<g fill="#433364"><circle cx="646.1" cy="403.3"/><circle cx="646.0" cy="404.1"/><circle cx="646.2" cy="404.9"/><circle cx="645.6" cy="405.7"/><circle cx="645.8" cy="407.7"/><circle cx="645.7" cy="409.5"/><circle cx="646.1" cy="410.6"/><circle cx="645.8" cy="413.2"/><circle cx="646.4" cy="415.0"/><circle cx="646.3" cy="415.8"/><circle cx="646.1" cy="417.8"/><circle cx="646.3" cy="419.6"/><circle cx="646.0" cy="421.2"/><circle cx="646.3" cy="423.5"/><circle cx="646.1" cy="425.2"/><circle cx="646.0" cy="426.7"/><circle cx="645.7" cy="428.5"/><circle cx="645.9" cy="430.0"/><circle cx="646.0" cy="432.6"/><circle cx="645.9" cy="434.0"/><circle cx="646.0" cy="435.9"/></g>
<g fill="#5a2a10"><circle cx="646.2" cy="348.2"/><circle cx="646.4" cy="350.2"/><circle cx="646.1" cy="352.2"/><circle cx="646.2" cy="354.2"/><circle cx="646.3" cy="356.2"/><circle cx="645.9" cy="348.2"/><circle cx="646.3" cy="350.5"/><circle cx="646.1" cy="353.8"/><circle cx="646.6" cy="356.2"/></g>
<g fill="#6495ed"><circle cx="648.6" cy="358.2"/><circle cx="648.7" cy="359.0"/><circle cx="648.8" cy="359.8"/><circle cx="648.5" cy="360.6"/><circle cx="648.5" cy="363.0"/><circle cx="648.6" cy="365.4"/><circle cx="648.7" cy="367.8"/><circle cx="648.4" cy="370.2"/><circle cx="648.7" cy="360.6"/><circle cx="648.4" cy="363.7"/><circle cx="648.1" cy="367.4"/><circle cx="648.9" cy="370.2"/></g>
<g fill="#4a0a0a"><circle cx="649.2" cy="377.8"/><circle cx="648.9" cy="378.6"/><circle cx="648.9" cy="379.4"/><circle cx="649.0" cy="380.2"/><circle cx="648.8" cy="382.2"/><circle cx="648.9" cy="384.2"/><circle cx="648.9" cy="386.2"/><circle cx="648.9" cy="388.2"/><circle cx="648.9" cy="390.2"/><circle cx="649.2" cy="392.2"/><circle cx="649.1" cy="394.2"/><circle cx="648.9" cy="396.2"/><circle cx="649.2" cy="398.2"/><circle cx="648.8" cy="400.2"/><circle cx="649.0" cy="402.2"/><circle cx="648.8" cy="404.2"/><circle cx="649.0" cy="406.2"/><circle cx="649.1" cy="408.2"/><circle cx="649.2" cy="410.2"/><circle cx="648.8" cy="412.2"/><circle cx="648.8" cy="414.2"/><circle cx="649.0" cy="416.2"/><circle cx="648.9" cy="418.2"/><circle cx="649.1" cy="420.2"/><circle cx="649.0" cy="422.2"/><circle cx="649.0" cy="424.2"/><circle cx="649.0" cy="426.2"/><circle cx="648.7" cy="380.2"/><circle cx="649.2" cy="383.8"/><circle cx="649.4" cy="386.1"/><circle cx="649.5" cy="389.8"/><circle cx="649.1" cy="392.3"/><circle cx="648.7" cy="395.0"/><circle cx="649.0" cy="398.2"/><circle cx="649.0" cy="401.6"/><circle cx="649.0" cy="404.4"/><circle cx="649.5" cy="407.7"/><circle cx="649.2" cy="410.5"/><circle cx="648.9" cy="413.8"/><circle cx="649.1" cy="416.5"/><circle cx="649.3" cy="420.1"/><circle cx="648.5" cy="423.0"/><circle cx="649.1" cy="426.2"/></g>
<g fill="#172727"><circle cx="650.8" cy="397.1"/><circle cx="651.1" cy="397.9"/><circle cx="651.2" cy="398.7"/><circle cx="651.2" cy="399.5"/><circle cx="650.7" cy="400.5"/><circle cx="650.6" cy="401.9"/><circle cx="650.9" cy="402.7"/><circle cx="650.5" cy="403.6"/><circle cx="651.3" cy="405.3"/><circle cx="651.4" cy="405.7"/><circle cx="651.0" cy="407.2"/><circle cx="650.7" cy="408.5"/><circle cx="651.0" cy="409.0"/><circle cx="650.9" cy="410.2"/><circle cx="651.1" cy="411.5"/><circle cx="651.2" cy="411.7"/><circle cx="651.2" cy="413.6"/><circle cx="650.5" cy="414.1"/><circle cx="650.8" cy="415.9"/><circle cx="650.7" cy="416.5"/><circle cx="650.9" cy="417.9"/><circle cx="650.6" cy="418.5"/><circle cx="650.7" cy="419.8"/><circle cx="650.8" cy="420.4"/><circle cx="651.3" cy="421.8"/><circle cx="651.1" cy="423.3"/><circle cx="651.1" cy="424.3"/><circle cx="650.7" cy="425.6"/><circle cx="650.6" cy="425.6"/><circle cx="651.2" cy="427.4"/><circle cx="651.0" cy="427.7"/><circle cx="651.1" cy="428.7"/><circle cx="651.0" cy="430.1"/><circle cx="650.6" cy="431.1"/><circle cx="651.1" cy="432.5"/></g>
<g fill="#000050"><circle cx="651.7" cy="383.8"/><circle cx="651.9" cy="384.6"/><circle cx="651.9" cy="385.4"/><circle cx="652.0" cy="386.2"/><circle cx="652.1" cy="388.2"/><circle cx="651.8" cy="390.2"/><circle cx="652.1" cy="392.2"/><circle cx="652.1" cy="394.2"/><circle cx="651.8" cy="396.2"/><circle cx="652.0" cy="398.2"/><circle cx="651.9" cy="400.2"/><circle cx="651.9" cy="402.2"/><circle cx="652.0" cy="404.2"/><circle cx="652.2" cy="406.2"/><circle cx="652.0" cy="408.2"/><circle cx="651.9" cy="410.2"/><circle cx="652.0" cy="412.2"/><circle cx="651.9" cy="414.2"/><circle cx="651.8" cy="416.2"/><circle cx="651.9" cy="418.2"/><circle cx="652.0" cy="420.2"/><circle cx="652.0" cy="422.2"/><circle cx="652.2" cy="424.2"/><circle cx="651.9" cy="426.2"/><circle cx="651.8" cy="428.2"/><circle cx="652.1" cy="430.2"/><circle cx="652.1" cy="432.2"/><circle cx="651.9" cy="434.2"/><circle cx="651.8" cy="436.2"/><circle cx="652.0" cy="386.2"/><circle cx="651.8" cy="388.9"/><circle cx="652.0" cy="392.6"/><circle cx="652.3" cy="394.8"/><circle cx="651.6" cy="397.4"/><circle cx="652.3" cy="400.5"/><circle cx="651.5" cy="403.4"/><circle cx="652.3" cy="406.9"/><circle cx="651.7" cy="409.8"/><circle cx="652.3" cy="412.6"/><circle cx="652.0" cy="415.9"/><circle cx="651.7" cy="418.1"/><circle cx="651.5" cy="421.4"/><circle cx="652.2" cy="423.9"/><circle cx="652.5" cy="427.1"/><circle cx="651.7" cy="429.9"/><circle cx="652.2" cy="433.0"/><circle cx="652.3" cy="436.2"/></g>
<g fill="#191970"><circle cx="655.3" cy="440.8"/><circle cx="655.7" cy="441.6"/><circle cx="655.7" cy="442.4"/><circle cx="655.5" cy="443.2"/><circle cx="655.6" cy="445.3"/><circle cx="655.3" cy="447.4"/><circle cx="655.3" cy="449.5"/><circle cx="655.6" cy="451.6"/><circle cx="655.4" cy="453.7"/><circle cx="655.6" cy="455.8"/><circle cx="655.4" cy="457.9"/><circle cx="655.6" cy="459.9"/><circle cx="655.8" cy="443.2"/><circle cx="656.0" cy="446.2"/><circle cx="656.0" cy="448.7"/><circle cx="655.1" cy="451.6"/><circle cx="655.8" cy="453.9"/><circle cx="656.0" cy="456.6"/><circle cx="655.6" cy="459.9"/></g>
<g fill="#008b8b"><circle cx="656.0" cy="441.3"/><circle cx="656.1" cy="443.6"/><circle cx="655.8" cy="445.9"/><circle cx="655.9" cy="448.2"/><circle cx="655.6" cy="441.3"/><circle cx="656.3" cy="445.1"/><circle cx="655.9" cy="448.2"/></g>
<g fill="#581c75"><circle cx="656.0" cy="401.7"/><circle cx="656.0" cy="402.5"/><circle cx="656.2" cy="403.3"/><circle cx="655.9" cy="404.1"/><circle cx="655.8" cy="405.5"/><circle cx="656.5" cy="406.4"/><circle cx="656.3" cy="406.8"/><circle cx="656.5" cy="407.9"/><circle cx="655.5" cy="408.6"/><circle cx="655.5" cy="410.0"/><circle cx="656.3" cy="411.5"/><circle cx="655.9" cy="412.6"/><circle cx="655.5" cy="413.6"/><circle cx="656.3" cy="414.5"/><circle cx="656.0" cy="415.1"/><circle cx="656.0" cy="416.3"/><circle cx="655.7" cy="417.0"/><circle cx="655.9" cy="417.5"/><circle cx="655.8" cy="418.8"/><circle cx="655.7" cy="420.5"/><circle cx="656.0" cy="421.6"/><circle cx="655.6" cy="422.0"/><circle cx="655.8" cy="423.0"/><circle cx="655.8" cy="424.2"/><circle cx="655.6" cy="425.3"/><circle cx="656.3" cy="426.3"/><circle cx="656.2" cy="426.7"/><circle cx="655.6" cy="427.5"/><circle cx="655.9" cy="428.8"/><circle cx="655.7" cy="429.9"/><circle cx="656.2" cy="430.7"/><circle cx="655.6" cy="431.7"/><circle cx="655.7" cy="432.5"/><circle cx="656.4" cy="433.5"/><circle cx="655.9" cy="434.7"/><circle cx="656.2" cy="436.1"/></g>
<g fill="#008080"><circle cx="656.9" cy="373.2"/><circle cx="656.8" cy="375.2"/><circle cx="657.2" cy="377.2"/><circle cx="657.0" cy="379.2"/><circle cx="656.8" cy="381.2"/><circle cx="657.2" cy="373.2"/><circle cx="656.9" cy="375.4"/><circle cx="657.2" cy="378.0"/><circle cx="657.1" cy="381.2"/></g>
<g fill="#1a3a3a"><circle cx="658.2" cy="388.8"/><circle cx="658.0" cy="389.6"/><circle cx="657.8" cy="390.4"/><circle cx="658.0" cy="391.2"/><circle cx="657.9" cy="393.3"/><circle cx="657.8" cy="395.3"/><circle cx="658.2" cy="397.4"/><circle cx="657.8" cy="399.4"/><circle cx="658.0" cy="401.5"/><circle cx="657.8" cy="403.6"/><circle cx="658.1" cy="405.6"/><circle cx="657.9" cy="407.7"/><circle cx="658.2" cy="409.7"/><circle cx="658.2" cy="411.8"/><circle cx="658.0" cy="413.8"/><circle cx="658.1" cy="415.9"/><circle cx="658.1" cy="418.0"/><circle cx="658.1" cy="420.0"/><circle cx="658.1" cy="422.1"/><circle cx="658.0" cy="424.1"/><circle cx="657.9" cy="426.2"/><circle cx="657.9" cy="391.2"/><circle cx="657.7" cy="394.2"/><circle cx="657.7" cy="396.7"/><circle cx="658.3" cy="399.6"/><circle cx="657.7" cy="403.3"/><circle cx="658.2" cy="406.2"/><circle cx="658.2" cy="408.4"/><circle cx="658.3" cy="411.8"/><circle cx="658.4" cy="415.1"/><circle cx="658.1" cy="417.2"/><circle cx="658.2" cy="420.7"/><circle cx="657.9" cy="422.8"/><circle cx="658.2" cy="426.2"/></g>
<g fill="#404040"><circle cx="661.1" cy="405.5"/><circle cx="660.9" cy="406.3"/><circle cx="660.9" cy="407.1"/><circle cx="660.8" cy="407.9"/><circle cx="661.4" cy="408.7"/><circle cx="661.1" cy="410.3"/><circle cx="660.7" cy="411.7"/><circle cx="661.0" cy="412.7"/><circle cx="661.5" cy="414.3"/><circle cx="661.0" cy="415.3"/><circle cx="660.9" cy="417.4"/><circle cx="661.5" cy="418.3"/><circle cx="661.1" cy="419.6"/><circle cx="661.0" cy="420.6"/><circle cx="661.2" cy="422.4"/><circle cx="660.8" cy="424.2"/><circle cx="660.7" cy="425.5"/><circle cx="661.4" cy="426.2"/><circle cx="660.7" cy="428.2"/><circle cx="661.2" cy="429.1"/></g>
<g fill="#404040"><circle cx="661.5" cy="388.8"/><circle cx="661.4" cy="389.6"/><circle cx="661.9" cy="390.4"/><circle cx="661.5" cy="391.2"/><circle cx="661.7" cy="393.3"/><circle cx="661.6" cy="395.3"/><circle cx="661.6" cy="397.4"/><circle cx="661.6" cy="399.5"/><circle cx="661.5" cy="401.5"/><circle cx="661.8" cy="403.6"/><circle cx="661.8" cy="405.7"/><circle cx="661.8" cy="407.7"/><circle cx="661.7" cy="409.8"/><circle cx="661.9" cy="411.9"/><circle cx="661.7" cy="413.9"/><circle cx="661.6" cy="416.0"/><circle cx="661.7" cy="418.0"/><circle cx="661.8" cy="420.1"/><circle cx="661.5" cy="422.2"/><circle cx="661.5" cy="424.2"/><circle cx="661.8" cy="426.3"/><circle cx="661.7" cy="428.4"/><circle cx="661.5" cy="430.4"/><circle cx="661.5" cy="432.5"/><circle cx="661.8" cy="434.6"/><circle cx="661.8" cy="436.6"/><circle cx="661.6" cy="438.7"/><circle cx="661.7" cy="391.2"/><circle cx="661.4" cy="394.1"/><circle cx="661.9" cy="397.1"/><circle cx="662.1" cy="399.7"/><circle cx="661.5" cy="403.3"/><circle cx="661.6" cy="406.1"/><circle cx="662.2" cy="408.8"/><circle cx="661.5" cy="411.5"/><circle cx="662.0" cy="414.4"/><circle cx="661.6" cy="417.5"/><circle cx="662.0" cy="421.0"/><circle cx="661.5" cy="423.5"/><circle cx="661.3" cy="426.2"/><circle cx="661.9" cy="429.8"/><circle cx="661.3" cy="433.3"/><circle cx="661.7" cy="435.3"/><circle cx="661.9" cy="438.7"/></g>
<g fill="#f0e68c"><circle cx="664.4" cy="422.8"/></g>
<g fill="#008000"><circle cx="664.5" cy="429.8"/><circle cx="664.8" cy="433.7"/></g>
<g fill="#2e004f"><circle cx="666.2" cy="406.0"/><circle cx="665.8" cy="406.8"/><circle cx="666.2" cy="407.6"/><circle cx="666.2" cy="408.4"/><circle cx="665.7" cy="409.8"/><circle cx="665.8" cy="411.1"/><circle cx="665.9" cy="413.1"/><circle cx="666.3" cy="414.3"/><circle cx="665.7" cy="415.5"/><circle cx="666.0" cy="417.3"/><circle cx="665.6" cy="419.1"/><circle cx="666.5" cy="420.3"/><circle cx="666.1" cy="421.0"/><circle cx="666.4" cy="423.1"/><circle cx="666.0" cy="424.8"/><circle cx="666.2" cy="426.0"/><circle cx="666.0" cy="427.8"/><circle cx="665.8" cy="428.7"/><circle cx="666.4" cy="430.7"/><circle cx="665.8" cy="431.6"/><circle cx="666.3" cy="433.6"/><circle cx="665.8" cy="434.6"/></g>
<g fill="#556b2f"><circle cx="669.0" cy="386.3"/><circle cx="668.7" cy="387.1"/><circle cx="669.2" cy="387.9"/><circle cx="668.8" cy="388.7"/><circle cx="669.1" cy="390.7"/><circle cx="668.8" cy="392.7"/><circle cx="668.9" cy="394.8"/><circle cx="668.8" cy="396.8"/><circle cx="669.2" cy="398.8"/><circle cx="669.0" cy="400.8"/><circle cx="669.2" cy="402.9"/><circle cx="668.9" cy="404.9"/><circle cx="668.9" cy="406.9"/><circle cx="668.9" cy="408.9"/><circle cx="668.9" cy="410.9"/><circle cx="668.8" cy="413.0"/><circle cx="669.0" cy="415.0"/><circle cx="668.8" cy="417.0"/><circle cx="669.1" cy="419.0"/><circle cx="669.0" cy="421.0"/><circle cx="668.8" cy="423.1"/><circle cx="669.1" cy="425.1"/><circle cx="669.1" cy="427.1"/><circle cx="669.1" cy="429.1"/><circle cx="668.9" cy="431.2"/><circle cx="669.0" cy="433.2"/><circle cx="668.9" cy="435.2"/><circle cx="668.5" cy="388.7"/><circle cx="668.6" cy="392.0"/><circle cx="668.7" cy="395.1"/><circle cx="668.7" cy="396.9"/><circle cx="668.8" cy="399.8"/><circle cx="669.4" cy="403.6"/><circle cx="669.3" cy="406.1"/><circle cx="668.5" cy="409.2"/><circle cx="669.4" cy="411.6"/><circle cx="669.1" cy="415.4"/><circle cx="669.2" cy="417.8"/><circle cx="669.1" cy="421.0"/><circle cx="669.0" cy="423.6"/><circle cx="668.6" cy="426.3"/><circle cx="669.2" cy="428.9"/><circle cx="668.7" cy="431.7"/><circle cx="669.2" cy="435.2"/></g>
<g fill="#1463b0"><circle cx="670.8" cy="412.3"/><circle cx="671.3" cy="413.1"/><circle cx="671.1" cy="413.9"/><circle cx="671.2" cy="414.7"/><circle cx="670.9" cy="416.0"/><circle cx="671.4" cy="417.5"/><circle cx="671.4" cy="419.2"/><circle cx="671.4" cy="420.7"/><circle cx="670.6" cy="423.5"/><circle cx="670.6" cy="424.6"/><circle cx="670.9" cy="426.5"/><circle cx="670.7" cy="428.1"/><circle cx="671.0" cy="428.9"/><circle cx="670.6" cy="430.7"/><circle cx="671.0" cy="432.7"/><circle cx="670.7" cy="434.3"/></g>
<g fill="#8b4500"><circle cx="674.0" cy="386.8"/><circle cx="674.1" cy="387.6"/><circle cx="673.8" cy="388.4"/><circle cx="673.9" cy="389.2"/><circle cx="674.0" cy="391.3"/><circle cx="673.8" cy="393.3"/><circle cx="673.9" cy="395.4"/><circle cx="673.9" cy="397.4"/><circle cx="673.8" cy="399.5"/><circle cx="674.0" cy="401.5"/><circle cx="674.0" cy="403.6"/><circle cx="673.9" cy="405.6"/><circle cx="674.0" cy="407.7"/><circle cx="673.9" cy="409.7"/><circle cx="674.0" cy="411.8"/><circle cx="674.0" cy="413.8"/><circle cx="673.9" cy="415.9"/><circle cx="674.2" cy="417.9"/><circle cx="674.2" cy="420.0"/><circle cx="674.1" cy="422.0"/><circle cx="673.8" cy="424.1"/><circle cx="673.8" cy="426.1"/><circle cx="673.9" cy="428.2"/><circle cx="674.3" cy="389.2"/><circle cx="674.4" cy="391.9"/><circle cx="674.2" cy="395.1"/><circle cx="673.8" cy="397.9"/><circle cx="674.5" cy="401.3"/><circle cx="674.4" cy="404.6"/><circle cx="673.6" cy="407.3"/><circle cx="673.8" cy="410.7"/><circle cx="673.8" cy="413.2"/><circle cx="673.8" cy="415.6"/><circle cx="673.8" cy="419.5"/><circle cx="674.2" cy="422.2"/><circle cx="674.0" cy="425.2"/><circle cx="674.3" cy="428.2"/></g>
<g fill="#8a2be2"><circle cx="674.9" cy="428.8"/></g>
<g fill="#113320"><circle cx="676.0" cy="408.7"/><circle cx="676.2" cy="409.5"/><circle cx="676.1" cy="410.3"/><circle cx="676.4" cy="411.1"/><circle cx="675.8" cy="412.8"/><circle cx="676.1" cy="414.1"/><circle cx="675.7" cy="416.0"/><circle cx="675.6" cy="417.2"/><circle cx="676.0" cy="419.5"/><circle cx="675.6" cy="421.4"/><circle cx="676.3" cy="422.3"/><circle cx="676.1" cy="424.6"/><circle cx="675.9" cy="426.5"/><circle cx="676.1" cy="427.6"/><circle cx="676.4" cy="428.8"/><circle cx="676.5" cy="430.8"/></g>
<g fill="#e9967a"><circle cx="680.5" cy="383.2"/><circle cx="680.5" cy="384.0"/><circle cx="680.8" cy="384.8"/><circle cx="680.7" cy="385.6"/><circle cx="680.8" cy="387.6"/><circle cx="680.5" cy="389.7"/><circle cx="680.7" cy="391.7"/><circle cx="680.8" cy="393.8"/><circle cx="680.5" cy="395.8"/><circle cx="680.8" cy="397.8"/><circle cx="680.7" cy="399.9"/><circle cx="680.8" cy="401.9"/><circle cx="680.7" cy="404.0"/><circle cx="680.4" cy="406.0"/><circle cx="680.7" cy="408.0"/><circle cx="680.8" cy="410.1"/><circle cx="680.6" cy="412.1"/><circle cx="680.7" cy="414.2"/><circle cx="680.7" cy="416.2"/><circle cx="680.5" cy="385.6"/><circle cx="680.8" cy="388.9"/><circle cx="680.7" cy="391.5"/><circle cx="680.8" cy="394.5"/><circle cx="680.7" cy="398.4"/><circle cx="681.1" cy="400.9"/><circle cx="680.5" cy="403.8"/><circle cx="680.9" cy="406.6"/><circle cx="680.2" cy="410.6"/><circle cx="680.2" cy="413.7"/><circle cx="681.1" cy="416.2"/></g>
<g fill="#8fbc8f"><circle cx="680.9" cy="423.8"/><circle cx="681.0" cy="424.6"/><circle cx="681.1" cy="425.4"/><circle cx="681.1" cy="426.2"/><circle cx="680.8" cy="428.4"/><circle cx="681.2" cy="430.5"/><circle cx="681.1" cy="432.7"/><circle cx="681.2" cy="434.9"/><circle cx="681.0" cy="437.0"/><circle cx="681.1" cy="439.2"/><circle cx="681.4" cy="426.2"/><circle cx="681.1" cy="430.0"/><circle cx="681.1" cy="432.9"/><circle cx="681.0" cy="436.0"/><circle cx="681.3" cy="439.2"/></g>
<g fill="#690069"><circle cx="681.0" cy="415.3"/><circle cx="681.0" cy="416.1"/><circle cx="680.9" cy="416.9"/><circle cx="681.3" cy="417.7"/><circle cx="681.5" cy="419.3"/><circle cx="681.1" cy="420.9"/><circle cx="681.4" cy="422.9"/><circle cx="681.0" cy="424.3"/><circle cx="680.6" cy="425.4"/><circle cx="681.1" cy="428.0"/><circle cx="681.1" cy="429.0"/><circle cx="680.5" cy="430.9"/><circle cx="681.0" cy="432.4"/><circle cx="681.1" cy="434.0"/><circle cx="681.3" cy="435.7"/><circle cx="681.3" cy="437.2"/></g>
<g fill="#3d4d21"><circle cx="685.8" cy="415.8"/><circle cx="686.1" cy="416.6"/><circle cx="685.8" cy="417.4"/><circle cx="686.3" cy="418.2"/><circle cx="685.5" cy="419.4"/><circle cx="686.5" cy="420.9"/><circle cx="686.0" cy="422.2"/><circle cx="685.6" cy="424.2"/><circle cx="685.9" cy="425.2"/><circle cx="685.9" cy="426.6"/><circle cx="685.7" cy="428.2"/><circle cx="686.4" cy="429.5"/><circle cx="686.5" cy="431.4"/><circle cx="686.0" cy="432.9"/><circle cx="685.9" cy="434.5"/><circle cx="686.5" cy="435.1"/><circle cx="686.4" cy="436.9"/><circle cx="686.2" cy="437.7"/><circle cx="685.9" cy="439.2"/><circle cx="685.7" cy="441.4"/><circle cx="685.6" cy="443.2"/><circle cx="686.5" cy="443.5"/><circle cx="686.3" cy="445.3"/><circle cx="685.6" cy="447.0"/></g>
<g fill="#483d8b"><circle cx="687.7" cy="383.8"/><circle cx="687.2" cy="384.6"/><circle cx="687.4" cy="385.4"/><circle cx="687.7" cy="386.2"/><circle cx="687.7" cy="388.4"/><circle cx="687.6" cy="390.6"/><circle cx="687.4" cy="392.8"/><circle cx="687.7" cy="395.0"/><circle cx="687.5" cy="397.2"/><circle cx="687.7" cy="386.2"/><circle cx="687.5" cy="388.6"/><circle cx="687.3" cy="391.1"/><circle cx="687.5" cy="393.9"/><circle cx="688.0" cy="397.2"/></g>
<g fill="#2f4f4f"><circle cx="688.4" cy="404.8"/><circle cx="688.6" cy="405.6"/><circle cx="688.4" cy="406.4"/><circle cx="688.6" cy="407.2"/><circle cx="688.3" cy="409.2"/><circle cx="688.4" cy="411.2"/><circle cx="688.3" cy="413.3"/><circle cx="688.7" cy="415.3"/><circle cx="688.5" cy="417.3"/><circle cx="688.5" cy="419.3"/><circle cx="688.4" cy="421.4"/><circle cx="688.4" cy="423.4"/><circle cx="688.3" cy="425.4"/><circle cx="688.4" cy="427.4"/><circle cx="688.4" cy="429.4"/><circle cx="688.5" cy="431.5"/><circle cx="688.5" cy="433.5"/><circle cx="688.6" cy="435.5"/><circle cx="688.4" cy="437.5"/><circle cx="688.5" cy="439.5"/><circle cx="688.5" cy="441.6"/><circle cx="688.4" cy="443.6"/><circle cx="688.3" cy="445.6"/><circle cx="688.6" cy="447.6"/><circle cx="688.7" cy="449.7"/><circle cx="688.4" cy="451.7"/><circle cx="688.6" cy="453.7"/><circle cx="688.3" cy="407.2"/><circle cx="688.3" cy="409.7"/><circle cx="688.9" cy="413.2"/><circle cx="688.4" cy="416.1"/><circle cx="688.8" cy="419.2"/><circle cx="688.8" cy="421.6"/><circle cx="688.1" cy="425.2"/><circle cx="688.7" cy="427.1"/><circle cx="688.4" cy="430.1"/><circle cx="688.2" cy="432.8"/><circle cx="688.4" cy="436.2"/><circle cx="688.0" cy="439.2"/><circle cx="688.4" cy="441.9"/><circle cx="688.5" cy="444.5"/><circle cx="688.9" cy="447.6"/><circle cx="688.9" cy="450.7"/><circle cx="688.7" cy="453.7"/></g>
<g fill="#008080"><circle cx="691.5" cy="438.8"/><circle cx="691.7" cy="439.6"/><circle cx="691.5" cy="440.4"/><circle cx="691.6" cy="441.2"/><circle cx="691.4" cy="443.2"/><circle cx="691.6" cy="445.2"/><circle cx="691.3" cy="447.2"/><circle cx="691.3" cy="449.2"/><circle cx="691.6" cy="451.2"/><circle cx="691.6" cy="441.2"/><circle cx="691.6" cy="445.0"/><circle cx="691.4" cy="448.0"/><circle cx="691.1" cy="451.2"/></g>
<g fill="#9400d3"><circle cx="692.4" cy="451.3"/><circle cx="692.5" cy="453.8"/><circle cx="692.3" cy="456.2"/><circle cx="692.6" cy="458.7"/><circle cx="692.5" cy="451.3"/><circle cx="692.9" cy="455.5"/><circle cx="692.1" cy="458.7"/></g>
<g fill="#00ced1"><circle cx="692.4" cy="462.8"/></g>
<g fill="#7b68ee"><circle cx="132.4" cy="348.8"/><circle cx="132.5" cy="349.6"/><circle cx="132.5" cy="350.4"/><circle cx="132.3" cy="351.2"/><circle cx="132.5" cy="353.2"/><circle cx="132.5" cy="355.3"/><circle cx="132.6" cy="357.3"/><circle cx="132.5" cy="359.3"/><circle cx="132.5" cy="361.4"/><circle cx="132.6" cy="363.4"/><circle cx="132.5" cy="365.5"/><circle cx="132.7" cy="367.5"/><circle cx="132.4" cy="369.5"/><circle cx="132.4" cy="371.6"/><circle cx="132.6" cy="373.6"/><circle cx="132.7" cy="375.6"/><circle cx="132.5" cy="377.7"/><circle cx="132.4" cy="379.7"/><circle cx="132.5" cy="381.8"/><circle cx="132.6" cy="383.8"/><circle cx="132.7" cy="385.8"/><circle cx="132.5" cy="387.9"/><circle cx="132.5" cy="389.9"/><circle cx="132.6" cy="391.9"/><circle cx="132.5" cy="394.0"/><circle cx="132.4" cy="396.0"/><circle cx="132.7" cy="398.1"/><circle cx="132.6" cy="400.1"/><circle cx="132.4" cy="402.1"/><circle cx="132.7" cy="404.2"/><circle cx="132.6" cy="406.2"/><circle cx="132.4" cy="351.2"/><circle cx="132.9" cy="354.0"/><circle cx="132.2" cy="357.4"/><circle cx="132.1" cy="360.1"/><circle cx="132.0" cy="363.4"/><circle cx="132.9" cy="366.3"/><circle cx="132.6" cy="370.0"/><circle cx="132.5" cy="372.3"/><circle cx="132.8" cy="375.3"/><circle cx="132.5" cy="378.9"/><circle cx="132.7" cy="382.3"/><circle cx="132.5" cy="385.2"/><circle cx="132.3" cy="388.2"/><circle cx="132.9" cy="391.3"/><circle cx="132.7" cy="393.4"/><circle cx="132.4" cy="397.0"/><circle cx="132.2" cy="400.2"/><circle cx="132.5" cy="402.6"/><circle cx="132.5" cy="406.2"/></g>
<g fill="#4682b4"><circle cx="144.4" cy="230.8"/><circle cx="144.5" cy="231.6"/><circle cx="144.6" cy="232.4"/><circle cx="144.4" cy="233.2"/><circle cx="144.5" cy="235.3"/><circle cx="144.5" cy="237.3"/><circle cx="144.4" cy="239.4"/><circle cx="144.5" cy="241.5"/><circle cx="144.6" cy="243.5"/><circle cx="144.5" cy="245.6"/><circle cx="144.3" cy="247.6"/><circle cx="144.6" cy="249.7"/><circle cx="144.3" cy="251.8"/><circle cx="144.5" cy="253.8"/><circle cx="144.6" cy="255.9"/><circle cx="144.4" cy="257.9"/><circle cx="144.6" cy="260.0"/><circle cx="144.5" cy="262.1"/><circle cx="144.5" cy="264.1"/><circle cx="144.4" cy="266.2"/><circle cx="144.7" cy="233.2"/><circle cx="144.2" cy="236.3"/><circle cx="144.8" cy="238.9"/><circle cx="144.9" cy="241.8"/><circle cx="144.0" cy="244.7"/><circle cx="144.2" cy="248.2"/><circle cx="144.4" cy="251.0"/><circle cx="144.2" cy="254.4"/><circle cx="144.6" cy="257.7"/><circle cx="144.8" cy="260.0"/><circle cx="144.3" cy="263.6"/><circle cx="144.3" cy="266.2"/></g>
<g fill="#d8bfd8"><circle cx="147.4" cy="327.8"/><circle cx="147.5" cy="328.6"/><circle cx="147.5" cy="329.4"/><circle cx="147.5" cy="330.2"/><circle cx="147.5" cy="332.2"/><circle cx="147.6" cy="334.2"/><circle cx="147.7" cy="336.2"/><circle cx="147.5" cy="338.2"/><circle cx="147.4" cy="340.2"/><circle cx="147.3" cy="342.2"/><circle cx="147.5" cy="344.2"/><circle cx="147.5" cy="346.2"/><circle cx="147.4" cy="348.2"/><circle cx="147.6" cy="350.2"/><circle cx="147.3" cy="352.2"/><circle cx="147.7" cy="354.2"/><circle cx="147.4" cy="356.2"/><circle cx="147.3" cy="358.2"/><circle cx="147.6" cy="360.2"/><circle cx="147.3" cy="362.2"/><circle cx="147.3" cy="364.2"/><circle cx="147.4" cy="366.2"/><circle cx="147.5" cy="368.2"/><circle cx="147.5" cy="370.2"/><circle cx="147.5" cy="372.2"/><circle cx="147.7" cy="330.2"/><circle cx="147.8" cy="333.2"/><circle cx="147.1" cy="336.4"/><circle cx="147.8" cy="339.4"/><circle cx="147.9" cy="341.9"/><circle cx="148.0" cy="345.4"/><circle cx="147.5" cy="348.1"/><circle cx="147.8" cy="351.0"/><circle cx="147.4" cy="354.1"/><circle cx="147.5" cy="357.4"/><circle cx="147.3" cy="359.9"/><circle cx="147.9" cy="362.7"/><circle cx="147.4" cy="366.6"/><circle cx="147.6" cy="369.8"/><circle cx="147.8" cy="372.2"/></g>
<g fill="#66cdaa"><circle cx="163.8" cy="235.8"/><circle cx="163.5" cy="236.6"/><circle cx="163.5" cy="237.4"/><circle cx="163.7" cy="238.2"/><circle cx="163.6" cy="240.3"/><circle cx="163.5" cy="242.3"/><circle cx="163.7" cy="244.4"/><circle cx="163.7" cy="246.5"/><circle cx="163.4" cy="248.5"/><circle cx="163.6" cy="250.6"/><circle cx="163.6" cy="252.6"/><circle cx="163.6" cy="254.7"/><circle cx="163.4" cy="256.8"/><circle cx="163.5" cy="258.8"/><circle cx="163.4" cy="260.9"/><circle cx="163.4" cy="262.9"/><circle cx="163.3" cy="265.0"/><circle cx="163.6" cy="267.1"/><circle cx="163.3" cy="269.1"/><circle cx="163.4" cy="271.2"/><circle cx="163.5" cy="273.3"/><circle cx="163.3" cy="275.3"/><circle cx="163.3" cy="277.4"/><circle cx="163.3" cy="279.4"/><circle cx="163.6" cy="281.5"/><circle cx="163.4" cy="283.6"/><circle cx="163.6" cy="285.6"/><circle cx="163.6" cy="287.7"/><circle cx="163.6" cy="289.8"/><circle cx="163.5" cy="291.8"/><circle cx="163.7" cy="293.9"/><circle cx="163.3" cy="295.9"/><circle cx="163.5" cy="298.0"/><circle cx="163.4" cy="300.1"/><circle cx="163.4" cy="302.1"/><circle cx="163.3" cy="304.2"/><circle cx="163.2" cy="238.2"/><circle cx="163.1" cy="240.9"/><circle cx="163.8" cy="244.3"/><circle cx="163.1" cy="247.1"/><circle cx="163.8" cy="249.9"/><circle cx="163.3" cy="253.0"/><circle cx="163.6" cy="256.4"/><circle cx="163.9" cy="258.7"/><circle cx="163.5" cy="262.3"/><circle cx="163.9" cy="264.9"/><circle cx="163.4" cy="268.2"/><circle cx="163.2" cy="271.8"/><circle cx="163.1" cy="273.9"/><circle cx="163.7" cy="276.9"/><circle cx="163.9" cy="280.5"/><circle cx="163.7" cy="283.6"/><circle cx="163.1" cy="286.6"/><circle cx="163.5" cy="289.2"/><circle cx="163.2" cy="292.4"/><circle cx="163.8" cy="295.3"/><circle cx="163.4" cy="297.8"/><circle cx="164.0" cy="301.6"/><circle cx="163.7" cy="304.2"/></g>
<g fill="#f0ffff"><circle cx="165.4" cy="146.8"/><circle cx="165.5" cy="147.6"/><circle cx="165.7" cy="148.4"/><circle cx="165.6" cy="149.2"/><circle cx="165.3" cy="151.3"/><circle cx="165.4" cy="153.3"/><circle cx="165.7" cy="155.4"/><circle cx="165.5" cy="157.4"/><circle cx="165.5" cy="159.5"/><circle cx="165.6" cy="161.5"/><circle cx="165.5" cy="163.6"/><circle cx="165.6" cy="165.6"/><circle cx="165.6" cy="167.7"/><circle cx="165.6" cy="169.7"/><circle cx="165.3" cy="171.8"/><circle cx="165.5" cy="173.8"/><circle cx="165.4" cy="175.9"/><circle cx="165.4" cy="177.9"/><circle cx="165.4" cy="180.0"/><circle cx="165.6" cy="182.0"/><circle cx="165.4" cy="184.1"/><circle cx="165.6" cy="186.1"/><circle cx="165.5" cy="188.2"/><circle cx="165.7" cy="190.2"/><circle cx="165.4" cy="192.3"/><circle cx="165.5" cy="194.3"/><circle cx="165.7" cy="196.4"/><circle cx="165.3" cy="198.4"/><circle cx="165.4" cy="200.5"/><circle cx="165.3" cy="202.5"/><circle cx="165.5" cy="204.6"/><circle cx="165.5" cy="206.6"/><circle cx="165.3" cy="208.7"/><circle cx="165.7" cy="210.7"/><circle cx="165.6" cy="212.8"/><circle cx="165.6" cy="214.8"/><circle cx="165.4" cy="216.9"/><circle cx="165.6" cy="218.9"/><circle cx="165.4" cy="221.0"/><circle cx="165.4" cy="223.0"/><circle cx="165.6" cy="225.1"/><circle cx="165.6" cy="227.1"/><circle cx="165.4" cy="229.2"/><circle cx="165.6" cy="149.2"/><circle cx="165.2" cy="155.6"/><circle cx="165.5" cy="161.5"/><circle cx="165.7" cy="168.2"/><circle cx="165.2" cy="173.7"/><circle cx="165.9" cy="180.2"/><circle cx="165.9" cy="186.4"/><circle cx="165.5" cy="191.9"/><circle cx="165.3" cy="198.9"/><circle cx="165.7" cy="205.1"/><circle cx="165.6" cy="211.1"/><circle cx="165.8" cy="217.3"/><circle cx="165.3" cy="222.8"/><circle cx="165.0" cy="229.2"/></g>
<g fill="#2a2a1a"><circle cx="165.5" cy="303.8"/><circle cx="165.2" cy="304.6"/><circle cx="165.5" cy="305.4"/><circle cx="165.6" cy="306.2"/><circle cx="165.6" cy="308.2"/><circle cx="165.5" cy="310.2"/><circle cx="165.3" cy="312.2"/><circle cx="165.6" cy="314.2"/><circle cx="165.5" cy="316.2"/><circle cx="165.7" cy="318.2"/><circle cx="165.5" cy="320.2"/><circle cx="165.5" cy="322.2"/><circle cx="165.4" cy="324.2"/><circle cx="165.5" cy="326.2"/><circle cx="165.6" cy="328.2"/><circle cx="165.6" cy="330.2"/><circle cx="165.4" cy="332.2"/><circle cx="165.6" cy="334.2"/><circle cx="165.6" cy="336.2"/><circle cx="165.3" cy="338.2"/><circle cx="165.6" cy="340.2"/><circle cx="165.7" cy="342.2"/><circle cx="165.4" cy="344.2"/><circle cx="165.4" cy="346.2"/><circle cx="165.5" cy="306.2"/><circle cx="165.4" cy="309.7"/><circle cx="165.1" cy="311.9"/><circle cx="165.1" cy="315.4"/><circle cx="165.2" cy="318.6"/><circle cx="165.5" cy="321.2"/><circle cx="165.6" cy="324.3"/><circle cx="165.3" cy="328.1"/><circle cx="165.6" cy="330.8"/><circle cx="165.4" cy="334.1"/><circle cx="165.6" cy="337.5"/><circle cx="165.3" cy="339.6"/><circle cx="165.7" cy="342.7"/><circle cx="165.3" cy="346.2"/></g>
<g fill="#f5deb3"><circle cx="167.3" cy="351.8"/><circle cx="167.5" cy="352.6"/><circle cx="167.4" cy="353.4"/><circle cx="167.4" cy="354.2"/><circle cx="167.4" cy="356.3"/><circle cx="167.4" cy="358.3"/><circle cx="167.4" cy="360.4"/><circle cx="167.5" cy="362.5"/><circle cx="167.7" cy="364.5"/><circle cx="167.6" cy="366.6"/><circle cx="167.7" cy="368.7"/><circle cx="167.5" cy="370.7"/><circle cx="167.4" cy="372.8"/><circle cx="167.5" cy="374.9"/><circle cx="167.4" cy="376.9"/><circle cx="167.5" cy="379.0"/><circle cx="167.4" cy="381.1"/><circle cx="167.3" cy="383.1"/><circle cx="167.4" cy="385.2"/><circle cx="167.3" cy="354.2"/><circle cx="167.3" cy="356.8"/><circle cx="167.9" cy="360.8"/><circle cx="167.3" cy="364.0"/><circle cx="168.0" cy="366.5"/><circle cx="167.8" cy="370.0"/><circle cx="167.3" cy="372.5"/><circle cx="167.2" cy="375.4"/><circle cx="167.1" cy="379.1"/><circle cx="167.5" cy="382.5"/><circle cx="167.8" cy="385.2"/></g>
<g fill="#ff7f50"><circle cx="178.2" cy="242.8"/><circle cx="178.4" cy="243.6"/><circle cx="178.4" cy="244.4"/><circle cx="178.5" cy="245.2"/><circle cx="178.5" cy="247.2"/><circle cx="178.5" cy="249.3"/><circle cx="178.6" cy="251.3"/><circle cx="178.3" cy="253.4"/><circle cx="178.7" cy="255.4"/><circle cx="178.4" cy="257.4"/><circle cx="178.6" cy="259.5"/><circle cx="178.5" cy="261.5"/><circle cx="178.4" cy="263.6"/><circle cx="178.4" cy="265.6"/><circle cx="178.3" cy="267.7"/><circle cx="178.5" cy="269.7"/><circle cx="178.5" cy="271.7"/><circle cx="178.4" cy="273.8"/><circle cx="178.7" cy="275.8"/><circle cx="178.7" cy="277.9"/><circle cx="178.5" cy="279.9"/><circle cx="178.7" cy="281.9"/><circle cx="178.7" cy="284.0"/><circle cx="178.3" cy="286.0"/><circle cx="178.4" cy="288.1"/><circle cx="178.6" cy="290.1"/><circle cx="178.5" cy="292.2"/><circle cx="178.5" cy="294.2"/><circle cx="178.5" cy="245.2"/><circle cx="178.0" cy="248.4"/><circle cx="178.7" cy="251.1"/><circle cx="178.5" cy="254.6"/><circle cx="178.9" cy="257.2"/><circle cx="178.4" cy="260.9"/><circle cx="178.7" cy="263.0"/><circle cx="178.3" cy="266.7"/><circle cx="178.8" cy="269.4"/><circle cx="178.3" cy="272.5"/><circle cx="178.4" cy="275.7"/><circle cx="178.5" cy="278.7"/><circle cx="178.3" cy="281.8"/><circle cx="178.5" cy="285.0"/><circle cx="178.5" cy="288.0"/><circle cx="178.0" cy="291.0"/><circle cx="178.4" cy="294.2"/></g>
<g fill="#00e5ee"><circle cx="185.1" cy="327.8"/><circle cx="185.0" cy="328.6"/><circle cx="184.9" cy="329.4"/><circle cx="185.2" cy="330.2"/><circle cx="184.9" cy="332.2"/><circle cx="185.1" cy="334.2"/><circle cx="184.8" cy="336.2"/><circle cx="185.1" cy="338.2"/><circle cx="185.0" cy="340.2"/><circle cx="185.0" cy="342.2"/><circle cx="185.0" cy="344.2"/><circle cx="184.9" cy="346.2"/><circle cx="184.9" cy="348.2"/><circle cx="184.9" cy="350.2"/><circle cx="184.8" cy="352.2"/><circle cx="185.0" cy="354.2"/><circle cx="185.1" cy="330.2"/><circle cx="185.3" cy="333.3"/><circle cx="184.7" cy="335.7"/><circle cx="184.8" cy="339.1"/><circle cx="185.1" cy="342.2"/><circle cx="184.9" cy="345.6"/><circle cx="184.8" cy="347.7"/><circle cx="185.3" cy="350.7"/><circle cx="185.1" cy="354.2"/></g>
<g fill="#cccc00"><circle cx="189.2" cy="251.8"/><circle cx="188.8" cy="252.6"/><circle cx="188.9" cy="253.4"/><circle cx="188.9" cy="254.2"/><circle cx="189.2" cy="256.3"/><circle cx="189.1" cy="258.4"/><circle cx="189.0" cy="260.5"/><circle cx="189.1" cy="262.6"/><circle cx="189.0" cy="264.7"/><circle cx="189.1" cy="266.7"/><circle cx="189.2" cy="268.8"/><circle cx="189.1" cy="270.9"/><circle cx="189.0" cy="273.0"/><circle cx="188.8" cy="275.1"/><circle cx="188.9" cy="277.2"/><circle cx="189.1" cy="279.3"/><circle cx="189.2" cy="281.4"/><circle cx="189.2" cy="283.5"/><circle cx="189.1" cy="285.6"/><circle cx="189.1" cy="287.7"/><circle cx="188.9" cy="289.7"/><circle cx="188.9" cy="291.8"/><circle cx="189.1" cy="293.9"/><circle cx="188.9" cy="296.0"/><circle cx="188.9" cy="298.1"/><circle cx="189.0" cy="300.2"/><circle cx="188.6" cy="254.2"/><circle cx="189.3" cy="257.3"/><circle cx="189.5" cy="260.8"/><circle cx="189.3" cy="263.3"/><circle cx="189.2" cy="266.8"/><circle cx="188.7" cy="270.1"/><circle cx="188.8" cy="272.8"/><circle cx="188.7" cy="276.0"/><circle cx="188.5" cy="279.2"/><circle cx="188.8" cy="281.8"/><circle cx="189.2" cy="285.2"/><circle cx="188.8" cy="288.2"/><circle cx="189.2" cy="290.5"/><circle cx="188.7" cy="294.0"/><circle cx="189.2" cy="296.7"/><circle cx="188.6" cy="300.2"/></g>
<g fill="#deb887"><circle cx="203.1" cy="361.8"/><circle cx="203.3" cy="362.6"/><circle cx="203.1" cy="363.4"/><circle cx="202.9" cy="364.2"/><circle cx="202.8" cy="366.2"/><circle cx="203.1" cy="368.2"/><circle cx="203.0" cy="370.2"/><circle cx="202.8" cy="372.2"/><circle cx="202.9" cy="374.2"/><circle cx="203.2" cy="376.2"/><circle cx="203.4" cy="364.2"/><circle cx="202.9" cy="367.4"/><circle cx="203.2" cy="370.3"/><circle cx="203.2" cy="373.2"/><circle cx="202.8" cy="376.2"/></g>
<g fill="#deb887"><circle cx="203.7" cy="270.8"/><circle cx="203.8" cy="271.6"/><circle cx="203.9" cy="272.4"/><circle cx="204.0" cy="273.2"/><circle cx="203.8" cy="275.2"/><circle cx="204.2" cy="277.3"/><circle cx="203.9" cy="279.3"/><circle cx="203.8" cy="281.3"/><circle cx="203.8" cy="283.3"/><circle cx="204.0" cy="285.4"/><circle cx="203.9" cy="287.4"/><circle cx="204.1" cy="289.4"/><circle cx="204.1" cy="291.4"/><circle cx="204.0" cy="293.5"/><circle cx="204.1" cy="295.5"/><circle cx="204.0" cy="297.5"/><circle cx="203.8" cy="299.5"/><circle cx="203.8" cy="301.6"/><circle cx="204.1" cy="303.6"/><circle cx="203.8" cy="305.6"/><circle cx="204.2" cy="307.6"/><circle cx="204.2" cy="309.7"/><circle cx="204.2" cy="311.7"/><circle cx="203.8" cy="313.7"/><circle cx="204.2" cy="315.8"/><circle cx="204.0" cy="317.8"/><circle cx="203.9" cy="319.8"/><circle cx="204.1" cy="321.8"/><circle cx="204.0" cy="323.9"/><circle cx="204.1" cy="325.9"/><circle cx="204.1" cy="327.9"/><circle cx="203.9" cy="329.9"/><circle cx="204.0" cy="332.0"/><circle cx="204.1" cy="334.0"/><circle cx="203.8" cy="336.0"/><circle cx="204.0" cy="338.0"/><circle cx="203.8" cy="340.1"/><circle cx="204.1" cy="342.1"/><circle cx="204.0" cy="344.1"/><circle cx="203.8" cy="346.1"/><circle cx="204.2" cy="348.2"/><circle cx="203.9" cy="350.2"/><circle cx="203.8" cy="273.2"/><circle cx="203.7" cy="276.2"/><circle cx="204.3" cy="278.9"/><circle cx="203.9" cy="282.0"/><circle cx="203.6" cy="285.4"/><circle cx="203.7" cy="288.3"/><circle cx="203.7" cy="290.6"/><circle cx="204.2" cy="294.0"/><circle cx="204.5" cy="296.3"/><circle cx="204.2" cy="299.9"/><circle cx="203.8" cy="303.4"/><circle cx="204.2" cy="305.6"/><circle cx="204.2" cy="309.2"/><circle cx="204.4" cy="311.2"/><circle cx="204.3" cy="315.1"/><circle cx="203.5" cy="317.9"/><circle cx="204.0" cy="320.2"/><circle cx="203.9" cy="323.4"/><circle cx="203.7" cy="326.5"/><circle cx="203.9" cy="329.2"/><circle cx="204.5" cy="332.1"/><circle cx="204.5" cy="335.4"/><circle cx="203.9" cy="338.8"/><circle cx="204.3" cy="340.8"/><circle cx="204.2" cy="344.1"/><circle cx="204.2" cy="347.3"/><circle cx="204.4" cy="350.2"/></g>
<g fill="#2a4a10"><circle cx="203.9" cy="383.8"/><circle cx="204.0" cy="386.0"/><circle cx="204.1" cy="388.2"/><circle cx="203.9" cy="383.8"/><circle cx="203.8" cy="388.2"/></g>
<g fill="#7cfc00"><circle cx="204.2" cy="395.8"/><circle cx="203.8" cy="396.6"/><circle cx="203.8" cy="397.4"/><circle cx="203.9" cy="398.2"/><circle cx="204.0" cy="400.3"/><circle cx="203.8" cy="402.4"/><circle cx="204.1" cy="404.5"/><circle cx="203.9" cy="406.6"/><circle cx="204.2" cy="408.7"/><circle cx="204.2" cy="410.8"/><circle cx="204.0" cy="413.0"/><circle cx="204.1" cy="415.1"/><circle cx="204.1" cy="417.2"/><circle cx="204.0" cy="419.3"/><circle cx="203.8" cy="421.4"/><circle cx="204.2" cy="423.5"/><circle cx="203.9" cy="425.6"/><circle cx="203.6" cy="398.2"/><circle cx="203.6" cy="401.2"/><circle cx="204.2" cy="404.6"/><circle cx="203.7" cy="407.2"/><circle cx="204.1" cy="410.8"/><circle cx="203.7" cy="413.8"/><circle cx="203.6" cy="416.1"/><circle cx="203.7" cy="419.7"/><circle cx="204.3" cy="422.2"/><circle cx="203.8" cy="425.6"/></g>
<g fill="#ba55d3"><circle cx="210.8" cy="360.8"/></g>
<g fill="#9370db"><circle cx="211.8" cy="333.8"/><circle cx="211.8" cy="334.6"/><circle cx="211.7" cy="335.4"/><circle cx="211.5" cy="336.2"/><circle cx="211.6" cy="338.2"/><circle cx="211.5" cy="340.2"/><circle cx="211.4" cy="342.2"/><circle cx="211.4" cy="344.2"/><circle cx="211.4" cy="346.2"/><circle cx="211.5" cy="348.2"/><circle cx="211.6" cy="350.2"/><circle cx="211.5" cy="352.2"/><circle cx="211.4" cy="354.2"/><circle cx="211.5" cy="336.2"/><circle cx="211.8" cy="338.6"/><circle cx="211.9" cy="342.8"/><circle cx="211.8" cy="344.6"/><circle cx="211.6" cy="348.6"/><circle cx="211.8" cy="351.2"/><circle cx="211.6" cy="354.2"/></g>
<g fill="#c71585"><circle cx="221.5" cy="261.8"/><circle cx="221.7" cy="262.6"/><circle cx="221.6" cy="263.4"/><circle cx="221.5" cy="264.2"/><circle cx="221.3" cy="266.2"/><circle cx="221.6" cy="268.3"/><circle cx="221.3" cy="270.3"/><circle cx="221.3" cy="272.3"/><circle cx="221.4" cy="274.3"/><circle cx="221.5" cy="276.4"/><circle cx="221.5" cy="278.4"/><circle cx="221.7" cy="280.4"/><circle cx="221.7" cy="282.4"/><circle cx="221.6" cy="284.5"/><circle cx="221.5" cy="286.5"/><circle cx="221.7" cy="288.5"/><circle cx="221.6" cy="290.5"/><circle cx="221.3" cy="292.6"/><circle cx="221.5" cy="294.6"/><circle cx="221.7" cy="296.6"/><circle cx="221.3" cy="298.6"/><circle cx="221.4" cy="300.7"/><circle cx="221.5" cy="302.7"/><circle cx="221.7" cy="304.7"/><circle cx="221.3" cy="306.8"/><circle cx="221.6" cy="308.8"/><circle cx="221.5" cy="310.8"/><circle cx="221.7" cy="312.8"/><circle cx="221.3" cy="314.9"/><circle cx="221.5" cy="316.9"/><circle cx="221.4" cy="318.9"/><circle cx="221.4" cy="320.9"/><circle cx="221.5" cy="323.0"/><circle cx="221.5" cy="325.0"/><circle cx="221.4" cy="327.0"/><circle cx="221.6" cy="329.0"/><circle cx="221.3" cy="331.1"/><circle cx="221.3" cy="333.1"/><circle cx="221.5" cy="335.1"/><circle cx="221.4" cy="337.1"/><circle cx="221.6" cy="339.2"/><circle cx="221.7" cy="341.2"/><circle cx="221.6" cy="264.2"/><circle cx="221.7" cy="266.6"/><circle cx="221.6" cy="270.6"/><circle cx="221.8" cy="273.4"/><circle cx="221.6" cy="276.1"/><circle cx="221.7" cy="279.0"/><circle cx="221.9" cy="282.4"/><circle cx="221.1" cy="285.3"/><circle cx="221.8" cy="288.0"/><circle cx="221.7" cy="291.0"/><circle cx="221.0" cy="293.5"/><circle cx="221.1" cy="296.4"/><circle cx="221.4" cy="299.6"/><circle cx="221.8" cy="302.5"/><circle cx="221.9" cy="305.4"/><circle cx="221.4" cy="308.3"/><circle cx="221.8" cy="311.3"/><circle cx="221.5" cy="315.1"/><circle cx="221.9" cy="317.7"/><circle cx="222.0" cy="320.5"/><circle cx="221.6" cy="324.0"/><circle cx="221.9" cy="326.1"/><circle cx="221.3" cy="329.8"/><circle cx="221.0" cy="332.1"/><circle cx="221.6" cy="335.6"/><circle cx="221.5" cy="338.7"/><circle cx="221.4" cy="341.2"/></g>
<g fill="#ffa500"><circle cx="236.1" cy="282.8"/><circle cx="236.2" cy="283.6"/><circle cx="235.9" cy="284.4"/><circle cx="236.0" cy="285.2"/><circle cx="235.8" cy="287.3"/><circle cx="235.9" cy="289.3"/><circle cx="236.2" cy="291.4"/><circle cx="236.2" cy="293.4"/><circle cx="235.9" cy="295.5"/><circle cx="235.9" cy="297.6"/><circle cx="235.9" cy="299.6"/><circle cx="235.9" cy="301.7"/><circle cx="236.0" cy="303.7"/><circle cx="236.1" cy="305.8"/><circle cx="236.1" cy="307.8"/><circle cx="236.2" cy="309.9"/><circle cx="236.0" cy="312.0"/><circle cx="235.9" cy="314.0"/><circle cx="236.1" cy="316.1"/><circle cx="235.9" cy="318.1"/><circle cx="235.9" cy="320.2"/><circle cx="236.3" cy="285.2"/><circle cx="235.8" cy="288.3"/><circle cx="235.7" cy="290.7"/><circle cx="235.9" cy="293.9"/><circle cx="236.4" cy="297.2"/><circle cx="236.1" cy="299.9"/><circle cx="236.2" cy="302.7"/><circle cx="236.1" cy="306.2"/><circle cx="236.4" cy="308.3"/><circle cx="235.7" cy="311.1"/><circle cx="236.5" cy="314.1"/><circle cx="235.6" cy="317.5"/><circle cx="236.3" cy="320.2"/></g>
<g fill="#ff4500"><circle cx="242.2" cy="361.8"/><circle cx="242.5" cy="362.6"/><circle cx="242.6" cy="363.4"/><circle cx="242.4" cy="364.2"/><circle cx="242.2" cy="366.2"/><circle cx="242.3" cy="368.3"/><circle cx="242.1" cy="370.3"/><circle cx="242.4" cy="372.3"/><circle cx="242.4" cy="374.3"/><circle cx="242.1" cy="376.4"/><circle cx="242.4" cy="378.4"/><circle cx="242.3" cy="380.4"/><circle cx="242.4" cy="382.4"/><circle cx="242.4" cy="384.5"/><circle cx="242.3" cy="386.5"/><circle cx="242.4" cy="388.5"/><circle cx="242.5" cy="390.6"/><circle cx="242.3" cy="392.6"/><circle cx="242.5" cy="394.6"/><circle cx="242.4" cy="396.6"/><circle cx="242.3" cy="398.7"/><circle cx="242.5" cy="400.7"/><circle cx="242.5" cy="402.7"/><circle cx="242.1" cy="404.8"/><circle cx="242.4" cy="406.8"/><circle cx="242.5" cy="408.8"/><circle cx="242.2" cy="410.8"/><circle cx="242.2" cy="412.9"/><circle cx="242.2" cy="414.9"/><circle cx="242.4" cy="416.9"/><circle cx="242.2" cy="418.9"/><circle cx="242.2" cy="421.0"/><circle cx="242.4" cy="423.0"/><circle cx="242.2" cy="425.0"/><circle cx="242.1" cy="427.1"/><circle cx="242.3" cy="429.1"/><circle cx="242.4" cy="431.1"/><circle cx="242.2" cy="433.1"/><circle cx="242.5" cy="435.2"/><circle cx="242.4" cy="437.2"/><circle cx="242.7" cy="364.2"/><circle cx="242.0" cy="367.4"/><circle cx="242.8" cy="370.8"/><circle cx="242.0" cy="373.8"/><circle cx="242.3" cy="376.7"/><circle cx="242.3" cy="379.4"/><circle cx="242.0" cy="382.7"/><circle cx="242.3" cy="385.6"/><circle cx="242.4" cy="388.9"/><circle cx="242.2" cy="391.2"/><circle cx="242.4" cy="394.2"/><circle cx="242.5" cy="397.6"/><circle cx="242.0" cy="401.1"/><circle cx="242.6" cy="404.0"/><circle cx="242.1" cy="406.6"/><circle cx="242.6" cy="409.8"/><circle cx="242.6" cy="412.6"/><circle cx="242.3" cy="415.3"/><circle cx="242.0" cy="418.7"/><circle cx="242.6" cy="421.4"/><circle cx="242.1" cy="424.8"/><circle cx="242.4" cy="428.5"/><circle cx="242.0" cy="430.9"/><circle cx="242.4" cy="434.4"/><circle cx="241.8" cy="437.2"/></g>
<g fill="#ee82ee"><circle cx="242.2" cy="406.8"/><circle cx="242.5" cy="408.2"/></g>
<g fill="#fa8072"><circle cx="272.2" cy="203.8"/><circle cx="272.8" cy="204.6"/><circle cx="272.4" cy="205.4"/><circle cx="272.5" cy="206.2"/><circle cx="272.5" cy="208.2"/><circle cx="272.5" cy="210.3"/><circle cx="272.6" cy="212.3"/><circle cx="272.6" cy="214.4"/><circle cx="272.5" cy="216.4"/><circle cx="272.4" cy="218.5"/><circle cx="272.6" cy="220.5"/><circle cx="272.5" cy="222.6"/><circle cx="272.6" cy="224.6"/><circle cx="272.6" cy="226.7"/><circle cx="272.4" cy="228.7"/><circle cx="272.3" cy="230.8"/><circle cx="272.3" cy="232.8"/><circle cx="272.5" cy="234.9"/><circle cx="272.6" cy="236.9"/><circle cx="272.6" cy="239.0"/><circle cx="272.7" cy="241.0"/><circle cx="272.3" cy="243.1"/><circle cx="272.6" cy="245.1"/><circle cx="272.5" cy="247.2"/><circle cx="272.3" cy="249.2"/><circle cx="272.6" cy="251.2"/><circle cx="272.5" cy="253.3"/><circle cx="272.6" cy="255.3"/><circle cx="272.5" cy="257.4"/><circle cx="272.5" cy="259.4"/><circle cx="272.6" cy="261.5"/><circle cx="272.5" cy="263.5"/><circle cx="272.4" cy="265.6"/><circle cx="272.6" cy="267.6"/><circle cx="272.6" cy="269.7"/><circle cx="272.4" cy="271.7"/><circle cx="272.5" cy="273.8"/><circle cx="272.4" cy="275.8"/><circle cx="272.7" cy="277.9"/><circle cx="272.6" cy="279.9"/><circle cx="272.5" cy="282.0"/><circle cx="272.4" cy="284.0"/><circle cx="272.5" cy="286.1"/><circle cx="272.6" cy="288.1"/><circle cx="272.5" cy="290.2"/><circle cx="272.5" cy="292.2"/><circle cx="272.7" cy="206.2"/><circle cx="272.5" cy="211.3"/><circle cx="272.8" cy="215.7"/><circle cx="272.4" cy="219.8"/><circle cx="272.7" cy="224.7"/><circle cx="272.9" cy="229.1"/><circle cx="272.1" cy="233.2"/><circle cx="272.2" cy="238.0"/><circle cx="272.4" cy="242.6"/><circle cx="272.6" cy="247.0"/><circle cx="272.2" cy="250.9"/><circle cx="272.6" cy="255.4"/><circle cx="272.8" cy="260.6"/><circle cx="272.9" cy="265.1"/><circle cx="272.4" cy="269.0"/><circle cx="272.3" cy="274.6"/><circle cx="272.9" cy="278.2"/><circle cx="272.1" cy="283.2"/><circle cx="272.1" cy="287.1"/><circle cx="272.2" cy="292.2"/></g>
<g fill="#ff69b4"><circle cx="338.8" cy="286.3"/><circle cx="339.3" cy="287.1"/><circle cx="339.3" cy="287.9"/><circle cx="338.9" cy="288.7"/><circle cx="339.0" cy="290.7"/><circle cx="339.2" cy="292.7"/><circle cx="338.9" cy="294.7"/><circle cx="338.9" cy="296.7"/><circle cx="339.2" cy="298.7"/><circle cx="339.0" cy="300.7"/><circle cx="339.0" cy="302.8"/><circle cx="338.9" cy="304.8"/><circle cx="339.0" cy="306.8"/><circle cx="339.1" cy="308.8"/><circle cx="339.1" cy="310.8"/><circle cx="339.1" cy="312.8"/><circle cx="338.9" cy="314.8"/><circle cx="339.1" cy="316.8"/><circle cx="339.1" cy="318.8"/><circle cx="339.2" cy="320.8"/><circle cx="338.8" cy="322.8"/><circle cx="339.2" cy="324.8"/><circle cx="339.2" cy="326.8"/><circle cx="339.1" cy="328.9"/><circle cx="338.8" cy="330.9"/><circle cx="338.9" cy="332.9"/><circle cx="339.2" cy="334.9"/><circle cx="338.9" cy="336.9"/><circle cx="339.1" cy="338.9"/><circle cx="338.8" cy="340.9"/><circle cx="338.9" cy="342.9"/><circle cx="339.1" cy="344.9"/><circle cx="338.9" cy="346.9"/><circle cx="338.9" cy="348.9"/><circle cx="339.1" cy="350.9"/><circle cx="339.2" cy="352.9"/><circle cx="339.0" cy="354.9"/><circle cx="338.5" cy="288.7"/><circle cx="338.8" cy="291.5"/><circle cx="338.7" cy="294.7"/><circle cx="338.9" cy="298.1"/><circle cx="339.1" cy="300.8"/><circle cx="339.0" cy="303.8"/><circle cx="339.1" cy="307.4"/><circle cx="338.8" cy="309.5"/><circle cx="338.9" cy="312.3"/><circle cx="339.2" cy="315.9"/><circle cx="339.5" cy="319.3"/><circle cx="338.9" cy="321.5"/><circle cx="338.9" cy="324.4"/><circle cx="338.6" cy="328.1"/><circle cx="339.1" cy="330.7"/><circle cx="339.3" cy="333.8"/><circle cx="339.2" cy="337.1"/><circle cx="338.6" cy="340.2"/><circle cx="339.3" cy="342.9"/><circle cx="339.3" cy="345.6"/><circle cx="339.4" cy="349.5"/><circle cx="338.5" cy="351.8"/><circle cx="338.6" cy="354.9"/></g>
<g fill="#4b0082"><circle cx="343.3" cy="198.8"/><circle cx="343.6" cy="199.6"/><circle cx="343.8" cy="200.4"/><circle cx="343.7" cy="201.2"/><circle cx="343.6" cy="203.2"/><circle cx="343.3" cy="205.3"/><circle cx="343.4" cy="207.3"/><circle cx="343.5" cy="209.4"/><circle cx="343.6" cy="211.4"/><circle cx="343.6" cy="213.5"/><circle cx="343.4" cy="215.5"/><circle cx="343.3" cy="217.5"/><circle cx="343.4" cy="219.6"/><circle cx="343.6" cy="221.6"/><circle cx="343.5" cy="223.7"/><circle cx="343.3" cy="225.7"/><circle cx="343.6" cy="227.8"/><circle cx="343.5" cy="229.8"/><circle cx="343.4" cy="231.9"/><circle cx="343.4" cy="233.9"/><circle cx="343.6" cy="235.9"/><circle cx="343.4" cy="238.0"/><circle cx="343.4" cy="240.0"/><circle cx="343.6" cy="242.1"/><circle cx="343.4" cy="244.1"/><circle cx="343.4" cy="246.2"/><circle cx="343.3" cy="248.2"/><circle cx="343.7" cy="201.2"/><circle cx="343.9" cy="203.8"/><circle cx="343.1" cy="207.4"/><circle cx="343.1" cy="209.8"/><circle cx="344.0" cy="212.6"/><circle cx="343.6" cy="216.2"/><circle cx="343.7" cy="218.7"/><circle cx="343.4" cy="221.9"/><circle cx="343.7" cy="224.3"/><circle cx="343.8" cy="227.1"/><circle cx="343.4" cy="230.9"/><circle cx="343.6" cy="233.7"/><circle cx="343.2" cy="236.2"/><circle cx="343.5" cy="239.7"/><circle cx="343.5" cy="242.3"/><circle cx="343.8" cy="244.9"/><circle cx="343.2" cy="248.2"/></g>
<g fill="#e6e6fa"><circle cx="348.7" cy="233.2"/><circle cx="348.3" cy="234.0"/><circle cx="348.7" cy="234.8"/><circle cx="348.4" cy="235.6"/><circle cx="348.4" cy="237.6"/><circle cx="348.3" cy="239.7"/><circle cx="348.6" cy="241.7"/><circle cx="348.5" cy="243.7"/><circle cx="348.6" cy="245.7"/><circle cx="348.6" cy="247.8"/><circle cx="348.6" cy="249.8"/><circle cx="348.6" cy="251.8"/><circle cx="348.7" cy="253.8"/><circle cx="348.7" cy="255.9"/><circle cx="348.4" cy="257.9"/><circle cx="348.3" cy="259.9"/><circle cx="348.4" cy="261.9"/><circle cx="348.3" cy="264.0"/><circle cx="348.7" cy="266.0"/><circle cx="348.3" cy="268.0"/><circle cx="348.7" cy="270.0"/><circle cx="348.5" cy="272.1"/><circle cx="348.4" cy="274.1"/><circle cx="348.5" cy="276.1"/><circle cx="348.5" cy="278.1"/><circle cx="348.5" cy="280.2"/><circle cx="348.4" cy="282.2"/><circle cx="348.9" cy="235.6"/><circle cx="348.9" cy="238.9"/><circle cx="348.3" cy="241.5"/><circle cx="348.2" cy="244.2"/><circle cx="348.7" cy="246.7"/><circle cx="348.7" cy="250.1"/><circle cx="348.3" cy="252.8"/><circle cx="348.9" cy="256.5"/><circle cx="348.8" cy="259.1"/><circle cx="348.8" cy="261.6"/><circle cx="348.8" cy="264.2"/><circle cx="349.0" cy="267.3"/><circle cx="348.1" cy="270.4"/><circle cx="348.1" cy="273.1"/><circle cx="348.1" cy="276.4"/><circle cx="348.1" cy="278.8"/><circle cx="348.2" cy="282.2"/></g>
<g fill="#ffb6c1"><circle cx="367.6" cy="336.8"/><circle cx="367.2" cy="337.6"/><circle cx="367.7" cy="338.4"/><circle cx="367.5" cy="339.2"/><circle cx="367.7" cy="341.3"/><circle cx="367.3" cy="343.3"/><circle cx="367.7" cy="345.4"/><circle cx="367.6" cy="347.4"/><circle cx="367.6" cy="349.5"/><circle cx="367.7" cy="351.6"/><circle cx="367.6" cy="353.6"/><circle cx="367.6" cy="355.7"/><circle cx="367.3" cy="357.8"/><circle cx="367.4" cy="359.8"/><circle cx="367.3" cy="361.9"/><circle cx="367.6" cy="363.9"/><circle cx="367.5" cy="366.0"/><circle cx="367.5" cy="368.1"/><circle cx="367.5" cy="370.1"/><circle cx="367.6" cy="372.2"/><circle cx="367.5" cy="374.3"/><circle cx="367.5" cy="376.3"/><circle cx="367.6" cy="378.4"/><circle cx="367.4" cy="380.4"/><circle cx="367.6" cy="382.5"/><circle cx="367.7" cy="384.6"/><circle cx="367.6" cy="386.6"/><circle cx="367.6" cy="388.7"/><circle cx="367.5" cy="339.2"/><circle cx="367.9" cy="342.6"/><circle cx="367.7" cy="345.8"/><circle cx="368.0" cy="348.0"/><circle cx="367.8" cy="351.6"/><circle cx="367.4" cy="355.0"/><circle cx="367.7" cy="357.8"/><circle cx="367.7" cy="360.3"/><circle cx="367.2" cy="364.1"/><circle cx="367.0" cy="366.7"/><circle cx="367.1" cy="370.6"/><circle cx="367.0" cy="373.8"/><circle cx="367.1" cy="376.2"/><circle cx="367.5" cy="379.5"/><circle cx="367.0" cy="382.3"/><circle cx="367.6" cy="385.1"/><circle cx="367.7" cy="388.7"/></g>
<g fill="#20b2aa"><circle cx="373.2" cy="253.8"/><circle cx="373.0" cy="254.6"/><circle cx="373.2" cy="255.4"/><circle cx="373.0" cy="256.2"/><circle cx="373.1" cy="258.2"/><circle cx="372.9" cy="260.2"/><circle cx="373.0" cy="262.2"/><circle cx="372.9" cy="264.2"/><circle cx="373.0" cy="266.2"/><circle cx="373.1" cy="268.2"/><circle cx="372.9" cy="270.2"/><circle cx="373.2" cy="272.2"/><circle cx="373.1" cy="274.2"/><circle cx="372.9" cy="276.2"/><circle cx="372.9" cy="278.2"/><circle cx="373.1" cy="280.2"/><circle cx="372.9" cy="282.2"/><circle cx="372.9" cy="284.2"/><circle cx="372.8" cy="286.2"/><circle cx="373.0" cy="288.2"/><circle cx="373.2" cy="290.2"/><circle cx="373.1" cy="292.2"/><circle cx="373.0" cy="294.2"/><circle cx="373.1" cy="296.2"/><circle cx="372.9" cy="298.2"/><circle cx="373.1" cy="300.2"/><circle cx="373.0" cy="302.2"/><circle cx="372.9" cy="304.2"/><circle cx="373.2" cy="306.2"/><circle cx="372.8" cy="256.2"/><circle cx="373.4" cy="258.9"/><circle cx="373.2" cy="262.6"/><circle cx="373.0" cy="265.5"/><circle cx="372.6" cy="268.4"/><circle cx="372.9" cy="271.3"/><circle cx="372.6" cy="274.4"/><circle cx="373.0" cy="277.3"/><circle cx="373.3" cy="279.5"/><circle cx="373.2" cy="282.9"/><circle cx="372.5" cy="286.2"/><circle cx="372.6" cy="289.1"/><circle cx="372.5" cy="291.2"/><circle cx="373.5" cy="295.0"/><circle cx="373.4" cy="297.1"/><circle cx="372.7" cy="300.3"/><circle cx="372.8" cy="303.7"/><circle cx="373.2" cy="306.2"/></g>
<g fill="#778899"><circle cx="376.8" cy="333.8"/><circle cx="376.6" cy="334.6"/><circle cx="376.9" cy="335.4"/><circle cx="377.0" cy="336.2"/><circle cx="376.8" cy="338.3"/><circle cx="376.9" cy="340.3"/><circle cx="377.0" cy="342.4"/><circle cx="377.0" cy="344.4"/><circle cx="376.8" cy="346.5"/><circle cx="376.8" cy="348.6"/><circle cx="377.1" cy="350.6"/><circle cx="376.8" cy="352.7"/><circle cx="377.0" cy="354.7"/><circle cx="377.0" cy="356.8"/><circle cx="376.9" cy="358.9"/><circle cx="377.0" cy="360.9"/><circle cx="376.9" cy="363.0"/><circle cx="376.9" cy="365.0"/><circle cx="376.9" cy="367.1"/><circle cx="377.0" cy="369.1"/><circle cx="376.7" cy="371.2"/><circle cx="377.0" cy="373.3"/><circle cx="376.9" cy="375.3"/><circle cx="376.9" cy="377.4"/><circle cx="376.9" cy="379.4"/><circle cx="376.7" cy="381.5"/><circle cx="377.1" cy="383.6"/><circle cx="376.9" cy="385.6"/><circle cx="376.9" cy="387.7"/><circle cx="376.9" cy="389.7"/><circle cx="376.7" cy="391.8"/><circle cx="377.3" cy="336.2"/><circle cx="376.7" cy="339.1"/><circle cx="377.2" cy="342.6"/><circle cx="377.0" cy="344.5"/><circle cx="377.1" cy="348.1"/><circle cx="376.9" cy="350.6"/><circle cx="377.1" cy="354.0"/><circle cx="377.0" cy="356.2"/><circle cx="376.9" cy="359.1"/><circle cx="376.4" cy="363.1"/><circle cx="376.5" cy="365.7"/><circle cx="376.9" cy="368.4"/><circle cx="376.8" cy="371.0"/><circle cx="376.5" cy="373.8"/><circle cx="377.0" cy="377.6"/><circle cx="377.3" cy="380.1"/><circle cx="377.1" cy="382.8"/><circle cx="377.1" cy="385.8"/><circle cx="377.3" cy="389.4"/><circle cx="376.6" cy="391.8"/></g>
<g fill="#b0c4de"><circle cx="381.3" cy="187.3"/><circle cx="381.3" cy="188.1"/><circle cx="381.4" cy="188.9"/><circle cx="381.4" cy="189.7"/><circle cx="381.6" cy="191.7"/><circle cx="381.6" cy="193.8"/><circle cx="381.5" cy="195.8"/><circle cx="381.4" cy="197.9"/><circle cx="381.6" cy="199.9"/><circle cx="381.3" cy="202.0"/><circle cx="381.5" cy="204.0"/><circle cx="381.3" cy="206.0"/><circle cx="381.7" cy="208.1"/><circle cx="381.6" cy="210.1"/><circle cx="381.3" cy="212.2"/><circle cx="381.6" cy="214.2"/><circle cx="381.4" cy="216.3"/><circle cx="381.6" cy="218.3"/><circle cx="381.4" cy="220.3"/><circle cx="381.7" cy="222.4"/><circle cx="381.4" cy="224.4"/><circle cx="381.4" cy="226.5"/><circle cx="381.5" cy="228.5"/><circle cx="381.6" cy="230.6"/><circle cx="381.7" cy="232.6"/><circle cx="381.6" cy="234.6"/><circle cx="381.6" cy="236.7"/><circle cx="381.4" cy="238.7"/><circle cx="381.6" cy="240.8"/><circle cx="381.4" cy="242.8"/><circle cx="381.5" cy="244.9"/><circle cx="381.4" cy="246.9"/><circle cx="381.4" cy="248.9"/><circle cx="381.7" cy="251.0"/><circle cx="381.4" cy="253.0"/><circle cx="381.3" cy="255.1"/><circle cx="381.3" cy="257.1"/><circle cx="381.4" cy="259.2"/><circle cx="381.7" cy="261.2"/><circle cx="381.4" cy="189.7"/><circle cx="381.2" cy="193.2"/><circle cx="381.6" cy="195.8"/><circle cx="381.7" cy="198.6"/><circle cx="381.8" cy="202.0"/><circle cx="381.1" cy="205.1"/><circle cx="381.6" cy="207.5"/><circle cx="381.4" cy="210.1"/><circle cx="381.6" cy="213.9"/><circle cx="381.0" cy="216.7"/><circle cx="382.0" cy="219.5"/><circle cx="381.3" cy="222.2"/><circle cx="381.4" cy="225.2"/><circle cx="381.6" cy="227.8"/><circle cx="381.6" cy="231.8"/><circle cx="381.4" cy="234.6"/><circle cx="382.0" cy="236.8"/><circle cx="381.3" cy="240.9"/><circle cx="381.2" cy="243.9"/><circle cx="381.5" cy="245.7"/><circle cx="381.3" cy="249.8"/><circle cx="381.3" cy="252.8"/><circle cx="381.5" cy="254.8"/><circle cx="381.4" cy="258.8"/><circle cx="381.4" cy="261.2"/></g>
<g fill="#0000ff"><circle cx="392.2" cy="333.8"/><circle cx="392.2" cy="334.6"/><circle cx="392.3" cy="335.4"/><circle cx="392.4" cy="336.2"/><circle cx="392.3" cy="338.2"/><circle cx="392.4" cy="340.3"/><circle cx="392.3" cy="342.3"/><circle cx="392.4" cy="344.4"/><circle cx="392.3" cy="346.4"/><circle cx="392.4" cy="348.5"/><circle cx="392.4" cy="350.5"/><circle cx="392.3" cy="352.6"/><circle cx="392.1" cy="354.6"/><circle cx="392.2" cy="356.7"/><circle cx="392.2" cy="358.7"/><circle cx="392.3" cy="360.7"/><circle cx="392.4" cy="362.8"/><circle cx="392.2" cy="364.8"/><circle cx="392.3" cy="366.9"/><circle cx="392.1" cy="368.9"/><circle cx="392.3" cy="371.0"/><circle cx="392.2" cy="373.0"/><circle cx="392.2" cy="375.1"/><circle cx="392.1" cy="377.1"/><circle cx="392.3" cy="379.2"/><circle cx="392.5" cy="381.2"/><circle cx="391.9" cy="336.2"/><circle cx="392.4" cy="339.6"/><circle cx="392.6" cy="342.0"/><circle cx="392.2" cy="344.9"/><circle cx="391.9" cy="348.7"/><circle cx="392.3" cy="351.4"/><circle cx="392.5" cy="354.5"/><circle cx="391.8" cy="357.2"/><circle cx="392.5" cy="360.4"/><circle cx="392.2" cy="363.4"/><circle cx="391.9" cy="365.9"/><circle cx="391.9" cy="368.7"/><circle cx="392.0" cy="371.7"/><circle cx="392.0" cy="375.1"/><circle cx="392.3" cy="377.9"/><circle cx="392.4" cy="381.2"/></g>
<g fill="#9370db"><circle cx="395.7" cy="249.2"/><circle cx="395.6" cy="250.0"/><circle cx="395.8" cy="250.8"/><circle cx="395.9" cy="251.6"/><circle cx="395.6" cy="253.6"/><circle cx="395.9" cy="255.6"/><circle cx="395.9" cy="257.6"/><circle cx="395.8" cy="259.7"/><circle cx="395.9" cy="261.7"/><circle cx="395.6" cy="263.7"/><circle cx="395.5" cy="265.7"/><circle cx="395.7" cy="267.7"/><circle cx="395.6" cy="269.7"/><circle cx="395.8" cy="271.8"/><circle cx="395.6" cy="273.8"/><circle cx="395.6" cy="275.8"/><circle cx="395.8" cy="277.8"/><circle cx="395.9" cy="279.8"/><circle cx="395.9" cy="281.8"/><circle cx="395.9" cy="283.9"/><circle cx="395.7" cy="285.9"/><circle cx="395.7" cy="287.9"/><circle cx="395.7" cy="289.9"/><circle cx="395.6" cy="291.9"/><circle cx="395.8" cy="293.9"/><circle cx="395.8" cy="296.0"/><circle cx="395.6" cy="298.0"/><circle cx="395.7" cy="300.0"/><circle cx="395.6" cy="302.0"/><circle cx="395.6" cy="304.0"/><circle cx="395.9" cy="306.0"/><circle cx="395.6" cy="308.1"/><circle cx="395.9" cy="310.1"/><circle cx="395.7" cy="312.1"/><circle cx="395.7" cy="314.1"/><circle cx="395.8" cy="316.1"/><circle cx="395.8" cy="318.1"/><circle cx="395.8" cy="320.2"/><circle cx="395.9" cy="322.2"/><circle cx="395.5" cy="324.2"/><circle cx="395.8" cy="326.2"/><circle cx="396.0" cy="251.6"/><circle cx="395.3" cy="254.1"/><circle cx="395.4" cy="257.9"/><circle cx="395.5" cy="260.0"/><circle cx="395.4" cy="264.1"/><circle cx="396.0" cy="267.0"/><circle cx="395.4" cy="269.2"/><circle cx="395.4" cy="272.4"/><circle cx="396.0" cy="275.3"/><circle cx="395.9" cy="278.3"/><circle cx="396.0" cy="281.1"/><circle cx="395.6" cy="284.2"/><circle cx="396.1" cy="286.9"/><circle cx="395.6" cy="290.3"/><circle cx="395.6" cy="293.8"/><circle cx="395.3" cy="296.6"/><circle cx="396.1" cy="299.9"/><circle cx="396.1" cy="302.3"/><circle cx="395.3" cy="305.7"/><circle cx="395.4" cy="308.6"/><circle cx="396.2" cy="310.7"/><circle cx="395.6" cy="313.7"/><circle cx="395.3" cy="317.0"/><circle cx="395.6" cy="320.3"/><circle cx="395.7" cy="323.6"/><circle cx="395.6" cy="326.2"/></g>
<g fill="#3cb371"><circle cx="401.9" cy="261.3"/><circle cx="402.1" cy="262.1"/><circle cx="402.2" cy="262.9"/><circle cx="401.8" cy="263.7"/><circle cx="402.1" cy="265.7"/><circle cx="402.1" cy="267.7"/><circle cx="401.9" cy="269.8"/><circle cx="402.0" cy="271.8"/><circle cx="401.9" cy="273.8"/><circle cx="402.1" cy="275.8"/><circle cx="402.2" cy="277.8"/><circle cx="401.9" cy="279.9"/><circle cx="401.9" cy="281.9"/><circle cx="401.8" cy="283.9"/><circle cx="401.9" cy="285.9"/><circle cx="402.0" cy="287.9"/><circle cx="402.0" cy="289.9"/><circle cx="402.1" cy="292.0"/><circle cx="402.1" cy="294.0"/><circle cx="402.1" cy="296.0"/><circle cx="402.2" cy="298.0"/><circle cx="401.9" cy="300.0"/><circle cx="402.1" cy="302.1"/><circle cx="402.1" cy="304.1"/><circle cx="401.8" cy="306.1"/><circle cx="402.1" cy="308.1"/><circle cx="402.1" cy="310.1"/><circle cx="402.1" cy="312.2"/><circle cx="402.1" cy="314.2"/><circle cx="402.1" cy="316.2"/><circle cx="402.4" cy="263.7"/><circle cx="402.0" cy="266.0"/><circle cx="402.2" cy="269.6"/><circle cx="402.1" cy="272.3"/><circle cx="402.1" cy="275.1"/><circle cx="402.3" cy="278.3"/><circle cx="401.6" cy="281.7"/><circle cx="401.8" cy="283.9"/><circle cx="402.4" cy="286.6"/><circle cx="402.3" cy="290.5"/><circle cx="401.6" cy="292.9"/><circle cx="402.4" cy="296.0"/><circle cx="401.6" cy="298.3"/><circle cx="402.0" cy="301.6"/><circle cx="402.3" cy="304.3"/><circle cx="402.2" cy="307.8"/><circle cx="401.6" cy="310.0"/><circle cx="401.7" cy="313.4"/><circle cx="401.6" cy="316.2"/></g>
<g fill="#c71585"><circle cx="410.7" cy="283.8"/><circle cx="410.6" cy="284.6"/><circle cx="410.6" cy="285.4"/><circle cx="410.6" cy="286.2"/><circle cx="410.6" cy="288.2"/><circle cx="410.6" cy="290.2"/><circle cx="410.5" cy="292.2"/><circle cx="410.7" cy="294.2"/><circle cx="410.4" cy="296.3"/><circle cx="410.5" cy="298.3"/><circle cx="410.8" cy="300.3"/><circle cx="410.8" cy="302.3"/><circle cx="410.7" cy="304.3"/><circle cx="410.7" cy="306.3"/><circle cx="410.5" cy="308.3"/><circle cx="410.8" cy="310.3"/><circle cx="410.7" cy="312.4"/><circle cx="410.6" cy="314.4"/><circle cx="410.6" cy="316.4"/><circle cx="410.8" cy="318.4"/><circle cx="410.8" cy="320.4"/><circle cx="410.5" cy="322.4"/><circle cx="410.7" cy="324.4"/><circle cx="410.6" cy="326.4"/><circle cx="410.7" cy="328.5"/><circle cx="410.7" cy="330.5"/><circle cx="410.7" cy="332.5"/><circle cx="410.5" cy="334.5"/><circle cx="410.7" cy="336.5"/><circle cx="410.6" cy="338.5"/><circle cx="410.7" cy="340.5"/><circle cx="410.7" cy="342.5"/><circle cx="410.8" cy="344.6"/><circle cx="410.7" cy="346.6"/><circle cx="410.4" cy="348.6"/><circle cx="410.4" cy="350.6"/><circle cx="410.6" cy="352.6"/><circle cx="410.7" cy="354.6"/><circle cx="410.5" cy="356.6"/><circle cx="410.5" cy="358.6"/><circle cx="410.5" cy="360.7"/><circle cx="410.4" cy="362.7"/><circle cx="410.6" cy="364.7"/><circle cx="410.4" cy="366.7"/><circle cx="410.5" cy="368.7"/><circle cx="410.4" cy="286.2"/><circle cx="411.1" cy="288.7"/><circle cx="411.0" cy="291.7"/><circle cx="410.6" cy="294.6"/><circle cx="410.3" cy="297.8"/><circle cx="410.9" cy="300.6"/><circle cx="410.8" cy="303.9"/><circle cx="410.4" cy="306.5"/><circle cx="410.9" cy="309.9"/><circle cx="410.8" cy="312.2"/><circle cx="410.1" cy="315.1"/><circle cx="410.9" cy="318.3"/><circle cx="410.5" cy="321.6"/><circle cx="410.1" cy="324.8"/><circle cx="410.5" cy="328.0"/><circle cx="411.1" cy="329.9"/><circle cx="410.9" cy="333.6"/><circle cx="410.3" cy="336.0"/><circle cx="411.0" cy="339.3"/><circle cx="410.9" cy="342.0"/><circle cx="411.0" cy="345.3"/><circle cx="410.6" cy="348.5"/><circle cx="410.8" cy="350.8"/><circle cx="410.6" cy="353.5"/><circle cx="410.7" cy="357.3"/><circle cx="410.8" cy="359.8"/><circle cx="410.5" cy="362.4"/><circle cx="410.5" cy="365.2"/><circle cx="410.9" cy="368.7"/></g>
<g fill="#f4a460"><circle cx="417.2" cy="323.8"/><circle cx="417.3" cy="324.6"/><circle cx="417.3" cy="325.4"/><circle cx="417.0" cy="326.2"/><circle cx="417.1" cy="328.2"/><circle cx="417.2" cy="330.2"/><circle cx="417.1" cy="332.3"/><circle cx="417.2" cy="334.3"/><circle cx="417.0" cy="336.3"/><circle cx="417.0" cy="338.3"/><circle cx="417.1" cy="340.4"/><circle cx="417.0" cy="342.4"/><circle cx="417.0" cy="344.4"/><circle cx="417.2" cy="346.4"/><circle cx="417.1" cy="348.5"/><circle cx="416.9" cy="350.5"/><circle cx="417.1" cy="352.5"/><circle cx="417.2" cy="354.5"/><circle cx="417.0" cy="356.5"/><circle cx="417.0" cy="358.6"/><circle cx="417.0" cy="360.6"/><circle cx="417.1" cy="362.6"/><circle cx="417.0" cy="364.6"/><circle cx="417.1" cy="366.7"/><circle cx="416.9" cy="368.7"/><circle cx="417.0" cy="370.7"/><circle cx="416.9" cy="372.7"/><circle cx="417.2" cy="374.8"/><circle cx="417.0" cy="376.8"/><circle cx="417.1" cy="378.8"/><circle cx="416.8" cy="380.8"/><circle cx="416.8" cy="382.9"/><circle cx="417.0" cy="384.9"/><circle cx="417.0" cy="386.9"/><circle cx="416.8" cy="388.9"/><circle cx="416.8" cy="390.9"/><circle cx="417.1" cy="393.0"/><circle cx="416.9" cy="395.0"/><circle cx="417.0" cy="397.0"/><circle cx="417.0" cy="399.0"/><circle cx="417.0" cy="401.1"/><circle cx="416.9" cy="403.1"/><circle cx="416.9" cy="405.1"/><circle cx="417.0" cy="407.1"/><circle cx="416.9" cy="409.2"/><circle cx="417.1" cy="411.2"/><circle cx="416.8" cy="413.2"/><circle cx="416.7" cy="326.2"/><circle cx="417.2" cy="329.6"/><circle cx="417.0" cy="332.4"/><circle cx="417.3" cy="334.9"/><circle cx="417.1" cy="338.0"/><circle cx="416.6" cy="341.3"/><circle cx="416.9" cy="343.7"/><circle cx="416.8" cy="346.8"/><circle cx="417.0" cy="350.7"/><circle cx="416.7" cy="353.5"/><circle cx="416.6" cy="356.0"/><circle cx="416.8" cy="358.7"/><circle cx="416.5" cy="361.7"/><circle cx="416.9" cy="365.0"/><circle cx="416.6" cy="368.6"/><circle cx="416.7" cy="371.3"/><circle cx="417.4" cy="374.7"/><circle cx="417.3" cy="376.8"/><circle cx="416.9" cy="379.7"/><circle cx="417.1" cy="383.7"/><circle cx="417.5" cy="385.8"/><circle cx="417.1" cy="389.4"/><circle cx="417.5" cy="392.4"/><circle cx="417.0" cy="394.8"/><circle cx="417.1" cy="398.2"/><circle cx="417.4" cy="401.8"/><circle cx="417.5" cy="404.1"/><circle cx="417.1" cy="406.6"/><circle cx="416.8" cy="410.5"/><circle cx="416.8" cy="413.2"/></g>
<g fill="#dc143c"><circle cx="418.4" cy="197.8"/><circle cx="418.6" cy="198.6"/><circle cx="418.3" cy="199.4"/><circle cx="418.6" cy="200.2"/><circle cx="418.7" cy="202.2"/><circle cx="418.3" cy="204.3"/><circle cx="418.3" cy="206.3"/><circle cx="418.7" cy="208.3"/><circle cx="418.5" cy="210.4"/><circle cx="418.5" cy="212.4"/><circle cx="418.6" cy="214.5"/><circle cx="418.5" cy="216.5"/><circle cx="418.4" cy="218.5"/><circle cx="418.6" cy="220.6"/><circle cx="418.7" cy="222.6"/><circle cx="418.4" cy="224.6"/><circle cx="418.7" cy="226.7"/><circle cx="418.5" cy="228.7"/><circle cx="418.5" cy="230.8"/><circle cx="418.3" cy="232.8"/><circle cx="418.7" cy="234.8"/><circle cx="418.3" cy="236.9"/><circle cx="418.5" cy="238.9"/><circle cx="418.5" cy="240.9"/><circle cx="418.3" cy="243.0"/><circle cx="418.5" cy="245.0"/><circle cx="418.4" cy="247.1"/><circle cx="418.5" cy="249.1"/><circle cx="418.4" cy="251.1"/><circle cx="418.4" cy="253.2"/><circle cx="418.3" cy="255.2"/><circle cx="418.2" cy="200.2"/><circle cx="418.8" cy="203.3"/><circle cx="418.9" cy="206.5"/><circle cx="418.2" cy="209.4"/><circle cx="418.1" cy="211.8"/><circle cx="418.2" cy="215.9"/><circle cx="418.9" cy="218.0"/><circle cx="418.6" cy="221.8"/><circle cx="418.4" cy="224.5"/><circle cx="418.4" cy="227.5"/><circle cx="418.8" cy="231.1"/><circle cx="418.3" cy="234.0"/><circle cx="418.2" cy="236.8"/><circle cx="418.3" cy="239.4"/><circle cx="418.9" cy="243.4"/><circle cx="418.9" cy="246.6"/><circle cx="418.2" cy="249.6"/><circle cx="418.3" cy="252.2"/><circle cx="418.1" cy="255.2"/></g>
<g fill="#9932cc"><circle cx="444.2" cy="263.2"/><circle cx="444.7" cy="264.0"/><circle cx="444.5" cy="264.8"/><circle cx="444.5" cy="265.6"/><circle cx="444.4" cy="267.6"/><circle cx="444.5" cy="269.7"/><circle cx="444.6" cy="271.7"/><circle cx="444.6" cy="273.7"/><circle cx="444.3" cy="275.8"/><circle cx="444.5" cy="277.8"/><circle cx="444.6" cy="279.8"/><circle cx="444.7" cy="281.8"/><circle cx="444.5" cy="283.9"/><circle cx="444.5" cy="285.9"/><circle cx="444.3" cy="287.9"/><circle cx="444.4" cy="290.0"/><circle cx="444.6" cy="292.0"/><circle cx="444.5" cy="294.0"/><circle cx="444.7" cy="296.0"/><circle cx="444.7" cy="298.1"/><circle cx="444.5" cy="300.1"/><circle cx="444.4" cy="302.1"/><circle cx="444.5" cy="304.2"/><circle cx="444.7" cy="306.2"/><circle cx="444.3" cy="265.6"/><circle cx="444.4" cy="268.4"/><circle cx="444.7" cy="271.5"/><circle cx="444.1" cy="274.6"/><circle cx="444.2" cy="276.6"/><circle cx="444.0" cy="280.4"/><circle cx="444.5" cy="282.6"/><circle cx="444.4" cy="285.5"/><circle cx="444.7" cy="289.1"/><circle cx="444.6" cy="291.5"/><circle cx="444.0" cy="294.8"/><circle cx="444.4" cy="297.6"/><circle cx="444.0" cy="300.0"/><circle cx="444.7" cy="303.2"/><circle cx="444.6" cy="306.2"/></g>
<g fill="#a020f0"><circle cx="459.0" cy="337.8"/><circle cx="459.0" cy="338.6"/><circle cx="459.2" cy="339.4"/><circle cx="459.0" cy="340.2"/><circle cx="459.2" cy="342.3"/><circle cx="459.1" cy="344.4"/><circle cx="459.1" cy="346.5"/><circle cx="459.1" cy="348.6"/><circle cx="458.9" cy="350.7"/><circle cx="458.8" cy="352.8"/><circle cx="458.9" cy="354.9"/><circle cx="459.2" cy="356.9"/><circle cx="459.0" cy="359.0"/><circle cx="458.9" cy="361.1"/><circle cx="458.8" cy="363.2"/><circle cx="458.8" cy="365.3"/><circle cx="458.8" cy="367.4"/><circle cx="458.9" cy="369.5"/><circle cx="458.9" cy="371.6"/><circle cx="459.1" cy="373.7"/><circle cx="459.0" cy="340.2"/><circle cx="459.5" cy="343.6"/><circle cx="458.6" cy="345.8"/><circle cx="459.2" cy="349.0"/><circle cx="459.3" cy="351.9"/><circle cx="458.7" cy="355.0"/><circle cx="458.7" cy="358.2"/><circle cx="459.5" cy="361.8"/><circle cx="459.1" cy="365.2"/><circle cx="458.6" cy="367.1"/><circle cx="459.4" cy="370.3"/><circle cx="459.0" cy="373.7"/></g>
<g fill="#ffd700"><circle cx="484.2" cy="294.8"/><circle cx="484.3" cy="295.6"/><circle cx="483.9" cy="296.4"/><circle cx="484.0" cy="297.2"/><circle cx="484.0" cy="299.2"/><circle cx="484.0" cy="301.3"/><circle cx="483.8" cy="303.3"/><circle cx="484.2" cy="305.3"/><circle cx="484.1" cy="307.4"/><circle cx="484.1" cy="309.4"/><circle cx="483.9" cy="311.4"/><circle cx="483.9" cy="313.4"/><circle cx="484.2" cy="315.5"/><circle cx="484.0" cy="317.5"/><circle cx="483.9" cy="319.5"/><circle cx="484.2" cy="321.6"/><circle cx="484.2" cy="323.6"/><circle cx="483.9" cy="325.6"/><circle cx="483.8" cy="327.7"/><circle cx="484.0" cy="329.7"/><circle cx="483.9" cy="331.7"/><circle cx="484.1" cy="333.8"/><circle cx="483.9" cy="335.8"/><circle cx="483.8" cy="337.8"/><circle cx="484.1" cy="339.9"/><circle cx="484.0" cy="341.9"/><circle cx="484.0" cy="343.9"/><circle cx="484.2" cy="345.9"/><circle cx="484.1" cy="348.0"/><circle cx="483.9" cy="350.0"/><circle cx="483.8" cy="352.0"/><circle cx="483.9" cy="354.1"/><circle cx="484.2" cy="356.1"/><circle cx="483.8" cy="358.1"/><circle cx="483.8" cy="360.2"/><circle cx="484.1" cy="362.2"/><circle cx="484.1" cy="297.2"/><circle cx="483.8" cy="300.2"/><circle cx="484.0" cy="302.7"/><circle cx="484.5" cy="306.6"/><circle cx="484.1" cy="308.5"/><circle cx="483.8" cy="312.4"/><circle cx="483.5" cy="315.3"/><circle cx="484.2" cy="318.4"/><circle cx="483.5" cy="320.9"/><circle cx="483.8" cy="324.0"/><circle cx="483.6" cy="327.3"/><circle cx="483.5" cy="329.3"/><circle cx="484.5" cy="332.7"/><circle cx="484.0" cy="336.0"/><circle cx="484.1" cy="339.1"/><circle cx="483.7" cy="341.9"/><circle cx="484.3" cy="344.6"/><circle cx="483.5" cy="347.3"/><circle cx="483.9" cy="349.9"/><circle cx="484.3" cy="352.9"/><circle cx="484.2" cy="356.2"/><circle cx="483.9" cy="359.1"/><circle cx="483.6" cy="362.2"/></g>
<g fill="#8000c0"><circle cx="575.0" cy="365.8"/><circle cx="574.7" cy="366.6"/><circle cx="574.8" cy="367.4"/><circle cx="575.1" cy="368.2"/><circle cx="574.8" cy="370.2"/><circle cx="575.2" cy="372.2"/><circle cx="575.1" cy="374.2"/><circle cx="575.0" cy="376.2"/><circle cx="575.1" cy="378.2"/><circle cx="575.4" cy="368.2"/><circle cx="575.4" cy="371.0"/><circle cx="575.3" cy="374.4"/><circle cx="575.5" cy="378.2"/></g>
<g fill="#00c000"><circle cx="611.4" cy="383.8"/><circle cx="611.6" cy="386.0"/><circle cx="611.5" cy="388.2"/><circle cx="611.8" cy="383.8"/><circle cx="611.2" cy="388.2"/></g>
<g fill="#a00000"><circle cx="619.1" cy="360.8"/><circle cx="619.0" cy="361.6"/><circle cx="619.2" cy="362.4"/><circle cx="618.8" cy="363.2"/><circle cx="619.1" cy="365.2"/><circle cx="619.2" cy="367.2"/><circle cx="619.1" cy="369.2"/><circle cx="619.1" cy="371.2"/><circle cx="619.1" cy="373.2"/><circle cx="619.2" cy="375.2"/><circle cx="619.0" cy="377.2"/><circle cx="618.9" cy="379.2"/><circle cx="618.9" cy="381.2"/><circle cx="619.1" cy="383.2"/><circle cx="619.0" cy="385.2"/><circle cx="619.2" cy="387.2"/><circle cx="618.9" cy="389.2"/><circle cx="618.8" cy="391.2"/><circle cx="618.9" cy="393.2"/><circle cx="619.1" cy="395.2"/><circle cx="618.9" cy="397.2"/><circle cx="619.1" cy="399.2"/><circle cx="619.1" cy="401.2"/><circle cx="619.1" cy="403.2"/><circle cx="618.8" cy="405.2"/><circle cx="619.0" cy="407.2"/><circle cx="619.0" cy="409.2"/><circle cx="618.9" cy="411.2"/><circle cx="618.9" cy="363.2"/><circle cx="619.1" cy="367.2"/><circle cx="619.2" cy="369.6"/><circle cx="618.7" cy="374.0"/><circle cx="618.6" cy="377.2"/><circle cx="618.7" cy="380.5"/><circle cx="619.3" cy="383.8"/><circle cx="619.5" cy="387.6"/><circle cx="618.9" cy="391.0"/><circle cx="619.4" cy="393.9"/><circle cx="619.3" cy="397.2"/><circle cx="619.3" cy="400.4"/><circle cx="618.8" cy="404.8"/><circle cx="619.3" cy="407.7"/><circle cx="619.3" cy="411.2"/></g>
<g fill="#8b4513"><circle cx="630.5" cy="314.3"/></g>
<g fill="#00e5ee"><circle cx="632.1" cy="339.8"/><circle cx="632.1" cy="341.9"/><circle cx="632.2" cy="344.1"/><circle cx="631.9" cy="346.2"/><circle cx="631.7" cy="339.8"/><circle cx="631.8" cy="343.0"/><circle cx="631.6" cy="346.2"/></g>
</g>
</svg>
<g stroke="#000" stroke-width="0.9">
<line x1="166.5" y1="540" x2="166.5" y2="534"/><line x1="166.5" y1="61" x2="166.5" y2="66.5"/><line x1="260.5" y1="540" x2="260.5" y2="534"/><line x1="260.5" y1="61" x2="260.5" y2="66.5"/><line x1="354.5" y1="540" x2="354.5" y2="534"/><line x1="354.5" y1="61" x2="354.5" y2="66.5"/><line x1="449.5" y1="540" x2="449.5" y2="534"/><line x1="449.5" y1="61" x2="449.5" y2="66.5"/><line x1="543.5" y1="540" x2="543.5" y2="534"/><line x1="543.5" y1="61" x2="543.5" y2="66.5"/><line x1="637.5" y1="540" x2="637.5" y2="534"/><line x1="637.5" y1="61" x2="637.5" y2="66.5"/><line x1="101" y1="518.5" x2="106.5" y2="518.5"/><line x1="720" y1="518.5" x2="714" y2="518.5"/><line x1="101" y1="378.5" x2="106.5" y2="378.5"/><line x1="720" y1="378.5" x2="714" y2="378.5"/><line x1="101" y1="237.5" x2="106.5" y2="237.5"/><line x1="720" y1="237.5" x2="714" y2="237.5"/><line x1="101" y1="97.5" x2="106.5" y2="97.5"/><line x1="720" y1="97.5" x2="714" y2="97.5"/>
</g>
<rect x="100.5" y="60.5" width="620" height="480" fill="none" stroke="#000" stroke-width="1.4"/>
<g font-size="11.11px">
<text x="166.40" y="555" text-anchor="middle">20000</text><text x="260.62" y="555" text-anchor="middle">25000</text><text x="354.84" y="555" text-anchor="middle">30000</text><text x="449.06" y="555" text-anchor="middle">35000</text><text x="543.28" y="555" text-anchor="middle">40000</text><text x="637.50" y="555" text-anchor="middle">45000</text><text x="92.9" y="521.50" text-anchor="end">0</text><text x="92.9" y="381.15" text-anchor="end">5</text><text x="92.9" y="240.80" text-anchor="end">10</text><text x="92.9" y="100.45" text-anchor="end">15</text>
</g>
<text x="410" y="53" font-size="13.89px" text-anchor="middle" xml:space="preserve" style="white-space:pre">B table: BPcal.b      Antenna='ea22'</text>
<text x="410" y="573.7" font-size="12.5px" text-anchor="middle">Frequency (MHz)</text>
<text transform="translate(68,300) rotate(-90)" font-size="12.5px" text-anchor="middle">Gain Amplitude</text>
</svg>
</body></html>
